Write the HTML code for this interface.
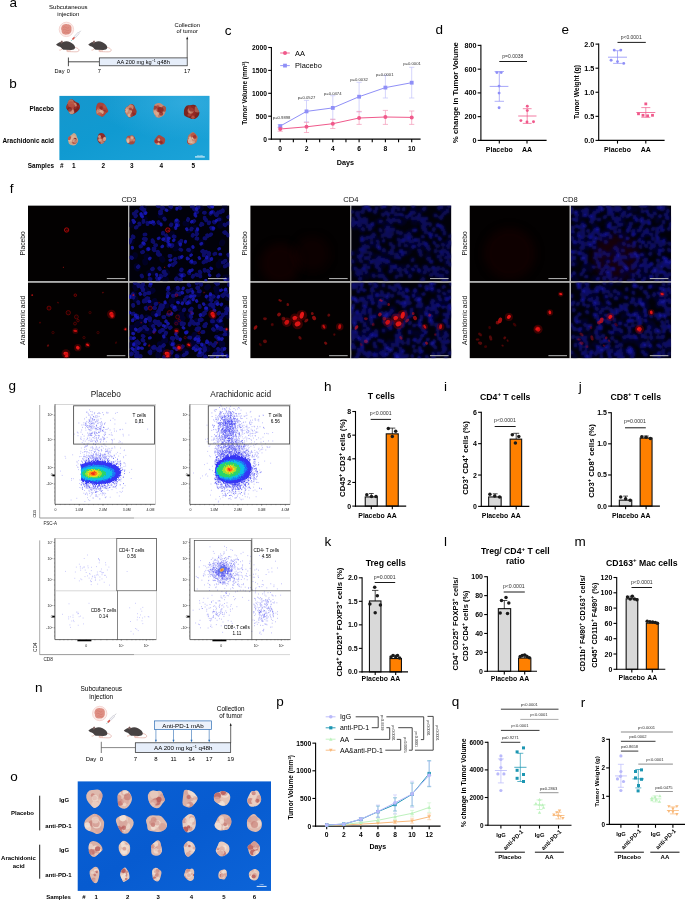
<!DOCTYPE html>
<html><head><meta charset="utf-8"><title>Figure</title>
<style>html,body{margin:0;padding:0;background:#fff;}svg{display:block;}text{font-family:"Liberation Sans",Arial,sans-serif;}</style>
</head><body>
<svg width="685" height="901" viewBox="0 0 685 901">
<rect width="685" height="901" fill="#fff"/>
<text x="9.56" y="6.80" font-size="13.5" text-anchor="start" fill="#000" >a</text>
<text x="68.30" y="8.80" font-size="6" text-anchor="middle" fill="#000" >Subcutaneous</text>
<text x="68.30" y="16.00" font-size="6" text-anchor="middle" fill="#000" >injection</text>
<circle cx="66.40" cy="29.40" r="7.20" fill="#fff8f6" stroke="#e9aaa4" stroke-width="0.45" />
<circle cx="66.40" cy="29.40" r="6.30" fill="none" stroke="#f3cfca" stroke-width="0.35" />
<path d="M61.5 27 C62 24.5 65 23.6 67.5 24.3 C70.5 24.2 72 26.5 71.5 29 C72 32 70 34.6 67 34.5 C64 35.4 61.2 33.3 61.6 30.6 C61 29.4 61 28 61.5 27 Z" fill="#de8f84"/>
<path d="M63 27.5 q1.5 -1.5 3 0 q1.5 1.5 3 0 M63 30 q1.5 -1.5 3 0 q1.5 1.5 3.5 0 M64 32.5 q1.5 -1.2 3 0 q1.2 1 2.4 0" fill="none" stroke="#d07468" stroke-width="0.5"/>
<line x1="71.00" y1="41.00" x2="72.50" y2="39.40" stroke="#3aa7a0" stroke-width="0.5" />
<line x1="72.40" y1="39.50" x2="74.60" y2="37.20" stroke="#d9574f" stroke-width="1.6" />
<line x1="74.60" y1="37.20" x2="78.80" y2="32.80" stroke="#c9c9d2" stroke-width="2.2" />
<line x1="74.80" y1="37.00" x2="78.60" y2="33.00" stroke="#f4f4f8" stroke-width="1.2" />
<line x1="78.80" y1="32.80" x2="80.70" y2="30.80" stroke="#c4c4cc" stroke-width="0.9" />
<g transform="translate(56.10 44.20)">
<path d="M18 3.2 C21.5 3.4 23.6 5.2 22.6 6.8 C21.6 8.2 17 7.4 11 7.4" fill="none" stroke="#dc9b90" stroke-width="0.6"/>
<path d="M6 5 L4.2 5.9 L3.2 5.9 M12 5.6 L10.4 6.6 L14.6 6.6" fill="none" stroke="#e3a79b" stroke-width="0.7"/>
<path d="M0 0.3 C1.2 -0.9 3 -2 4.6 -2.3 C5.6 -2.5 6.4 -2.3 7.2 -2.1 C8.6 -3 11.6 -3.2 14.2 -2 C17.2 -0.6 19.2 1.4 19 3.6 C18.7 5.3 17 5.7 15 5.7 L8.4 5.6 C6.8 5.4 6 4.6 5.4 3.7 C4.6 3.2 3.8 2.7 3.2 2.4 C2 2 0.8 1.4 0 0.3 Z" fill="#474242"/>
<ellipse cx="5.6" cy="-2.3" rx="0.9" ry="1.2" fill="#5a5252" stroke="#d59088" stroke-width="0.3" transform="rotate(20 5.6 -2.3)"/>
</g>
<g transform="translate(88.30 44.20)">
<path d="M18 3.2 C21.5 3.4 23.6 5.2 22.6 6.8 C21.6 8.2 17 7.4 11 7.4" fill="none" stroke="#dc9b90" stroke-width="0.6"/>
<path d="M6 5 L4.2 5.9 L3.2 5.9 M12 5.6 L10.4 6.6 L14.6 6.6" fill="none" stroke="#e3a79b" stroke-width="0.7"/>
<path d="M0 0.3 C1.2 -0.9 3 -2 4.6 -2.3 C5.6 -2.5 6.4 -2.3 7.2 -2.1 C8.6 -3 11.6 -3.2 14.2 -2 C17.2 -0.6 19.2 1.4 19 3.6 C18.7 5.3 17 5.7 15 5.7 L8.4 5.6 C6.8 5.4 6 4.6 5.4 3.7 C4.6 3.2 3.8 2.7 3.2 2.4 C2 2 0.8 1.4 0 0.3 Z" fill="#474242"/>
<ellipse cx="5.6" cy="-2.3" rx="0.9" ry="1.2" fill="#5a5252" stroke="#d59088" stroke-width="0.3" transform="rotate(20 5.6 -2.3)"/>
</g>
<line x1="68.40" y1="57.50" x2="68.40" y2="66.20" stroke="#000" stroke-width="0.7" />
<line x1="68.40" y1="61.80" x2="99.30" y2="61.80" stroke="#000" stroke-width="0.7" />
<rect x="99.30" y="57.90" width="87.90" height="7.90" fill="#e6eefa" stroke="#222" stroke-width="0.7" />
<text x="143.30" y="63.90" font-size="5.6" text-anchor="middle" fill="#000" >AA 200 mg kg<tspan dy="-2" font-size="3.6">−1</tspan><tspan dy="2"> q48h</tspan></text>
<line x1="187.20" y1="57.90" x2="187.20" y2="38.50" stroke="#000" stroke-width="0.6" />
<path d="M187.2 36.5 L186.2 39.3 L188.2 39.3 Z" fill="#111"/>
<text x="187.20" y="26.90" font-size="5.8" text-anchor="middle" fill="#000" >Collection</text>
<text x="187.20" y="33.40" font-size="5.8" text-anchor="middle" fill="#000" >of tumor</text>
<text x="59.50" y="73.20" font-size="5.6" text-anchor="middle" fill="#000" >Day</text>
<text x="68.40" y="73.20" font-size="5.6" text-anchor="middle" fill="#000" >0</text>
<text x="99.30" y="73.20" font-size="5.6" text-anchor="middle" fill="#000" >7</text>
<text x="187.20" y="73.20" font-size="5.6" text-anchor="middle" fill="#000" >17</text>
<text x="9.21" y="88.00" font-size="13.5" text-anchor="start" fill="#000" >b</text>
<defs><filter id="blt" x="-30%" y="-30%" width="160%" height="160%"><feGaussianBlur stdDeviation="0.6"/></filter></defs>
<defs><linearGradient id="bgb" x1="0" y1="0" x2="1" y2="1"><stop offset="0" stop-color="#1697cd"/><stop offset="0.45" stop-color="#109ad1"/><stop offset="1" stop-color="#1ca3d8"/></linearGradient></defs>
<rect x="59.40" y="95.90" width="150.00" height="64.20" fill="url(#bgb)" stroke="none" stroke-width="1" />
<defs><radialGradient id="bgb2" cx="0.85" cy="0.1" r="0.6"><stop offset="0" stop-color="#3db2e2" stop-opacity="0.7"/><stop offset="1" stop-color="#3db2e2" stop-opacity="0"/></radialGradient></defs>
<rect x="59.40" y="95.90" width="150.00" height="64.20" fill="url(#bgb2)" stroke="none" stroke-width="1" />
<clipPath id="t1"><path d="M79.1 109.4 Q77.3 111.5 76.0 112.6 Q74.7 113.7 72.5 114.2 Q70.2 114.6 69.4 113.0 Q68.6 111.3 67.1 109.4 Q65.6 107.5 66.5 105.9 Q67.4 104.4 67.8 102.5 Q68.1 100.6 70.0 99.6 Q71.9 98.6 74.0 100.5 Q76.2 102.4 77.5 102.7 Q78.8 103.1 79.8 105.2 Q80.8 107.3 79.1 109.4 Z"/></clipPath>
<path d="M79.1 109.4 Q77.3 111.5 76.0 112.6 Q74.7 113.7 72.5 114.2 Q70.2 114.6 69.4 113.0 Q68.6 111.3 67.1 109.4 Q65.6 107.5 66.5 105.9 Q67.4 104.4 67.8 102.5 Q68.1 100.6 70.0 99.6 Q71.9 98.6 74.0 100.5 Q76.2 102.4 77.5 102.7 Q78.8 103.1 79.8 105.2 Q80.8 107.3 79.1 109.4 Z" fill="#8e2b25"/>
<g clip-path="url(#t1)"><g filter="url(#blt)">
<circle cx="75.6" cy="105.8" r="3.5" fill="#a3302a" opacity="0.84"/>
<circle cx="67.4" cy="106.1" r="2.6" fill="#dcb298" opacity="0.69"/>
<circle cx="70.3" cy="102.4" r="3.4" fill="#c9866e" opacity="0.72"/>
<circle cx="77.8" cy="104.0" r="1.7" fill="#7c1c1a" opacity="0.95"/>
<circle cx="73.5" cy="105.9" r="3.3" fill="#c9866e" opacity="0.94"/>
<circle cx="66.4" cy="107.0" r="3.2" fill="#8f2622" opacity="0.82"/>
<circle cx="71.2" cy="111.1" r="3.2" fill="#dcb298" opacity="0.75"/>
<circle cx="72.1" cy="106.7" r="3.0" fill="#a3302a" opacity="0.71"/>
<circle cx="71.0" cy="104.3" r="3.1" fill="#b8503f" opacity="0.85"/>
<circle cx="76.7" cy="109.4" r="3.1" fill="#7c1c1a" opacity="0.76"/>
<circle cx="69.6" cy="109.4" r="2.4" fill="#7c1c1a" opacity="0.67"/>
</g></g>
<clipPath id="t2"><path d="M107.6 112.2 Q106.1 112.9 104.6 115.0 Q103.1 117.1 101.5 116.5 Q99.8 115.8 98.1 115.1 Q96.5 114.4 96.3 112.4 Q96.1 110.5 96.0 108.7 Q95.9 107.0 96.8 104.7 Q97.7 102.3 99.9 102.4 Q102.2 102.4 103.4 103.3 Q104.6 104.1 105.3 105.3 Q106.1 106.5 107.5 109.0 Q109.0 111.6 107.6 112.2 Z"/></clipPath>
<path d="M107.6 112.2 Q106.1 112.9 104.6 115.0 Q103.1 117.1 101.5 116.5 Q99.8 115.8 98.1 115.1 Q96.5 114.4 96.3 112.4 Q96.1 110.5 96.0 108.7 Q95.9 107.0 96.8 104.7 Q97.7 102.3 99.9 102.4 Q102.2 102.4 103.4 103.3 Q104.6 104.1 105.3 105.3 Q106.1 106.5 107.5 109.0 Q109.0 111.6 107.6 112.2 Z" fill="#a9423a"/>
<g clip-path="url(#t2)"><g filter="url(#blt)">
<circle cx="99.1" cy="110.2" r="2.0" fill="#dcb298" opacity="0.90"/>
<circle cx="102.5" cy="111.2" r="1.2" fill="#a3302a" opacity="0.68"/>
<circle cx="103.9" cy="112.5" r="2.6" fill="#8f2622" opacity="0.62"/>
<circle cx="105.4" cy="106.3" r="2.3" fill="#b8503f" opacity="0.91"/>
<circle cx="99.0" cy="112.8" r="3.2" fill="#c9866e" opacity="0.93"/>
<circle cx="104.1" cy="113.9" r="2.7" fill="#b8503f" opacity="0.81"/>
<circle cx="101.6" cy="112.1" r="2.2" fill="#dcb298" opacity="0.88"/>
<circle cx="98.4" cy="114.1" r="1.9" fill="#dcb298" opacity="0.84"/>
<circle cx="98.5" cy="108.3" r="1.6" fill="#b8503f" opacity="0.68"/>
<circle cx="101.1" cy="107.9" r="1.7" fill="#8f2622" opacity="0.91"/>
<circle cx="99.6" cy="115.2" r="2.9" fill="#b8503f" opacity="0.77"/>
</g></g>
<clipPath id="t3"><path d="M136.4 113.3 Q135.8 115.2 134.0 115.7 Q132.1 116.2 130.9 117.3 Q129.7 118.3 128.2 116.7 Q126.8 115.2 125.6 113.2 Q124.5 111.2 124.9 109.6 Q125.3 107.9 126.6 107.1 Q127.9 106.2 129.3 104.9 Q130.8 103.5 132.6 104.2 Q134.3 105.0 134.9 106.9 Q135.5 108.9 136.3 110.1 Q137.0 111.4 136.4 113.3 Z"/></clipPath>
<path d="M136.4 113.3 Q135.8 115.2 134.0 115.7 Q132.1 116.2 130.9 117.3 Q129.7 118.3 128.2 116.7 Q126.8 115.2 125.6 113.2 Q124.5 111.2 124.9 109.6 Q125.3 107.9 126.6 107.1 Q127.9 106.2 129.3 104.9 Q130.8 103.5 132.6 104.2 Q134.3 105.0 134.9 106.9 Q135.5 108.9 136.3 110.1 Q137.0 111.4 136.4 113.3 Z" fill="#9c3a30"/>
<g clip-path="url(#t3)"><g filter="url(#blt)">
<circle cx="130.9" cy="107.1" r="2.7" fill="#c9866e" opacity="0.88"/>
<circle cx="130.2" cy="114.9" r="2.5" fill="#dcb298" opacity="0.92"/>
<circle cx="127.0" cy="114.0" r="3.0" fill="#dcb298" opacity="0.60"/>
<circle cx="130.3" cy="111.4" r="1.6" fill="#dcb298" opacity="0.94"/>
<circle cx="127.1" cy="112.6" r="2.0" fill="#c9866e" opacity="0.88"/>
<circle cx="127.5" cy="109.4" r="2.3" fill="#dcb298" opacity="0.91"/>
<circle cx="128.5" cy="106.1" r="3.1" fill="#c9866e" opacity="0.82"/>
<circle cx="133.3" cy="115.4" r="2.9" fill="#8f2622" opacity="0.78"/>
<circle cx="130.3" cy="109.1" r="1.7" fill="#8f2622" opacity="0.60"/>
<circle cx="126.7" cy="111.5" r="1.3" fill="#dcb298" opacity="0.87"/>
<circle cx="129.5" cy="111.8" r="2.0" fill="#c9866e" opacity="0.72"/>
</g></g>
<clipPath id="t4"><path d="M165.2 112.6 Q164.6 114.4 163.5 115.6 Q162.4 116.8 159.5 117.4 Q156.6 118.0 155.5 116.2 Q154.4 114.4 153.7 113.0 Q153.0 111.5 153.3 110.0 Q153.7 108.5 154.0 106.2 Q154.3 103.9 157.2 103.2 Q160.1 102.5 161.8 103.9 Q163.4 105.4 164.9 106.2 Q166.4 106.9 166.1 108.9 Q165.8 110.9 165.2 112.6 Z"/></clipPath>
<path d="M165.2 112.6 Q164.6 114.4 163.5 115.6 Q162.4 116.8 159.5 117.4 Q156.6 118.0 155.5 116.2 Q154.4 114.4 153.7 113.0 Q153.0 111.5 153.3 110.0 Q153.7 108.5 154.0 106.2 Q154.3 103.9 157.2 103.2 Q160.1 102.5 161.8 103.9 Q163.4 105.4 164.9 106.2 Q166.4 106.9 166.1 108.9 Q165.8 110.9 165.2 112.6 Z" fill="#c88a73"/>
<g clip-path="url(#t4)"><g filter="url(#blt)">
<circle cx="158.9" cy="104.9" r="1.5" fill="#c9866e" opacity="0.79"/>
<circle cx="157.7" cy="107.1" r="1.9" fill="#a3302a" opacity="0.66"/>
<circle cx="164.9" cy="108.6" r="3.2" fill="#8f2622" opacity="0.55"/>
<circle cx="158.3" cy="115.3" r="3.2" fill="#c9866e" opacity="0.75"/>
<circle cx="155.7" cy="112.8" r="2.3" fill="#dcb298" opacity="0.64"/>
<circle cx="159.3" cy="115.9" r="1.4" fill="#7c1c1a" opacity="0.80"/>
<circle cx="158.8" cy="114.5" r="2.9" fill="#dcb298" opacity="0.61"/>
<circle cx="159.2" cy="109.7" r="2.7" fill="#a3302a" opacity="0.73"/>
<circle cx="161.1" cy="113.7" r="2.0" fill="#8f2622" opacity="0.77"/>
<circle cx="160.7" cy="109.8" r="2.9" fill="#7c1c1a" opacity="0.66"/>
<circle cx="154.5" cy="107.7" r="2.1" fill="#7c1c1a" opacity="0.62"/>
</g></g>
<clipPath id="t5"><path d="M199.0 115.0 Q198.0 117.3 195.7 118.4 Q193.4 119.5 191.6 118.9 Q189.8 118.4 186.8 117.1 Q183.8 115.8 183.9 113.9 Q183.9 111.9 184.0 110.4 Q184.1 109.0 185.2 107.2 Q186.3 105.4 188.1 105.3 Q190.0 105.3 192.8 104.8 Q195.7 104.3 196.7 106.8 Q197.7 109.2 198.9 111.0 Q200.0 112.7 199.0 115.0 Z"/></clipPath>
<path d="M199.0 115.0 Q198.0 117.3 195.7 118.4 Q193.4 119.5 191.6 118.9 Q189.8 118.4 186.8 117.1 Q183.8 115.8 183.9 113.9 Q183.9 111.9 184.0 110.4 Q184.1 109.0 185.2 107.2 Q186.3 105.4 188.1 105.3 Q190.0 105.3 192.8 104.8 Q195.7 104.3 196.7 106.8 Q197.7 109.2 198.9 111.0 Q200.0 112.7 199.0 115.0 Z" fill="#7a2420"/>
<g clip-path="url(#t5)"><g filter="url(#blt)">
<circle cx="191.5" cy="110.0" r="2.3" fill="#8f2622" opacity="0.60"/>
<circle cx="191.2" cy="111.5" r="3.4" fill="#a3302a" opacity="0.62"/>
<circle cx="192.6" cy="113.9" r="2.5" fill="#a3302a" opacity="0.82"/>
<circle cx="193.0" cy="117.2" r="1.7" fill="#b8503f" opacity="0.94"/>
<circle cx="190.6" cy="111.8" r="1.7" fill="#dcb298" opacity="0.61"/>
<circle cx="193.9" cy="112.6" r="2.6" fill="#8f2622" opacity="0.79"/>
<circle cx="190.7" cy="110.6" r="3.1" fill="#c9866e" opacity="0.74"/>
<circle cx="189.2" cy="114.9" r="1.7" fill="#b8503f" opacity="0.65"/>
<circle cx="197.5" cy="109.3" r="3.2" fill="#c9866e" opacity="0.56"/>
<circle cx="191.8" cy="108.5" r="3.1" fill="#8f2622" opacity="0.73"/>
<circle cx="189.6" cy="107.2" r="1.6" fill="#a3302a" opacity="0.65"/>
</g></g>
<clipPath id="t6"><path d="M77.8 142.1 Q76.9 143.9 75.9 144.8 Q74.8 145.6 73.5 145.6 Q72.2 145.6 70.4 144.8 Q68.6 144.0 68.5 142.5 Q68.4 141.1 68.0 139.3 Q67.5 137.5 69.2 136.4 Q70.9 135.3 72.4 133.9 Q73.8 132.4 75.1 133.4 Q76.3 134.3 76.6 135.7 Q76.9 137.1 77.8 138.7 Q78.6 140.3 77.8 142.1 Z"/></clipPath>
<path d="M77.8 142.1 Q76.9 143.9 75.9 144.8 Q74.8 145.6 73.5 145.6 Q72.2 145.6 70.4 144.8 Q68.6 144.0 68.5 142.5 Q68.4 141.1 68.0 139.3 Q67.5 137.5 69.2 136.4 Q70.9 135.3 72.4 133.9 Q73.8 132.4 75.1 133.4 Q76.3 134.3 76.6 135.7 Q76.9 137.1 77.8 138.7 Q78.6 140.3 77.8 142.1 Z" fill="#cba58a"/>
<g clip-path="url(#t6)"><g filter="url(#blt)">
<circle cx="72.6" cy="139.5" r="2.5" fill="#dcb298" opacity="0.79"/>
<circle cx="73.6" cy="137.2" r="1.9" fill="#dcb298" opacity="0.81"/>
<circle cx="69.7" cy="139.6" r="2.1" fill="#e2c2a8" opacity="0.71"/>
<circle cx="69.0" cy="138.0" r="2.2" fill="#a3302a" opacity="0.68"/>
<circle cx="73.5" cy="141.8" r="1.9" fill="#a3302a" opacity="0.59"/>
<circle cx="74.7" cy="141.0" r="2.6" fill="#a3302a" opacity="0.89"/>
<circle cx="74.8" cy="139.6" r="1.8" fill="#7c1c1a" opacity="0.94"/>
<circle cx="72.6" cy="140.1" r="2.3" fill="#dcb298" opacity="0.66"/>
<circle cx="75.1" cy="140.9" r="2.2" fill="#dcb298" opacity="0.60"/>
</g></g>
<clipPath id="t7"><path d="M105.6 140.4 Q104.6 141.6 104.1 142.4 Q103.6 143.1 102.2 143.7 Q100.8 144.3 99.5 143.2 Q98.2 142.0 97.7 140.7 Q97.1 139.4 97.4 138.2 Q97.7 137.0 98.1 135.4 Q98.6 133.9 99.9 133.3 Q101.2 132.8 102.5 133.2 Q103.9 133.6 104.7 134.9 Q105.6 136.3 106.0 137.8 Q106.5 139.3 105.6 140.4 Z"/></clipPath>
<path d="M105.6 140.4 Q104.6 141.6 104.1 142.4 Q103.6 143.1 102.2 143.7 Q100.8 144.3 99.5 143.2 Q98.2 142.0 97.7 140.7 Q97.1 139.4 97.4 138.2 Q97.7 137.0 98.1 135.4 Q98.6 133.9 99.9 133.3 Q101.2 132.8 102.5 133.2 Q103.9 133.6 104.7 134.9 Q105.6 136.3 106.0 137.8 Q106.5 139.3 105.6 140.4 Z" fill="#8f2a26"/>
<g clip-path="url(#t7)"><g filter="url(#blt)">
<circle cx="101.9" cy="138.4" r="2.0" fill="#7c1c1a" opacity="0.81"/>
<circle cx="102.5" cy="143.1" r="2.1" fill="#dcb298" opacity="0.60"/>
<circle cx="100.9" cy="139.1" r="2.0" fill="#b8503f" opacity="0.77"/>
<circle cx="105.3" cy="138.0" r="1.5" fill="#c9866e" opacity="0.58"/>
<circle cx="99.5" cy="136.5" r="1.5" fill="#e2c2a8" opacity="0.70"/>
<circle cx="104.9" cy="139.3" r="2.2" fill="#dcb298" opacity="0.82"/>
<circle cx="100.6" cy="140.4" r="1.8" fill="#dcb298" opacity="0.60"/>
<circle cx="102.0" cy="140.8" r="0.9" fill="#c9866e" opacity="0.88"/>
<circle cx="99.6" cy="139.8" r="1.8" fill="#dcb298" opacity="0.57"/>
</g></g>
<clipPath id="t8"><path d="M134.9 142.3 Q134.3 144.0 133.1 144.2 Q132.0 144.3 130.8 144.5 Q129.7 144.6 128.5 143.7 Q127.3 142.9 126.8 141.9 Q126.3 140.9 126.2 139.7 Q126.1 138.5 127.1 137.1 Q128.0 135.6 128.9 135.7 Q129.8 135.7 131.3 135.4 Q132.8 135.1 134.1 136.6 Q135.3 138.2 135.4 139.4 Q135.4 140.5 134.9 142.3 Z"/></clipPath>
<path d="M134.9 142.3 Q134.3 144.0 133.1 144.2 Q132.0 144.3 130.8 144.5 Q129.7 144.6 128.5 143.7 Q127.3 142.9 126.8 141.9 Q126.3 140.9 126.2 139.7 Q126.1 138.5 127.1 137.1 Q128.0 135.6 128.9 135.7 Q129.8 135.7 131.3 135.4 Q132.8 135.1 134.1 136.6 Q135.3 138.2 135.4 139.4 Q135.4 140.5 134.9 142.3 Z" fill="#a44a3f"/>
<g clip-path="url(#t8)"><g filter="url(#blt)">
<circle cx="131.9" cy="137.0" r="2.0" fill="#c9866e" opacity="0.65"/>
<circle cx="131.9" cy="138.1" r="1.8" fill="#dcb298" opacity="0.91"/>
<circle cx="128.4" cy="137.7" r="2.1" fill="#b8503f" opacity="0.87"/>
<circle cx="133.6" cy="139.9" r="1.5" fill="#c9866e" opacity="0.84"/>
<circle cx="128.7" cy="139.8" r="1.6" fill="#c9866e" opacity="0.65"/>
<circle cx="127.6" cy="141.0" r="2.2" fill="#dcb298" opacity="0.78"/>
<circle cx="127.8" cy="139.3" r="1.9" fill="#dcb298" opacity="0.60"/>
<circle cx="127.7" cy="141.5" r="1.4" fill="#e2c2a8" opacity="0.84"/>
<circle cx="130.8" cy="140.0" r="1.6" fill="#c9866e" opacity="0.83"/>
</g></g>
<clipPath id="t9"><path d="M164.8 142.2 Q164.3 144.1 162.8 144.3 Q161.3 144.4 159.5 144.8 Q157.8 145.2 156.7 144.6 Q155.5 144.0 154.6 142.6 Q153.8 141.2 154.4 140.0 Q155.1 138.8 156.1 137.4 Q157.2 136.0 158.2 135.3 Q159.1 134.6 160.6 135.6 Q162.2 136.6 163.5 137.3 Q164.8 138.0 165.1 139.2 Q165.4 140.3 164.8 142.2 Z"/></clipPath>
<path d="M164.8 142.2 Q164.3 144.1 162.8 144.3 Q161.3 144.4 159.5 144.8 Q157.8 145.2 156.7 144.6 Q155.5 144.0 154.6 142.6 Q153.8 141.2 154.4 140.0 Q155.1 138.8 156.1 137.4 Q157.2 136.0 158.2 135.3 Q159.1 134.6 160.6 135.6 Q162.2 136.6 163.5 137.3 Q164.8 138.0 165.1 139.2 Q165.4 140.3 164.8 142.2 Z" fill="#a8483e"/>
<g clip-path="url(#t9)"><g filter="url(#blt)">
<circle cx="161.4" cy="143.0" r="1.8" fill="#a3302a" opacity="0.56"/>
<circle cx="159.0" cy="144.1" r="1.6" fill="#dcb298" opacity="0.95"/>
<circle cx="156.5" cy="141.4" r="1.8" fill="#a3302a" opacity="0.80"/>
<circle cx="156.8" cy="143.2" r="1.7" fill="#e2c2a8" opacity="0.63"/>
<circle cx="158.1" cy="140.6" r="1.7" fill="#8f2622" opacity="0.59"/>
<circle cx="160.0" cy="139.5" r="1.1" fill="#8f2622" opacity="0.61"/>
<circle cx="156.5" cy="142.0" r="1.6" fill="#a3302a" opacity="0.94"/>
<circle cx="160.8" cy="142.2" r="1.7" fill="#8f2622" opacity="0.72"/>
<circle cx="158.9" cy="139.7" r="1.5" fill="#e2c2a8" opacity="0.73"/>
</g></g>
<clipPath id="t10"><path d="M196.7 141.4 Q196.3 142.7 194.9 143.3 Q193.5 144.0 191.9 144.7 Q190.4 145.3 188.7 144.4 Q187.0 143.5 187.2 141.8 Q187.3 140.2 187.6 138.2 Q187.9 136.1 188.7 135.1 Q189.5 134.2 191.3 132.8 Q193.1 131.3 194.4 132.7 Q195.6 134.1 196.9 135.4 Q198.1 136.6 197.6 138.3 Q197.2 140.1 196.7 141.4 Z"/></clipPath>
<path d="M196.7 141.4 Q196.3 142.7 194.9 143.3 Q193.5 144.0 191.9 144.7 Q190.4 145.3 188.7 144.4 Q187.0 143.5 187.2 141.8 Q187.3 140.2 187.6 138.2 Q187.9 136.1 188.7 135.1 Q189.5 134.2 191.3 132.8 Q193.1 131.3 194.4 132.7 Q195.6 134.1 196.9 135.4 Q198.1 136.6 197.6 138.3 Q197.2 140.1 196.7 141.4 Z" fill="#b9745f"/>
<g clip-path="url(#t10)"><g filter="url(#blt)">
<circle cx="192.9" cy="142.1" r="2.0" fill="#dcb298" opacity="0.73"/>
<circle cx="193.5" cy="135.7" r="2.7" fill="#b8503f" opacity="0.81"/>
<circle cx="188.8" cy="141.7" r="2.0" fill="#a3302a" opacity="0.93"/>
<circle cx="193.9" cy="139.0" r="2.2" fill="#c9866e" opacity="0.86"/>
<circle cx="192.8" cy="138.5" r="1.3" fill="#e2c2a8" opacity="0.89"/>
<circle cx="194.7" cy="136.9" r="1.9" fill="#a3302a" opacity="0.89"/>
<circle cx="190.1" cy="137.8" r="1.4" fill="#dcb298" opacity="0.93"/>
<circle cx="191.5" cy="140.4" r="1.4" fill="#8f2622" opacity="0.80"/>
<circle cx="190.3" cy="141.0" r="2.5" fill="#e2c2a8" opacity="0.85"/>
</g></g>
<line x1="195.00" y1="156.90" x2="204.80" y2="156.90" stroke="#d9eef8" stroke-width="1.2" />
<text x="200.00" y="155.60" font-size="1.8" text-anchor="middle" fill="#d9eef8" >10 mm</text>
<text x="54.00" y="110.60" font-size="6.4" text-anchor="end" fill="#000" font-weight="700" >Placebo</text>
<text x="54.00" y="143.00" font-size="6.4" text-anchor="end" fill="#000" font-weight="700" >Arachidonic acid</text>
<text x="54.00" y="168.20" font-size="6.4" text-anchor="end" fill="#000" font-weight="700" >Samples</text>
<text x="61.70" y="168.40" font-size="6.4" text-anchor="middle" fill="#000" font-weight="700" >#</text>
<text x="73.90" y="168.40" font-size="6.4" text-anchor="middle" fill="#000" font-weight="700" >1</text>
<text x="103.40" y="168.40" font-size="6.4" text-anchor="middle" fill="#000" font-weight="700" >2</text>
<text x="131.70" y="168.40" font-size="6.4" text-anchor="middle" fill="#000" font-weight="700" >3</text>
<text x="161.20" y="168.40" font-size="6.4" text-anchor="middle" fill="#000" font-weight="700" >4</text>
<text x="193.30" y="168.40" font-size="6.4" text-anchor="middle" fill="#000" font-weight="700" >5</text>
<text x="224.76" y="35.00" font-size="13.5" text-anchor="start" fill="#000" >c</text>
<line x1="271.40" y1="46.95" x2="271.40" y2="139.65" stroke="#000" stroke-width="1.1" />
<line x1="268.20" y1="139.10" x2="271.40" y2="139.10" stroke="#000" stroke-width="1.1" />
<text x="267.00" y="141.51" font-size="6.7" text-anchor="end" fill="#000" font-weight="700" >0</text>
<line x1="268.20" y1="116.20" x2="271.40" y2="116.20" stroke="#000" stroke-width="1.1" />
<text x="267.00" y="118.61" font-size="6.7" text-anchor="end" fill="#000" font-weight="700" >500</text>
<line x1="268.20" y1="93.30" x2="271.40" y2="93.30" stroke="#000" stroke-width="1.1" />
<text x="267.00" y="95.71" font-size="6.7" text-anchor="end" fill="#000" font-weight="700" >1000</text>
<line x1="268.20" y1="70.40" x2="271.40" y2="70.40" stroke="#000" stroke-width="1.1" />
<text x="267.00" y="72.81" font-size="6.7" text-anchor="end" fill="#000" font-weight="700" >1500</text>
<line x1="268.20" y1="47.50" x2="271.40" y2="47.50" stroke="#000" stroke-width="1.1" />
<text x="267.00" y="49.91" font-size="6.7" text-anchor="end" fill="#000" font-weight="700" >2000</text>
<line x1="270.85" y1="139.10" x2="420.60" y2="139.10" stroke="#000" stroke-width="1.1" />
<line x1="280.20" y1="139.10" x2="280.20" y2="142.30" stroke="#000" stroke-width="1.1" />
<text x="280.20" y="151.10" font-size="6.7" text-anchor="middle" fill="#000" font-weight="700" >0</text>
<line x1="293.35" y1="139.10" x2="293.35" y2="142.30" stroke="#000" stroke-width="1.1" />
<line x1="306.50" y1="139.10" x2="306.50" y2="142.30" stroke="#000" stroke-width="1.1" />
<text x="306.50" y="151.10" font-size="6.7" text-anchor="middle" fill="#000" font-weight="700" >2</text>
<line x1="319.65" y1="139.10" x2="319.65" y2="142.30" stroke="#000" stroke-width="1.1" />
<line x1="332.80" y1="139.10" x2="332.80" y2="142.30" stroke="#000" stroke-width="1.1" />
<text x="332.80" y="151.10" font-size="6.7" text-anchor="middle" fill="#000" font-weight="700" >4</text>
<line x1="345.95" y1="139.10" x2="345.95" y2="142.30" stroke="#000" stroke-width="1.1" />
<line x1="359.10" y1="139.10" x2="359.10" y2="142.30" stroke="#000" stroke-width="1.1" />
<text x="359.10" y="151.10" font-size="6.7" text-anchor="middle" fill="#000" font-weight="700" >6</text>
<line x1="372.25" y1="139.10" x2="372.25" y2="142.30" stroke="#000" stroke-width="1.1" />
<line x1="385.40" y1="139.10" x2="385.40" y2="142.30" stroke="#000" stroke-width="1.1" />
<text x="385.40" y="151.10" font-size="6.7" text-anchor="middle" fill="#000" font-weight="700" >8</text>
<line x1="398.55" y1="139.10" x2="398.55" y2="142.30" stroke="#000" stroke-width="1.1" />
<line x1="411.70" y1="139.10" x2="411.70" y2="142.30" stroke="#000" stroke-width="1.1" />
<text x="411.70" y="151.10" font-size="6.7" text-anchor="middle" fill="#000" font-weight="700" >10</text>
<text x="345.40" y="165.20" font-size="7.2" text-anchor="middle" fill="#000" font-weight="700" >Days</text>
<text x="247.30" y="93.00" font-size="6.4" text-anchor="middle" fill="#000" font-weight="700" transform="rotate(-90 247.30 93.00)" >Tumor Volume (mm<tspan dy="-2.4" font-size="4.2">3</tspan><tspan dy="2.4">)</tspan></text>
<line x1="280.20" y1="124.60" x2="280.20" y2="127.80" stroke="#c3c3fb" stroke-width="0.7" />
<line x1="277.60" y1="124.60" x2="282.80" y2="124.60" stroke="#c3c3fb" stroke-width="0.7" />
<line x1="277.60" y1="127.80" x2="282.80" y2="127.80" stroke="#c3c3fb" stroke-width="0.7" />
<line x1="306.50" y1="100.40" x2="306.50" y2="122.00" stroke="#c3c3fb" stroke-width="0.7" />
<line x1="303.90" y1="100.40" x2="309.10" y2="100.40" stroke="#c3c3fb" stroke-width="0.7" />
<line x1="303.90" y1="122.00" x2="309.10" y2="122.00" stroke="#c3c3fb" stroke-width="0.7" />
<line x1="332.80" y1="95.70" x2="332.80" y2="119.30" stroke="#c3c3fb" stroke-width="0.7" />
<line x1="330.20" y1="95.70" x2="335.40" y2="95.70" stroke="#c3c3fb" stroke-width="0.7" />
<line x1="330.20" y1="119.30" x2="335.40" y2="119.30" stroke="#c3c3fb" stroke-width="0.7" />
<line x1="359.10" y1="82.30" x2="359.10" y2="112.00" stroke="#c3c3fb" stroke-width="0.7" />
<line x1="356.50" y1="82.30" x2="361.70" y2="82.30" stroke="#c3c3fb" stroke-width="0.7" />
<line x1="356.50" y1="112.00" x2="361.70" y2="112.00" stroke="#c3c3fb" stroke-width="0.7" />
<line x1="385.40" y1="75.30" x2="385.40" y2="98.00" stroke="#c3c3fb" stroke-width="0.7" />
<line x1="382.80" y1="75.30" x2="388.00" y2="75.30" stroke="#c3c3fb" stroke-width="0.7" />
<line x1="382.80" y1="98.00" x2="388.00" y2="98.00" stroke="#c3c3fb" stroke-width="0.7" />
<line x1="411.70" y1="67.30" x2="411.70" y2="98.00" stroke="#c3c3fb" stroke-width="0.7" />
<line x1="409.10" y1="67.30" x2="414.30" y2="67.30" stroke="#c3c3fb" stroke-width="0.7" />
<line x1="409.10" y1="98.00" x2="414.30" y2="98.00" stroke="#c3c3fb" stroke-width="0.7" />
<line x1="280.20" y1="127.20" x2="280.20" y2="131.30" stroke="#f59ab8" stroke-width="0.7" />
<line x1="277.60" y1="127.20" x2="282.80" y2="127.20" stroke="#f59ab8" stroke-width="0.7" />
<line x1="277.60" y1="131.30" x2="282.80" y2="131.30" stroke="#f59ab8" stroke-width="0.7" />
<line x1="306.50" y1="122.30" x2="306.50" y2="132.50" stroke="#f59ab8" stroke-width="0.7" />
<line x1="303.90" y1="122.30" x2="309.10" y2="122.30" stroke="#f59ab8" stroke-width="0.7" />
<line x1="303.90" y1="132.50" x2="309.10" y2="132.50" stroke="#f59ab8" stroke-width="0.7" />
<line x1="332.80" y1="119.30" x2="332.80" y2="128.50" stroke="#f59ab8" stroke-width="0.7" />
<line x1="330.20" y1="119.30" x2="335.40" y2="119.30" stroke="#f59ab8" stroke-width="0.7" />
<line x1="330.20" y1="128.50" x2="335.40" y2="128.50" stroke="#f59ab8" stroke-width="0.7" />
<line x1="359.10" y1="111.40" x2="359.10" y2="124.40" stroke="#f59ab8" stroke-width="0.7" />
<line x1="356.50" y1="111.40" x2="361.70" y2="111.40" stroke="#f59ab8" stroke-width="0.7" />
<line x1="356.50" y1="124.40" x2="361.70" y2="124.40" stroke="#f59ab8" stroke-width="0.7" />
<line x1="385.40" y1="110.40" x2="385.40" y2="124.40" stroke="#f59ab8" stroke-width="0.7" />
<line x1="382.80" y1="110.40" x2="388.00" y2="110.40" stroke="#f59ab8" stroke-width="0.7" />
<line x1="382.80" y1="124.40" x2="388.00" y2="124.40" stroke="#f59ab8" stroke-width="0.7" />
<line x1="411.70" y1="111.00" x2="411.70" y2="124.40" stroke="#f59ab8" stroke-width="0.7" />
<line x1="409.10" y1="111.00" x2="414.30" y2="111.00" stroke="#f59ab8" stroke-width="0.7" />
<line x1="409.10" y1="124.40" x2="414.30" y2="124.40" stroke="#f59ab8" stroke-width="0.7" />
<polyline fill="none" stroke="#8f8ff7" stroke-width="1" points="280.2,126.1 306.5,111.4 332.8,107.9 359.1,96.7 385.4,87.6 411.7,82.7"/>
<polyline fill="none" stroke="#f0598b" stroke-width="1" points="280.2,129.0 306.5,126.8 332.8,123.7 359.1,118.0 385.4,117.0 411.7,117.4"/>
<rect x="278.30" y="124.20" width="3.80" height="3.80" fill="#8f8ff7" stroke="none" stroke-width="1" />
<rect x="304.60" y="109.50" width="3.80" height="3.80" fill="#8f8ff7" stroke="none" stroke-width="1" />
<rect x="330.90" y="106.00" width="3.80" height="3.80" fill="#8f8ff7" stroke="none" stroke-width="1" />
<rect x="357.20" y="94.80" width="3.80" height="3.80" fill="#8f8ff7" stroke="none" stroke-width="1" />
<rect x="383.50" y="85.70" width="3.80" height="3.80" fill="#8f8ff7" stroke="none" stroke-width="1" />
<rect x="409.80" y="80.80" width="3.80" height="3.80" fill="#8f8ff7" stroke="none" stroke-width="1" />
<circle cx="280.20" cy="129.00" r="2.00" fill="#f0598b" stroke="none" stroke-width="0" />
<circle cx="306.50" cy="126.80" r="2.00" fill="#f0598b" stroke="none" stroke-width="0" />
<circle cx="332.80" cy="123.70" r="2.00" fill="#f0598b" stroke="none" stroke-width="0" />
<circle cx="359.10" cy="118.00" r="2.00" fill="#f0598b" stroke="none" stroke-width="0" />
<circle cx="385.40" cy="117.00" r="2.00" fill="#f0598b" stroke="none" stroke-width="0" />
<circle cx="411.70" cy="117.40" r="2.00" fill="#f0598b" stroke="none" stroke-width="0" />
<text x="281.60" y="119.20" font-size="4.2" text-anchor="middle" fill="#333" >p=0.9898</text>
<text x="306.50" y="98.60" font-size="4.2" text-anchor="middle" fill="#333" >p=0.0527</text>
<text x="332.70" y="95.20" font-size="4.2" text-anchor="middle" fill="#333" >p=0.0474</text>
<text x="359.00" y="81.10" font-size="4.2" text-anchor="middle" fill="#333" >p=0.0032</text>
<text x="384.70" y="75.50" font-size="4.2" text-anchor="middle" fill="#333" >p=0.0001</text>
<text x="412.00" y="65.30" font-size="4.2" text-anchor="middle" fill="#333" >p=0.0001</text>
<line x1="280.20" y1="53.00" x2="289.80" y2="53.00" stroke="#f0598b" stroke-width="0.9" />
<circle cx="285.00" cy="53.00" r="2.00" fill="#f0598b" stroke="none" stroke-width="0" />
<text x="295.10" y="55.50" font-size="7.4" text-anchor="start" fill="#000" >AA</text>
<line x1="280.20" y1="65.60" x2="289.80" y2="65.60" stroke="#8f8ff7" stroke-width="0.9" />
<rect x="283.10" y="63.70" width="3.80" height="3.80" fill="#8f8ff7" stroke="none" stroke-width="1" />
<text x="295.10" y="68.10" font-size="7.4" text-anchor="start" fill="#000" >Placebo</text>
<text x="435.53" y="34.10" font-size="13.5" text-anchor="start" fill="#000" >d</text>
<line x1="480.90" y1="44.85" x2="480.90" y2="140.95" stroke="#000" stroke-width="1.1" />
<line x1="477.70" y1="140.40" x2="480.90" y2="140.40" stroke="#000" stroke-width="1.1" />
<text x="476.50" y="142.99" font-size="7.2" text-anchor="end" fill="#000" font-weight="700" >0</text>
<line x1="477.70" y1="116.65" x2="480.90" y2="116.65" stroke="#000" stroke-width="1.1" />
<text x="476.50" y="119.24" font-size="7.2" text-anchor="end" fill="#000" font-weight="700" >200</text>
<line x1="477.70" y1="92.90" x2="480.90" y2="92.90" stroke="#000" stroke-width="1.1" />
<text x="476.50" y="95.49" font-size="7.2" text-anchor="end" fill="#000" font-weight="700" >400</text>
<line x1="477.70" y1="69.15" x2="480.90" y2="69.15" stroke="#000" stroke-width="1.1" />
<text x="476.50" y="71.74" font-size="7.2" text-anchor="end" fill="#000" font-weight="700" >600</text>
<line x1="477.70" y1="45.40" x2="480.90" y2="45.40" stroke="#000" stroke-width="1.1" />
<text x="476.50" y="47.99" font-size="7.2" text-anchor="end" fill="#000" font-weight="700" >800</text>
<line x1="480.35" y1="140.40" x2="546.60" y2="140.40" stroke="#000" stroke-width="1.1" />
<line x1="499.30" y1="140.40" x2="499.30" y2="143.60" stroke="#000" stroke-width="1.1" />
<text x="499.30" y="151.80" font-size="7" text-anchor="middle" fill="#000" font-weight="700" >Placebo</text>
<line x1="527.00" y1="140.40" x2="527.00" y2="143.60" stroke="#000" stroke-width="1.1" />
<text x="527.00" y="151.80" font-size="7" text-anchor="middle" fill="#000" font-weight="700" >AA</text>
<text x="458.00" y="92.60" font-size="7.8" text-anchor="middle" fill="#000" font-weight="700" transform="rotate(-90 458.00 92.60)" >% change in Tumor Volume</text>
<text x="512.80" y="57.60" font-size="5" text-anchor="middle" fill="#333" >p=0.0038</text>
<line x1="499.30" y1="61.50" x2="527.00" y2="61.50" stroke="#000" stroke-width="0.9" />
<line x1="499.30" y1="71.50" x2="499.30" y2="101.30" stroke="#8f8ff7" stroke-width="0.7" />
<line x1="494.60" y1="71.50" x2="504.00" y2="71.50" stroke="#8f8ff7" stroke-width="0.7" />
<line x1="494.60" y1="101.30" x2="504.00" y2="101.30" stroke="#8f8ff7" stroke-width="0.7" />
<line x1="489.70" y1="86.40" x2="508.40" y2="86.40" stroke="#8f8ff7" stroke-width="0.8" />
<circle cx="496.90" cy="72.60" r="1.45" fill="#8f8ff7" stroke="none" stroke-width="0" />
<circle cx="501.20" cy="72.60" r="1.45" fill="#8f8ff7" stroke="none" stroke-width="0" />
<circle cx="499.10" cy="86.10" r="1.45" fill="#8f8ff7" stroke="none" stroke-width="0" />
<circle cx="499.10" cy="93.10" r="1.45" fill="#8f8ff7" stroke="none" stroke-width="0" />
<circle cx="499.10" cy="107.80" r="1.45" fill="#8f8ff7" stroke="none" stroke-width="0" />
<line x1="527.20" y1="108.70" x2="527.20" y2="123.40" stroke="#f0598b" stroke-width="0.7" />
<line x1="522.80" y1="108.70" x2="531.60" y2="108.70" stroke="#f0598b" stroke-width="0.7" />
<line x1="522.80" y1="123.40" x2="531.60" y2="123.40" stroke="#f0598b" stroke-width="0.7" />
<line x1="518.20" y1="116.00" x2="536.50" y2="116.00" stroke="#f0598b" stroke-width="0.8" />
<circle cx="527.30" cy="106.20" r="1.45" fill="#f0598b" stroke="none" stroke-width="0" />
<circle cx="527.30" cy="110.60" r="1.45" fill="#f0598b" stroke="none" stroke-width="0" />
<circle cx="520.90" cy="120.60" r="1.45" fill="#f0598b" stroke="none" stroke-width="0" />
<circle cx="527.00" cy="122.00" r="1.45" fill="#f0598b" stroke="none" stroke-width="0" />
<circle cx="533.50" cy="121.80" r="1.45" fill="#f0598b" stroke="none" stroke-width="0" />
<text x="561.56" y="34.30" font-size="13.5" text-anchor="start" fill="#000" >e</text>
<line x1="598.70" y1="43.55" x2="598.70" y2="140.95" stroke="#000" stroke-width="1.1" />
<line x1="595.50" y1="140.40" x2="598.70" y2="140.40" stroke="#000" stroke-width="1.1" />
<text x="594.30" y="142.99" font-size="7.2" text-anchor="end" fill="#000" font-weight="700" >0.0</text>
<line x1="595.50" y1="116.33" x2="598.70" y2="116.33" stroke="#000" stroke-width="1.1" />
<text x="594.30" y="118.92" font-size="7.2" text-anchor="end" fill="#000" font-weight="700" >0.5</text>
<line x1="595.50" y1="92.26" x2="598.70" y2="92.26" stroke="#000" stroke-width="1.1" />
<text x="594.30" y="94.85" font-size="7.2" text-anchor="end" fill="#000" font-weight="700" >1.0</text>
<line x1="595.50" y1="68.19" x2="598.70" y2="68.19" stroke="#000" stroke-width="1.1" />
<text x="594.30" y="70.78" font-size="7.2" text-anchor="end" fill="#000" font-weight="700" >1.5</text>
<line x1="595.50" y1="44.12" x2="598.70" y2="44.12" stroke="#000" stroke-width="1.1" />
<text x="594.30" y="46.71" font-size="7.2" text-anchor="end" fill="#000" font-weight="700" >2.0</text>
<line x1="598.15" y1="140.40" x2="664.60" y2="140.40" stroke="#000" stroke-width="1.1" />
<line x1="617.50" y1="140.40" x2="617.50" y2="143.60" stroke="#000" stroke-width="1.1" />
<text x="617.50" y="151.80" font-size="7" text-anchor="middle" fill="#000" font-weight="700" >Placebo</text>
<line x1="645.80" y1="140.40" x2="645.80" y2="143.60" stroke="#000" stroke-width="1.1" />
<text x="645.80" y="151.80" font-size="7" text-anchor="middle" fill="#000" font-weight="700" >AA</text>
<text x="579.30" y="92.10" font-size="6.6" text-anchor="middle" fill="#000" font-weight="700" transform="rotate(-90 579.30 92.10)" >Tumor Weight (g)</text>
<text x="631.20" y="38.70" font-size="5" text-anchor="middle" fill="#333" >p&lt;0.0001</text>
<line x1="617.50" y1="42.40" x2="645.80" y2="42.40" stroke="#000" stroke-width="0.9" />
<line x1="617.50" y1="50.70" x2="617.50" y2="63.40" stroke="#8f8ff7" stroke-width="0.7" />
<line x1="613.10" y1="50.70" x2="621.90" y2="50.70" stroke="#8f8ff7" stroke-width="0.7" />
<line x1="613.10" y1="63.40" x2="621.90" y2="63.40" stroke="#8f8ff7" stroke-width="0.7" />
<line x1="608.00" y1="57.20" x2="627.00" y2="57.20" stroke="#8f8ff7" stroke-width="0.8" />
<circle cx="614.20" cy="50.10" r="1.45" fill="#8f8ff7" stroke="none" stroke-width="0" />
<circle cx="620.80" cy="50.10" r="1.45" fill="#8f8ff7" stroke="none" stroke-width="0" />
<circle cx="611.10" cy="60.30" r="1.45" fill="#8f8ff7" stroke="none" stroke-width="0" />
<circle cx="617.50" cy="61.60" r="1.45" fill="#8f8ff7" stroke="none" stroke-width="0" />
<circle cx="623.70" cy="63.40" r="1.45" fill="#8f8ff7" stroke="none" stroke-width="0" />
<line x1="645.80" y1="107.60" x2="645.80" y2="117.30" stroke="#f0598b" stroke-width="0.7" />
<line x1="641.30" y1="107.60" x2="650.30" y2="107.60" stroke="#f0598b" stroke-width="0.7" />
<line x1="641.30" y1="117.30" x2="650.30" y2="117.30" stroke="#f0598b" stroke-width="0.7" />
<line x1="636.30" y1="112.50" x2="655.30" y2="112.50" stroke="#f0598b" stroke-width="0.8" />
<rect x="644.40" y="102.50" width="2.80" height="2.80" fill="#f0598b" stroke="none" stroke-width="1" />
<rect x="637.10" y="112.40" width="2.80" height="2.80" fill="#f0598b" stroke="none" stroke-width="1" />
<rect x="641.60" y="113.90" width="2.80" height="2.80" fill="#f0598b" stroke="none" stroke-width="1" />
<rect x="646.20" y="114.40" width="2.80" height="2.80" fill="#f0598b" stroke="none" stroke-width="1" />
<rect x="651.10" y="113.90" width="2.80" height="2.80" fill="#f0598b" stroke="none" stroke-width="1" />
<text x="9.77" y="193.00" font-size="13.5" text-anchor="start" fill="#000" >f</text>
<defs><filter id="bl" x="-5%" y="-5%" width="110%" height="110%"><feGaussianBlur stdDeviation="0.45"/></filter><filter id="blc" x="-5%" y="-5%" width="110%" height="110%"><feGaussianBlur stdDeviation="0.9"/></filter><filter id="blr" x="-5%" y="-5%" width="110%" height="110%"><feGaussianBlur stdDeviation="0.6"/></filter><filter id="bl2" x="-5%" y="-5%" width="110%" height="110%"><feGaussianBlur stdDeviation="0.7"/></filter><filter id="bl3" x="-20%" y="-20%" width="140%" height="140%"><feGaussianBlur stdDeviation="5"/></filter></defs>
<rect x="28.00" y="205.50" width="201.30" height="152.80" fill="#b8b8b8" stroke="none" stroke-width="1" />
<clipPath id="c1"><rect x="0" y="0" width="100.1" height="75.7"/></clipPath>
<g transform="translate(28.0 205.5)" clip-path="url(#c1)">
<rect x="0.00" y="0.00" width="100.10" height="75.70" fill="#030101" stroke="none" stroke-width="1" />
<g filter="url(#blr)">
<circle cx="38.6" cy="24.5" r="2.2" fill="#700" fill-opacity="0.32" stroke="#e01010" stroke-width="0.7" stroke-opacity="0.90"/>
<ellipse cx="35.4" cy="61.7" rx="0.49" ry="0.66" transform="rotate(78 35.4 61.7)" fill="#e61414" opacity="0.70"/>
<ellipse cx="39" cy="25" rx="0.77" ry="0.75" transform="rotate(51 39 25)" fill="#e61414" opacity="0.50"/>
</g>
<line x1="78.80" y1="73.10" x2="97.40" y2="73.10" stroke="#b8b8b8" stroke-width="1.0" />
</g>
<clipPath id="c2"><rect x="0" y="0" width="100.1" height="75.7"/></clipPath>
<g transform="translate(129.2 205.5)" clip-path="url(#c2)">
<rect x="0.00" y="0.00" width="100.10" height="75.70" fill="#01010a" stroke="none" stroke-width="1" />
<g filter="url(#blr)">
<path d="M95.7 71.8l1.4 0.5M8.5 63.2l-0.1 -1.5M67.0 23.3l-1.2 -0.9M60.7 44.0l0.8 1.3M43.1 29.8l-0.3 -1.5M99.6 71.9l-1.4 -0.4M44.5 20.3l1.5 0.3M2.7 35.2l-0.6 1.4M38.0 67.5l-1.5 -0.2M56.1 17.9l1.5 0.2M32.5 10.3l-1.5 -0.1M100.0 51.1l0.6 1.4M89.4 60.3l-0.2 -1.5M90.8 57.8l0.4 -1.5M35.4 74.3l1.5 -0.4M16.1 57.1l-0.3 -1.5M46.2 40.1l-1.5 0.1M92.6 37.9l0.7 -1.3M35.4 66.8l1.2 -0.9M46.1 43.0l1.3 -0.7M72.4 36.8l0.3 1.5M32.5 53.0l0.8 1.3M90.9 20.3l1.3 -0.8M31.0 72.5l-0.4 -1.4M50.5 39.2l-0.9 -1.2M58.9 23.6l0.4 1.4M51.2 70.7l-1.1 -1.0M7.5 62.1l-0.2 -1.5M90.9 14.5l-0.1 -1.5M5.9 49.4l-0.2 1.5M22.7 66.3l1.2 0.9M52.3 64.6l0.0 1.5M21.1 66.7l-1.3 0.7M71.8 2.4l-1.0 1.1M17.2 50.9l1.3 0.7M95.6 1.9l-0.2 -1.5M2.1 19.4l0.6 -1.4M15.7 13.9l-0.5 -1.4M38.6 3.3l1.5 -0.1M15.2 2.7l-0.8 1.2" stroke="#06063c" stroke-width="5.5" stroke-linecap="round" fill="none" opacity="0.5"/>
<path d="M61.6 56.2l0.8 0.7M33.8 2.3l-0.9 0.3M76.7 56.0l0.8 -0.6M75.6 65.3l-0.3 -1.0M47.3 17.1l-0.5 -0.8M31.7 7.7l-0.9 0.3M87.6 9.7l-0.9 -0.5M39.3 39.0l0.6 0.8M96.1 19.6l-0.8 -0.6M42.0 1.4l-0.9 -0.4M14.1 4.3l1.0 0.2M16.1 7.3l-0.7 -0.7M50.9 74.4l0.9 -0.4M99.6 17.6l-0.9 0.3M25.1 44.8l-0.7 -0.7M80.1 53.7l-0.0 1.0M42.3 39.8l1.0 0.0M3.6 30.9l0.8 0.6M72.4 18.2l0.8 0.6M18.2 17.5l0.2 1.0M52.1 35.2l-0.4 0.9M64.2 16.1l0.8 -0.6M96.4 55.2l-0.9 0.4M51.2 44.0l0.9 0.3M41.8 39.7l0.4 0.9M9.4 60.8l-0.7 0.7M52.0 69.8l-0.8 -0.6M29.0 74.5l-0.7 0.7M1.9 51.9l0.8 0.6M30.6 63.6l-0.5 -0.9M1.6 34.2l-0.8 0.5M48.6 15.8l-0.8 -0.5M7.4 21.5l-0.7 0.7M93.6 5.8l0.0 -1.0M19.3 43.3l-0.8 0.6M46.4 57.0l-0.8 0.6M12.2 9.2l0.9 0.5M85.1 48.5l1.0 -0.3M69.3 1.9l-0.5 -0.8M77.8 54.8l-1.0 0.0M35.8 34.6l0.3 -1.0M26.9 39.8l-1.0 0.1M95.6 60.9l0.9 -0.4M83.7 22.5l0.1 1.0M48.9 19.6l-0.9 0.4M68.0 69.5l-0.9 -0.5M81.9 7.3l-0.6 0.8M99.9 11.1l-0.9 0.5M6.7 6.5l0.8 -0.6M99.0 49.1l0.7 0.7M29.7 17.5l-0.5 -0.9M68.2 33.2l-1.0 -0.1M11.2 40.9l0.9 -0.3M75.7 7.3l-1.0 -0.1M71.6 19.5l0.8 -0.6M46.1 53.2l-0.8 0.6M99.6 59.3l-0.9 -0.4M14.5 33.4l1.0 0.2M59.6 66.8l0.4 0.9M51.1 36.5l-0.8 0.6M71.1 70.9l-0.3 -1.0M47.3 72.8l-0.5 0.9M74.6 49.8l0.1 -1.0M85.3 17.0l-0.7 -0.7M40.3 50.5l1.0 -0.1M63.5 0.9l-1.0 0.2M71.2 66.9l-0.6 -0.8M81.7 1.3l0.9 -0.4M73.0 45.9l0.8 -0.6M88.6 7.6l0.4 -0.9M76.8 15.1l-0.0 -1.0M58.7 14.5l0.3 -0.9M13.8 46.4l-0.9 0.4M25.4 42.9l-1.0 0.2M20.5 73.2l0.9 0.4M0.3 36.7l0.5 -0.9M65.9 57.1l-1.0 0.1M67.5 25.4l-0.1 1.0M50.3 2.1l0.9 0.5M75.5 13.1l-0.0 -1.0M78.5 30.6l-0.5 -0.9M78.8 65.4l0.7 0.7M16.3 28.9l-1.0 0.2M29.5 0.8l-0.9 -0.4M96.8 27.7l-1.0 -0.2M38.3 33.5l0.7 -0.7M30.9 49.1l-1.0 0.1M53.9 69.2l0.9 0.5M82.5 23.0l-0.6 -0.8M79.7 49.5l-0.8 0.6M84.2 7.0l-0.7 -0.7M39.2 40.2l0.6 -0.8M79.9 47.6l-0.4 0.9M23.3 34.6l0.1 1.0M27.8 72.5l0.8 0.6M81.9 28.7l-0.7 0.8M31.9 5.9l-1.0 0.3M16.7 33.5l-0.3 1.0M89.5 69.8l-0.9 0.4M64.0 70.4l-0.5 0.9M10.0 18.0l0.4 0.9M67.9 28.3l-0.6 0.8M79.6 17.7l0.4 -0.9M63.4 30.3l0.4 -0.9M34.3 66.5l0.9 -0.5M50.3 52.2l0.9 -0.3M74.3 56.9l0.7 -0.7M93.7 57.0l1.0 -0.1M29.2 47.1l-0.5 -0.9M36.8 29.9l0.5 0.9M95.9 26.8l-1.0 0.1M89.4 14.1l1.0 -0.2M12.7 2.1l-0.6 0.8M36.0 69.5l0.7 -0.7M76.2 33.0l-1.0 -0.3M23.7 63.1l-0.8 0.6M28.5 48.3l0.6 0.8M31.7 70.1l0.8 0.6M14.2 15.5l-0.0 1.0M42.1 18.9l-0.5 0.8M24.7 18.2l-0.8 -0.6M33.7 28.2l0.1 -1.0M6.2 10.9l0.6 -0.8M43.0 59.0l0.7 0.7M52.4 64.0l-0.5 0.9M76.9 46.2l-0.8 0.6M99.8 29.7l-1.0 0.2M62.0 24.0l0.5 -0.9M59.8 44.5l-1.0 -0.2M98.6 74.9l0.5 -0.8M45.5 31.2l-1.0 -0.2M4.6 8.2l1.0 -0.0M12.8 71.0l-0.4 -0.9M91.6 5.9l-0.3 0.9M79.9 0.7l0.8 0.6M35.1 13.1l0.6 0.8M67.0 7.0l1.0 -0.2M65.0 3.8l0.8 -0.6M24.2 36.4l-0.9 -0.4M13.9 38.0l0.9 0.4" stroke="#101090" stroke-width="3.9" stroke-linecap="round" fill="none" opacity="0.7"/>
<path d="M20.0 69.5l0.3 -0.7M52.3 51.6l0.6 -0.6M14.0 37.3l0.5 0.6M11.7 8.2l0.2 0.8M5.3 16.3l-0.6 0.6M62.3 65.0l0.7 -0.5M71.8 38.4l0.7 -0.4M16.3 8.0l0.3 -0.7M62.8 15.9l-0.6 0.6M29.8 32.6l-0.7 0.4M39.9 60.4l0.3 -0.7M56.3 35.8l-0.2 0.8M76.6 74.7l0.1 0.8M70.4 52.9l-0.4 -0.7M3.1 41.8l0.2 0.8M19.5 43.9l-0.5 -0.6M62.6 56.2l-0.2 -0.8M47.6 3.6l0.1 -0.8M82.4 63.2l-0.7 -0.5M3.8 14.8l0.6 0.5M63.6 41.2l0.3 0.7M95.7 74.0l0.6 -0.5M46.4 22.1l0.2 0.8M82.5 53.1l-0.1 0.8M90.3 43.1l-0.7 0.4M41.6 54.5l-0.8 0.2M66.0 9.2l-0.2 -0.8M27.3 68.9l0.2 0.8M33.4 40.7l-0.6 0.5M52.6 69.9l0.2 0.8M77.3 52.5l0.2 -0.8M44.8 34.4l-0.5 0.7M47.4 19.3l0.3 0.7M47.7 14.5l-0.8 0.2M57.4 23.4l0.4 0.7M60.6 65.1l0.1 0.8M61.6 49.9l0.6 -0.5M68.3 23.3l0.2 0.8M83.8 22.6l0.8 0.1M87.1 15.0l-0.3 0.7M31.9 19.4l-0.1 -0.8M34.3 33.4l-0.7 0.4M83.4 1.4l-0.7 -0.4M13.2 11.4l-0.6 -0.5M37.6 4.9l-0.7 -0.4M91.5 48.8l-0.8 0.0M80.2 69.3l0.5 0.7M30.0 73.0l0.7 -0.4M20.3 53.3l0.6 -0.6M59.2 53.2l-0.8 -0.1M23.5 16.1l0.7 0.3M66.6 10.5l-0.6 -0.6M39.2 33.0l0.8 -0.2M39.2 35.9l-0.6 0.5M21.5 17.0l-0.8 -0.2M81.8 6.9l0.8 -0.3M67.5 4.1l-0.2 -0.8M40.2 39.0l0.6 0.5M51.1 39.4l0.2 -0.8M58.1 53.4l-0.1 -0.8" stroke="#1a1ac8" stroke-width="3.1" stroke-linecap="round" fill="none" opacity="0.75"/>
</g>
<g filter="url(#blr)">
<circle cx="38.6" cy="24.5" r="2.2" fill="#700" fill-opacity="0.32" stroke="#e01010" stroke-width="0.7" stroke-opacity="0.90"/>
<ellipse cx="35.4" cy="61.7" rx="0.49" ry="0.66" transform="rotate(78 35.4 61.7)" fill="#e61414" opacity="0.70"/>
<ellipse cx="39" cy="25" rx="0.77" ry="0.75" transform="rotate(51 39 25)" fill="#e61414" opacity="0.50"/>
</g>
<line x1="78.80" y1="73.10" x2="97.40" y2="73.10" stroke="#b8b8b8" stroke-width="1.0" />
</g>
<clipPath id="c3"><rect x="0" y="0" width="100.1" height="75.7"/></clipPath>
<g transform="translate(28.0 282.6)" clip-path="url(#c3)">
<rect x="0.00" y="0.00" width="100.10" height="75.70" fill="#030101" stroke="none" stroke-width="1" />
<g filter="url(#blr)">
<circle cx="83.4" cy="31.5" r="4.37" fill="#a00808" opacity="0.35"/>
<ellipse cx="83.4" cy="31.5" rx="2.07" ry="2.30" transform="rotate(158 83.4 31.5)" fill="#e61414" opacity="1.00"/>
<circle cx="84.3" cy="33.5" r="2.85" fill="#a00808" opacity="0.35"/>
<ellipse cx="84.3" cy="33.5" rx="1.31" ry="1.54" transform="rotate(41 84.3 33.5)" fill="#e61414" opacity="1.00"/>
<circle cx="37.9" cy="71.1" r="4.37" fill="#a00808" opacity="0.35"/>
<ellipse cx="37.9" cy="71.1" rx="2.54" ry="1.87" transform="rotate(10 37.9 71.1)" fill="#e61414" opacity="1.00"/>
<circle cx="38.5" cy="73.5" r="2.85" fill="#a00808" opacity="0.35"/>
<ellipse cx="38.5" cy="73.5" rx="1.13" ry="1.80" transform="rotate(77 38.5 73.5)" fill="#e61414" opacity="1.00"/>
<circle cx="49.8" cy="65.1" r="3.61" fill="#a00808" opacity="0.35"/>
<ellipse cx="49.8" cy="65.1" rx="1.71" ry="1.90" transform="rotate(121 49.8 65.1)" fill="#e61414" opacity="1.00"/>
<circle cx="59.6" cy="62.3" r="2.66" fill="#a00808" opacity="0.35"/>
<ellipse cx="59.6" cy="62.3" rx="1.03" ry="1.71" transform="rotate(122 59.6 62.3)" fill="#e61414" opacity="1.00"/>
<circle cx="47.3" cy="48.3" r="2.85" fill="#a00808" opacity="0.35"/>
<ellipse cx="47.3" cy="48.3" rx="1.05" ry="1.92" transform="rotate(98 47.3 48.3)" fill="#e61414" opacity="0.80"/>
<circle cx="21" cy="25.5" r="2" fill="#700" fill-opacity="0.21" stroke="#e01010" stroke-width="0.7" stroke-opacity="0.60"/>
<circle cx="40.3" cy="30.1" r="2.2" fill="#700" fill-opacity="0.17" stroke="#e01010" stroke-width="0.7" stroke-opacity="0.50"/>
<circle cx="48.4" cy="34.3" r="2" fill="#700" fill-opacity="0.16" stroke="#e01010" stroke-width="0.7" stroke-opacity="0.45"/>
<ellipse cx="4.2" cy="12.6" rx="0.99" ry="0.91" transform="rotate(174 4.2 12.6)" fill="#e61414" opacity="0.70"/>
<circle cx="47.3" cy="12.6" r="1.3" fill="#700" fill-opacity="0.21" stroke="#e01010" stroke-width="0.7" stroke-opacity="0.60"/>
<circle cx="97.4" cy="46.6" r="1.90" fill="#a00808" opacity="0.35"/>
<ellipse cx="97.4" cy="46.6" rx="0.89" ry="1.02" transform="rotate(51 97.4 46.6)" fill="#e61414" opacity="0.90"/>
<circle cx="47" cy="41" r="1.5" fill="#700" fill-opacity="0.14" stroke="#e01010" stroke-width="0.7" stroke-opacity="0.40"/>
<circle cx="50" cy="38" r="1.3" fill="#700" fill-opacity="0.14" stroke="#e01010" stroke-width="0.7" stroke-opacity="0.40"/>
<ellipse cx="20" cy="63" rx="1.29" ry="1.01" transform="rotate(127 20 63)" fill="#e61414" opacity="0.40"/>
<circle cx="62" cy="30" r="1.2" fill="#700" fill-opacity="0.10" stroke="#e01010" stroke-width="0.7" stroke-opacity="0.30"/>
<ellipse cx="30" cy="20" rx="1.14" ry="0.79" transform="rotate(27 30 20)" fill="#e61414" opacity="0.30"/>
<circle cx="70" cy="50" r="1.2" fill="#700" fill-opacity="0.10" stroke="#e01010" stroke-width="0.7" stroke-opacity="0.30"/>
<ellipse cx="12" cy="40" rx="0.89" ry="1.01" transform="rotate(101 12 40)" fill="#e61414" opacity="0.30"/>
<ellipse cx="75" cy="10" rx="1.16" ry="0.78" transform="rotate(173 75 10)" fill="#e61414" opacity="0.30"/>
<ellipse cx="88" cy="60" rx="0.75" ry="1.20" transform="rotate(24 88 60)" fill="#e61414" opacity="0.30"/>
<circle cx="25" cy="50" r="1.2" fill="#700" fill-opacity="0.10" stroke="#e01010" stroke-width="0.7" stroke-opacity="0.30"/>
<circle cx="56" cy="55" r="1.2" fill="#700" fill-opacity="0.12" stroke="#e01010" stroke-width="0.7" stroke-opacity="0.35"/>
</g>
<line x1="78.80" y1="73.10" x2="97.40" y2="73.10" stroke="#b8b8b8" stroke-width="1.0" />
</g>
<clipPath id="c4"><rect x="0" y="0" width="100.1" height="75.7"/></clipPath>
<g transform="translate(129.2 282.6)" clip-path="url(#c4)">
<rect x="0.00" y="0.00" width="100.10" height="75.70" fill="#01010a" stroke="none" stroke-width="1" />
<g filter="url(#blr)">
<path d="M23.6 7.8l-1.2 0.9M15.5 5.0l-1.2 0.9M91.9 60.6l0.1 -1.5M22.2 40.6l-0.2 1.5M17.3 8.0l0.3 1.5M92.8 62.7l0.5 -1.4M80.1 14.6l-0.5 1.4M62.8 55.4l0.9 -1.2M88.1 6.6l-1.2 -0.9M67.2 38.3l0.7 1.3M47.4 6.8l1.4 -0.6M86.6 41.5l-0.5 1.4M91.0 43.3l1.1 -1.0M84.9 38.5l-1.3 0.8M60.0 32.6l0.8 1.3M30.5 61.5l1.4 0.4M4.6 47.4l-0.3 1.5M53.5 35.7l-0.8 1.3M99.8 14.8l-1.3 0.8M20.3 47.9l-0.2 1.5M35.6 56.5l-0.6 1.4M55.9 68.5l1.2 0.9M6.2 17.3l0.1 -1.5M61.6 18.0l-0.7 1.3M17.8 34.7l1.4 0.4M69.8 67.8l1.4 -0.4M73.6 72.7l1.5 0.2M28.9 73.1l0.2 -1.5M41.1 71.4l-1.1 -1.0M81.9 22.2l0.5 1.4M44.5 10.3l-1.1 1.0M96.3 25.1l1.5 0.1M4.5 12.8l0.3 -1.5M36.3 22.0l1.2 0.9M98.3 32.1l0.4 1.4M5.9 4.2l0.7 1.3M67.8 11.3l1.5 0.4M49.1 18.9l1.5 -0.0M12.2 40.1l0.2 -1.5M41.0 74.8l-1.5 0.2M24.2 31.1l1.5 0.3M42.2 18.8l1.1 -1.0M83.2 37.7l1.5 0.3M25.5 18.3l0.4 1.4M23.2 65.8l0.9 1.2M5.1 70.3l-1.4 -0.6M99.2 30.5l1.2 -0.9M65.5 59.9l-0.1 -1.5M49.5 7.0l0.4 1.5M87.5 68.1l1.3 -0.7M33.7 49.7l0.5 -1.4M64.3 61.7l-1.5 -0.3M65.5 51.9l-0.2 1.5M92.4 72.4l1.3 0.7M97.2 72.8l-0.7 -1.3M4.5 68.1l1.0 1.1M97.0 50.5l1.4 0.6M16.7 48.1l-1.4 -0.6M74.7 70.2l0.3 1.5M0.3 69.8l1.5 0.1M87.7 8.8l0.5 -1.4M78.4 66.5l-1.4 -0.5M88.0 15.3l-0.7 -1.3M33.1 67.5l0.2 -1.5M47.2 39.8l1.5 0.2M3.4 45.0l-1.5 0.1M86.6 46.0l1.0 1.1M36.3 58.1l-1.5 -0.2M1.1 63.4l0.7 -1.3M8.5 41.1l-1.1 1.0M78.8 23.6l0.2 1.5M48.7 73.1l1.2 0.8M11.5 47.0l1.1 -1.0M51.3 32.9l0.9 -1.2M77.7 5.1l1.1 -1.0M19.6 22.9l0.8 -1.3M42.3 60.4l0.7 1.3M87.5 13.3l0.9 1.2M49.5 25.6l-1.4 -0.4M90.5 53.8l1.5 0.1" stroke="#08084a" stroke-width="5.5" stroke-linecap="round" fill="none" opacity="0.55"/>
<path d="M31.2 41.3l-1.0 0.1M71.6 36.7l0.9 0.5M24.6 64.2l-0.6 0.8M76.7 74.6l-0.7 -0.7M67.7 46.1l-0.4 0.9M91.4 35.4l0.8 -0.5M30.6 65.7l0.2 -1.0M61.4 33.5l0.6 0.8M77.2 27.4l-0.5 -0.9M13.3 6.2l0.6 0.8M81.0 13.4l0.8 -0.6M37.2 43.6l-0.6 0.8M62.1 7.1l-0.8 0.6M93.7 13.6l-0.6 -0.8M32.7 22.8l1.0 0.1M2.0 71.9l0.5 -0.9M80.2 61.1l1.0 -0.3M15.9 44.2l-1.0 0.0M57.4 71.0l0.1 -1.0M96.9 8.8l-0.6 -0.8M67.6 56.4l-0.7 -0.7M83.2 22.9l0.9 -0.4M40.7 45.3l0.8 -0.6M70.4 23.4l0.1 1.0M32.7 47.4l1.0 -0.0M90.0 30.3l-0.8 0.6M81.8 21.5l-0.8 0.5M1.3 13.9l-1.0 -0.2M69.4 46.5l-0.7 0.8M95.2 47.2l0.6 0.8M6.8 73.7l1.0 -0.1M92.1 45.7l-0.4 0.9M9.1 19.5l0.2 1.0M92.9 67.6l0.2 -1.0M14.9 18.0l-0.3 1.0M94.9 12.4l0.2 -1.0M68.1 41.4l1.0 -0.3M26.3 39.7l0.5 0.8M9.7 2.4l-0.4 0.9M12.2 4.6l1.0 -0.0M28.9 67.4l-0.3 -1.0M73.2 49.6l1.0 -0.3M87.9 54.5l-0.9 -0.4M69.4 54.8l-0.9 -0.3M50.3 11.7l0.6 -0.8M48.5 5.1l0.5 0.9M87.6 19.4l-0.8 0.6M68.3 65.2l-0.5 0.9M38.7 32.0l1.0 0.2M87.8 1.4l1.0 -0.3M15.3 11.9l0.6 -0.8M82.4 17.6l-0.9 -0.3M47.7 54.4l0.4 0.9M82.6 75.4l-0.3 -1.0M92.2 70.9l-0.7 0.7M84.8 63.1l-0.9 -0.5M10.7 46.9l0.8 -0.5M30.5 49.0l0.8 -0.6M60.1 2.8l-0.7 -0.7M25.6 64.9l-0.5 -0.8M30.8 67.8l-0.7 -0.7M33.9 63.1l0.8 -0.6M89.4 66.9l-0.5 -0.8M69.9 45.8l-1.0 -0.2M98.8 26.7l0.9 0.5M71.4 37.7l-1.0 -0.3M59.8 18.9l0.3 1.0M7.1 59.2l0.8 -0.5M69.7 8.8l1.0 -0.1M82.8 38.6l1.0 0.0M84.5 47.2l-0.7 -0.7M1.8 55.5l1.0 0.2M47.9 11.0l-0.6 0.8M89.1 56.7l0.4 -0.9M29.8 29.4l-0.8 -0.6M3.4 31.2l1.0 -0.2M75.5 65.3l-0.3 1.0M69.1 59.7l-0.3 -1.0M43.8 13.2l1.0 0.1M88.8 70.5l-0.2 1.0M75.7 30.8l-0.7 -0.7M84.3 24.3l-0.7 -0.7M25.6 38.7l1.0 0.2M26.4 21.7l0.9 -0.5M13.3 57.4l0.9 0.5M98.7 12.6l0.8 0.5M21.2 70.6l-0.5 -0.9M89.1 37.8l0.8 0.7M34.1 34.5l1.0 -0.1M16.7 18.5l0.6 -0.8M11.4 73.5l-0.3 1.0M56.8 50.0l0.8 -0.6M7.6 64.1l0.4 0.9M71.9 2.1l0.1 -1.0M18.1 15.6l1.0 0.2M32.5 24.8l1.0 -0.1M60.7 27.6l1.0 -0.1M17.2 16.3l1.0 -0.3M95.2 51.8l1.0 -0.1M5.8 68.4l-0.3 -1.0M66.9 63.8l0.8 0.6M20.0 10.4l-1.0 0.1M54.7 40.9l-0.6 0.8M74.4 63.5l0.1 -1.0M3.8 11.6l0.2 1.0M23.9 43.4l0.3 0.9M62.5 26.0l-0.7 0.8M70.9 71.5l0.4 0.9M34.9 74.3l0.2 1.0M2.7 14.5l0.5 -0.9M73.2 71.0l-1.0 0.0M4.1 23.2l-0.2 -1.0M39.3 10.6l-0.7 0.7M46.4 26.9l-0.9 0.3M13.6 2.3l0.2 -1.0M73.3 31.7l0.8 0.7M29.6 42.3l0.8 -0.6M48.2 73.7l-1.0 -0.2M18.1 46.6l-0.8 -0.6M60.0 54.9l1.0 0.1M43.7 60.6l0.6 0.8M4.3 13.9l-0.2 1.0M43.6 23.8l-0.7 -0.7M17.0 26.2l-0.5 -0.9M54.5 72.6l0.9 -0.4M25.8 25.4l-1.0 -0.2M54.5 27.7l0.6 -0.8M19.7 35.7l0.7 0.7M88.4 45.1l1.0 -0.1M14.3 53.8l-0.8 -0.6M5.1 62.1l0.7 -0.7M8.1 71.3l0.2 -1.0M60.5 41.2l-0.1 1.0M5.7 36.0l0.7 -0.7M20.9 35.8l-0.2 1.0M69.2 72.6l0.8 -0.6M28.8 31.6l1.0 0.0M53.0 64.6l0.6 -0.8M7.2 32.8l0.9 0.5M42.5 69.1l-0.2 1.0M84.7 72.3l0.4 -0.9M20.2 69.5l0.9 -0.5M100.0 0.8l1.0 0.0M29.2 39.2l-0.9 0.5M9.3 48.5l-0.5 -0.9M63.1 38.7l-1.0 -0.3M69.0 4.9l-0.9 0.4M13.6 7.9l0.1 -1.0M32.5 25.7l-0.2 1.0M58.8 8.9l-0.6 -0.8M7.0 72.3l0.6 0.8M76.8 41.3l-0.9 0.5M30.5 27.2l0.1 -1.0M52.5 40.6l0.0 1.0M62.5 12.9l-1.0 0.1M65.2 41.2l-0.9 -0.5M57.1 14.7l1.0 -0.3M68.5 54.9l1.0 -0.3M45.2 25.2l-0.3 0.9M31.7 22.7l-0.4 0.9M20.9 36.6l-0.3 1.0M36.9 50.2l-0.4 0.9M86.4 60.4l-0.5 0.9M83.5 13.4l0.8 0.6M99.6 2.5l1.0 0.0M86.8 0.2l-0.6 -0.8M55.6 16.9l0.0 1.0M96.8 29.8l0.1 1.0M44.2 55.4l-0.3 1.0M8.9 59.9l0.8 0.6M5.5 0.4l1.0 -0.0M43.5 55.8l-0.9 -0.4M97.6 26.0l-0.6 0.8M68.3 0.0l-0.7 0.8M76.0 43.4l-1.0 0.1M93.8 32.8l-0.1 -1.0M39.3 6.5l-0.8 0.7M21.1 2.1l-0.2 1.0M12.6 34.6l-0.1 -1.0M75.9 66.9l-0.4 0.9" stroke="#121296" stroke-width="3.9" stroke-linecap="round" fill="none" opacity="0.7"/>
<path d="M67.0 67.3l-0.6 0.5M91.5 7.8l0.7 -0.4M88.2 74.2l0.4 -0.7M71.2 32.9l-0.2 -0.8M87.9 43.6l-0.6 -0.6M92.5 21.5l-0.4 0.7M3.6 66.5l-0.6 -0.6M67.3 18.0l0.3 0.7M47.9 66.4l-0.5 0.6M42.2 31.6l0.4 -0.7M12.4 65.5l0.8 0.1M70.0 57.8l-0.8 0.2M74.3 21.2l0.5 0.6M36.0 20.1l-0.2 -0.8M56.5 50.0l0.8 -0.1M77.4 59.9l0.8 -0.2M93.0 56.1l-0.5 0.7M50.9 57.2l0.2 -0.8M90.1 56.2l-0.4 -0.7M25.5 47.1l0.3 0.7M64.8 13.3l0.8 0.1M95.6 65.8l-0.3 0.8M4.5 62.0l0.1 -0.8M15.5 61.9l0.4 -0.7M57.5 20.7l0.8 0.3M6.3 33.4l-0.1 -0.8M63.9 17.0l0.2 -0.8M6.3 46.5l0.4 0.7M0.5 14.7l0.2 -0.8M22.0 1.1l-0.8 0.1M34.9 43.4l-0.7 -0.4M70.9 69.3l-0.4 0.7M63.6 9.0l-0.0 0.8M9.6 65.3l-0.4 0.7M71.1 66.4l-0.6 0.5M20.7 18.8l-0.8 0.1M38.8 5.3l0.5 -0.6M64.0 66.0l0.4 -0.7M72.6 62.4l-0.2 -0.8M42.8 62.0l0.7 -0.4M10.8 10.9l0.4 0.7M45.6 65.4l-0.8 -0.1M85.6 27.7l-0.7 -0.3M24.7 48.5l-0.1 0.8M0.7 30.1l-0.7 -0.3M88.2 21.7l0.7 -0.4M81.2 11.9l0.1 -0.8M93.6 72.8l-0.3 -0.7M39.1 41.2l-0.5 -0.6M61.4 14.3l0.6 -0.5M54.1 5.4l-0.3 0.8M8.1 34.9l0.7 0.4M53.0 21.1l0.4 -0.7M77.0 14.2l0.3 -0.7M58.3 20.4l0.7 -0.4M0.6 30.2l-0.7 -0.5M16.3 37.2l0.6 -0.5M34.4 53.6l0.3 0.7M97.6 73.0l0.4 0.7M76.5 25.3l0.8 0.2M21.1 55.2l-0.8 0.2M53.0 9.7l0.4 0.7M36.6 38.9l0.3 -0.7M45.0 24.8l0.7 -0.4M69.1 57.2l0.3 -0.8M48.5 19.7l0.6 0.5M65.8 56.7l0.7 -0.5M92.0 38.1l-0.8 0.1M96.6 6.5l-0.6 0.6M54.6 45.5l-0.6 -0.5M15.9 38.5l0.4 0.7M38.4 13.6l-0.3 0.7M62.8 30.2l0.4 0.7M46.9 50.7l-0.3 0.8M27.2 33.0l-0.3 -0.8M3.6 50.9l0.8 0.3M89.1 14.5l0.4 -0.7M3.4 37.3l-0.0 0.8M77.7 58.4l0.6 0.6M5.2 55.3l-0.7 0.4" stroke="#1c1ccc" stroke-width="3.1" stroke-linecap="round" fill="none" opacity="0.75"/>
</g>
<g filter="url(#blr)">
<circle cx="83.4" cy="31.5" r="4.37" fill="#a00808" opacity="0.35"/>
<ellipse cx="83.4" cy="31.5" rx="2.07" ry="2.30" transform="rotate(158 83.4 31.5)" fill="#e61414" opacity="1.00"/>
<circle cx="84.3" cy="33.5" r="2.85" fill="#a00808" opacity="0.35"/>
<ellipse cx="84.3" cy="33.5" rx="1.31" ry="1.54" transform="rotate(41 84.3 33.5)" fill="#e61414" opacity="1.00"/>
<circle cx="37.9" cy="71.1" r="4.37" fill="#a00808" opacity="0.35"/>
<ellipse cx="37.9" cy="71.1" rx="2.54" ry="1.87" transform="rotate(10 37.9 71.1)" fill="#e61414" opacity="1.00"/>
<circle cx="38.5" cy="73.5" r="2.85" fill="#a00808" opacity="0.35"/>
<ellipse cx="38.5" cy="73.5" rx="1.13" ry="1.80" transform="rotate(77 38.5 73.5)" fill="#e61414" opacity="1.00"/>
<circle cx="49.8" cy="65.1" r="3.61" fill="#a00808" opacity="0.35"/>
<ellipse cx="49.8" cy="65.1" rx="1.71" ry="1.90" transform="rotate(121 49.8 65.1)" fill="#e61414" opacity="1.00"/>
<circle cx="59.6" cy="62.3" r="2.66" fill="#a00808" opacity="0.35"/>
<ellipse cx="59.6" cy="62.3" rx="1.03" ry="1.71" transform="rotate(122 59.6 62.3)" fill="#e61414" opacity="1.00"/>
<circle cx="47.3" cy="48.3" r="2.85" fill="#a00808" opacity="0.35"/>
<ellipse cx="47.3" cy="48.3" rx="1.05" ry="1.92" transform="rotate(98 47.3 48.3)" fill="#e61414" opacity="0.80"/>
<circle cx="21" cy="25.5" r="2" fill="#700" fill-opacity="0.21" stroke="#e01010" stroke-width="0.7" stroke-opacity="0.60"/>
<circle cx="40.3" cy="30.1" r="2.2" fill="#700" fill-opacity="0.17" stroke="#e01010" stroke-width="0.7" stroke-opacity="0.50"/>
<circle cx="48.4" cy="34.3" r="2" fill="#700" fill-opacity="0.16" stroke="#e01010" stroke-width="0.7" stroke-opacity="0.45"/>
<ellipse cx="4.2" cy="12.6" rx="0.99" ry="0.91" transform="rotate(174 4.2 12.6)" fill="#e61414" opacity="0.70"/>
<circle cx="47.3" cy="12.6" r="1.3" fill="#700" fill-opacity="0.21" stroke="#e01010" stroke-width="0.7" stroke-opacity="0.60"/>
<circle cx="97.4" cy="46.6" r="1.90" fill="#a00808" opacity="0.35"/>
<ellipse cx="97.4" cy="46.6" rx="0.89" ry="1.02" transform="rotate(51 97.4 46.6)" fill="#e61414" opacity="0.90"/>
<circle cx="47" cy="41" r="1.5" fill="#700" fill-opacity="0.14" stroke="#e01010" stroke-width="0.7" stroke-opacity="0.40"/>
<circle cx="50" cy="38" r="1.3" fill="#700" fill-opacity="0.14" stroke="#e01010" stroke-width="0.7" stroke-opacity="0.40"/>
<ellipse cx="20" cy="63" rx="1.29" ry="1.01" transform="rotate(127 20 63)" fill="#e61414" opacity="0.40"/>
<circle cx="62" cy="30" r="1.2" fill="#700" fill-opacity="0.10" stroke="#e01010" stroke-width="0.7" stroke-opacity="0.30"/>
<ellipse cx="30" cy="20" rx="1.14" ry="0.79" transform="rotate(27 30 20)" fill="#e61414" opacity="0.30"/>
<circle cx="70" cy="50" r="1.2" fill="#700" fill-opacity="0.10" stroke="#e01010" stroke-width="0.7" stroke-opacity="0.30"/>
<ellipse cx="12" cy="40" rx="0.89" ry="1.01" transform="rotate(101 12 40)" fill="#e61414" opacity="0.30"/>
<ellipse cx="75" cy="10" rx="1.16" ry="0.78" transform="rotate(173 75 10)" fill="#e61414" opacity="0.30"/>
<ellipse cx="88" cy="60" rx="0.75" ry="1.20" transform="rotate(24 88 60)" fill="#e61414" opacity="0.30"/>
<circle cx="25" cy="50" r="1.2" fill="#700" fill-opacity="0.10" stroke="#e01010" stroke-width="0.7" stroke-opacity="0.30"/>
<circle cx="56" cy="55" r="1.2" fill="#700" fill-opacity="0.12" stroke="#e01010" stroke-width="0.7" stroke-opacity="0.35"/>
</g>
<line x1="78.80" y1="73.10" x2="97.40" y2="73.10" stroke="#b8b8b8" stroke-width="1.0" />
</g>
<text x="129.00" y="201.60" font-size="7.6" text-anchor="middle" fill="#111" >CD3</text>
<text x="25.20" y="243.30" font-size="6.7" text-anchor="middle" fill="#111" transform="rotate(-90 25.20 243.30)" >Placebo</text>
<text x="25.20" y="320.40" font-size="6.7" text-anchor="middle" fill="#111" transform="rotate(-90 25.20 320.40)" >Arachidonic acid</text>
<rect x="250.30" y="205.50" width="201.00" height="152.80" fill="#b8b8b8" stroke="none" stroke-width="1" />
<clipPath id="c5"><rect x="0" y="0" width="100.1" height="75.7"/></clipPath>
<g transform="translate(250.3 205.5)" clip-path="url(#c5)">
<rect x="0.00" y="0.00" width="100.10" height="75.70" fill="#030101" stroke="none" stroke-width="1" />
<circle cx="30" cy="58" r="20" fill="#2a0000" opacity="0.35" filter="url(#bl3)"/>
<circle cx="62" cy="48" r="18" fill="#200000" opacity="0.3" filter="url(#bl3)"/>
<line x1="78.80" y1="73.10" x2="97.40" y2="73.10" stroke="#b8b8b8" stroke-width="1.0" />
</g>
<clipPath id="c6"><rect x="0" y="0" width="100.1" height="75.7"/></clipPath>
<g transform="translate(351.2 205.5)" clip-path="url(#c6)">
<rect x="0.00" y="0.00" width="100.10" height="75.70" fill="#01010a" stroke="none" stroke-width="1" />
<g filter="url(#blc)">
<path d="M47.5 49.8l-0.8 -1.3M14.3 0.8l-1.1 1.1M27.4 61.3l-0.6 -1.4M60.2 42.3l-0.8 -1.3M14.5 33.3l0.8 1.3M90.7 4.5l0.6 -1.4M7.5 52.0l-0.8 1.3M40.5 63.8l1.5 0.2M6.1 69.3l-1.5 -0.1M9.1 74.7l1.4 -0.5M11.3 32.0l1.0 1.1M31.3 47.0l0.8 1.3M69.8 3.9l0.7 1.3M81.7 30.3l-1.3 0.7M59.7 36.1l-1.1 1.0M3.1 55.0l1.5 -0.3M97.7 50.2l-0.9 1.2M36.3 52.2l-0.7 -1.3M11.4 17.8l-1.0 1.1M51.2 61.3l-1.5 0.0M2.8 62.3l-1.4 0.6M52.0 16.8l-1.3 0.7M38.9 58.4l1.2 0.9M55.1 13.5l-0.5 -1.4M3.7 20.9l-0.8 1.2M63.8 3.9l-1.5 0.4M20.9 21.3l-1.5 0.2M96.0 36.4l1.4 -0.4M16.8 70.0l-1.0 1.1M18.9 56.7l1.3 -0.8M0.7 20.3l0.2 -1.5M34.2 18.3l1.5 0.1M4.0 46.9l1.5 -0.2M99.9 38.1l1.5 0.2M32.3 59.6l0.7 -1.3M64.0 17.4l-1.5 -0.3M47.8 47.5l-0.1 1.5M94.8 67.7l0.8 1.3M29.2 66.1l-0.3 1.5M94.5 39.0l-0.5 -1.4M70.5 16.2l-0.3 1.5M25.5 51.7l-0.5 -1.4M13.2 67.1l-1.3 0.7M24.1 33.0l1.5 -0.2M56.0 47.3l1.3 -0.7M96.3 57.6l-1.3 0.7M58.9 68.2l0.4 -1.5M58.1 26.3l-1.0 1.1M73.7 42.6l1.5 0.2M71.1 68.4l0.4 -1.4M89.8 68.9l-1.5 -0.3M79.0 28.7l1.2 0.9M35.4 23.6l1.4 -0.6M69.0 41.0l-1.1 -1.0M12.5 40.4l-0.5 -1.4M39.5 18.6l-1.2 0.8M32.4 51.9l0.9 1.2M9.1 23.7l-0.5 -1.4M76.0 49.9l1.4 -0.6M36.6 2.3l-1.5 0.1M44.4 13.6l-0.7 -1.3M34.2 18.0l-0.7 1.3M94.5 0.6l-1.0 1.2M28.0 15.2l-1.4 0.6M22.1 69.6l-1.5 -0.0M69.9 12.3l-1.5 0.3M60.7 63.8l0.0 1.5M46.0 64.7l0.7 -1.3M22.8 40.7l0.1 -1.5M39.6 51.0l-0.8 -1.3" stroke="#050534" stroke-width="5.5" stroke-linecap="round" fill="none" opacity="0.5"/>
<path d="M97.3 41.9l-0.4 -0.9M35.1 55.4l-0.4 0.9M50.0 27.3l-0.4 0.9M13.6 17.1l-1.0 -0.3M25.2 3.5l0.3 -0.9M28.6 70.9l-0.8 -0.6M38.9 66.1l0.8 -0.6M32.1 9.5l-0.6 -0.8M84.4 46.1l0.2 -1.0M41.3 46.8l-0.1 1.0M40.7 28.7l-0.7 0.7M40.0 61.1l0.5 0.9M20.5 19.3l1.0 -0.2M52.3 4.0l0.5 -0.9M87.4 62.2l-0.6 0.8M73.5 23.1l0.7 0.8M86.6 63.1l0.2 1.0M88.1 1.9l-0.4 0.9M1.3 12.9l0.5 0.9M71.7 22.5l0.4 0.9M18.4 23.6l0.6 -0.8M60.7 7.7l-0.4 -0.9M53.7 33.9l-1.0 -0.2M65.2 60.6l-1.0 -0.0M63.6 35.4l-0.7 -0.7M38.9 31.4l-1.0 -0.1M71.6 21.1l0.9 -0.5M49.2 64.8l-0.4 -0.9M95.7 51.7l-0.9 0.4M40.6 46.0l0.0 -1.0M84.0 9.8l0.9 0.4M10.8 6.4l0.9 0.3M0.8 18.9l0.8 0.7M68.6 46.6l1.0 -0.2M96.1 56.5l0.9 -0.3M2.8 17.3l0.9 -0.5M47.6 15.6l0.0 -1.0M42.4 41.1l-0.4 0.9M24.2 6.6l-0.8 -0.6M95.4 74.7l0.1 -1.0M93.4 27.4l-0.3 1.0M92.4 45.4l-0.5 -0.9M1.3 17.3l-1.0 0.1M73.2 62.5l0.0 -1.0M34.0 28.9l0.6 -0.8M99.1 36.7l0.3 0.9M62.5 40.6l-0.6 0.8M23.1 29.2l-0.8 -0.6M12.7 40.9l1.0 -0.3M74.6 19.1l-0.9 0.5M10.2 55.8l-0.7 -0.7M17.3 41.5l-0.8 -0.6M57.8 28.6l-0.4 0.9M35.5 75.5l-0.5 0.9M50.3 34.8l0.5 0.9M40.0 15.5l-0.4 0.9M36.8 26.5l0.9 -0.4M29.7 25.2l-0.6 -0.8M39.8 39.0l-0.6 -0.8M7.4 50.8l0.8 0.6M25.0 61.3l1.0 -0.1M67.4 13.0l-0.9 0.4M28.3 63.7l0.1 1.0M19.6 48.3l-0.7 -0.8M59.0 36.2l1.0 -0.3M45.9 70.9l-0.8 0.6M46.6 27.2l-0.2 -1.0M75.2 18.1l-1.0 -0.2M72.7 38.0l-0.5 -0.9M61.7 54.1l-0.6 0.8M30.7 1.9l0.8 -0.6M79.1 29.5l1.0 -0.2M90.3 11.5l0.5 -0.9M42.1 23.8l-0.1 1.0M41.4 3.9l1.0 0.3M11.7 23.3l0.5 0.8M12.2 63.0l-0.7 0.7M49.1 45.5l0.9 -0.4M14.6 17.3l0.6 -0.8M91.1 70.5l-1.0 -0.2M36.7 14.3l0.8 -0.5M76.6 41.8l0.3 -1.0M26.1 40.4l0.8 -0.6M10.9 46.7l0.4 0.9M83.9 63.5l-0.6 -0.8M43.6 1.6l-1.0 0.0M36.0 30.3l0.9 0.5M92.1 39.5l-0.9 -0.4M84.3 67.9l-1.0 -0.3M54.5 64.1l-0.7 0.7M90.1 1.8l0.3 -1.0M52.8 47.1l1.0 -0.1M22.0 30.8l0.3 -1.0M74.7 39.7l0.2 -1.0M67.8 65.8l-0.6 -0.8M36.4 21.7l0.9 0.5M12.3 3.2l1.0 -0.2M14.1 45.6l0.7 0.7M96.7 40.3l0.4 0.9M82.7 65.1l1.0 -0.1M22.4 30.5l-0.5 -0.8M28.3 43.1l-0.3 -1.0M75.2 62.4l0.0 -1.0M28.6 57.2l-0.9 0.4M17.0 1.6l-0.7 -0.7M35.8 7.1l-1.0 0.1M41.5 24.6l-0.9 -0.4M53.9 40.1l1.0 -0.1M90.6 22.6l0.7 -0.7M31.5 70.9l0.9 0.4M31.8 70.5l-0.5 -0.8M70.7 15.5l0.7 0.7M96.1 5.0l0.5 0.9M43.1 62.0l-0.4 -0.9M99.9 59.0l-0.9 0.4M91.2 24.0l0.9 0.3M96.0 66.7l-0.5 -0.8M48.0 15.4l0.2 1.0M6.8 7.1l-1.0 0.1M89.7 70.6l-1.0 -0.1M67.4 35.4l0.2 -1.0M70.7 74.6l0.6 -0.8M67.9 44.7l0.5 0.9M47.2 33.9l0.6 0.8M20.2 31.1l0.4 0.9M62.5 24.8l1.0 -0.1M68.5 39.1l-0.9 0.4M39.2 15.2l1.0 -0.2M91.5 49.2l-0.6 -0.8M14.4 41.0l0.5 0.9M32.5 44.4l0.5 0.9M23.3 55.3l-1.0 0.1M89.1 12.1l0.8 0.5M93.9 46.1l-0.3 -0.9M55.7 11.3l1.0 -0.1M49.6 68.8l0.6 0.8M27.6 41.6l0.0 1.0M86.1 19.7l0.9 0.5M16.3 20.6l0.9 -0.3M87.9 50.7l-0.9 0.4M4.1 62.9l0.7 0.7M20.0 32.9l0.6 -0.8M18.3 4.7l0.8 -0.6M0.8 55.6l0.6 0.8M29.9 15.7l-0.9 0.4M92.2 63.6l-1.0 -0.2M8.8 13.3l-0.3 1.0M79.5 69.3l1.0 0.2M33.5 72.7l0.6 0.8M8.0 20.1l0.8 -0.6M26.3 54.6l0.7 0.7M65.9 12.8l-0.8 -0.6M74.3 66.5l-0.9 0.4M98.6 30.8l0.9 -0.3M91.5 75.6l0.8 0.6M27.4 52.7l0.8 -0.7M25.7 58.2l-1.0 0.1M0.4 6.4l1.0 0.0M22.9 70.6l-0.4 -0.9M86.4 69.4l-0.8 0.6M69.7 49.5l-0.4 -0.9M9.3 67.3l0.6 0.8M44.6 52.1l-0.0 -1.0M82.7 23.6l-0.3 1.0M72.8 3.6l0.7 -0.7M31.6 29.7l-0.4 0.9M71.4 13.2l0.7 0.8M6.6 9.9l-0.7 -0.7M99.0 0.4l-1.0 0.2M35.6 23.5l-0.6 0.8M10.8 32.1l-0.1 1.0M6.0 10.2l0.9 -0.4M71.9 74.4l0.4 -0.9M73.9 17.2l0.8 0.6M98.5 51.8l-0.2 -1.0M14.4 59.9l-1.0 -0.2M8.8 15.9l1.0 -0.2M62.3 6.9l0.9 0.5M75.1 26.7l-1.0 0.1M13.7 13.5l-1.0 0.0M42.8 14.1l0.6 0.8M44.5 8.6l0.9 0.4M47.4 3.9l-0.1 -1.0M76.9 53.4l1.0 -0.3M16.6 31.9l-0.9 0.5M7.2 65.1l1.0 0.3M98.4 51.2l1.0 -0.1M6.0 67.6l1.0 -0.2M77.9 43.9l-0.6 -0.8M48.2 64.6l-0.9 -0.5M54.8 30.7l-0.7 -0.7M58.7 71.2l0.1 -1.0M33.0 54.5l0.1 1.0M48.2 39.8l-0.1 -1.0M7.3 11.1l0.4 0.9M62.0 12.9l-0.9 -0.4M88.3 32.4l0.2 1.0M59.8 31.1l-0.9 0.4M17.8 51.7l-0.6 0.8M98.6 37.6l-0.4 -0.9M92.5 74.5l1.0 0.1M92.9 7.8l0.9 -0.3M79.0 19.4l-0.2 -1.0M56.4 34.2l-0.7 -0.7M45.7 49.8l-0.3 -0.9M0.6 48.4l-0.3 -1.0M86.7 40.6l-1.0 -0.3M14.5 14.8l0.8 -0.6M6.2 68.2l0.7 0.7M38.4 47.1l1.0 0.2" stroke="#0e0e7c" stroke-width="3.9" stroke-linecap="round" fill="none" opacity="0.7"/>
<path d="M44.7 60.4l-0.6 0.5M17.6 4.5l0.8 -0.3M10.5 50.7l-0.5 -0.6M28.0 42.2l-0.3 -0.7M20.8 18.5l0.7 -0.4M20.8 37.0l-0.8 0.2M77.9 64.9l0.1 -0.8M62.7 40.9l0.7 0.4M57.5 32.8l0.0 -0.8M37.6 9.2l-0.6 0.5M83.2 37.6l-0.4 -0.7M5.7 16.8l-0.1 0.8M48.5 9.0l0.8 -0.3M33.2 0.1l0.1 0.8M50.2 46.6l0.3 -0.7M8.7 73.5l0.5 -0.6M51.5 49.0l-0.3 0.7M14.9 0.8l0.8 -0.2M89.1 33.8l-0.6 -0.5M47.7 52.1l0.6 0.5M75.5 13.3l-0.7 -0.4M62.3 64.2l-0.6 -0.5M17.8 61.7l-0.6 0.6M56.4 60.6l0.8 -0.1M10.4 34.4l-0.3 0.7M84.8 30.1l0.7 -0.4M79.4 31.7l0.1 -0.8M68.0 8.9l-0.2 0.8M13.6 63.0l-0.6 0.5M30.1 54.3l0.8 -0.1M14.1 52.3l0.1 0.8M79.2 56.5l0.1 -0.8M58.4 9.3l0.5 -0.6M11.1 43.9l0.8 -0.2M26.9 36.4l-0.4 -0.7M64.7 24.5l-0.7 0.4M89.7 54.2l0.4 0.7M68.0 64.5l-0.6 -0.5M89.5 20.1l-0.2 0.8M86.7 19.4l0.6 0.6M14.8 66.8l0.4 -0.7M19.8 56.2l0.3 0.8M62.2 0.8l-0.7 -0.4M75.1 38.2l-0.6 -0.6M11.8 34.7l0.2 -0.8M37.4 56.3l-0.7 -0.5M80.9 55.9l-0.3 0.8M82.0 61.8l-0.7 0.4M71.9 31.4l-0.7 -0.4M32.5 35.0l-0.3 0.7M89.5 46.4l-0.6 -0.5M52.3 35.1l0.4 0.7M64.7 33.8l-0.4 0.7M51.3 9.9l-0.5 -0.6M78.4 27.7l0.4 0.7M96.9 46.9l-0.3 0.7M9.0 43.4l0.2 0.8M89.9 54.2l-0.1 0.8M40.8 6.6l0.1 0.8M55.9 66.8l-0.7 0.4" stroke="#1515a0" stroke-width="3.0" stroke-linecap="round" fill="none" opacity="0.7"/>
</g>
<line x1="78.80" y1="73.10" x2="97.40" y2="73.10" stroke="#b8b8b8" stroke-width="1.0" />
</g>
<clipPath id="c7"><rect x="0" y="0" width="100.1" height="75.7"/></clipPath>
<g transform="translate(250.3 282.6)" clip-path="url(#c7)">
<rect x="0.00" y="0.00" width="100.10" height="75.70" fill="#030101" stroke="none" stroke-width="1" />
<g filter="url(#blr)">
<circle cx="51.5" cy="32.6" r="5.32" fill="#a00808" opacity="0.35"/>
<ellipse cx="51.5" cy="32.6" rx="2.03" ry="3.48" transform="rotate(15 51.5 32.6)" fill="#e61414" opacity="1.00"/>
<circle cx="44.5" cy="35.4" r="4.56" fill="#a00808" opacity="0.35"/>
<ellipse cx="44.5" cy="35.4" rx="2.34" ry="2.21" transform="rotate(163 44.5 35.4)" fill="#e61414" opacity="0.95"/>
<circle cx="47.3" cy="41.3" r="5.32" fill="#a00808" opacity="0.35"/>
<ellipse cx="47.3" cy="41.3" rx="2.96" ry="2.39" transform="rotate(154 47.3 41.3)" fill="#e61414" opacity="0.95"/>
<circle cx="36.5" cy="39.6" r="4.75" fill="#a00808" opacity="0.35"/>
<ellipse cx="36.5" cy="39.6" rx="2.69" ry="2.09" transform="rotate(133 36.5 39.6)" fill="#e61414" opacity="0.85"/>
<ellipse cx="28.7" cy="31.9" rx="1.80" ry="2.00" transform="rotate(44 28.7 31.9)" fill="#e61414" opacity="0.55"/>
<ellipse cx="63.8" cy="35.4" rx="2.28" ry="1.91" transform="rotate(56 63.8 35.4)" fill="#e61414" opacity="0.60"/>
<ellipse cx="62" cy="31" rx="1.42" ry="1.43" transform="rotate(115 62 31)" fill="#e61414" opacity="0.50"/>
<circle cx="73.6" cy="44.1" r="3.04" fill="#a00808" opacity="0.35"/>
<ellipse cx="73.6" cy="44.1" rx="1.12" ry="2.05" transform="rotate(150 73.6 44.1)" fill="#e61414" opacity="0.80"/>
<circle cx="89.4" cy="44.1" r="3.80" fill="#a00808" opacity="0.35"/>
<ellipse cx="89.4" cy="44.1" rx="2.39" ry="1.50" transform="rotate(101 89.4 44.1)" fill="#e61414" opacity="0.80"/>
<ellipse cx="5.3" cy="44.8" rx="1.46" ry="2.47" transform="rotate(35 5.3 44.8)" fill="#e61414" opacity="0.60"/>
<ellipse cx="14.7" cy="36.1" rx="1.94" ry="1.50" transform="rotate(5 14.7 36.1)" fill="#e61414" opacity="0.40"/>
<ellipse cx="14.7" cy="58.8" rx="1.80" ry="2.00" transform="rotate(85 14.7 58.8)" fill="#e61414" opacity="0.40"/>
<ellipse cx="49.7" cy="55.3" rx="2.12" ry="1.37" transform="rotate(53 49.7 55.3)" fill="#e61414" opacity="0.40"/>
<ellipse cx="75.4" cy="60.6" rx="1.74" ry="1.32" transform="rotate(39 75.4 60.6)" fill="#e61414" opacity="0.50"/>
<ellipse cx="29.8" cy="17.8" rx="1.06" ry="1.90" transform="rotate(112 29.8 17.8)" fill="#e61414" opacity="0.50"/>
<ellipse cx="37.5" cy="22" rx="1.34" ry="1.51" transform="rotate(3 37.5 22)" fill="#e61414" opacity="0.45"/>
<ellipse cx="78.5" cy="32.6" rx="1.57" ry="1.46" transform="rotate(129 78.5 32.6)" fill="#e61414" opacity="0.40"/>
<ellipse cx="33" cy="36" rx="1.81" ry="1.98" transform="rotate(80 33 36)" fill="#e61414" opacity="0.40"/>
<ellipse cx="56" cy="38" rx="2.35" ry="1.53" transform="rotate(141 56 38)" fill="#e61414" opacity="0.50"/>
<ellipse cx="22" cy="42" rx="1.54" ry="1.50" transform="rotate(75 22 42)" fill="#e61414" opacity="0.30"/>
<ellipse cx="84" cy="52" rx="1.21" ry="1.26" transform="rotate(38 84 52)" fill="#e61414" opacity="0.30"/>
<ellipse cx="10" cy="62" rx="1.74" ry="1.16" transform="rotate(50 10 62)" fill="#e61414" opacity="0.25"/>
</g>
<line x1="78.80" y1="73.10" x2="97.40" y2="73.10" stroke="#b8b8b8" stroke-width="1.0" />
</g>
<clipPath id="c8"><rect x="0" y="0" width="100.1" height="75.7"/></clipPath>
<g transform="translate(351.2 282.6)" clip-path="url(#c8)">
<rect x="0.00" y="0.00" width="100.10" height="75.70" fill="#01010a" stroke="none" stroke-width="1" />
<g filter="url(#blc)">
<path d="M10.7 53.2l-0.9 -1.2M94.1 20.5l-0.1 1.5M73.5 49.8l-0.5 1.4M68.5 30.0l0.3 -1.5M11.9 16.9l1.2 -0.9M35.8 19.7l0.5 -1.4M63.2 11.3l-1.4 -0.5M66.5 12.5l-0.9 -1.2M12.3 25.5l1.3 0.7M20.5 74.0l-1.2 0.9M99.1 33.2l-1.2 -0.9M87.3 52.0l1.1 1.0M59.0 48.0l0.6 1.4M9.5 66.2l-1.5 -0.1M19.4 34.3l0.3 1.5M79.9 37.9l1.2 0.9M81.9 6.8l-0.3 1.5M2.8 56.0l1.1 1.0M52.6 7.0l-1.5 0.2M68.6 40.5l-1.4 0.4M48.5 33.1l-1.2 -0.8M9.5 35.9l0.1 1.5M86.6 71.1l1.4 0.6M14.3 53.3l-1.4 -0.6M1.9 53.4l1.4 -0.5M42.4 26.3l-1.4 -0.6M94.0 19.9l-0.5 1.4M18.9 47.6l-1.5 0.3M25.6 29.4l1.5 0.3M31.3 74.4l-1.3 -0.8M28.3 70.9l-0.9 1.2M25.2 2.7l0.9 1.2M19.9 17.4l1.0 -1.1M26.5 18.8l-1.2 -0.9M91.8 22.1l0.1 -1.5M36.9 42.5l-1.2 -0.8M94.3 57.3l-1.5 -0.1M84.2 27.7l-1.1 1.0M96.1 41.3l0.2 -1.5M31.5 69.3l-1.1 -1.0M24.8 70.7l-1.5 0.3M34.0 19.9l1.2 0.9M20.1 52.4l1.0 1.2M25.9 33.9l-1.4 -0.4M38.1 59.4l-0.1 1.5M36.9 32.2l1.0 1.1M22.3 11.1l-0.2 -1.5M14.7 50.6l0.3 1.5M64.8 49.7l-0.9 1.2M93.4 49.7l-1.4 -0.5M4.6 30.8l-0.1 1.5M47.0 70.7l1.0 -1.1M6.2 51.5l1.4 -0.6M54.3 7.3l1.0 -1.1M42.7 74.2l1.1 -1.1M83.0 70.5l1.4 0.6M79.5 23.1l1.0 1.1M38.0 44.6l1.5 0.0M45.0 59.4l-1.5 0.0M52.9 22.4l1.5 -0.3M24.8 51.6l-0.9 -1.2M0.1 75.4l0.1 1.5M99.0 70.3l1.2 -0.9M85.6 30.1l-1.4 0.5M34.6 70.9l1.5 0.3M13.7 72.4l0.5 -1.4M70.7 73.3l-1.5 -0.2M83.6 33.5l1.2 -0.9M7.0 33.2l-1.3 -0.7M79.5 32.0l-0.6 -1.4M96.9 31.7l0.5 1.4M3.0 65.2l-1.5 0.2M38.8 39.3l1.1 1.0M22.2 17.8l-0.0 1.5M86.0 18.7l1.3 0.8M86.8 42.3l1.5 0.3M67.6 51.9l-0.9 -1.2M77.5 32.1l0.2 1.5M74.5 47.3l-0.4 -1.4M18.4 28.2l-0.5 -1.4M38.5 45.6l-1.5 0.3M75.5 26.4l-1.5 0.0M82.9 23.5l0.7 1.3M63.7 10.1l0.9 -1.2M27.5 68.4l-1.5 -0.3M15.4 39.4l-0.6 -1.4M48.7 48.1l-1.0 1.1M96.0 13.2l0.4 -1.4M2.4 38.4l1.4 0.6M13.2 44.5l1.2 -0.9" stroke="#06063c" stroke-width="5.5" stroke-linecap="round" fill="none" opacity="0.5"/>
<path d="M31.0 30.5l-1.0 0.2M60.6 26.5l-0.6 0.8M85.4 42.1l-0.6 0.8M81.9 75.6l-0.9 0.4M1.5 23.1l0.8 -0.6M17.2 15.0l0.3 -1.0M11.4 64.3l0.1 1.0M38.8 45.0l0.8 0.6M77.6 33.2l0.1 -1.0M76.5 5.8l0.4 -0.9M82.2 18.3l-0.8 -0.5M20.6 40.8l0.0 -1.0M37.7 40.3l0.7 0.7M86.4 47.4l0.5 -0.9M8.1 56.4l0.8 0.5M55.7 17.5l0.8 -0.6M10.6 35.8l-1.0 0.2M38.6 4.9l-0.5 -0.9M97.3 27.3l0.8 -0.6M33.9 20.7l-1.0 0.3M97.4 59.0l-0.7 -0.7M4.0 34.2l1.0 0.1M6.2 28.5l0.0 1.0M10.4 38.7l0.2 -1.0M92.7 69.3l-0.9 0.4M17.9 72.9l-0.9 0.5M34.3 62.4l-0.9 -0.4M95.3 53.1l0.9 -0.3M15.3 71.4l-1.0 -0.3M69.7 22.8l0.0 1.0M29.7 12.9l1.0 -0.2M11.9 18.4l-0.7 -0.7M20.5 16.2l-0.0 1.0M23.4 0.8l-0.1 -1.0M66.0 23.5l0.8 -0.6M56.0 16.7l1.0 -0.2M23.0 61.3l0.4 -0.9M0.3 64.1l-0.9 0.5M50.3 71.6l-1.0 0.3M24.2 3.7l0.8 -0.7M45.5 53.8l-0.6 -0.8M98.1 70.9l0.9 -0.4M50.5 68.9l-0.3 0.9M12.4 48.4l1.0 0.2M97.3 24.6l-0.9 0.5M29.1 24.4l-1.0 -0.2M80.2 1.1l-0.6 0.8M24.7 72.6l-0.9 0.4M44.5 71.0l-0.8 0.7M38.5 30.2l0.1 1.0M70.5 21.7l-1.0 -0.1M57.2 58.0l-0.1 -1.0M48.2 71.9l0.9 -0.3M93.9 54.1l-1.0 0.3M36.0 65.1l-1.0 0.2M74.9 29.3l-0.7 0.7M1.8 55.3l-0.2 1.0M49.5 54.9l0.5 -0.9M94.6 50.2l0.1 1.0M93.0 4.1l-0.9 0.5M92.6 64.0l-0.8 -0.6M86.9 13.4l1.0 0.2M29.7 70.4l1.0 0.2M32.6 38.5l0.3 1.0M87.2 8.1l0.9 0.5M99.8 0.9l0.2 1.0M40.9 66.6l-0.5 0.9M57.1 60.9l-0.7 -0.7M83.2 1.2l-1.0 -0.3M2.1 64.5l1.0 0.2M9.5 32.5l-0.7 -0.7M1.4 48.4l0.8 0.6M32.4 3.2l-0.1 -1.0M83.2 58.3l-0.4 0.9M25.0 72.9l0.4 -0.9M97.0 31.4l0.7 -0.7M67.8 59.5l-1.0 -0.1M78.5 37.7l-0.1 1.0M47.8 3.1l-0.5 -0.9M33.5 13.7l0.3 -1.0M52.6 23.9l0.9 -0.5M93.9 32.2l-1.0 -0.3M0.0 27.0l1.0 -0.1M51.1 75.2l1.0 0.2M1.7 4.7l0.9 0.5M75.6 74.8l0.1 -1.0M60.6 28.9l-0.7 0.7M13.1 30.1l0.7 0.7M81.1 40.8l-0.7 0.7M85.3 22.7l0.7 -0.7M71.8 47.5l-0.8 -0.6M63.3 68.3l1.0 -0.0M55.9 72.7l0.0 1.0M92.7 66.9l-0.7 -0.8M11.0 67.2l-0.7 0.7M33.3 72.0l0.9 0.5M64.6 17.1l0.7 -0.7M21.6 8.0l-1.0 0.1M45.8 56.9l-0.2 1.0M29.2 22.2l-1.0 -0.3M13.2 42.5l0.4 -0.9M68.8 19.4l-1.0 0.1M9.4 35.7l0.1 -1.0M0.1 49.0l0.9 -0.5M28.0 24.1l-0.4 -0.9M15.6 20.4l-0.7 -0.7M51.9 12.7l0.3 0.9M49.2 65.7l0.3 1.0M68.5 40.2l-0.2 1.0M41.4 62.2l0.8 0.6M54.7 36.2l0.8 0.6M41.5 12.9l-0.8 0.6M3.0 42.9l0.3 -0.9M87.5 70.6l-0.0 1.0M80.1 27.1l-0.2 -1.0M47.2 56.3l-0.8 0.6M96.0 35.3l0.3 -1.0M18.0 55.1l0.2 1.0M40.9 28.7l-0.5 -0.9M57.8 20.8l0.9 -0.4M4.0 36.1l0.7 0.7M10.9 16.6l0.9 -0.3M2.2 54.5l-0.9 -0.5M83.7 64.4l0.7 0.7M92.5 10.7l0.7 0.7M23.8 52.9l-0.9 -0.5M69.0 16.3l-1.0 0.2M32.6 72.8l-0.9 -0.4M70.0 33.9l0.7 0.7M9.7 17.1l-0.1 -1.0M20.3 36.4l-0.5 0.8M13.2 28.0l-1.0 0.1M91.8 59.0l-0.9 0.4M29.3 18.1l-0.6 0.8M53.2 73.5l0.9 0.5M19.1 30.0l-0.9 -0.4M6.7 1.6l-0.9 -0.3M1.7 62.3l-0.5 -0.9M46.8 75.5l-1.0 0.1M94.6 16.6l0.9 0.5M41.8 40.2l-0.5 -0.9M12.6 53.7l-0.3 1.0M94.6 60.3l0.1 -1.0M4.5 4.5l1.0 0.2M44.3 2.6l0.6 0.8M5.8 75.2l-1.0 0.2M26.1 11.4l-0.2 1.0M10.7 60.3l0.9 -0.5M81.6 5.7l-0.8 -0.6M85.5 29.9l0.2 -1.0M1.3 39.3l-0.0 -1.0M43.0 7.6l1.0 -0.2M81.2 21.5l-0.1 -1.0M16.8 46.6l-0.2 -1.0M60.0 33.2l0.5 -0.9M41.2 5.4l0.6 0.8M15.0 59.0l0.9 0.4M96.6 43.7l0.9 0.4M94.6 74.9l0.1 1.0M56.3 17.6l0.7 0.8M7.6 67.0l0.2 1.0M20.4 13.3l-0.2 1.0M94.7 15.9l0.4 0.9M5.7 53.5l0.8 0.6M82.0 71.2l-0.2 1.0M46.8 60.8l-1.0 0.1M31.7 69.3l1.0 -0.0M23.8 63.9l1.0 0.2M82.6 26.1l1.0 -0.1M2.6 15.8l-0.8 0.6M50.5 58.6l0.7 0.7M5.8 18.3l0.8 0.6M94.8 39.0l0.3 1.0M32.3 20.0l-1.0 0.3M32.2 47.4l0.2 1.0M68.7 69.2l0.0 -1.0M8.2 36.4l0.4 -0.9M7.0 71.1l0.8 0.6M10.7 0.6l0.6 -0.8M2.7 35.6l-0.8 -0.5M48.4 75.3l-0.8 -0.6M0.4 30.0l0.5 0.8M89.3 17.3l-0.5 -0.9M44.3 33.1l-1.0 -0.2M25.5 48.9l-0.8 -0.6M81.2 61.8l0.8 0.6M82.1 24.3l1.0 -0.2M57.3 14.9l-1.0 -0.1M54.5 38.6l-0.8 0.7M58.6 40.9l0.3 -1.0M34.3 34.5l1.0 0.1M74.7 4.4l0.7 -0.7M51.8 43.2l-0.8 0.6M55.3 7.5l0.6 0.8M53.5 22.7l-1.0 -0.0M49.5 74.1l-0.6 -0.8M1.9 50.2l-0.4 0.9M18.3 27.6l0.8 -0.6M79.3 34.7l0.6 -0.8M51.7 11.3l-0.3 -1.0M86.4 51.5l-0.3 1.0M47.7 9.9l0.0 1.0M6.6 73.1l-0.2 -1.0M48.5 51.8l-0.3 -0.9M47.1 19.1l-1.0 0.0M54.1 28.8l0.2 1.0M58.4 49.2l0.1 1.0M12.8 57.2l1.0 -0.1M73.1 62.2l-0.2 -1.0M38.9 44.0l-1.0 0.2M97.8 8.4l1.0 -0.0M13.0 23.1l-0.9 -0.4M94.3 66.6l0.1 -1.0M64.3 57.0l-0.3 0.9M4.5 44.6l0.2 1.0M45.6 58.1l1.0 -0.1M12.9 69.8l0.1 1.0M51.8 60.6l-0.4 -0.9M38.1 67.6l0.5 0.9M82.5 74.7l0.5 -0.8M11.5 29.4l0.8 0.6M34.6 30.2l0.5 0.8M46.2 63.1l-0.5 -0.9M30.1 9.1l0.8 0.7M81.5 19.6l-0.9 -0.3M19.3 52.9l0.9 0.5M47.3 33.2l-1.0 -0.1M21.0 51.7l1.0 -0.3M21.0 5.5l-0.2 1.0M34.0 65.4l1.0 0.2" stroke="#101088" stroke-width="3.7" stroke-linecap="round" fill="none" opacity="0.72"/>
<path d="M4.3 40.4l-0.8 0.2M21.3 51.9l-0.6 0.5M96.9 16.5l-0.8 -0.1M12.7 7.8l0.8 -0.2M88.7 56.4l-0.8 -0.0M67.2 17.1l0.3 0.7M21.8 20.3l-0.6 0.5M50.3 20.4l-0.5 0.6M80.0 60.5l-0.0 0.8M56.4 8.1l-0.6 -0.6M62.1 13.6l0.4 -0.7M61.2 73.2l-0.1 0.8M15.3 58.9l-0.0 -0.8M23.1 33.5l0.4 0.7M46.4 74.2l-0.1 0.8M35.9 65.6l0.8 -0.1M51.5 41.8l-0.8 -0.0M70.4 68.9l0.7 -0.4M56.6 34.9l0.5 -0.6M67.6 75.0l0.6 0.5M73.7 60.6l-0.5 0.6M0.9 25.5l0.8 -0.1M76.0 25.6l0.5 -0.6M8.6 55.9l-0.8 -0.3M98.7 22.3l-0.5 0.7M35.3 33.2l-0.8 0.2M19.3 33.8l0.8 0.3M62.6 63.3l-0.4 0.7M45.0 73.3l0.4 -0.7M68.9 43.7l0.8 -0.2M47.5 46.9l0.6 -0.5M35.9 32.4l-0.4 -0.7M71.5 53.0l-0.7 0.4M28.0 58.2l-0.1 -0.8M52.1 19.4l0.7 0.3M51.8 68.8l0.5 -0.6M74.6 32.0l0.5 -0.6M88.1 23.2l-0.8 -0.2M36.5 14.6l-0.8 0.1M22.4 71.7l0.8 -0.1M25.8 12.6l0.3 0.8M91.9 24.9l0.4 -0.7M99.7 26.1l0.4 -0.7M10.5 3.3l-0.4 -0.7M31.0 17.5l-0.8 -0.0M79.4 33.5l-0.8 -0.3M75.9 7.0l-0.8 -0.0M3.8 15.4l0.6 0.6M18.0 69.7l0.8 0.1M48.5 5.7l0.8 0.1M92.7 38.1l0.5 -0.6M63.0 43.5l0.1 -0.8M0.5 15.8l-0.3 -0.7M99.4 14.6l-0.6 0.5M68.1 43.3l-0.1 -0.8M4.7 18.4l-0.4 -0.7M74.3 50.2l0.3 -0.8M80.3 0.1l-0.3 0.8M7.2 9.3l-0.1 -0.8M38.7 66.7l0.8 0.1M45.5 73.9l-0.5 0.6M68.4 65.8l0.3 -0.8M32.4 33.8l0.1 -0.8M53.1 32.2l0.8 -0.3M25.6 52.7l-0.5 0.6M62.7 57.2l0.6 -0.5M80.5 38.0l-0.7 -0.4M68.8 57.0l0.7 -0.4M1.6 1.7l0.8 -0.2M64.1 7.2l-0.3 0.8M14.1 23.7l0.5 0.6M72.7 11.4l-0.8 0.2M5.7 29.9l-0.0 0.8M54.0 20.0l0.2 0.8M35.2 71.5l0.8 -0.0M15.9 56.0l0.8 0.3M31.3 59.1l-0.1 -0.8M69.6 37.3l-0.8 0.3M5.1 49.9l-0.5 -0.6M37.3 11.1l-0.0 0.8M80.6 6.8l-0.7 -0.5M76.9 56.7l-0.6 0.6M68.7 16.0l-0.1 0.8M64.0 8.4l-0.8 -0.1M68.6 3.0l0.8 0.2M81.3 60.2l0.8 -0.2M11.1 63.7l-0.7 -0.3M55.4 13.6l-0.5 0.6M19.0 1.5l-0.2 -0.8M9.8 6.6l0.2 -0.8" stroke="#1818b4" stroke-width="2.9" stroke-linecap="round" fill="none" opacity="0.75"/>
</g>
<g filter="url(#blr)">
<circle cx="51.5" cy="32.6" r="5.32" fill="#a00808" opacity="0.35"/>
<ellipse cx="51.5" cy="32.6" rx="2.03" ry="3.48" transform="rotate(15 51.5 32.6)" fill="#e61414" opacity="1.00"/>
<circle cx="44.5" cy="35.4" r="4.56" fill="#a00808" opacity="0.35"/>
<ellipse cx="44.5" cy="35.4" rx="2.34" ry="2.21" transform="rotate(163 44.5 35.4)" fill="#e61414" opacity="0.95"/>
<circle cx="47.3" cy="41.3" r="5.32" fill="#a00808" opacity="0.35"/>
<ellipse cx="47.3" cy="41.3" rx="2.96" ry="2.39" transform="rotate(154 47.3 41.3)" fill="#e61414" opacity="0.95"/>
<circle cx="36.5" cy="39.6" r="4.75" fill="#a00808" opacity="0.35"/>
<ellipse cx="36.5" cy="39.6" rx="2.69" ry="2.09" transform="rotate(133 36.5 39.6)" fill="#e61414" opacity="0.85"/>
<ellipse cx="28.7" cy="31.9" rx="1.80" ry="2.00" transform="rotate(44 28.7 31.9)" fill="#e61414" opacity="0.55"/>
<ellipse cx="63.8" cy="35.4" rx="2.28" ry="1.91" transform="rotate(56 63.8 35.4)" fill="#e61414" opacity="0.60"/>
<ellipse cx="62" cy="31" rx="1.42" ry="1.43" transform="rotate(115 62 31)" fill="#e61414" opacity="0.50"/>
<circle cx="73.6" cy="44.1" r="3.04" fill="#a00808" opacity="0.35"/>
<ellipse cx="73.6" cy="44.1" rx="1.12" ry="2.05" transform="rotate(150 73.6 44.1)" fill="#e61414" opacity="0.80"/>
<circle cx="89.4" cy="44.1" r="3.80" fill="#a00808" opacity="0.35"/>
<ellipse cx="89.4" cy="44.1" rx="2.39" ry="1.50" transform="rotate(101 89.4 44.1)" fill="#e61414" opacity="0.80"/>
<ellipse cx="5.3" cy="44.8" rx="1.46" ry="2.47" transform="rotate(35 5.3 44.8)" fill="#e61414" opacity="0.60"/>
<ellipse cx="14.7" cy="36.1" rx="1.94" ry="1.50" transform="rotate(5 14.7 36.1)" fill="#e61414" opacity="0.40"/>
<ellipse cx="14.7" cy="58.8" rx="1.80" ry="2.00" transform="rotate(85 14.7 58.8)" fill="#e61414" opacity="0.40"/>
<ellipse cx="49.7" cy="55.3" rx="2.12" ry="1.37" transform="rotate(53 49.7 55.3)" fill="#e61414" opacity="0.40"/>
<ellipse cx="75.4" cy="60.6" rx="1.74" ry="1.32" transform="rotate(39 75.4 60.6)" fill="#e61414" opacity="0.50"/>
<ellipse cx="29.8" cy="17.8" rx="1.06" ry="1.90" transform="rotate(112 29.8 17.8)" fill="#e61414" opacity="0.50"/>
<ellipse cx="37.5" cy="22" rx="1.34" ry="1.51" transform="rotate(3 37.5 22)" fill="#e61414" opacity="0.45"/>
<ellipse cx="78.5" cy="32.6" rx="1.57" ry="1.46" transform="rotate(129 78.5 32.6)" fill="#e61414" opacity="0.40"/>
<ellipse cx="33" cy="36" rx="1.81" ry="1.98" transform="rotate(80 33 36)" fill="#e61414" opacity="0.40"/>
<ellipse cx="56" cy="38" rx="2.35" ry="1.53" transform="rotate(141 56 38)" fill="#e61414" opacity="0.50"/>
<ellipse cx="22" cy="42" rx="1.54" ry="1.50" transform="rotate(75 22 42)" fill="#e61414" opacity="0.30"/>
<ellipse cx="84" cy="52" rx="1.21" ry="1.26" transform="rotate(38 84 52)" fill="#e61414" opacity="0.30"/>
<ellipse cx="10" cy="62" rx="1.74" ry="1.16" transform="rotate(50 10 62)" fill="#e61414" opacity="0.25"/>
</g>
<line x1="78.80" y1="73.10" x2="97.40" y2="73.10" stroke="#b8b8b8" stroke-width="1.0" />
</g>
<text x="350.90" y="201.60" font-size="7.6" text-anchor="middle" fill="#111" >CD4</text>
<text x="247.50" y="243.30" font-size="6.7" text-anchor="middle" fill="#111" transform="rotate(-90 247.50 243.30)" >Placebo</text>
<text x="247.50" y="320.40" font-size="6.7" text-anchor="middle" fill="#111" transform="rotate(-90 247.50 320.40)" >Arachidonic acid</text>
<rect x="469.60" y="205.50" width="201.50" height="152.80" fill="#b8b8b8" stroke="none" stroke-width="1" />
<clipPath id="c9"><rect x="0" y="0" width="100.1" height="75.7"/></clipPath>
<g transform="translate(469.6 205.5)" clip-path="url(#c9)">
<rect x="0.00" y="0.00" width="100.10" height="75.70" fill="#030101" stroke="none" stroke-width="1" />
<circle cx="40" cy="48" r="26" fill="#280000" opacity="0.35" filter="url(#bl3)"/>
<line x1="78.80" y1="73.10" x2="97.40" y2="73.10" stroke="#b8b8b8" stroke-width="1.0" />
</g>
<clipPath id="c10"><rect x="0" y="0" width="100.1" height="75.7"/></clipPath>
<g transform="translate(571.0 205.5)" clip-path="url(#c10)">
<rect x="0.00" y="0.00" width="100.10" height="75.70" fill="#01010a" stroke="none" stroke-width="1" />
<circle cx="45" cy="52" r="24" fill="#2a0010" opacity="0.5" filter="url(#bl3)"/>
<g filter="url(#blc)">
<path d="M95.9 10.6l1.5 0.2M100.0 13.9l1.1 1.0M65.2 26.2l1.2 -1.0M23.2 72.6l-0.6 1.4M60.2 70.6l-0.6 -1.4M92.5 53.6l1.4 0.4M88.2 44.6l-0.6 1.4M19.0 64.3l-1.3 -0.7M93.9 58.6l1.5 -0.4M56.7 52.9l-1.1 -1.0M25.9 72.4l-0.6 1.4M78.2 72.3l-0.9 -1.2M14.2 62.5l-0.7 -1.3M18.5 3.7l-1.5 -0.3M3.2 70.0l-1.5 -0.1M51.8 31.0l-0.8 -1.3M91.7 23.3l-1.1 1.1M58.3 22.5l-1.2 -0.8M54.4 32.8l-0.7 -1.3M52.9 6.7l1.5 -0.0M35.6 32.7l-1.2 0.9M93.0 72.1l-1.5 -0.1M40.1 7.3l1.2 -0.9M17.2 41.4l-0.9 1.2M32.9 27.0l0.5 1.4M3.7 40.5l0.4 -1.4M64.8 15.3l-0.5 -1.4M5.2 31.1l0.7 -1.3M92.2 34.9l0.9 -1.2M49.9 39.7l-1.3 -0.8M99.2 56.3l-1.5 0.3M72.8 48.7l-0.9 1.2M78.5 62.1l-1.2 -0.9M94.4 1.4l-1.5 0.0M63.5 25.8l0.7 1.3M69.3 32.9l-0.2 1.5M4.2 73.2l-0.9 1.2M11.8 16.4l-0.0 1.5M86.7 13.7l-0.2 1.5M9.7 35.6l0.4 1.4M34.4 55.6l1.3 -0.7M83.5 2.9l-1.1 1.0M85.0 2.5l0.4 1.4M49.0 29.0l-0.0 -1.5M71.9 35.2l0.0 1.5M23.1 20.2l1.4 0.6M66.6 11.9l1.1 -1.0M64.7 4.3l-1.5 0.0M60.4 3.2l-1.5 0.1M3.0 58.0l1.5 0.0M63.3 74.6l0.9 -1.2M23.4 40.5l1.0 1.2M34.3 65.4l0.6 -1.4M0.9 28.8l-1.0 -1.2M17.6 60.8l1.2 -0.9M55.2 27.4l0.9 -1.2M51.3 14.3l-0.3 1.5M15.9 63.5l-1.5 -0.1M69.7 61.9l1.5 -0.3M19.1 30.7l1.1 -1.1M76.2 29.3l-0.8 -1.2M19.5 12.2l1.4 0.5M38.0 17.9l-1.5 -0.2M97.0 11.6l-1.4 -0.5M86.6 45.3l-1.5 -0.3M76.9 1.7l1.4 -0.5M68.7 61.1l0.7 -1.3M9.9 5.0l0.7 1.4M50.5 71.0l1.3 -0.8M41.2 47.1l-0.1 -1.5M33.3 73.5l1.4 -0.5M72.8 68.2l0.5 -1.4M65.3 24.3l-0.3 1.5M23.9 4.3l1.3 -0.7M29.9 1.8l-0.6 1.4M10.3 33.7l-0.7 1.3M17.6 36.1l-1.3 0.8M35.4 61.6l-0.5 1.4M54.2 66.5l1.4 -0.4M37.5 3.1l1.4 -0.5M51.5 16.5l1.0 1.1M23.9 23.5l1.0 1.1M4.9 75.3l0.6 -1.4M11.3 36.4l0.5 -1.4M50.5 5.2l-0.8 1.3M38.1 69.2l-1.3 -0.7M45.9 47.7l1.4 0.5M68.7 61.2l-0.7 -1.3M36.1 21.6l1.5 0.1M8.2 11.7l-1.4 0.4" stroke="#06063c" stroke-width="5.5" stroke-linecap="round" fill="none" opacity="0.5"/>
<path d="M77.9 16.4l-1.0 0.2M63.7 47.7l1.0 0.1M92.1 44.3l-0.3 0.9M24.0 52.2l0.9 -0.4M33.8 30.1l-0.9 -0.3M17.5 30.7l0.9 -0.5M55.7 62.3l-0.1 1.0M87.0 59.2l0.2 1.0M53.1 51.6l-0.9 -0.4M60.3 18.2l-0.9 -0.3M35.5 60.4l-0.7 0.7M98.0 43.9l0.1 1.0M41.6 9.7l-0.1 -1.0M4.6 45.8l-0.4 0.9M77.8 9.6l-0.4 -0.9M71.5 17.6l0.7 0.7M37.3 49.1l-0.1 1.0M0.9 33.4l0.4 -0.9M15.8 71.2l-1.0 -0.1M16.1 7.6l-0.7 0.7M47.7 13.3l0.9 0.5M50.2 19.2l-0.9 0.3M45.1 52.8l-0.9 -0.5M22.9 13.6l0.6 -0.8M5.1 9.3l0.9 0.4M82.7 41.0l0.9 -0.5M62.7 25.4l-0.9 0.4M73.3 17.5l0.3 -0.9M40.8 3.2l-0.6 0.8M56.1 11.1l0.8 -0.6M92.7 38.7l0.8 -0.6M69.1 40.7l0.5 0.8M95.4 69.6l-1.0 0.3M38.5 5.6l-0.7 -0.7M85.6 29.4l-0.2 1.0M61.4 60.1l0.5 0.9M28.3 48.6l1.0 0.3M81.8 23.9l0.5 -0.9M45.5 12.5l1.0 0.1M11.3 19.7l0.0 -1.0M79.5 47.8l-0.4 0.9M66.5 55.5l-0.7 0.7M8.2 35.5l0.2 1.0M18.9 29.6l0.9 0.5M89.9 21.3l0.8 -0.6M73.8 0.8l0.8 -0.6M81.0 39.8l0.7 -0.7M47.9 1.9l0.6 0.8M31.1 65.0l0.5 -0.9M11.8 26.5l0.8 0.6M22.9 26.7l-0.9 0.5M15.0 49.8l0.1 1.0M89.1 36.4l-0.9 0.4M76.7 26.1l-0.0 1.0M12.3 22.3l0.1 1.0M73.6 26.9l-0.3 -1.0M27.6 5.3l-0.3 0.9M39.3 68.9l0.3 0.9M21.2 11.8l-0.0 1.0M96.1 70.5l0.1 1.0M5.0 36.8l-0.9 -0.5M11.2 31.7l0.1 -1.0M0.1 54.4l-0.4 -0.9M78.7 36.9l-1.0 0.2M51.9 10.3l-1.0 -0.1M24.0 24.3l1.0 0.3M15.9 4.2l-1.0 -0.3M23.7 42.1l-1.0 -0.0M23.3 9.6l-0.8 -0.6M67.7 52.3l-1.0 -0.0M58.1 1.9l-0.3 0.9M80.1 28.6l0.8 0.6M42.1 63.1l0.8 0.6M11.2 37.7l0.7 -0.7M39.1 18.8l0.1 -1.0M9.4 22.4l-0.8 -0.6M85.0 65.2l-0.5 0.9M26.7 27.5l0.7 0.7M27.3 58.0l1.0 -0.1M27.0 5.5l-0.1 -1.0M96.7 60.1l-0.9 0.5M74.5 57.6l-0.0 -1.0M49.3 75.6l0.2 -1.0M23.5 32.6l0.8 0.5M37.5 61.9l-1.0 0.1M52.5 59.0l0.9 0.5M35.4 36.6l-1.0 0.0M68.5 70.9l0.3 -0.9M54.6 51.8l-1.0 -0.2M98.7 45.2l-0.8 -0.6M39.6 31.7l0.1 -1.0M37.3 68.4l-0.1 -1.0M95.6 53.5l-0.9 -0.4M36.7 1.4l-0.5 -0.8M75.2 54.7l0.1 -1.0M3.6 51.8l-0.2 1.0M38.9 65.7l-0.8 0.6M46.7 3.8l0.4 0.9M21.0 16.3l-1.0 -0.1M4.8 6.7l0.9 0.5M73.4 73.5l-0.0 -1.0M51.5 9.9l0.2 -1.0M13.0 5.8l-1.0 -0.1M86.3 23.5l0.7 -0.8M33.2 73.2l-0.1 -1.0M86.6 74.5l0.4 -0.9M19.6 39.1l-1.0 -0.3M72.3 17.4l-0.9 -0.5M28.4 13.9l-0.9 0.3M80.4 41.9l-0.6 0.8M22.6 27.2l-0.8 0.6M27.2 23.5l0.1 1.0M29.4 51.0l-0.7 -0.7M62.7 69.9l-0.5 -0.9M13.0 30.6l-1.0 -0.1M74.7 40.1l0.8 0.6M47.6 49.6l0.2 -1.0M44.6 16.2l1.0 0.2M50.4 56.8l0.8 0.6M52.3 45.2l-0.9 -0.4M23.2 7.0l1.0 0.1M30.6 67.9l-0.9 0.5M98.8 62.4l-0.9 -0.5M44.0 42.6l0.5 -0.8M33.5 11.8l0.8 -0.6M63.2 28.6l-0.8 0.6M10.1 42.9l0.2 -1.0M49.9 52.8l-0.1 -1.0M33.1 48.3l1.0 -0.2M71.6 13.9l-0.5 -0.9M64.5 58.7l-0.3 -1.0M91.3 73.9l0.3 1.0M48.0 3.4l1.0 -0.1M10.7 32.3l-0.7 -0.7M43.0 13.0l-1.0 -0.0M22.4 37.1l-0.2 -1.0M29.9 33.8l-0.7 -0.7M53.2 60.6l0.8 -0.6M96.8 12.5l-1.0 0.1M11.8 52.9l-0.8 0.6M85.0 36.6l0.3 -1.0M3.1 46.4l-0.9 0.5M83.4 7.8l0.8 0.5M68.8 24.7l-0.9 0.4M40.5 74.6l-0.7 -0.7M83.3 63.5l0.6 -0.8M44.8 22.0l-1.0 -0.1M89.5 66.9l-1.0 0.1M90.8 57.7l1.0 0.3M63.4 60.1l1.0 0.3M37.8 48.9l-1.0 -0.0M53.1 6.8l-0.1 1.0M87.0 26.4l-1.0 0.1M59.1 21.4l-0.9 0.5M50.6 65.8l0.5 -0.8M17.7 38.1l0.0 -1.0M89.7 40.2l-0.7 -0.7M64.6 50.5l0.8 -0.6M98.6 75.0l0.7 0.7M71.7 29.4l-0.2 1.0M10.0 68.9l0.8 -0.6M52.9 37.7l0.3 1.0M92.8 57.3l0.5 0.9M57.5 75.4l-0.1 1.0M37.4 27.5l-0.7 0.7M11.8 47.6l0.0 1.0M68.1 35.4l0.5 -0.8M74.7 65.0l0.6 0.8M79.5 58.6l-0.3 1.0M0.1 7.5l0.1 -1.0M96.9 5.1l0.0 1.0M40.3 5.2l-0.6 -0.8M85.9 63.7l0.4 0.9M91.1 59.5l0.6 0.8M85.4 70.4l0.7 -0.7M75.2 61.8l-1.0 -0.2M0.9 51.4l-1.0 0.0M14.8 10.1l0.7 -0.7M90.5 3.9l1.0 0.1M69.8 22.1l0.7 -0.7M46.3 53.9l1.0 0.3M77.7 15.1l-0.9 0.4M48.6 24.6l0.0 1.0M44.8 3.9l0.5 0.8M13.0 64.6l-0.4 0.9M98.5 68.2l0.5 0.9M85.7 74.7l-0.9 0.4M48.4 51.0l-1.0 0.1M26.3 55.5l0.2 1.0M38.5 1.7l-0.4 0.9M80.7 10.4l0.4 0.9M39.6 22.5l1.0 0.0M5.4 15.2l0.3 -1.0M77.7 61.0l-0.3 -0.9M99.9 19.5l-0.3 -1.0M45.0 72.7l-0.9 0.4M72.5 58.7l1.0 -0.2M76.6 24.8l-0.6 -0.8M79.7 71.1l0.0 1.0M73.1 54.6l0.5 0.8M11.9 42.6l-0.8 -0.6M32.9 46.8l0.6 0.8M57.3 40.5l0.5 -0.9M72.1 6.0l-0.9 -0.3M12.7 39.8l-0.4 -0.9M70.5 0.7l-1.0 -0.2M17.5 38.4l-1.0 0.0M48.9 57.8l-0.3 1.0M47.7 18.6l0.3 0.9M63.3 12.0l0.3 -1.0M37.5 8.6l0.2 -1.0M2.1 22.4l-0.6 -0.8M1.6 53.1l-0.9 -0.4M97.7 23.7l0.5 -0.9M98.1 37.8l0.9 0.5M34.2 61.6l1.0 0.0M63.4 39.4l-0.1 -1.0M37.1 70.8l0.8 0.7M41.7 23.2l-0.9 -0.4M21.8 29.3l-0.9 0.3M92.4 2.1l-0.2 1.0M14.8 54.1l0.1 -1.0M1.6 59.3l0.7 -0.7M46.3 45.1l0.3 -1.0M92.8 17.1l-0.3 -1.0M7.9 27.6l0.8 -0.5M62.9 40.4l-0.9 0.3M45.7 2.3l-0.9 -0.4M94.2 9.0l1.0 0.2M62.5 62.3l-0.9 0.4" stroke="#101088" stroke-width="3.7" stroke-linecap="round" fill="none" opacity="0.72"/>
<path d="M8.4 48.8l-0.4 -0.7M23.3 61.6l-0.8 -0.2M78.7 17.8l-0.5 0.6M66.3 50.6l0.5 -0.7M94.4 54.5l0.8 0.0M46.6 50.4l0.1 -0.8M31.5 4.6l-0.7 -0.4M19.3 39.1l0.1 0.8M88.0 2.3l-0.7 -0.3M88.0 48.6l0.5 0.6M54.8 62.5l-0.5 -0.6M90.7 61.7l-0.6 0.5M12.4 52.3l-0.8 0.1M81.9 33.7l-0.2 -0.8M14.4 57.2l0.5 -0.6M81.1 58.7l-0.4 -0.7M17.1 24.9l-0.2 0.8M29.2 44.3l-0.5 0.6M65.9 67.5l0.8 -0.0M0.4 46.2l-0.7 -0.4M43.3 55.6l0.6 -0.5M24.5 48.1l0.4 0.7M44.1 26.8l0.3 -0.7M91.1 65.9l-0.8 -0.1M71.1 49.3l-0.8 -0.2M13.6 20.4l0.8 -0.2M59.6 8.7l-0.5 0.6M13.4 9.5l-0.6 0.5M29.2 1.4l-0.8 0.0M93.0 35.0l-0.6 0.5M38.2 20.2l-0.4 0.7M19.5 32.5l0.7 -0.4M36.6 66.6l-0.8 0.0M63.7 36.5l-0.6 0.5M88.6 44.7l0.3 0.7M30.7 29.8l-0.7 -0.3M37.8 20.1l-0.3 0.8M99.5 56.0l0.5 -0.6M89.6 10.7l-0.8 -0.2M72.5 36.9l-0.8 -0.1M63.3 47.9l0.4 0.7M5.4 20.6l0.8 0.2M31.0 2.9l0.6 0.5M65.7 14.8l-0.2 -0.8M42.0 63.3l-0.7 -0.3M87.2 32.2l-0.7 0.4M93.0 51.9l-0.7 0.3M87.2 55.2l-0.5 -0.6M2.8 67.3l0.6 0.5M1.7 25.7l0.3 0.8M24.1 36.7l-0.8 -0.0M68.1 65.5l-0.3 -0.8M86.7 32.6l0.5 0.6M71.1 75.3l0.4 0.7M61.4 29.3l0.8 -0.1M3.3 36.2l-0.5 0.6M37.0 56.3l0.8 0.0M27.6 73.2l-0.8 0.2M1.4 46.8l-0.4 -0.7M92.9 67.0l0.8 -0.3M26.5 24.1l-0.3 -0.8M34.6 28.4l0.8 0.2M19.9 10.1l-0.6 0.6M70.1 14.7l-0.2 0.8M8.3 30.8l-0.7 -0.4M60.1 48.9l-0.8 -0.2M69.7 60.6l0.4 -0.7M0.1 70.4l-0.8 0.1M99.4 57.7l-0.8 0.2M4.5 7.3l0.1 -0.8M0.7 3.8l-0.3 -0.8M60.8 51.2l0.7 0.3M95.9 56.7l0.8 0.1M57.0 24.7l0.1 0.8M61.5 74.4l0.8 0.2M80.6 70.6l0.7 0.4M89.8 1.1l-0.3 0.7M2.3 13.4l0.4 0.7M56.2 33.0l0.8 -0.2M75.6 5.7l0.7 0.3M27.9 61.7l0.3 -0.8M83.9 65.6l-0.1 -0.8M56.0 63.7l0.4 -0.7M81.8 66.6l-0.8 -0.2M8.7 47.3l-0.2 -0.8M95.0 56.5l0.6 -0.5M91.4 24.8l0.7 -0.4M57.0 32.8l-0.8 0.3M49.7 31.4l-0.1 -0.8M25.7 33.0l-0.5 -0.6" stroke="#1818b4" stroke-width="2.9" stroke-linecap="round" fill="none" opacity="0.75"/>
</g>
<line x1="78.80" y1="73.10" x2="97.40" y2="73.10" stroke="#b8b8b8" stroke-width="1.0" />
</g>
<clipPath id="c11"><rect x="0" y="0" width="100.1" height="75.7"/></clipPath>
<g transform="translate(469.6 282.6)" clip-path="url(#c11)">
<rect x="0.00" y="0.00" width="100.10" height="75.70" fill="#030101" stroke="none" stroke-width="1" />
<g filter="url(#blr)">
<circle cx="91.1" cy="11.5" r="2.66" fill="#a00808" opacity="0.35"/>
<ellipse cx="91.1" cy="11.5" rx="1.07" ry="1.65" transform="rotate(100 91.1 11.5)" fill="#e61414" opacity="1.00"/>
<circle cx="80.3" cy="29.8" r="3.23" fill="#a00808" opacity="0.35"/>
<ellipse cx="80.3" cy="29.8" rx="1.86" ry="1.40" transform="rotate(77 80.3 29.8)" fill="#e61414" opacity="0.95"/>
<circle cx="39.3" cy="34.3" r="3.99" fill="#a00808" opacity="0.35"/>
<ellipse cx="39.3" cy="34.3" rx="2.26" ry="1.76" transform="rotate(133 39.3 34.3)" fill="#e61414" opacity="1.00"/>
<ellipse cx="30.5" cy="37.8" rx="2.91" ry="1.93" transform="rotate(106 30.5 37.8)" fill="#e61414" opacity="0.70"/>
<ellipse cx="28" cy="40" rx="1.89" ry="1.91" transform="rotate(110 28 40)" fill="#e61414" opacity="0.50"/>
<circle cx="68.4" cy="46.6" r="4.56" fill="#a00808" opacity="0.35"/>
<ellipse cx="68.4" cy="46.6" rx="2.21" ry="2.35" transform="rotate(132 68.4 46.6)" fill="#e61414" opacity="1.00"/>
<circle cx="67.5" cy="46.2" r="2.85" fill="#a00808" opacity="0.35"/>
<ellipse cx="67.5" cy="46.2" rx="1.77" ry="1.15" transform="rotate(158 67.5 46.2)" fill="#e61414" opacity="1.00"/>
<ellipse cx="10.5" cy="51.8" rx="1.51" ry="2.38" transform="rotate(127 10.5 51.8)" fill="#e61414" opacity="0.30"/>
<ellipse cx="21" cy="55.3" rx="1.56" ry="2.80" transform="rotate(164 21 55.3)" fill="#e61414" opacity="0.35"/>
<ellipse cx="10.5" cy="60.6" rx="2.16" ry="1.67" transform="rotate(11 10.5 60.6)" fill="#e61414" opacity="0.35"/>
<ellipse cx="35.1" cy="55.3" rx="1.65" ry="1.39" transform="rotate(133 35.1 55.3)" fill="#e61414" opacity="0.35"/>
<ellipse cx="45" cy="42" rx="1.33" ry="2.19" transform="rotate(137 45 42)" fill="#e61414" opacity="0.25"/>
<ellipse cx="20" cy="45" rx="1.28" ry="1.58" transform="rotate(171 20 45)" fill="#e61414" opacity="0.25"/>
<ellipse cx="33" cy="63" rx="0.99" ry="1.31" transform="rotate(113 33 63)" fill="#e61414" opacity="0.30"/>
<ellipse cx="16" cy="64" rx="1.55" ry="1.31" transform="rotate(175 16 64)" fill="#e61414" opacity="0.25"/>
<ellipse cx="38" cy="58" rx="1.40" ry="0.92" transform="rotate(58 38 58)" fill="#e61414" opacity="0.30"/>
<ellipse cx="8" cy="57" rx="1.26" ry="1.83" transform="rotate(90 8 57)" fill="#e61414" opacity="0.30"/>
</g>
<line x1="78.80" y1="73.10" x2="97.40" y2="73.10" stroke="#b8b8b8" stroke-width="1.0" />
</g>
<clipPath id="c12"><rect x="0" y="0" width="100.1" height="75.7"/></clipPath>
<g transform="translate(571.0 282.6)" clip-path="url(#c12)">
<rect x="0.00" y="0.00" width="100.10" height="75.70" fill="#01010a" stroke="none" stroke-width="1" />
<g filter="url(#blc)">
<path d="M71.3 63.6l0.6 1.4M99.9 14.7l-0.7 -1.3M9.2 57.4l0.9 1.2M70.7 54.8l0.1 -1.5M44.2 65.5l1.5 -0.1M11.6 39.1l1.4 -0.4M74.0 33.6l-0.5 1.4M95.4 6.4l0.1 -1.5M84.4 11.9l-0.7 1.3M30.6 41.0l-1.0 1.1M89.5 70.0l-0.6 1.4M89.6 5.3l1.2 0.9M66.6 60.5l0.6 -1.4M99.3 65.1l-0.2 1.5M74.4 70.0l1.2 0.8M49.5 11.7l0.9 1.2M48.0 50.7l1.5 -0.3M13.1 38.3l1.5 -0.0M76.6 40.3l0.1 1.5M63.2 19.8l-0.9 -1.2M64.9 29.6l0.4 -1.4M40.4 35.5l0.7 -1.3M25.1 14.0l-1.3 -0.7M43.5 66.2l0.0 1.5M37.2 4.4l-1.4 0.5M31.3 34.0l0.1 -1.5M3.8 74.9l-0.4 -1.5M81.2 40.8l-1.3 -0.7M41.0 30.0l0.3 1.5M30.3 22.2l-0.8 1.3M90.8 60.4l-1.0 -1.2M1.7 19.9l-1.4 -0.4M69.3 31.7l-1.0 -1.1M90.6 20.3l-1.1 1.0M76.1 24.1l-0.3 -1.5M39.8 1.5l-1.5 0.4M6.8 59.4l0.8 -1.2M53.0 68.1l0.3 1.5M44.6 13.3l1.4 0.5M82.5 4.0l1.4 -0.6M55.7 53.0l1.4 0.5M90.8 60.1l1.2 0.9M18.3 10.7l-1.5 -0.0M7.9 60.4l-1.5 0.0M70.5 19.3l-0.9 -1.2M45.4 49.1l-1.3 0.8M99.1 64.1l0.7 -1.3M34.2 14.5l0.9 1.2M13.2 73.2l-0.3 1.5M87.1 17.6l-1.1 -1.0M24.9 23.3l-0.0 -1.5M60.9 71.6l0.1 1.5M27.1 4.8l0.3 1.5M98.2 42.7l-1.5 0.2M34.1 57.5l-0.6 -1.4M15.6 3.5l0.7 1.3M81.8 55.5l0.2 1.5M23.4 23.3l-0.6 -1.4M74.9 18.0l-0.7 1.3M23.7 71.6l-1.4 -0.5M94.1 18.3l-1.0 -1.1M56.9 70.6l-1.0 1.1M22.9 61.9l1.4 -0.4M50.9 25.2l1.3 0.8M44.5 70.0l-0.9 1.2M44.9 42.7l0.1 1.5M10.9 39.3l1.5 -0.3M87.3 22.9l0.3 -1.5M83.3 44.2l-1.0 1.2M19.6 53.3l-0.6 -1.4M21.4 10.7l1.1 1.0M82.9 67.0l-1.5 -0.2M61.2 53.5l0.8 1.3M52.0 33.9l1.0 -1.1M16.4 64.1l0.9 1.2M61.1 67.5l1.3 0.7M48.4 0.3l-1.5 -0.1M48.6 72.7l-1.5 0.1M91.0 55.2l0.8 -1.3M35.1 7.2l-1.0 -1.1M11.2 47.4l0.6 1.4M60.5 58.0l1.5 -0.4M20.1 13.2l-1.3 0.7M97.5 19.3l-1.5 0.2M38.2 4.7l-1.5 -0.4M30.7 35.6l-0.1 -1.5M66.8 18.5l-0.9 -1.2M53.7 57.9l1.5 0.0M28.1 50.9l-1.4 -0.5M50.5 40.1l-1.1 -1.0" stroke="#06063c" stroke-width="5.5" stroke-linecap="round" fill="none" opacity="0.5"/>
<path d="M73.7 63.2l0.2 -1.0M90.8 43.6l0.5 0.9M37.0 65.2l0.1 -1.0M62.0 9.7l0.5 0.8M65.7 32.0l0.4 0.9M97.1 17.5l0.9 -0.4M62.2 72.3l0.2 -1.0M20.1 17.2l0.6 -0.8M43.5 38.1l-0.0 -1.0M60.3 54.5l-1.0 -0.1M27.6 54.6l0.7 0.7M72.5 60.3l0.6 0.8M0.2 69.2l0.4 0.9M53.4 22.0l0.7 0.8M25.8 5.6l0.6 -0.8M77.0 59.3l0.6 0.8M32.4 7.4l0.6 -0.8M97.6 71.8l0.6 -0.8M61.4 37.7l0.8 0.7M3.3 46.9l1.0 -0.2M98.2 31.6l-1.0 -0.1M88.2 21.4l-0.1 -1.0M60.1 32.8l-0.8 0.6M15.9 11.1l-0.3 1.0M98.9 62.0l1.0 0.1M75.7 10.7l-0.9 -0.5M92.1 68.5l0.8 -0.7M99.4 47.8l1.0 0.2M25.4 50.7l-0.8 -0.6M91.3 12.9l0.8 -0.7M57.8 44.9l0.7 0.7M35.6 38.9l0.0 -1.0M68.1 48.5l-0.2 -1.0M35.3 25.4l1.0 -0.1M67.1 42.4l1.0 -0.2M86.6 54.6l1.0 -0.1M38.4 70.1l-0.9 -0.5M42.6 30.4l1.0 0.3M88.8 73.7l-0.7 0.7M94.8 9.9l-1.0 0.2M99.4 47.9l0.6 0.8M63.5 2.0l-0.2 -1.0M58.8 48.8l-0.5 -0.9M9.7 66.8l0.1 -1.0M89.4 17.5l0.1 1.0M72.3 69.8l-0.9 -0.4M24.3 33.4l0.1 1.0M48.4 72.6l-0.4 -0.9M20.3 69.3l0.7 -0.7M40.4 0.1l-0.5 -0.9M32.5 9.7l0.8 -0.5M40.1 12.4l-0.2 1.0M99.6 26.6l-1.0 0.2M25.2 6.2l0.7 0.7M5.9 34.5l-0.9 0.4M70.4 63.1l0.7 -0.7M14.0 42.2l0.6 0.8M29.7 29.3l-0.8 0.6M84.4 32.2l0.5 0.8M60.1 19.7l0.8 -0.6M10.8 11.8l0.9 0.4M29.7 59.2l0.9 0.5M60.9 67.9l0.1 1.0M74.5 54.8l1.0 -0.2M85.3 47.6l-0.9 0.5M36.8 9.2l0.9 0.3M64.5 21.5l0.6 0.8M47.9 11.0l-0.7 -0.8M95.3 28.2l1.0 0.2M16.7 23.7l0.8 -0.6M94.6 45.9l-0.8 0.6M9.6 63.5l1.0 0.2M26.1 55.5l-0.4 -0.9M18.6 74.9l-0.6 -0.8M68.9 17.7l0.3 -1.0M2.6 45.6l1.0 0.1M78.8 44.7l-0.9 -0.4M37.2 59.2l1.0 0.2M15.3 0.9l-0.7 -0.7M6.5 0.5l0.6 -0.8M31.5 27.5l0.5 -0.9M37.0 63.7l1.0 -0.1M10.7 17.9l1.0 0.1M26.4 44.9l1.0 -0.1M79.6 54.5l0.6 0.8M92.8 32.8l0.2 -1.0M19.5 73.8l-0.8 0.7M29.3 65.3l-0.5 -0.9M40.1 34.1l-0.1 -1.0M38.1 40.0l-1.0 0.0M39.9 26.5l-0.0 1.0M79.4 49.8l0.5 0.9M16.6 29.7l-0.8 -0.6M50.6 49.0l-0.3 -1.0M29.5 5.1l-0.5 -0.8M54.0 25.4l0.8 -0.7M14.5 8.8l-0.7 -0.7M38.5 49.4l0.8 0.5M48.5 46.5l-0.9 0.4M14.5 6.0l-0.4 0.9M29.2 66.8l0.9 0.4M74.9 72.2l-1.0 -0.1M16.7 46.4l0.9 -0.4M41.1 55.1l0.3 1.0M26.0 26.7l-0.8 -0.6M94.1 12.2l1.0 0.3M25.5 48.9l-0.4 -0.9M53.8 54.6l-1.0 0.1M15.7 72.5l-0.5 0.9M0.7 12.9l-0.1 1.0M71.8 22.7l0.5 0.9M68.8 49.8l-0.6 -0.8M26.8 68.6l-0.6 -0.8M47.0 69.3l0.1 1.0M29.9 43.8l-0.9 -0.5M55.7 7.2l0.0 -1.0M97.8 27.3l0.5 -0.9M12.6 8.3l-0.8 -0.5M93.5 42.8l0.1 1.0M14.9 69.3l-0.3 -1.0M99.2 20.0l0.1 -1.0M17.0 9.5l-0.8 0.6M34.9 57.8l-0.9 0.4M32.0 67.0l0.7 -0.8M44.9 58.7l0.9 0.5M31.1 66.4l-1.0 0.0M11.2 16.6l0.8 -0.6M38.7 75.2l1.0 -0.1M58.4 64.9l-0.6 0.8M79.2 4.3l-1.0 0.1M1.7 20.3l0.9 -0.4M62.9 3.5l0.5 -0.9M87.6 72.2l-0.9 0.4M14.4 58.4l-0.9 -0.5M4.8 37.4l-0.7 -0.7M77.4 47.1l-0.4 0.9M8.7 3.7l0.7 0.7M40.9 29.4l0.9 -0.5M50.3 62.6l-0.4 -0.9M70.3 63.8l0.6 -0.8M69.4 37.4l0.6 -0.8M25.1 19.6l0.7 0.7M19.1 8.7l0.4 0.9M31.7 53.3l1.0 -0.1M64.2 53.7l-1.0 -0.2M14.8 55.0l-0.9 -0.5M45.8 63.8l0.9 -0.3M16.8 1.4l-0.7 0.7M57.6 37.9l-0.3 1.0M25.7 33.6l0.8 0.5M49.1 67.8l0.7 -0.7M77.8 13.8l-0.8 0.6M11.9 15.0l1.0 0.2M6.4 54.7l-0.1 1.0M67.4 37.2l-0.0 1.0M66.2 37.1l0.4 0.9M27.2 37.9l0.1 1.0M48.4 27.8l0.9 -0.4M15.3 59.7l0.5 0.9M4.3 63.2l0.1 -1.0M40.2 68.0l-0.3 1.0M37.7 64.5l0.3 -0.9M95.0 25.6l-0.1 -1.0M92.0 53.8l-0.5 0.8M93.1 61.2l1.0 0.3M48.5 73.4l0.3 -0.9M69.9 5.6l0.6 -0.8M26.4 16.4l-0.1 -1.0M47.7 75.5l0.5 -0.9M8.4 3.3l0.4 0.9M7.2 20.9l-0.7 0.7M1.8 54.8l0.4 -0.9M37.9 37.5l-0.9 -0.5M98.9 57.6l0.3 0.9M55.5 23.0l0.8 -0.6M87.2 35.1l0.9 -0.3M78.6 62.3l-0.6 0.8M82.8 12.3l0.5 -0.9M38.1 69.0l-1.0 0.2M27.6 20.2l-0.6 0.8M87.8 35.4l-0.5 0.9M96.8 59.6l0.9 0.3M50.5 71.2l-0.8 0.6M0.4 43.0l-0.1 -1.0M75.7 49.1l-0.9 0.5M43.3 8.6l0.9 -0.4M99.1 9.0l0.7 0.8M2.8 27.8l0.0 -1.0M37.1 19.5l-1.0 0.3M62.4 43.1l-1.0 -0.0M41.5 33.8l-0.6 -0.8M30.8 74.6l-0.5 -0.8M84.4 49.2l1.0 -0.0M1.2 22.1l-0.9 -0.3M93.5 33.4l0.3 1.0M60.5 74.9l1.0 0.1M7.9 47.1l0.5 0.9M92.8 2.1l-0.2 -1.0M30.3 45.2l-0.5 -0.9M50.1 26.5l1.0 -0.3M44.5 15.8l1.0 0.0M62.5 16.5l-1.0 -0.2M24.5 8.4l-1.0 0.1M64.6 31.1l1.0 -0.2M88.3 49.8l-0.3 -0.9M88.8 32.6l0.9 -0.4M24.7 71.3l0.7 -0.7M10.2 0.4l-0.8 -0.6M38.3 33.6l0.9 0.3M43.8 46.5l0.1 -1.0M58.1 53.1l-0.9 0.4M94.3 17.6l-1.0 0.0M36.2 64.9l-0.7 0.7M11.6 55.3l-0.5 -0.9M29.2 70.0l1.0 0.0M26.5 66.9l0.6 -0.8M54.5 22.5l0.9 0.3M73.5 9.1l1.0 -0.2M17.9 17.2l1.0 0.3M38.1 35.3l0.2 -1.0M17.0 6.6l-0.4 0.9M93.1 22.1l-0.7 0.7M95.7 63.2l-0.9 0.4M74.5 29.7l-0.8 -0.6M71.3 20.9l0.9 0.3M71.4 53.5l0.7 -0.7M8.2 38.9l-1.0 -0.1M23.9 32.5l-0.8 -0.6M92.2 8.1l0.5 0.9M96.7 38.5l-0.9 0.4" stroke="#101088" stroke-width="3.7" stroke-linecap="round" fill="none" opacity="0.72"/>
<path d="M83.6 72.7l-0.5 0.6M98.2 43.3l-0.7 0.3M69.9 40.6l-0.3 -0.7M9.1 60.9l0.1 0.8M29.5 46.4l-0.6 -0.5M55.8 14.7l-0.2 0.8M63.2 32.6l0.7 0.4M28.3 38.1l-0.7 -0.4M98.1 44.6l0.6 -0.5M87.6 10.3l0.8 0.2M88.6 31.9l-0.5 -0.6M98.9 1.0l-0.8 0.3M74.0 27.8l-0.2 -0.8M26.9 64.6l-0.5 -0.6M9.5 45.9l-0.3 0.7M19.5 70.3l0.5 0.6M56.1 27.9l-0.7 -0.3M46.1 30.4l-0.3 -0.7M18.4 43.5l-0.7 -0.4M31.2 6.4l-0.0 -0.8M59.6 69.0l0.5 -0.6M16.1 73.8l-0.5 0.7M50.0 23.5l-0.7 -0.4M70.4 21.3l-0.0 0.8M60.6 38.3l-0.7 -0.4M11.4 70.8l0.6 -0.5M12.6 21.9l0.8 0.2M7.0 1.6l0.3 0.7M59.4 70.8l-0.8 -0.1M14.6 63.9l0.5 0.6M62.9 31.9l-0.8 0.2M12.8 8.9l-0.5 -0.7M67.7 34.3l-0.4 0.7M74.7 33.2l0.5 -0.6M63.2 3.6l0.5 0.6M33.3 0.8l-0.4 -0.7M87.5 62.9l-0.8 -0.2M57.6 68.5l-0.5 0.7M92.8 6.8l0.8 0.2M73.7 61.9l0.4 0.7M35.0 64.0l0.7 -0.3M91.6 39.7l-0.6 -0.5M92.8 71.9l0.3 0.7M88.2 70.5l-0.7 -0.4M24.7 32.5l-0.0 -0.8M79.7 33.6l0.7 0.3M12.5 17.1l-0.3 0.7M35.6 32.5l-0.7 0.4M31.5 37.0l0.8 0.1M33.3 58.3l0.4 -0.7M5.8 39.7l-0.5 -0.7M8.9 31.7l-0.7 -0.4M23.1 18.9l0.8 0.1M49.0 40.6l0.1 0.8M57.1 31.4l0.7 0.4M60.4 66.5l-0.5 -0.7M92.5 48.8l0.5 0.6M92.8 18.9l0.1 0.8M20.0 42.9l-0.7 0.4M26.3 8.4l0.5 0.6M35.1 13.8l0.8 0.2M42.6 43.1l-0.7 -0.4M89.9 13.2l-0.3 -0.7M45.0 26.5l0.6 0.5M7.3 4.6l0.2 0.8M86.8 47.5l0.5 0.6M65.3 55.3l-0.7 -0.3M31.3 67.5l-0.7 -0.3M38.0 72.5l0.2 -0.8M74.2 38.2l0.8 -0.1M38.2 21.0l0.7 0.3M79.8 63.0l-0.6 0.5M93.5 33.0l0.8 0.1M89.3 6.0l0.8 -0.2M55.2 42.4l-0.8 0.1M51.8 75.5l-0.0 -0.8M68.7 19.7l-0.1 0.8M89.3 33.4l0.7 0.4M44.3 71.7l0.8 0.1M91.3 19.6l-0.8 0.2M57.9 38.5l-0.8 -0.1M54.8 14.8l0.5 0.6M97.5 6.7l0.6 -0.6M23.6 21.9l-0.3 -0.8M57.0 67.1l-0.4 0.7M66.0 3.6l-0.8 0.0M41.2 50.2l0.4 -0.7M79.5 3.5l-0.3 0.7M71.7 21.4l0.0 0.8M89.8 64.5l-0.8 -0.2" stroke="#1818b4" stroke-width="2.9" stroke-linecap="round" fill="none" opacity="0.75"/>
</g>
<g filter="url(#blr)">
<circle cx="91.1" cy="11.5" r="2.66" fill="#a00808" opacity="0.35"/>
<ellipse cx="91.1" cy="11.5" rx="1.07" ry="1.65" transform="rotate(100 91.1 11.5)" fill="#e61414" opacity="1.00"/>
<circle cx="80.3" cy="29.8" r="3.23" fill="#a00808" opacity="0.35"/>
<ellipse cx="80.3" cy="29.8" rx="1.86" ry="1.40" transform="rotate(77 80.3 29.8)" fill="#e61414" opacity="0.95"/>
<circle cx="39.3" cy="34.3" r="3.99" fill="#a00808" opacity="0.35"/>
<ellipse cx="39.3" cy="34.3" rx="2.26" ry="1.76" transform="rotate(133 39.3 34.3)" fill="#e61414" opacity="1.00"/>
<ellipse cx="30.5" cy="37.8" rx="2.91" ry="1.93" transform="rotate(106 30.5 37.8)" fill="#e61414" opacity="0.70"/>
<ellipse cx="28" cy="40" rx="1.89" ry="1.91" transform="rotate(110 28 40)" fill="#e61414" opacity="0.50"/>
<circle cx="68.4" cy="46.6" r="4.56" fill="#a00808" opacity="0.35"/>
<ellipse cx="68.4" cy="46.6" rx="2.21" ry="2.35" transform="rotate(132 68.4 46.6)" fill="#e61414" opacity="1.00"/>
<circle cx="67.5" cy="46.2" r="2.85" fill="#a00808" opacity="0.35"/>
<ellipse cx="67.5" cy="46.2" rx="1.77" ry="1.15" transform="rotate(158 67.5 46.2)" fill="#e61414" opacity="1.00"/>
<ellipse cx="10.5" cy="51.8" rx="1.51" ry="2.38" transform="rotate(127 10.5 51.8)" fill="#e61414" opacity="0.30"/>
<ellipse cx="21" cy="55.3" rx="1.56" ry="2.80" transform="rotate(164 21 55.3)" fill="#e61414" opacity="0.35"/>
<ellipse cx="10.5" cy="60.6" rx="2.16" ry="1.67" transform="rotate(11 10.5 60.6)" fill="#e61414" opacity="0.35"/>
<ellipse cx="35.1" cy="55.3" rx="1.65" ry="1.39" transform="rotate(133 35.1 55.3)" fill="#e61414" opacity="0.35"/>
<ellipse cx="45" cy="42" rx="1.33" ry="2.19" transform="rotate(137 45 42)" fill="#e61414" opacity="0.25"/>
<ellipse cx="20" cy="45" rx="1.28" ry="1.58" transform="rotate(171 20 45)" fill="#e61414" opacity="0.25"/>
<ellipse cx="33" cy="63" rx="0.99" ry="1.31" transform="rotate(113 33 63)" fill="#e61414" opacity="0.30"/>
<ellipse cx="16" cy="64" rx="1.55" ry="1.31" transform="rotate(175 16 64)" fill="#e61414" opacity="0.25"/>
<ellipse cx="38" cy="58" rx="1.40" ry="0.92" transform="rotate(58 38 58)" fill="#e61414" opacity="0.30"/>
<ellipse cx="8" cy="57" rx="1.26" ry="1.83" transform="rotate(90 8 57)" fill="#e61414" opacity="0.30"/>
</g>
<line x1="78.80" y1="73.10" x2="97.40" y2="73.10" stroke="#b8b8b8" stroke-width="1.0" />
</g>
<text x="570.20" y="201.60" font-size="7.6" text-anchor="middle" fill="#111" >CD8</text>
<text x="466.80" y="243.30" font-size="6.7" text-anchor="middle" fill="#111" transform="rotate(-90 466.80 243.30)" >Placebo</text>
<text x="466.80" y="320.40" font-size="6.7" text-anchor="middle" fill="#111" transform="rotate(-90 466.80 320.40)" >Arachidonic acid</text>
<text x="8.60" y="390.10" font-size="13.5" text-anchor="start" fill="#000" >g</text>
<text x="105.80" y="397.20" font-size="8.3" text-anchor="middle" fill="#111" >Placebo</text>
<text x="240.80" y="397.20" font-size="8.3" text-anchor="middle" fill="#111" >Arachidonic acid</text>
<defs><filter id="rough" x="-15%" y="-15%" width="130%" height="130%"><feGaussianBlur stdDeviation="0.5" result="b"/><feTurbulence type="fractalNoise" baseFrequency="0.75" numOctaves="2" seed="4" result="n"/><feDisplacementMap in="b" in2="n" scale="3.2" xChannelSelector="R" yChannelSelector="G"/></filter></defs>
<line x1="39.70" y1="405.00" x2="39.70" y2="518.00" stroke="#555" stroke-width="0.5" />
<line x1="39.70" y1="518.00" x2="134.00" y2="518.00" stroke="#555" stroke-width="0.6" />
<line x1="134.00" y1="518.00" x2="290.00" y2="518.00" stroke="#bbb" stroke-width="0.6" />
<line x1="39.70" y1="540.40" x2="39.70" y2="654.60" stroke="#555" stroke-width="0.5" />
<line x1="39.70" y1="654.60" x2="134.00" y2="654.60" stroke="#555" stroke-width="0.6" />
<line x1="134.00" y1="654.60" x2="290.00" y2="654.60" stroke="#bbb" stroke-width="0.6" />
<rect x="55.00" y="404.30" width="100.30" height="100.00" fill="#fff" stroke="#9a9a9a" stroke-width="0.4" />
<line x1="55.00" y1="404.30" x2="55.00" y2="504.30" stroke="#222" stroke-width="0.6" />
<line x1="55.00" y1="504.30" x2="155.30" y2="504.30" stroke="#222" stroke-width="0.6" />
<line x1="53.70" y1="415.20" x2="55.00" y2="415.20" stroke="#222" stroke-width="0.4" />
<text x="52.80" y="416.20" font-size="3.5" text-anchor="end" fill="#222" >10<tspan dy="-1.1" font-size="2.4">5</tspan></text>
<line x1="53.70" y1="439.70" x2="55.00" y2="439.70" stroke="#222" stroke-width="0.4" />
<text x="52.80" y="440.70" font-size="3.5" text-anchor="end" fill="#222" >10<tspan dy="-1.1" font-size="2.4">4</tspan></text>
<line x1="53.70" y1="467.80" x2="55.00" y2="467.80" stroke="#222" stroke-width="0.4" />
<text x="52.80" y="468.80" font-size="3.5" text-anchor="end" fill="#222" >10<tspan dy="-1.1" font-size="2.4">3</tspan></text>
<line x1="53.70" y1="475.40" x2="55.00" y2="475.40" stroke="#222" stroke-width="0.4" />
<text x="52.80" y="476.40" font-size="3.5" text-anchor="end" fill="#222" >0<tspan dy="-1.1" font-size="2.4"></tspan></text>
<line x1="53.70" y1="484.00" x2="55.00" y2="484.00" stroke="#222" stroke-width="0.4" />
<text x="52.80" y="485.00" font-size="3.5" text-anchor="end" fill="#222" >-10<tspan dy="-1.1" font-size="2.4">3</tspan></text>
<line x1="54.20" y1="407.00" x2="55.00" y2="407.00" stroke="#222" stroke-width="0.3" />
<line x1="54.20" y1="409.00" x2="55.00" y2="409.00" stroke="#222" stroke-width="0.3" />
<line x1="54.20" y1="411.00" x2="55.00" y2="411.00" stroke="#222" stroke-width="0.3" />
<line x1="54.20" y1="420.00" x2="55.00" y2="420.00" stroke="#222" stroke-width="0.3" />
<line x1="54.20" y1="424.00" x2="55.00" y2="424.00" stroke="#222" stroke-width="0.3" />
<line x1="54.20" y1="428.00" x2="55.00" y2="428.00" stroke="#222" stroke-width="0.3" />
<line x1="54.20" y1="432.00" x2="55.00" y2="432.00" stroke="#222" stroke-width="0.3" />
<line x1="54.20" y1="436.00" x2="55.00" y2="436.00" stroke="#222" stroke-width="0.3" />
<line x1="54.20" y1="445.00" x2="55.00" y2="445.00" stroke="#222" stroke-width="0.3" />
<line x1="54.20" y1="450.00" x2="55.00" y2="450.00" stroke="#222" stroke-width="0.3" />
<line x1="54.20" y1="455.00" x2="55.00" y2="455.00" stroke="#222" stroke-width="0.3" />
<line x1="54.20" y1="460.00" x2="55.00" y2="460.00" stroke="#222" stroke-width="0.3" />
<line x1="54.20" y1="464.00" x2="55.00" y2="464.00" stroke="#222" stroke-width="0.3" />
<line x1="54.20" y1="488.00" x2="55.00" y2="488.00" stroke="#222" stroke-width="0.3" />
<line x1="54.20" y1="492.00" x2="55.00" y2="492.00" stroke="#222" stroke-width="0.3" />
<line x1="54.20" y1="496.00" x2="55.00" y2="496.00" stroke="#222" stroke-width="0.3" />
<line x1="54.20" y1="500.00" x2="55.00" y2="500.00" stroke="#222" stroke-width="0.3" />
<rect x="52.40" y="474.50" width="2.40" height="1.80" fill="#000" stroke="none" stroke-width="1" />
<line x1="55.50" y1="504.30" x2="55.50" y2="505.60" stroke="#222" stroke-width="0.4" />
<text x="55.50" y="510.50" font-size="3.5" text-anchor="middle" fill="#222" >0</text>
<line x1="79.25" y1="504.30" x2="79.25" y2="505.60" stroke="#222" stroke-width="0.4" />
<text x="79.25" y="510.50" font-size="3.5" text-anchor="middle" fill="#222" >1.0M</text>
<line x1="103.00" y1="504.30" x2="103.00" y2="505.60" stroke="#222" stroke-width="0.4" />
<text x="103.00" y="510.50" font-size="3.5" text-anchor="middle" fill="#222" >2.0M</text>
<line x1="126.75" y1="504.30" x2="126.75" y2="505.60" stroke="#222" stroke-width="0.4" />
<text x="126.75" y="510.50" font-size="3.5" text-anchor="middle" fill="#222" >3.0M</text>
<line x1="150.50" y1="504.30" x2="150.50" y2="505.60" stroke="#222" stroke-width="0.4" />
<text x="150.50" y="510.50" font-size="3.5" text-anchor="middle" fill="#222" >4.0M</text>
<line x1="60.25" y1="504.30" x2="60.25" y2="505.10" stroke="#222" stroke-width="0.3" />
<line x1="65.00" y1="504.30" x2="65.00" y2="505.10" stroke="#222" stroke-width="0.3" />
<line x1="69.75" y1="504.30" x2="69.75" y2="505.10" stroke="#222" stroke-width="0.3" />
<line x1="74.50" y1="504.30" x2="74.50" y2="505.10" stroke="#222" stroke-width="0.3" />
<line x1="79.25" y1="504.30" x2="79.25" y2="505.10" stroke="#222" stroke-width="0.3" />
<line x1="84.00" y1="504.30" x2="84.00" y2="505.10" stroke="#222" stroke-width="0.3" />
<line x1="88.75" y1="504.30" x2="88.75" y2="505.10" stroke="#222" stroke-width="0.3" />
<line x1="93.50" y1="504.30" x2="93.50" y2="505.10" stroke="#222" stroke-width="0.3" />
<line x1="98.25" y1="504.30" x2="98.25" y2="505.10" stroke="#222" stroke-width="0.3" />
<line x1="103.00" y1="504.30" x2="103.00" y2="505.10" stroke="#222" stroke-width="0.3" />
<line x1="107.75" y1="504.30" x2="107.75" y2="505.10" stroke="#222" stroke-width="0.3" />
<line x1="112.50" y1="504.30" x2="112.50" y2="505.10" stroke="#222" stroke-width="0.3" />
<line x1="117.25" y1="504.30" x2="117.25" y2="505.10" stroke="#222" stroke-width="0.3" />
<line x1="122.00" y1="504.30" x2="122.00" y2="505.10" stroke="#222" stroke-width="0.3" />
<line x1="126.75" y1="504.30" x2="126.75" y2="505.10" stroke="#222" stroke-width="0.3" />
<line x1="131.50" y1="504.30" x2="131.50" y2="505.10" stroke="#222" stroke-width="0.3" />
<line x1="136.25" y1="504.30" x2="136.25" y2="505.10" stroke="#222" stroke-width="0.3" />
<line x1="141.00" y1="504.30" x2="141.00" y2="505.10" stroke="#222" stroke-width="0.3" />
<line x1="145.75" y1="504.30" x2="145.75" y2="505.10" stroke="#222" stroke-width="0.3" />
<path d="M84.1 474.5h0M107.4 463.8h0M83.0 469.2h0M102.0 483.2h0M84.2 454.5h0M104.4 475.7h0M113.1 481.8h0M95.9 466.7h0M124.0 466.5h0M88.8 456.3h0M98.0 471.7h0M93.4 469.3h0M99.9 478.3h0M108.5 472.5h0M82.1 467.9h0M81.5 470.0h0M88.8 472.6h0M131.7 469.4h0M105.8 454.1h0M94.0 477.9h0M96.0 474.4h0M98.1 457.9h0M102.9 460.3h0M116.7 463.9h0M104.2 470.0h0M107.0 462.8h0M107.5 468.5h0M110.3 477.5h0M98.5 460.6h0M105.1 475.6h0M114.2 465.5h0M102.8 476.1h0M100.0 472.5h0M98.9 462.8h0M86.3 465.2h0M103.2 488.1h0M107.3 482.6h0M105.2 478.4h0M98.9 479.3h0M115.6 466.1h0M89.7 493.5h0M99.6 481.7h0M106.2 456.4h0M122.6 491.3h0M98.9 479.0h0M98.3 459.4h0M95.8 474.5h0M108.7 478.5h0M97.6 486.3h0M89.0 479.5h0M108.7 466.5h0M99.5 476.3h0M113.3 457.9h0M97.0 477.8h0M95.3 441.6h0M105.5 497.7h0M107.5 459.0h0M92.7 472.7h0M123.1 477.4h0M98.2 488.7h0M96.1 492.3h0M89.8 464.3h0M104.6 487.1h0M103.9 473.6h0M90.6 463.6h0M103.2 466.0h0M105.3 471.0h0M93.5 471.4h0M101.5 480.3h0M92.0 467.2h0M82.7 489.2h0M112.2 467.9h0M92.0 455.2h0M98.8 472.5h0M119.9 473.0h0M88.8 440.7h0M111.8 472.3h0M108.7 476.9h0M95.2 444.3h0M95.7 451.3h0M103.3 444.3h0M87.5 484.6h0M114.3 455.8h0M80.9 480.6h0M106.0 458.2h0M89.7 461.7h0M84.5 461.8h0M110.1 478.3h0M118.6 469.0h0M95.6 458.2h0M95.7 454.2h0M112.1 480.0h0M111.0 473.0h0M89.5 471.0h0M93.1 456.7h0M96.9 471.8h0M92.0 487.1h0M98.9 477.0h0M109.8 460.2h0M89.8 485.7h0M100.5 482.1h0M105.0 445.0h0M104.6 461.9h0M89.1 464.8h0M105.1 480.6h0M107.6 450.1h0M90.8 441.5h0M95.9 477.2h0M89.0 472.9h0M99.4 482.1h0M88.4 460.1h0M89.0 491.0h0M108.5 468.5h0M99.4 471.4h0M99.1 467.5h0M93.5 454.9h0M90.3 489.8h0M102.6 470.8h0M94.7 470.8h0M100.7 462.2h0M99.1 472.9h0M89.1 460.5h0M86.5 457.2h0M106.3 441.7h0M94.2 462.7h0M90.5 471.2h0M108.8 470.9h0M95.5 462.7h0M95.6 480.9h0M92.9 456.2h0M83.7 456.7h0M82.4 483.2h0M100.7 467.2h0M112.3 462.1h0M104.9 479.6h0M80.8 451.3h0M87.3 480.9h0M110.6 455.3h0M108.0 465.4h0M92.9 463.4h0M93.6 448.2h0M86.5 455.2h0M102.2 495.1h0M125.7 466.0h0M87.1 493.8h0M103.0 461.3h0M106.8 476.4h0M94.5 470.2h0M98.4 465.9h0M99.0 463.0h0M87.6 488.2h0M100.8 475.3h0M105.6 454.5h0M108.5 465.3h0M101.2 468.4h0M99.3 484.4h0M92.8 488.8h0M88.8 458.8h0M104.5 457.2h0M93.1 480.9h0M109.7 448.7h0M102.3 492.6h0M109.5 467.1h0M90.7 466.4h0M84.9 466.8h0M95.0 468.3h0M109.4 467.2h0M81.7 482.6h0M85.7 464.6h0M95.6 465.9h0M86.5 467.0h0M119.9 462.7h0M95.6 483.5h0M104.8 479.2h0M106.1 446.4h0M87.9 471.5h0M102.2 485.5h0M101.9 467.1h0M97.4 467.5h0M99.6 478.1h0M93.4 460.2h0M88.0 483.2h0M110.5 481.9h0M106.0 480.0h0M97.0 478.0h0M86.0 467.6h0M89.3 478.7h0M90.9 468.7h0M101.2 486.3h0M88.7 458.7h0M105.6 456.7h0M101.8 463.2h0M95.9 448.1h0M104.5 464.0h0M87.6 494.9h0M101.3 465.8h0M98.1 489.3h0M96.7 475.4h0M102.4 459.1h0M98.4 464.0h0M83.9 480.5h0M104.0 470.9h0M87.5 445.9h0M102.1 468.8h0M81.0 469.7h0M98.5 474.3h0M99.3 472.1h0M85.0 465.4h0M91.6 467.2h0M99.8 477.4h0M114.2 439.2h0M101.2 467.6h0M120.9 481.2h0M91.5 481.9h0M85.9 468.8h0M95.6 468.8h0M90.9 447.9h0M101.8 482.0h0M96.3 457.8h0M99.1 476.8h0M95.2 469.8h0M111.8 456.6h0M91.1 447.1h0M89.7 461.1h0M86.9 461.7h0M115.9 467.6h0M95.8 496.4h0M96.4 449.2h0M101.2 458.8h0M114.2 455.0h0M90.9 450.7h0M98.0 457.8h0M96.3 465.5h0M90.6 481.3h0M106.8 470.7h0M87.5 457.2h0M99.8 498.7h0M92.2 460.6h0M89.7 456.9h0M86.8 467.5h0M112.1 470.0h0M91.6 450.6h0M99.2 469.7h0M84.1 457.0h0M96.6 482.1h0M103.6 472.5h0M93.6 473.8h0M96.9 496.1h0M85.1 465.6h0M110.3 466.8h0M112.0 469.5h0M98.5 465.6h0M82.5 458.4h0M120.3 477.7h0M103.4 481.4h0M103.0 482.3h0M94.2 467.3h0M107.3 465.8h0M83.0 467.3h0M91.3 477.4h0M89.4 457.3h0M93.5 488.6h0M96.5 471.9h0M97.1 473.5h0M106.7 486.7h0M97.0 466.2h0M122.2 468.0h0M117.4 481.6h0M86.2 475.9h0M104.7 468.5h0M95.0 456.7h0M116.2 467.1h0M92.9 466.4h0M88.8 460.7h0M98.0 473.8h0M91.7 468.9h0M82.4 476.3h0M89.1 472.6h0M87.5 463.8h0M99.3 455.5h0M122.9 469.6h0M96.2 461.2h0M113.7 486.6h0M100.1 453.6h0M91.7 477.4h0M91.6 455.8h0M84.5 460.7h0M97.1 462.2h0M115.6 457.5h0M100.6 471.0h0M95.6 482.5h0M93.5 466.1h0M93.1 468.8h0M110.5 479.3h0M82.9 464.7h0M88.6 479.8h0M99.4 480.7h0M96.3 447.1h0M101.7 472.7h0M102.3 454.4h0M97.9 461.7h0M89.8 474.2h0M100.7 459.3h0M91.0 483.5h0M96.4 443.0h0M87.9 475.1h0M114.6 484.0h0M100.9 472.4h0M85.9 464.6h0M93.5 460.7h0M97.7 465.3h0M100.5 487.2h0M104.8 475.0h0M94.5 451.8h0M95.8 476.5h0M86.4 485.0h0M93.5 474.5h0M93.6 454.9h0M118.7 456.1h0M106.6 463.3h0M99.9 460.3h0M92.6 481.0h0M117.4 459.8h0M97.1 481.4h0M90.4 478.5h0M88.8 477.2h0M101.6 484.5h0M100.8 455.7h0M104.0 456.8h0M104.9 488.1h0M103.3 463.4h0M109.5 472.0h0M83.9 465.7h0M111.9 466.4h0M98.3 465.9h0M100.7 472.5h0M95.2 444.4h0M109.8 478.6h0M107.7 485.6h0M92.3 462.7h0M100.3 490.1h0M89.5 476.7h0M112.4 466.4h0M84.0 470.6h0M94.0 451.5h0M106.3 463.7h0M104.2 454.2h0M108.5 452.7h0M108.1 448.3h0M111.5 465.5h0M80.7 467.2h0M100.5 458.1h0M91.8 473.2h0M95.2 433.2h0M92.5 475.1h0M100.1 482.1h0M89.8 500.6h0M105.4 473.7h0M108.4 481.5h0M98.1 462.6h0M107.8 475.1h0M101.9 471.3h0M99.9 477.7h0M98.5 489.0h0M90.8 465.2h0M100.4 478.9h0M105.3 487.9h0M92.0 484.0h0M101.9 457.5h0M95.6 495.0h0M105.2 464.4h0M89.6 470.9h0M121.3 479.0h0M100.3 458.8h0M84.5 467.5h0M92.8 462.6h0M108.9 470.9h0M84.0 485.5h0M93.7 454.1h0M100.4 475.9h0M93.5 478.4h0M105.6 459.4h0M95.7 484.8h0M107.5 486.7h0M116.5 470.2h0M108.1 451.7h0M104.2 474.7h0M96.0 464.7h0M85.3 471.7h0M110.4 465.6h0M102.6 462.0h0M99.7 457.9h0M101.0 467.4h0M100.3 462.7h0M84.6 466.1h0M107.9 488.9h0M93.6 479.6h0M105.0 474.7h0M80.7 473.9h0M86.8 484.1h0M105.3 477.4h0M104.3 454.7h0M107.2 470.9h0M95.1 461.4h0M86.3 464.8h0M129.4 472.4h0M99.2 462.2h0M90.5 463.4h0M87.7 480.5h0M94.2 480.4h0M84.9 481.1h0M96.7 478.0h0M95.9 459.3h0M109.7 464.8h0M95.5 459.4h0M99.1 465.3h0M100.0 474.1h0M89.8 453.1h0M101.5 481.0h0M104.3 456.3h0M103.4 474.6h0M100.0 475.2h0M93.6 472.6h0M106.7 463.9h0M81.9 468.7h0M99.1 447.9h0M89.9 477.1h0M95.4 471.1h0M83.8 480.9h0M115.4 467.6h0M89.3 456.1h0M106.4 471.3h0M88.7 484.6h0M105.0 477.2h0M103.6 455.3h0M106.8 487.2h0M107.9 461.3h0M89.6 481.3h0M107.4 484.8h0M109.6 468.8h0M92.7 447.7h0M105.2 497.3h0M92.1 464.3h0M103.8 474.5h0M82.6 461.4h0M85.5 494.3h0M89.5 480.2h0M117.1 492.7h0M112.0 489.6h0M84.0 465.9h0M89.4 466.5h0M124.5 449.9h0M102.9 455.2h0M111.1 485.6h0M91.6 494.8h0M97.8 485.6h0M100.3 463.3h0M93.0 468.6h0M103.5 471.5h0M121.8 467.7h0M92.1 461.4h0M88.8 452.7h0M86.7 480.9h0M97.6 467.9h0M100.7 482.8h0M103.5 479.3h0M91.1 466.9h0M88.8 468.8h0M88.4 465.5h0M95.2 467.4h0M94.2 464.1h0M110.8 465.9h0M86.4 472.3h0M85.6 457.1h0M97.9 450.0h0M107.9 449.9h0M87.6 476.9h0M84.4 467.6h0M95.5 473.6h0M93.6 444.5h0M95.4 453.9h0M97.1 459.8h0M93.7 467.5h0M105.1 479.2h0M86.4 469.8h0M112.3 475.9h0M89.3 468.5h0M93.4 481.3h0M97.4 474.5h0M120.2 453.5h0M86.4 449.2h0M100.1 489.6h0M112.2 482.4h0M106.3 480.5h0M97.3 469.9h0M97.3 480.1h0M95.3 473.8h0M112.3 456.5h0M89.1 476.8h0M94.2 468.1h0M119.0 475.0h0M92.6 483.2h0M123.4 456.7h0M90.0 471.4h0M90.3 496.1h0M102.5 465.2h0M102.2 460.4h0M90.6 471.3h0M122.1 443.0h0M101.4 486.2h0M104.8 493.1h0M101.7 471.8h0M95.6 459.7h0M114.2 455.8h0M95.7 463.7h0M88.8 443.3h0M93.0 471.6h0M98.5 480.1h0M95.3 462.3h0M100.2 478.0h0M87.5 451.8h0M86.2 482.7h0M107.5 459.4h0M98.2 480.1h0M111.0 462.1h0M94.5 486.9h0M122.3 488.4h0M85.0 475.4h0M93.9 469.3h0M90.0 464.2h0M96.9 491.6h0M104.3 475.1h0M97.3 461.0h0M94.6 484.9h0M105.7 493.6h0M99.7 469.8h0M90.4 470.0h0M82.8 464.0h0M87.2 483.6h0M99.6 455.8h0M91.9 456.7h0M103.2 467.8h0M98.2 462.9h0M91.0 464.5h0M101.2 449.3h0M98.1 483.9h0M99.5 485.6h0M94.2 470.0h0M83.4 459.1h0M99.6 476.2h0M109.2 471.6h0M86.6 475.2h0M95.5 491.4h0M117.6 481.5h0M85.1 463.7h0M99.0 461.5h0M102.5 478.2h0M105.8 472.7h0M87.7 459.9h0M95.7 485.9h0M113.5 481.7h0M100.8 478.1h0M105.6 485.5h0M106.0 451.6h0M107.0 474.6h0M92.2 476.3h0M100.0 469.4h0M102.8 469.4h0M104.6 472.2h0M101.5 465.8h0M90.1 476.3h0M93.3 472.2h0M131.2 478.5h0M98.4 450.5h0M98.0 479.1h0M89.6 467.1h0M90.7 478.2h0M111.3 468.1h0M107.3 473.0h0M94.9 466.6h0M88.1 485.4h0M106.2 457.9h0M105.8 461.2h0M81.2 484.4h0M83.6 484.2h0M99.1 480.8h0M102.4 483.9h0M100.7 476.9h0M99.6 483.1h0M92.9 482.2h0M112.8 469.2h0M101.6 463.8h0M94.0 473.1h0M93.4 459.4h0M96.7 472.3h0M100.4 478.5h0M95.2 460.7h0M93.1 475.3h0M106.1 465.6h0M98.7 450.9h0M98.8 468.7h0M92.5 480.6h0M115.8 482.4h0M88.8 488.3h0M93.5 469.5h0M90.9 475.5h0M102.8 471.7h0M94.8 468.3h0M92.8 481.7h0M91.5 468.2h0M94.8 461.0h0M94.6 452.4h0M101.3 476.5h0M93.9 488.6h0M88.4 476.6h0M102.0 463.6h0M94.5 480.7h0M97.6 473.4h0M111.6 472.6h0M105.7 468.5h0M85.7 446.4h0M100.4 487.9h0M83.9 444.1h0M102.2 463.5h0M93.9 466.1h0M87.6 475.3h0M106.6 474.4h0M91.2 482.4h0M95.9 476.9h0M87.2 477.8h0M104.8 485.4h0M97.3 475.3h0M91.0 480.5h0M105.1 482.9h0M93.0 455.5h0M96.3 467.5h0M89.2 477.2h0M106.9 474.7h0M108.6 474.7h0M86.9 463.1h0M93.3 478.2h0M106.6 471.6h0M107.5 460.3h0M95.8 487.8h0M101.6 482.4h0M88.1 481.9h0M113.9 462.7h0M86.8 458.0h0M87.8 476.6h0M93.8 492.3h0M104.5 461.9h0M99.5 468.2h0M105.2 480.8h0M93.4 480.6h0M102.9 469.0h0M99.7 478.1h0M93.7 462.1h0M110.2 470.1h0M90.9 475.5h0M81.8 470.7h0M83.0 465.0h0M106.3 467.9h0M84.5 490.5h0M90.5 487.5h0M91.6 452.8h0M116.1 465.0h0M104.9 484.1h0M83.5 470.9h0M91.1 477.2h0M96.9 455.2h0M97.6 479.1h0M94.0 476.7h0M91.6 469.5h0M100.7 471.8h0M110.1 481.2h0M105.7 478.6h0M98.7 456.4h0M108.0 490.5h0M99.4 467.1h0M96.7 484.3h0M100.0 458.5h0M95.3 461.1h0M95.0 459.6h0M88.1 487.5h0M107.8 451.2h0M87.0 464.8h0M93.1 453.8h0M106.2 451.2h0M104.2 478.3h0M93.3 462.4h0M97.7 471.8h0M102.5 468.8h0M92.8 458.4h0M89.8 461.1h0M125.8 455.4h0M112.8 475.7h0M99.3 472.4h0M93.2 489.0h0M102.3 469.8h0M95.8 472.4h0M85.4 466.4h0M90.7 477.4h0M103.3 448.2h0M94.8 481.7h0M83.8 456.2h0M107.4 468.6h0M92.5 455.8h0M98.8 463.6h0M99.3 475.1h0M104.3 466.3h0M91.7 470.4h0M96.1 472.1h0M91.6 467.3h0M91.1 463.2h0M98.7 483.6h0M91.6 476.9h0M100.6 471.4h0M104.1 463.6h0M102.9 473.6h0M103.2 493.0h0M86.2 471.2h0M100.7 458.7h0M109.4 475.4h0M88.9 456.0h0M92.8 498.0h0M119.3 441.0h0M96.0 462.6h0M103.3 471.2h0M100.0 473.2h0M85.9 485.6h0M92.4 483.4h0M104.2 470.5h0M98.5 469.5h0M101.5 451.1h0M81.7 482.8h0M105.4 451.9h0M101.8 469.5h0M107.1 466.3h0M94.8 461.2h0M98.9 468.6h0M90.3 466.0h0M89.3 477.4h0M86.4 451.7h0M87.1 482.9h0M91.8 477.7h0M104.7 464.1h0M104.9 476.0h0M96.6 461.7h0M96.4 454.9h0M94.2 463.2h0M101.6 474.1h0M90.4 480.3h0M109.4 470.8h0M89.4 476.0h0M103.1 493.7h0M89.4 488.1h0M121.2 492.4h0M99.0 482.1h0M95.2 462.8h0M94.7 487.9h0M105.8 466.6h0M101.0 480.3h0M102.9 469.6h0M90.2 461.2h0M92.5 463.5h0M80.6 453.3h0M106.2 456.7h0M83.4 469.5h0M112.1 485.0h0M92.7 457.7h0M91.5 459.2h0M91.3 475.8h0M86.0 460.7h0M94.3 469.7h0M89.0 460.6h0M85.2 461.1h0M102.5 467.1h0M96.3 459.6h0M94.4 433.9h0M119.3 496.0h0M89.3 470.5h0M105.2 455.3h0M115.2 461.4h0M100.7 456.3h0M100.8 469.8h0M108.3 456.2h0M96.9 491.8h0M84.5 474.2h0M101.6 464.1h0M94.2 486.9h0M109.0 476.8h0M99.8 456.4h0M98.0 491.5h0M108.1 453.7h0M98.7 463.4h0M93.8 474.1h0M106.4 472.5h0M110.1 452.9h0M101.9 475.1h0M81.4 485.0h0M125.1 485.6h0M101.0 486.3h0M109.1 456.4h0M102.1 486.9h0M95.3 470.9h0M92.1 478.8h0M91.2 462.9h0M84.1 458.8h0M99.3 475.7h0M92.9 457.4h0M100.6 474.3h0M110.4 464.0h0M92.7 476.2h0M113.1 469.4h0M96.1 458.7h0M93.0 481.4h0M106.0 483.5h0M87.2 477.2h0M87.7 485.4h0M98.3 485.7h0M92.4 493.8h0M92.3 492.9h0M91.9 458.2h0M106.5 465.2h0M96.4 453.7h0M93.4 471.4h0M89.5 474.7h0M92.7 487.8h0M93.3 462.1h0M92.3 473.4h0M103.3 464.4h0M88.6 475.2h0M105.8 448.9h0M85.9 461.9h0M115.1 484.9h0M105.5 476.0h0M85.1 483.6h0M92.3 460.4h0M117.6 452.4h0M111.7 472.5h0M87.2 472.2h0M88.1 472.3h0M90.2 455.6h0M125.3 463.9h0M107.5 469.4h0M104.2 454.7h0M85.9 430.2h0M107.7 475.4h0M84.5 480.2h0M99.5 481.2h0M103.6 479.4h0M96.8 465.0h0M104.6 485.0h0M84.6 456.2h0M96.6 491.9h0M94.8 449.4h0M105.6 479.2h0M117.7 472.4h0M118.0 461.3h0M106.7 471.7h0M84.4 466.7h0M111.2 483.6h0M93.0 483.5h0M106.6 481.0h0M100.1 473.8h0M88.3 469.2h0M98.4 461.1h0M94.0 472.1h0M99.3 482.9h0M86.1 465.2h0M99.9 465.5h0M100.6 464.4h0M109.6 467.3h0M85.0 479.2h0M114.7 446.7h0M95.7 470.9h0M108.0 488.2h0M95.4 451.1h0M104.2 482.3h0M102.0 471.0h0M88.4 499.7h0M84.3 451.8h0M107.4 473.6h0M104.2 474.4h0M115.0 487.4h0M91.2 482.2h0M84.6 449.4h0M109.8 464.9h0M90.0 476.2h0M96.5 460.7h0M89.5 479.4h0M87.2 471.6h0M86.6 475.6h0M116.0 477.0h0M108.9 475.6h0M86.9 466.4h0M97.8 475.4h0M90.7 477.5h0M89.4 470.9h0M97.0 456.1h0M107.7 470.7h0M98.2 469.7h0M87.6 482.1h0M91.0 477.5h0M86.2 459.9h0M92.1 482.9h0M101.4 471.7h0M96.9 479.5h0M100.1 457.9h0M103.8 460.6h0M93.5 487.7h0M123.0 487.7h0M101.6 460.7h0M89.0 490.2h0M100.6 453.3h0M113.7 477.1h0M111.0 475.0h0M95.6 468.0h0M113.1 462.0h0M96.0 469.4h0M96.1 457.5h0M84.1 438.9h0M100.6 467.6h0M99.2 457.3h0M97.1 458.3h0M86.3 474.2h0M103.8 477.1h0M96.6 465.4h0M111.9 485.1h0M90.4 456.9h0M101.0 473.9h0M87.4 497.7h0M99.6 482.1h0M112.3 487.1h0M94.4 470.5h0M87.7 474.8h0M86.0 445.5h0M81.0 470.7h0M83.1 483.5h0M110.6 482.1h0M104.0 483.8h0M99.9 480.6h0M102.0 479.5h0M86.3 462.1h0M86.5 480.1h0M102.4 460.5h0M86.6 463.1h0M106.3 468.7h0M94.5 461.7h0M95.8 489.4h0M89.8 465.8h0M115.0 478.8h0M85.0 483.3h0M83.7 476.8h0M106.8 462.9h0M89.4 470.7h0M97.1 464.4h0M89.9 491.8h0M112.9 474.1h0M84.9 463.7h0M94.0 476.0h0M114.0 463.8h0M98.6 464.9h0M98.6 461.8h0M101.1 484.1h0M92.9 466.1h0M98.3 454.2h0M116.2 453.9h0M93.3 459.4h0M112.9 464.2h0M91.7 492.9h0M95.8 460.7h0M97.0 472.4h0M89.2 467.9h0M94.9 478.8h0M105.2 480.2h0M95.8 479.7h0M94.8 484.1h0M101.4 465.0h0M110.1 451.8h0M86.8 460.5h0M95.7 455.2h0M84.4 447.3h0M98.3 460.8h0M120.2 479.4h0M85.0 486.0h0M98.2 483.1h0M85.3 484.1h0M108.7 465.1h0M88.1 465.5h0M99.9 499.2h0M116.2 488.2h0M94.8 466.1h0M101.0 466.8h0M92.1 467.6h0M106.0 469.3h0M99.6 466.9h0M95.0 466.1h0M110.4 472.9h0M112.9 468.0h0M108.3 453.4h0M92.8 469.4h0M90.4 468.7h0M87.3 468.1h0M90.0 470.1h0M94.0 458.0h0M92.8 470.4h0M83.6 471.3h0M110.3 467.4h0M102.9 477.6h0M88.6 486.0h0M123.6 457.7h0M119.7 461.5h0M112.5 448.2h0M109.1 471.8h0M83.5 460.2h0M86.0 459.2h0M101.1 467.9h0M102.0 471.2h0M114.9 447.9h0M99.6 470.5h0M104.7 453.9h0M83.3 468.0h0M97.9 448.2h0M100.9 470.0h0M104.8 438.6h0M102.4 459.4h0M92.0 479.5h0M114.9 471.9h0M95.9 485.9h0M87.6 468.2h0M91.7 458.2h0M99.1 494.7h0M99.7 476.1h0M96.7 483.7h0M99.0 459.4h0M98.1 487.4h0M96.2 484.6h0M96.3 494.6h0M100.1 478.0h0M94.0 480.2h0M94.7 452.2h0M100.3 455.5h0M112.7 479.7h0M97.3 478.4h0M90.2 478.2h0M124.1 450.6h0M92.7 474.2h0M101.5 449.7h0M87.2 488.0h0M90.7 476.8h0M82.6 459.1h0M109.3 471.2h0M94.2 473.0h0M102.0 466.6h0M102.9 493.7h0M120.6 463.2h0M83.8 493.2h0M107.5 484.8h0M103.5 467.4h0M107.4 483.6h0M109.5 457.0h0M108.0 465.9h0M93.3 474.4h0M93.4 498.1h0M103.0 473.3h0M95.1 473.1h0M94.7 477.1h0M106.2 480.2h0M83.8 466.1h0M98.0 455.4h0M101.1 468.4h0M97.7 474.7h0M90.5 488.9h0M108.0 463.5h0M102.0 479.1h0M89.0 465.8h0M104.5 439.0h0M83.2 474.1h0M103.7 458.9h0M106.2 496.8h0M99.3 469.6h0M97.8 457.9h0M102.9 472.3h0M105.0 487.3h0M97.5 472.3h0M100.6 491.1h0M81.7 470.1h0M90.5 471.7h0M105.9 471.0h0M104.9 472.4h0M89.6 462.2h0M82.5 472.8h0M93.0 480.3h0M107.3 459.5h0M85.7 477.5h0M87.9 472.7h0M103.6 465.5h0M115.9 460.8h0M101.6 465.2h0M95.5 477.1h0M95.7 461.3h0M91.7 466.5h0M105.1 466.8h0M110.1 480.5h0M89.3 482.6h0M86.8 469.0h0M109.3 470.1h0M95.4 485.6h0M89.1 460.1h0M107.4 477.5h0M82.1 472.0h0M105.4 468.2h0M92.9 471.8h0M99.4 461.7h0M105.9 451.1h0M96.3 495.9h0M85.9 469.7h0M85.0 470.9h0M91.9 492.3h0M87.4 469.8h0M99.4 477.9h0M106.6 451.3h0M120.2 466.4h0M89.6 450.3h0M92.4 448.8h0M99.1 462.9h0M100.5 460.6h0M97.9 496.9h0M109.4 472.1h0M86.7 487.7h0M110.8 462.9h0M111.3 477.0h0M120.0 491.6h0M103.3 462.5h0M103.3 487.0h0M98.6 435.3h0M93.1 465.7h0M96.5 465.9h0M109.1 454.8h0M101.7 446.2h0M89.2 459.3h0M89.7 477.4h0M103.2 471.0h0M99.1 461.7h0M86.7 453.0h0M92.7 456.4h0M93.6 478.8h0M102.8 486.0h0M87.2 443.6h0M85.3 494.0h0M104.4 464.8h0M110.9 465.0h0M114.6 465.2h0M92.8 478.4h0M85.0 468.0h0M117.4 475.3h0M85.4 467.0h0M96.7 460.9h0M101.3 485.0h0M97.5 480.7h0M100.1 471.7h0M89.1 481.6h0M111.2 464.6h0M87.8 476.3h0M98.1 483.5h0M102.2 468.4h0M82.4 477.5h0M98.0 454.8h0M81.3 448.0h0M103.5 464.8h0M90.3 468.7h0M97.4 465.9h0M104.8 482.3h0M94.6 488.9h0M95.7 459.6h0M98.6 452.8h0M93.8 457.2h0M92.5 472.3h0M99.7 467.4h0M104.5 474.1h0M93.1 457.9h0M104.7 479.1h0M81.5 461.2h0M84.5 479.9h0M90.9 454.9h0M112.8 475.4h0M99.4 472.9h0M95.1 470.4h0M106.4 475.3h0M92.1 471.1h0M116.7 463.3h0M83.1 471.3h0M84.9 501.5h0M103.5 477.0h0M100.8 493.6h0M86.2 469.3h0M96.1 491.2h0M94.0 457.4h0M89.5 479.6h0M88.3 473.0h0M89.3 461.3h0M91.0 489.5h0M85.6 473.8h0M105.4 460.9h0M81.0 488.0h0M115.2 466.9h0M84.2 480.4h0M96.5 460.0h0M92.8 441.0h0M88.3 455.2h0M83.0 476.9h0M99.7 490.4h0M88.0 485.9h0M107.8 471.3h0M97.8 460.7h0M91.4 464.5h0M104.6 495.0h0M109.9 475.8h0M105.7 449.4h0M86.1 480.1h0M92.8 450.2h0M96.7 454.2h0" stroke="#3434f2" stroke-width="0.85" stroke-linecap="round" fill="none" opacity="0.4"/>
<path d="M91.8 490.3h0M78.1 463.9h0M98.5 469.4h0M94.0 458.7h0M87.7 438.5h0M89.6 486.6h0M78.2 467.3h0M100.4 485.8h0M105.9 458.1h0M86.7 492.8h0M86.1 473.5h0M81.5 461.1h0M65.1 456.4h0M79.8 487.5h0M101.0 475.0h0M85.4 451.4h0M97.6 458.8h0M90.3 482.1h0M89.4 469.3h0M79.6 483.5h0M98.2 479.0h0M111.5 448.3h0M92.0 478.1h0M95.8 473.7h0M97.4 449.5h0M90.7 485.0h0M91.0 467.1h0M102.0 446.6h0M96.5 489.7h0M88.6 458.8h0M98.1 463.7h0M81.7 471.8h0M71.5 478.5h0M77.1 462.4h0M100.5 469.2h0M94.8 487.8h0M110.2 497.2h0M85.0 481.8h0M71.6 480.2h0M107.5 460.1h0M97.3 480.7h0M89.7 461.3h0M110.0 452.3h0M93.7 482.2h0M94.5 490.5h0M109.7 475.8h0M113.3 479.6h0M76.7 465.4h0M95.0 472.2h0M71.1 500.0h0M72.7 454.8h0M97.1 472.3h0M110.4 472.6h0M96.3 479.3h0M82.8 452.6h0M86.1 483.1h0M88.3 486.2h0M85.0 479.7h0M92.1 480.8h0M91.9 472.3h0M86.0 486.2h0M91.3 476.3h0M99.7 458.0h0M81.7 469.2h0M107.2 455.8h0M79.4 456.7h0M87.0 455.7h0M81.8 476.7h0M78.5 469.6h0M77.4 467.1h0M98.1 443.3h0M92.4 472.7h0M91.0 473.1h0M96.8 452.7h0M90.3 478.3h0M107.5 451.8h0M84.5 451.8h0M91.5 455.7h0M79.8 479.9h0M119.0 442.6h0M111.8 457.7h0M100.1 474.4h0M106.8 467.0h0M81.7 469.0h0M101.4 458.0h0M96.7 469.7h0M94.0 469.9h0M99.1 480.4h0M88.3 465.2h0M65.7 458.2h0M73.3 478.7h0M78.7 460.6h0M98.2 482.9h0M106.6 458.6h0M94.7 483.8h0M81.5 466.8h0M77.0 461.4h0M100.4 471.0h0M87.4 462.5h0M110.2 479.7h0M76.8 498.3h0M86.8 467.8h0M85.9 462.3h0M99.6 450.8h0M92.2 465.5h0M113.0 475.0h0M97.1 476.7h0M99.0 471.5h0M62.2 475.4h0M88.0 479.1h0M95.6 462.7h0M81.0 456.5h0M95.3 468.5h0M81.1 465.1h0M96.1 461.1h0M90.3 461.9h0M60.5 471.1h0M92.6 480.5h0M107.6 460.4h0" stroke="#3434f2" stroke-width="0.85" stroke-linecap="round" fill="none" opacity="0.4"/>
<path d="M105.6 475.1h0M100.6 478.6h0M108.3 465.5h0M114.0 472.3h0M93.5 469.1h0M97.7 466.4h0M110.3 476.1h0M91.3 478.6h0M102.2 473.9h0M109.1 472.9h0M97.4 476.6h0M82.4 465.9h0M104.7 480.1h0M83.8 473.5h0M93.6 471.7h0M105.6 482.8h0M116.8 479.3h0M106.0 474.3h0M82.1 475.9h0M88.5 466.5h0M101.1 463.6h0M116.8 477.2h0M103.4 476.5h0M102.2 473.8h0M106.7 469.3h0M102.5 474.5h0M107.3 466.6h0M102.3 472.6h0M105.9 476.8h0M101.7 476.3h0M104.2 481.9h0M102.8 476.8h0M91.0 472.2h0M107.3 480.0h0M90.6 473.2h0M97.3 473.8h0M95.3 470.8h0M99.3 474.2h0M109.6 468.1h0M90.8 478.4h0M104.7 472.3h0M88.9 480.0h0M89.7 480.5h0M102.3 472.5h0M98.3 478.5h0M100.0 462.6h0M93.3 460.1h0M103.7 479.2h0M109.7 465.1h0M120.2 484.8h0M98.9 461.1h0M91.6 479.9h0M119.6 470.1h0M82.3 467.4h0M118.2 473.4h0M86.5 460.4h0M106.0 478.5h0M95.4 472.2h0M100.7 471.3h0M94.7 469.9h0M94.3 481.1h0M103.7 479.8h0M117.4 459.2h0M99.3 479.4h0M97.9 469.7h0M103.7 470.1h0M91.9 471.5h0M100.4 473.5h0M108.5 473.6h0M95.4 492.4h0M97.7 471.8h0M98.5 469.1h0M84.9 474.6h0M113.8 462.1h0M92.7 476.1h0M93.4 476.7h0M99.4 466.6h0M97.8 470.2h0M105.1 457.7h0M103.8 481.7h0M101.3 474.9h0M94.8 475.5h0M98.5 465.5h0M88.6 459.0h0M104.0 474.5h0M110.3 475.0h0M106.5 465.1h0M82.1 469.9h0M96.8 475.7h0M98.6 472.4h0M100.3 475.0h0M101.8 475.4h0M95.1 472.9h0M85.9 466.5h0M97.3 476.1h0M92.7 464.7h0M109.0 468.3h0M83.5 467.4h0M88.6 458.4h0M96.2 483.9h0M92.8 468.3h0M110.8 474.0h0M98.9 481.9h0M88.7 473.1h0M104.7 474.7h0M88.7 467.7h0M116.8 472.8h0M97.4 480.1h0M82.9 473.1h0M83.1 482.1h0M90.5 474.1h0M91.1 474.2h0M102.9 473.5h0M96.9 475.0h0M97.6 470.3h0M105.9 478.7h0M87.1 467.2h0M92.5 475.3h0M86.6 483.1h0M100.3 474.4h0M108.2 468.8h0M103.5 476.0h0M112.2 466.9h0M113.1 477.2h0M102.3 480.1h0M97.6 472.3h0M107.9 471.3h0M110.2 482.0h0M102.0 474.6h0M93.8 467.8h0M113.6 467.1h0M100.8 475.3h0M91.5 469.3h0M93.3 486.6h0M103.5 482.1h0M119.3 479.8h0M112.5 470.8h0M93.5 482.5h0M113.9 467.2h0M110.9 475.4h0M107.6 479.5h0M118.1 469.7h0M100.1 481.4h0M97.6 476.9h0M99.4 463.0h0M94.9 479.0h0M94.9 464.1h0M95.4 474.2h0M104.8 475.6h0M105.1 467.1h0M94.4 468.8h0M96.0 476.3h0M112.8 472.2h0M110.2 480.5h0M89.3 468.6h0M101.6 465.1h0M117.9 462.0h0M88.6 478.5h0M93.1 478.0h0M90.9 480.2h0M94.7 478.1h0M109.7 464.4h0M91.8 462.8h0M89.7 479.3h0M99.9 478.9h0M113.7 480.1h0M107.1 471.0h0M96.6 475.6h0M108.5 480.4h0M103.1 471.9h0M99.5 484.0h0M102.9 486.1h0M93.5 479.1h0M102.4 478.4h0M93.2 475.8h0M99.7 472.0h0M89.0 464.9h0M97.1 477.1h0M102.8 475.2h0M103.4 465.4h0M110.4 474.1h0M93.2 470.3h0M109.7 474.9h0M84.6 486.7h0M86.3 484.3h0M108.4 467.5h0M112.1 481.5h0M110.2 477.7h0M103.4 475.1h0M95.3 475.4h0M112.5 473.1h0M119.0 464.2h0M100.7 464.6h0M83.8 475.3h0M97.3 470.3h0M90.4 472.3h0M85.1 472.5h0M95.4 466.0h0M104.3 462.3h0M104.4 475.4h0M105.4 474.6h0M107.9 472.1h0M90.1 476.1h0M92.9 471.5h0M101.5 468.0h0M109.7 464.3h0M112.0 473.6h0M116.4 480.6h0M106.8 475.6h0M101.5 465.3h0M95.1 468.0h0M93.6 473.0h0M92.9 474.6h0M98.0 470.9h0M104.1 476.6h0M87.7 471.8h0M104.7 468.3h0M109.6 483.2h0M105.9 472.9h0M100.7 462.1h0M106.0 471.9h0M104.1 476.1h0M102.4 486.7h0M109.1 469.7h0M106.2 477.7h0M100.8 482.5h0M96.9 463.0h0M90.3 476.1h0M91.1 474.7h0M86.1 476.1h0M98.0 468.2h0M95.1 472.1h0M109.0 475.2h0M98.5 474.7h0M108.8 476.6h0M116.9 469.3h0M108.1 474.5h0M94.4 477.4h0M108.3 479.8h0M104.9 468.3h0M102.0 476.1h0M116.1 474.5h0M101.8 483.4h0M101.0 471.0h0M103.1 478.5h0M101.8 463.4h0M96.6 479.9h0M93.4 479.0h0M102.0 468.9h0M107.9 460.6h0M80.7 464.2h0M105.4 472.1h0M106.3 473.3h0M101.6 470.5h0M96.7 479.8h0M107.6 465.6h0M105.8 486.2h0M107.5 468.0h0M107.4 475.1h0M97.4 479.7h0M112.0 470.6h0M101.5 471.3h0M100.4 483.5h0M96.3 477.3h0M102.8 474.3h0M89.8 477.6h0M90.1 478.2h0M99.6 474.6h0M96.1 468.5h0M90.8 473.8h0M99.6 475.5h0M97.7 478.5h0M101.7 474.5h0M98.1 473.6h0M106.5 469.5h0M89.1 476.1h0M104.3 473.9h0M102.7 465.8h0M91.3 473.7h0M100.1 466.2h0M104.7 462.1h0M112.0 467.3h0M95.1 467.4h0M87.8 471.8h0M82.7 471.7h0M102.0 471.9h0M100.2 464.9h0M83.1 465.6h0M110.3 475.7h0M83.6 484.1h0M106.2 480.4h0M109.8 481.7h0M84.5 474.2h0M93.1 485.5h0M106.8 473.7h0M98.0 460.8h0M101.3 468.6h0M113.0 478.2h0M99.6 471.3h0M110.7 470.5h0M110.6 475.0h0M97.7 476.0h0M116.7 463.9h0M107.3 478.2h0M97.9 482.7h0M106.6 477.1h0M90.9 477.2h0M88.3 476.8h0M120.5 468.2h0M114.9 467.1h0M101.0 478.1h0M86.8 475.7h0M93.1 469.9h0M108.2 473.2h0M104.1 473.8h0M103.9 483.2h0M101.5 472.0h0M100.6 478.1h0M104.6 460.6h0M99.6 476.4h0M124.8 470.1h0M97.8 466.6h0M99.7 462.9h0M92.5 473.2h0M86.2 472.1h0M93.9 481.4h0M115.3 486.6h0M101.6 477.8h0M122.5 469.8h0M116.3 468.1h0M110.2 464.1h0M96.6 472.5h0M97.9 461.8h0M101.5 471.9h0M114.3 477.3h0M110.3 473.1h0M93.7 465.3h0M96.8 467.9h0M97.7 471.7h0M112.3 467.7h0M103.4 467.0h0M102.9 480.0h0M94.9 466.4h0M100.6 473.8h0M94.3 476.3h0M101.0 477.8h0M87.4 478.3h0M112.2 468.7h0M118.9 475.1h0M88.1 467.1h0M93.3 469.7h0M98.1 475.5h0M98.4 471.7h0M91.2 461.1h0M93.6 466.1h0M108.6 458.8h0M111.1 456.1h0M98.4 473.8h0M89.8 467.7h0M108.5 467.0h0M99.4 474.0h0M106.5 465.9h0M112.7 472.7h0M109.8 465.0h0M110.6 473.1h0M107.6 469.7h0M108.4 473.9h0M82.4 489.1h0M94.0 476.5h0M98.4 470.9h0M96.7 479.3h0M109.1 479.4h0M84.9 478.7h0M86.1 487.9h0M103.9 480.7h0M100.2 474.5h0M93.6 486.0h0M97.2 480.4h0M92.6 472.8h0M96.6 473.0h0M95.5 477.6h0M106.5 463.8h0M96.1 465.6h0M110.4 465.9h0M104.7 474.6h0M99.8 461.6h0M116.4 472.8h0M106.7 480.2h0M90.8 467.6h0M116.6 485.7h0M92.5 473.2h0M109.3 472.8h0M112.8 477.4h0M99.6 477.8h0M95.8 481.5h0M94.0 481.8h0M124.1 462.9h0M116.4 464.5h0M99.6 485.1h0M110.6 477.9h0M103.9 474.8h0M104.7 472.5h0M97.6 466.1h0M116.9 473.6h0M118.4 478.3h0M104.6 466.9h0M97.9 474.0h0M99.2 471.8h0M97.9 470.7h0M97.3 464.0h0M92.2 482.9h0M91.4 470.5h0M92.5 472.7h0M95.4 486.1h0M90.4 482.1h0M95.9 476.5h0M124.4 473.6h0M100.3 455.9h0M97.1 472.3h0M101.6 475.2h0M89.9 467.9h0M107.7 472.1h0M100.7 477.9h0M101.4 474.7h0M90.1 473.8h0M84.2 484.7h0M93.1 484.2h0M95.7 472.9h0M112.8 475.1h0M102.1 472.1h0M97.9 469.2h0M93.1 462.7h0M99.0 468.9h0M113.8 487.0h0M118.6 466.4h0M97.0 473.0h0M85.8 483.5h0M107.3 475.6h0M118.9 476.9h0M97.6 475.5h0M96.0 476.8h0M88.0 477.0h0M97.7 471.2h0M96.8 473.0h0M83.9 477.5h0M98.6 485.0h0M100.4 479.7h0M100.2 473.0h0M88.9 470.9h0M94.9 458.8h0M97.7 469.4h0M103.4 480.2h0M97.6 481.2h0M112.4 478.6h0M97.4 474.5h0M116.1 483.5h0M111.4 463.1h0M107.4 482.2h0M106.1 472.0h0M104.9 473.6h0M114.8 479.1h0M91.5 469.1h0M110.2 479.4h0M103.3 476.0h0M88.7 468.5h0M105.6 462.5h0M105.3 477.5h0M106.8 479.2h0M118.8 475.7h0M92.8 463.3h0M109.1 463.5h0M102.3 469.4h0M98.2 475.2h0M101.0 466.5h0M107.8 473.1h0M82.7 478.7h0M115.7 471.5h0M115.9 464.0h0M98.2 482.0h0M113.2 477.1h0M110.8 471.3h0M107.5 479.9h0M109.7 476.3h0M108.7 476.6h0M106.4 464.2h0M106.4 468.0h0M97.0 474.3h0M103.0 465.7h0M95.5 475.4h0M96.7 474.1h0M102.8 475.2h0M95.4 475.0h0M106.1 466.0h0M108.1 467.7h0M104.1 477.7h0M106.7 466.5h0M91.8 466.5h0M106.1 474.7h0M83.4 478.5h0M111.9 470.6h0M99.8 475.4h0M90.9 471.2h0M105.9 471.7h0M100.5 474.6h0M117.0 475.5h0M103.8 470.9h0M112.4 474.3h0M100.3 482.1h0M113.4 468.1h0M97.6 481.8h0M96.1 483.6h0M99.0 486.0h0M91.3 461.7h0M86.7 486.2h0M93.6 471.1h0M95.1 469.2h0M102.0 474.7h0M94.6 470.5h0M113.3 479.8h0M110.0 481.6h0M98.7 479.3h0M116.3 468.7h0M113.5 458.5h0M82.3 464.7h0M91.0 467.8h0M95.8 478.9h0M93.5 471.5h0M88.1 463.9h0M98.7 469.1h0M108.9 474.5h0M83.2 478.3h0M89.0 471.3h0M90.5 468.6h0M94.7 466.4h0M93.4 472.0h0M107.3 478.2h0M117.4 463.7h0M96.7 481.3h0M89.6 472.7h0M107.3 483.3h0M105.9 475.8h0M98.9 477.6h0M101.3 475.9h0M94.2 472.9h0M92.0 466.9h0M92.3 468.5h0M94.0 470.1h0M85.9 475.6h0M103.3 483.3h0M91.1 468.3h0M100.9 468.4h0M93.0 478.2h0M98.5 463.7h0M109.3 487.6h0M111.0 472.7h0M113.2 473.3h0M97.0 475.3h0M112.6 474.4h0M97.4 465.1h0M102.1 467.0h0M99.4 465.1h0M92.0 467.7h0M93.9 466.6h0M112.0 478.5h0M97.1 467.2h0M110.7 472.2h0M105.7 479.9h0M96.4 476.4h0M104.5 471.0h0M98.6 469.8h0M116.0 480.0h0M108.7 469.8h0M93.2 468.3h0M104.6 478.5h0M82.1 478.0h0M108.9 478.6h0M88.1 474.9h0M103.4 465.4h0M89.5 487.3h0M93.9 470.6h0M81.7 469.8h0M113.1 476.1h0M92.2 473.9h0M103.7 477.3h0M90.8 476.0h0M93.9 470.6h0M92.2 468.7h0M104.9 462.8h0M102.1 490.5h0M91.8 471.9h0M99.6 483.3h0M86.7 477.1h0M99.3 485.8h0M98.3 486.0h0M91.1 475.9h0M89.8 470.0h0M88.4 471.1h0M114.9 470.3h0M123.6 483.6h0M103.1 473.7h0M103.2 469.0h0M105.8 474.2h0M81.7 473.9h0M105.7 474.0h0M103.1 473.7h0M95.6 480.1h0M113.5 471.7h0M107.8 466.9h0M112.0 468.5h0M100.6 479.5h0M95.5 473.9h0M109.7 470.2h0M103.4 480.4h0M102.6 468.8h0M96.5 472.1h0M100.3 477.5h0M85.5 473.2h0M102.1 482.9h0M86.4 468.2h0M108.6 473.3h0M110.5 473.3h0M94.1 473.3h0M111.8 478.0h0M102.0 474.5h0M110.3 477.4h0M102.5 478.1h0M101.1 466.8h0M108.6 481.0h0M113.2 473.2h0M88.9 476.1h0M94.7 462.2h0M101.6 468.9h0M100.8 470.7h0M107.8 478.8h0M104.9 480.8h0M95.2 488.0h0M84.0 478.1h0M109.8 471.2h0M101.3 466.3h0M96.1 475.4h0M88.3 461.8h0M96.8 468.5h0M91.2 472.6h0M87.3 480.2h0M110.9 473.8h0M94.7 473.2h0M99.2 468.8h0M94.1 476.2h0M91.7 469.7h0M96.0 467.5h0M102.5 465.8h0M108.7 477.9h0M99.9 478.7h0M110.3 471.2h0M99.6 469.9h0M96.7 471.2h0M100.9 476.7h0M120.5 475.6h0M108.9 472.2h0M115.4 474.3h0M98.5 471.9h0M100.4 471.2h0M101.8 484.2h0M100.7 469.0h0M83.0 472.9h0M90.8 468.9h0M101.4 475.6h0M104.4 480.5h0M91.3 469.6h0M92.0 467.5h0M94.0 468.4h0M106.4 467.1h0M120.3 461.1h0M107.7 464.1h0M95.6 466.2h0M100.1 476.4h0M96.2 469.5h0M90.9 468.4h0M92.1 469.4h0M100.5 478.8h0M93.5 461.3h0M96.5 478.4h0M90.5 475.6h0M89.3 465.8h0M101.9 462.3h0M96.1 457.1h0M90.2 475.6h0M95.2 469.1h0M104.7 467.8h0M89.2 470.9h0M99.1 474.2h0M98.1 480.4h0M104.9 472.5h0M120.9 464.0h0M102.0 468.6h0M119.4 475.0h0M107.3 475.7h0M113.2 470.0h0M108.0 463.0h0M104.9 480.1h0M107.7 476.9h0M82.5 473.8h0M96.6 482.4h0M104.6 477.2h0M111.7 476.4h0M87.1 468.4h0M97.9 465.6h0M104.2 470.7h0M96.8 481.1h0M80.8 464.5h0M98.7 471.8h0M110.0 471.1h0M104.4 483.6h0M87.1 464.7h0M93.1 472.0h0M89.5 474.8h0M92.5 480.1h0M104.3 477.3h0M101.6 474.5h0M84.7 471.9h0M83.2 481.2h0M89.2 467.8h0M95.4 486.4h0M89.4 483.3h0M100.9 488.8h0M97.6 470.0h0M99.4 469.9h0M93.0 477.5h0M95.4 478.6h0M105.1 478.8h0M114.1 479.6h0M90.9 481.3h0M110.8 466.8h0M111.4 462.0h0M108.9 470.8h0M97.0 472.2h0M94.4 477.7h0M99.2 473.0h0M100.1 471.1h0M90.3 476.8h0M107.3 466.2h0M108.4 480.9h0M101.2 482.1h0M92.8 475.1h0M91.2 488.0h0M95.9 477.3h0M86.2 471.5h0M103.6 472.6h0M92.7 482.2h0M85.4 473.8h0M98.1 471.1h0M105.6 474.7h0M98.0 477.2h0M98.9 476.5h0M111.4 474.7h0M100.3 469.8h0M112.7 479.1h0M104.6 475.1h0M92.0 473.8h0M102.5 466.3h0M90.9 472.6h0M117.4 475.5h0M86.3 480.9h0M107.9 477.6h0M94.7 472.6h0M119.9 480.0h0M85.2 470.7h0M91.3 469.3h0M106.4 481.3h0M86.6 476.8h0M107.7 474.8h0M112.2 480.3h0M92.3 474.2h0M102.3 466.1h0M97.6 479.5h0M103.4 473.5h0M123.6 477.1h0M108.6 468.1h0M111.0 470.7h0M98.1 470.8h0M88.0 476.8h0M88.4 478.4h0M92.3 481.0h0M102.9 480.4h0M89.6 476.8h0M106.7 475.1h0M98.8 469.9h0M88.1 467.1h0M103.3 457.3h0M92.7 477.5h0M100.1 472.1h0M92.6 474.5h0M85.5 470.0h0M107.3 467.9h0M98.6 471.1h0M88.2 461.5h0M91.7 468.7h0M90.2 473.1h0M102.7 477.2h0M103.2 466.3h0M112.7 475.6h0M106.7 465.6h0M109.9 487.3h0M104.7 480.2h0M94.5 474.4h0M99.4 477.5h0M101.4 475.1h0M91.4 466.2h0M99.8 488.8h0M90.7 476.7h0M112.3 469.5h0M84.6 475.7h0M99.5 468.2h0M114.0 477.8h0M99.8 465.1h0M111.6 480.4h0M107.7 483.4h0M90.3 467.4h0M108.1 476.2h0M99.5 470.5h0M109.5 475.0h0M108.1 466.5h0M100.5 476.0h0M109.5 463.3h0M98.0 469.5h0M100.0 472.6h0M103.9 478.3h0M102.5 473.1h0M108.2 482.0h0M100.6 468.6h0M116.5 479.1h0M120.4 471.0h0M96.3 472.4h0M99.1 464.5h0M107.9 464.4h0M90.0 475.1h0M89.1 465.2h0M80.7 465.8h0M97.3 486.6h0M106.3 469.5h0M112.7 475.0h0M82.4 462.8h0M85.8 469.9h0M100.3 469.7h0M94.9 467.7h0M101.6 478.4h0M89.9 481.2h0M92.1 471.7h0M115.7 477.2h0M100.4 461.7h0M100.8 471.3h0M97.9 480.3h0M94.8 484.6h0M100.5 474.5h0M97.1 474.1h0M112.8 475.0h0M90.6 468.8h0M111.0 476.9h0M92.0 472.7h0M100.9 477.1h0M91.0 474.1h0M87.8 468.8h0M97.9 481.9h0M99.2 483.7h0M103.6 481.5h0M98.5 462.4h0M116.8 472.5h0M95.3 477.3h0M96.5 471.2h0M101.9 476.0h0M94.5 468.5h0M115.2 468.2h0M91.5 472.4h0M98.7 475.3h0M114.8 481.6h0M99.6 474.3h0M109.2 472.7h0M101.6 466.8h0M103.8 473.0h0M86.5 475.0h0M121.0 475.6h0M92.5 481.4h0M103.4 474.7h0M114.3 479.2h0M119.8 468.6h0M95.9 473.0h0M101.9 466.2h0M102.7 464.9h0M94.7 472.0h0M102.4 475.5h0M92.9 475.6h0M102.9 472.9h0M100.3 470.4h0M117.1 482.0h0M102.4 481.7h0M91.7 470.3h0M96.9 476.3h0M96.9 467.9h0M85.9 466.7h0M108.9 476.5h0M86.7 485.0h0M95.4 470.7h0M98.4 473.8h0M96.4 473.3h0M107.3 479.1h0M93.6 472.5h0M92.9 470.8h0M99.1 471.6h0M105.6 467.8h0M103.7 478.0h0M97.1 471.5h0M105.7 471.2h0M96.9 474.8h0M102.3 477.1h0M87.0 470.9h0M104.2 476.9h0M94.4 470.7h0M114.4 475.2h0M111.7 465.2h0M104.0 470.1h0M95.3 481.3h0M90.1 467.7h0M93.4 472.0h0M100.3 476.1h0M111.7 476.4h0M116.6 480.0h0M105.2 472.6h0M113.0 471.7h0M109.3 473.7h0M94.8 477.6h0M106.5 475.4h0M110.3 474.2h0M93.1 474.0h0M117.6 467.6h0M82.9 473.5h0M90.4 481.8h0M101.5 467.8h0M99.5 467.7h0M104.6 479.2h0M111.4 480.0h0M99.9 480.8h0M104.6 465.7h0M112.8 468.1h0M94.5 464.0h0M92.2 460.6h0M88.4 468.4h0M88.8 471.1h0M107.5 471.6h0M104.1 480.3h0M94.3 482.6h0M99.6 473.2h0M103.4 481.8h0M88.6 479.2h0M95.5 474.1h0M90.5 458.0h0M111.0 478.2h0M90.1 467.9h0M88.7 473.2h0M119.2 472.7h0M84.0 478.0h0M91.5 463.8h0M103.7 473.5h0M101.6 477.9h0M109.0 460.7h0M101.6 480.6h0M111.7 467.2h0M82.8 466.7h0M103.7 472.3h0M107.7 472.4h0M88.0 466.7h0M97.8 478.6h0M113.9 467.4h0M104.2 473.1h0M89.1 466.2h0M114.7 470.8h0M99.2 476.3h0M103.4 477.8h0M92.4 471.2h0M102.4 475.6h0M93.1 463.0h0M108.1 478.7h0M108.9 472.8h0M83.1 471.1h0M119.1 475.4h0M102.4 463.5h0M93.9 479.5h0M103.1 472.7h0M111.8 477.9h0M105.2 472.5h0M104.0 479.9h0M103.0 465.8h0M98.3 471.8h0M103.9 481.3h0M99.3 470.8h0M107.0 476.4h0M92.6 476.4h0M101.8 475.6h0M85.6 461.3h0M85.8 463.1h0M109.2 479.6h0M87.8 482.5h0M89.3 468.5h0M120.4 465.6h0M106.6 478.6h0M110.5 477.6h0M102.4 483.0h0M99.3 474.1h0M103.8 471.4h0M98.7 481.0h0M115.3 477.2h0M99.0 470.5h0M96.4 471.3h0M95.9 473.0h0M97.9 480.1h0M86.7 471.0h0M107.7 471.0h0M96.2 476.9h0M99.3 467.6h0M101.5 477.4h0M84.1 479.1h0M83.9 477.8h0M87.7 475.0h0M99.7 479.9h0M99.4 470.9h0M93.0 474.8h0M97.8 478.9h0M104.0 481.2h0M106.8 474.7h0M99.5 477.4h0M107.3 465.4h0M103.9 471.4h0M103.1 478.5h0M82.0 472.9h0M109.5 462.9h0M102.2 473.7h0M94.8 479.1h0M108.8 473.7h0M113.4 482.6h0M102.1 478.8h0M108.4 484.2h0M107.8 477.8h0M101.3 478.1h0M115.0 473.2h0M99.2 467.7h0M124.4 471.2h0M95.5 470.2h0M111.4 475.8h0M81.1 474.6h0M117.5 473.4h0M101.4 491.4h0M98.0 472.4h0M106.3 488.6h0M104.4 463.7h0M98.9 472.4h0M107.4 471.5h0M101.6 465.9h0M88.4 474.1h0M115.7 467.7h0M85.4 481.0h0M104.0 478.6h0M98.7 475.2h0M99.5 473.7h0M117.2 471.3h0M96.6 473.8h0M98.7 484.1h0M98.9 476.2h0M88.8 477.1h0M106.5 477.8h0M85.3 469.9h0M99.4 483.8h0M118.5 480.1h0M94.4 472.4h0M107.8 461.7h0M113.5 482.8h0M108.6 472.0h0M103.8 463.9h0M91.4 471.0h0M93.3 484.0h0M104.7 458.9h0M111.2 476.8h0M98.2 469.3h0M119.9 475.2h0M102.9 463.9h0M94.9 479.3h0M101.6 471.0h0M97.5 463.9h0M86.6 464.0h0M103.3 479.5h0M97.1 480.5h0M100.8 454.4h0M115.7 467.0h0M115.3 472.0h0M99.7 470.8h0M90.8 477.4h0M116.1 481.7h0M95.1 476.8h0M110.3 477.3h0M88.0 486.4h0M93.3 468.6h0M101.7 475.1h0M95.0 465.6h0M88.7 473.7h0M82.5 480.7h0M106.5 475.0h0M102.3 468.3h0M95.0 479.2h0M95.4 483.5h0M110.0 478.0h0M98.1 468.0h0M98.9 467.7h0M96.8 471.5h0M95.0 480.7h0M91.9 469.0h0M111.5 475.3h0M105.0 469.8h0M103.4 481.8h0M100.5 476.4h0M111.9 477.4h0M112.0 466.3h0M83.6 466.7h0M104.4 469.5h0M81.2 484.9h0M112.7 470.4h0M94.0 469.4h0M107.1 476.5h0M101.6 482.2h0M92.5 466.3h0M100.3 473.4h0M101.2 476.2h0M85.6 483.5h0M83.3 475.7h0M103.6 478.8h0M102.4 468.6h0M98.4 465.2h0M98.7 472.3h0M82.5 487.3h0M94.6 477.0h0M112.7 473.5h0M96.4 466.8h0M93.3 469.2h0M98.8 478.6h0M102.1 482.9h0M104.0 475.1h0M102.8 464.5h0M99.7 469.3h0M98.2 473.4h0M97.6 473.3h0M103.6 475.6h0M93.9 479.3h0M100.8 475.9h0M116.8 484.0h0M120.9 472.2h0M104.2 476.6h0M101.2 472.7h0M108.2 480.7h0M121.1 470.4h0M104.6 469.0h0M97.7 459.0h0M120.4 463.8h0M101.3 462.6h0M97.0 467.3h0M98.1 472.9h0M81.8 477.6h0M97.2 466.6h0M114.6 469.3h0M102.4 483.0h0M100.8 473.0h0M109.3 471.0h0M100.9 472.7h0M96.6 478.3h0M102.8 482.4h0M103.9 464.9h0M103.9 471.9h0M97.8 479.6h0M104.1 463.7h0M119.3 472.8h0M84.7 471.6h0M104.8 466.7h0M92.0 462.5h0M102.7 470.3h0M114.6 475.3h0M102.5 469.8h0M109.5 465.1h0M102.8 476.6h0M92.7 466.3h0M111.1 484.9h0M103.9 485.0h0M104.5 472.4h0M96.4 466.0h0M108.9 470.1h0M94.1 475.9h0M104.8 469.0h0M102.1 472.6h0M101.4 472.7h0M96.1 458.5h0M94.5 481.0h0M97.0 474.7h0M105.9 467.4h0M100.8 471.9h0M103.6 477.3h0M100.8 472.3h0M109.2 474.3h0M86.1 481.3h0M104.4 469.9h0M99.6 467.7h0M101.4 464.4h0M109.7 476.5h0M90.7 476.7h0M86.3 470.3h0M90.6 477.8h0M106.7 465.2h0M101.8 476.7h0M96.8 488.6h0M85.2 481.8h0M114.4 471.4h0M89.3 481.0h0M86.5 473.4h0M94.7 465.5h0M105.4 480.7h0M87.1 477.6h0M101.0 469.3h0M95.0 477.0h0M110.7 471.8h0M103.8 461.5h0M95.1 473.4h0M97.2 475.4h0M91.6 477.5h0M94.4 472.7h0M106.2 481.9h0M90.3 472.9h0M90.3 473.8h0M94.4 466.0h0M110.6 475.7h0M100.0 481.7h0M84.4 475.9h0M115.3 471.2h0M91.7 468.5h0M111.7 480.1h0M103.0 479.2h0M93.6 471.1h0M107.8 467.6h0M102.0 473.3h0M91.8 474.7h0M87.8 469.4h0M81.1 465.6h0M91.5 475.7h0M100.0 465.6h0M97.5 487.4h0M100.6 475.9h0M110.7 464.5h0M91.3 468.7h0M98.6 477.1h0M83.2 477.6h0M103.7 466.1h0M91.7 470.0h0M115.0 467.0h0M108.9 485.5h0M96.0 468.2h0M99.7 467.0h0M96.1 466.6h0M85.4 463.3h0M108.4 469.0h0M88.6 479.9h0M97.9 471.1h0M92.3 473.2h0M96.6 470.5h0M97.9 478.0h0M97.7 481.4h0M108.9 466.8h0M90.3 465.1h0M92.2 477.6h0M96.2 470.1h0M100.4 459.5h0M102.6 472.0h0M105.8 471.3h0M109.0 479.8h0M96.6 476.7h0M90.8 468.7h0M88.9 471.8h0M87.8 466.3h0M97.3 464.0h0M105.0 467.3h0M97.0 471.2h0M109.1 476.8h0M97.1 469.4h0M107.6 472.2h0M89.3 473.9h0M105.4 472.8h0M99.9 482.3h0M94.4 477.8h0M114.3 483.7h0M88.3 476.4h0M100.7 488.0h0M111.6 479.4h0M110.7 476.6h0M89.4 487.1h0M83.2 477.9h0M106.9 474.3h0M109.1 473.0h0M107.2 474.6h0M92.4 479.3h0M94.0 477.1h0M89.4 474.6h0M104.7 480.3h0M89.0 469.7h0M99.3 466.7h0M105.2 487.9h0M106.0 477.1h0M91.5 476.7h0M104.6 485.4h0M96.1 480.9h0M96.1 471.4h0M95.4 474.9h0M85.2 470.9h0M113.7 461.9h0M108.0 478.0h0M95.4 468.3h0M110.4 471.0h0M102.4 471.8h0M88.8 479.7h0M105.8 467.3h0M110.1 465.4h0M87.2 478.5h0M95.4 473.2h0M114.8 466.4h0M105.4 470.7h0M100.4 471.8h0M91.9 473.5h0M90.7 473.3h0M90.4 471.5h0M100.8 464.4h0M98.9 477.6h0M100.7 479.0h0M90.0 476.8h0M102.5 456.0h0M99.4 478.7h0M98.9 473.4h0M98.3 472.2h0M89.5 468.9h0M99.3 474.6h0M105.5 476.4h0M98.8 463.4h0M88.1 483.7h0M103.6 477.3h0M89.4 470.2h0M102.1 468.3h0M110.9 468.4h0M95.4 466.0h0M102.9 481.3h0M101.5 473.1h0M96.1 478.2h0M99.5 484.1h0M97.0 470.8h0M94.5 461.3h0M101.7 474.0h0M84.3 465.9h0M89.3 471.2h0M89.8 477.9h0M110.9 469.1h0M99.7 466.6h0M112.1 466.4h0M92.0 473.2h0M91.8 489.9h0M97.7 471.7h0M90.1 472.7h0M93.7 470.6h0M109.0 469.5h0M103.5 469.3h0M109.1 468.4h0M90.3 471.6h0M111.4 470.7h0M91.2 472.2h0M92.7 474.8h0M93.0 475.1h0" stroke="#3434f2" stroke-width="0.85" stroke-linecap="round" fill="none" opacity="0.9"/>
<path d="M98.5 432.0h0M102.5 430.3h0M104.7 439.0h0M90.9 434.5h0M87.9 425.7h0M92.1 420.4h0M94.7 426.8h0M105.6 434.5h0M91.1 421.5h0M89.2 421.3h0M87.8 427.6h0M83.9 424.8h0M95.8 422.3h0M85.4 423.0h0M98.2 420.7h0M102.7 412.6h0M87.4 433.0h0M101.4 425.7h0M81.9 425.0h0M86.8 421.4h0M90.2 422.1h0M92.4 428.8h0M90.8 411.5h0M93.1 423.7h0M86.6 446.3h0M103.4 439.5h0M94.1 423.1h0M95.7 442.1h0M92.1 426.2h0M88.9 426.9h0M98.1 419.3h0M99.5 428.8h0M107.1 429.3h0M100.9 418.7h0M108.3 428.3h0M92.2 441.0h0M93.7 416.5h0M96.6 432.5h0M92.6 423.4h0M82.2 442.6h0M89.9 430.8h0M89.5 421.2h0M94.5 419.7h0M98.8 413.2h0M96.6 438.2h0M89.9 429.5h0M98.1 423.7h0M91.2 426.0h0M110.4 420.3h0M91.6 423.6h0M89.2 419.4h0M88.5 429.1h0M100.3 442.2h0M84.5 418.9h0M92.5 418.9h0M87.7 425.6h0M89.1 420.1h0M94.1 420.7h0M91.0 430.5h0M97.4 429.5h0M99.8 429.0h0M83.2 440.8h0M111.2 434.9h0M103.1 437.5h0M89.9 433.3h0M88.3 422.6h0M96.4 428.5h0M88.5 415.0h0M98.0 427.7h0M93.7 419.8h0M87.8 427.3h0M80.8 438.5h0M92.9 437.5h0M99.0 422.6h0M96.1 417.7h0M86.9 439.6h0M89.4 420.8h0M95.9 427.9h0M99.1 416.4h0M91.2 418.1h0M93.0 425.3h0M86.7 412.2h0M84.1 436.1h0M90.4 418.0h0M93.9 417.7h0M98.8 435.5h0M93.1 422.6h0M81.0 432.1h0M105.9 429.5h0M89.3 434.9h0M90.3 416.9h0M92.1 433.1h0M81.0 437.0h0M103.3 427.5h0M89.7 415.1h0M96.3 425.3h0M100.7 441.7h0M100.8 429.4h0M81.1 439.5h0M89.7 423.5h0M99.8 432.0h0M86.1 424.8h0M91.0 426.4h0M85.2 441.1h0M92.0 433.6h0M99.7 447.2h0M97.5 421.3h0M90.0 435.6h0M103.5 414.7h0M105.2 422.8h0M91.6 423.9h0M96.7 426.1h0M92.6 419.6h0M102.3 431.0h0M92.6 446.8h0M97.1 440.1h0M91.1 429.1h0M91.9 435.6h0M94.7 412.7h0M96.6 425.9h0M94.5 436.4h0M91.1 433.5h0M93.0 427.1h0M89.6 426.9h0M90.9 434.9h0M78.1 433.0h0M92.4 418.5h0M98.0 427.6h0M96.5 439.8h0M94.3 413.7h0M82.6 427.4h0M85.1 447.0h0M92.3 411.9h0M78.9 423.0h0M77.3 432.2h0M78.0 435.7h0M89.8 437.9h0M85.4 423.8h0M100.0 413.5h0M97.2 440.8h0M86.5 426.5h0M103.6 441.1h0M103.4 427.0h0M90.6 426.4h0M90.5 435.3h0M98.4 432.5h0M88.5 434.9h0M96.1 430.0h0M100.9 424.6h0M93.8 437.8h0M88.1 435.9h0M97.7 441.3h0M101.3 422.8h0M104.6 423.8h0M85.3 425.5h0M90.7 420.0h0M99.3 432.6h0M97.0 415.7h0M104.8 432.2h0M100.5 431.2h0M95.4 434.8h0M94.1 440.3h0M89.7 409.9h0M90.7 427.9h0M95.7 428.9h0M95.8 432.0h0M91.9 432.9h0M96.6 421.1h0M81.7 430.0h0M96.2 437.6h0M100.2 430.7h0M100.6 422.9h0M90.0 440.1h0M85.4 427.9h0M86.3 417.3h0M106.8 412.3h0M104.5 424.1h0M88.2 413.3h0M94.5 433.6h0M96.8 420.0h0M103.7 429.9h0M96.4 433.4h0M96.7 425.2h0M95.4 421.7h0M94.7 419.5h0M83.9 422.8h0M92.1 422.0h0M91.1 423.2h0M93.4 443.6h0M96.9 435.6h0M99.5 435.8h0M95.8 435.6h0M100.0 426.7h0M91.3 428.0h0M92.8 432.2h0M90.3 424.4h0M94.6 432.5h0M92.4 414.9h0M91.5 435.6h0M91.7 439.2h0M89.9 426.0h0M98.2 438.4h0M91.2 441.1h0M94.3 431.7h0M104.6 435.5h0M91.7 427.6h0M87.3 438.0h0M95.4 444.7h0M100.9 428.3h0M89.3 425.4h0M101.1 427.1h0M100.4 439.1h0M102.7 430.4h0M97.7 416.9h0M95.3 428.5h0M99.1 412.7h0M94.2 424.1h0M93.8 427.0h0M91.0 433.5h0M94.9 438.3h0M109.2 434.6h0M95.4 441.2h0M84.3 444.1h0M85.9 424.1h0M93.5 416.5h0M89.2 429.7h0M95.8 415.9h0M74.1 434.1h0" stroke="#3434f2" stroke-width="0.85" stroke-linecap="round" fill="none" opacity="0.5"/>
<path d="M82.5 434.4h0M111.8 439.7h0M97.6 423.2h0M147.7 429.1h0M91.3 414.9h0M101.8 450.5h0M114.9 419.8h0M86.3 423.0h0M105.0 433.7h0M112.1 443.3h0M87.0 412.1h0M104.1 437.2h0M97.7 433.5h0M104.1 443.9h0M102.4 424.8h0M112.3 442.0h0M96.4 429.0h0M95.3 416.9h0M138.8 423.1h0M100.8 426.3h0M94.0 428.7h0M104.0 434.7h0M97.6 413.6h0M103.4 438.6h0M122.7 429.3h0M101.6 421.5h0M125.8 423.2h0M98.2 429.7h0M102.1 431.0h0M111.1 450.3h0M112.3 435.2h0M85.1 456.4h0M112.4 440.7h0M100.8 429.3h0M100.1 428.2h0M99.8 439.6h0M120.0 429.8h0M101.2 440.2h0M102.4 436.8h0M96.3 446.8h0M98.9 436.9h0M128.9 435.0h0M101.7 439.1h0M100.0 428.6h0M117.2 412.5h0M116.5 431.1h0M113.1 418.3h0M107.1 437.4h0M104.3 427.7h0M114.6 431.1h0M120.6 441.8h0M103.4 427.4h0M114.9 424.0h0M87.5 445.1h0M86.1 425.5h0M123.3 435.9h0M120.4 448.0h0M108.1 412.8h0M115.6 413.3h0M103.6 431.5h0M110.1 430.0h0M123.1 434.3h0M120.2 429.4h0M105.7 432.3h0M112.0 439.7h0M98.5 437.7h0M114.2 428.9h0M102.3 423.2h0M89.0 433.3h0M95.2 449.3h0M109.8 451.2h0M107.0 413.2h0M111.3 432.8h0" stroke="#3434f2" stroke-width="0.85" stroke-linecap="round" fill="none" opacity="0.45"/>
<clipPath id="dc1"><rect x="81" y="400" width="120" height="110"/></clipPath>
<g clip-path="url(#dc1)"><g filter="url(#rough)"><g transform="rotate(0 93.4 473.6)">
<ellipse cx="98.0" cy="472.5" rx="23" ry="11.5" fill="#3434f4"/>
<ellipse cx="96.5" cy="473.3" rx="19" ry="8.5" fill="#1a7cf6"/>
<ellipse cx="95.5" cy="473.5" rx="17" ry="7" fill="#10c0e6"/>
<ellipse cx="94.0" cy="473.6" rx="11.7" ry="5" fill="#2cd46a"/>
<ellipse cx="93.6" cy="473.6" rx="8.5" ry="4" fill="#9ce032"/>
<ellipse cx="93.5" cy="473.6" rx="6" ry="3.3" fill="#ece222"/>
<ellipse cx="93.4" cy="473.6" rx="4.3" ry="2.3" fill="#ff8a14"/>
<ellipse cx="93.4" cy="473.6" rx="2.2" ry="1.3" fill="#f22a14"/>
</g></g></g>
<rect x="73.60" y="405.80" width="80.90" height="38.30" fill="none" stroke="#505050" stroke-width="0.9" />
<text x="139.30" y="416.90" font-size="4.7" text-anchor="middle" fill="#000" >T cells</text>
<text x="139.30" y="422.80" font-size="4.7" text-anchor="middle" fill="#000" >0.81</text>
<text x="36.20" y="513.80" font-size="3.8" text-anchor="middle" fill="#000" transform="rotate(-90 36.20 513.80)" >CD3</text>
<text x="43.60" y="525.20" font-size="4.5" text-anchor="start" fill="#222" >FSC-A</text>
<rect x="189.90" y="404.30" width="100.20" height="100.10" fill="#fff" stroke="#9a9a9a" stroke-width="0.4" />
<line x1="189.90" y1="404.30" x2="189.90" y2="504.40" stroke="#222" stroke-width="0.6" />
<line x1="189.90" y1="504.40" x2="290.10" y2="504.40" stroke="#222" stroke-width="0.6" />
<line x1="188.60" y1="415.20" x2="189.90" y2="415.20" stroke="#222" stroke-width="0.4" />
<text x="187.70" y="416.20" font-size="3.5" text-anchor="end" fill="#222" >10<tspan dy="-1.1" font-size="2.4">5</tspan></text>
<line x1="188.60" y1="439.70" x2="189.90" y2="439.70" stroke="#222" stroke-width="0.4" />
<text x="187.70" y="440.70" font-size="3.5" text-anchor="end" fill="#222" >10<tspan dy="-1.1" font-size="2.4">4</tspan></text>
<line x1="188.60" y1="467.80" x2="189.90" y2="467.80" stroke="#222" stroke-width="0.4" />
<text x="187.70" y="468.80" font-size="3.5" text-anchor="end" fill="#222" >10<tspan dy="-1.1" font-size="2.4">3</tspan></text>
<line x1="188.60" y1="475.40" x2="189.90" y2="475.40" stroke="#222" stroke-width="0.4" />
<text x="187.70" y="476.40" font-size="3.5" text-anchor="end" fill="#222" >0<tspan dy="-1.1" font-size="2.4"></tspan></text>
<line x1="188.60" y1="484.00" x2="189.90" y2="484.00" stroke="#222" stroke-width="0.4" />
<text x="187.70" y="485.00" font-size="3.5" text-anchor="end" fill="#222" >-10<tspan dy="-1.1" font-size="2.4">3</tspan></text>
<line x1="189.10" y1="407.00" x2="189.90" y2="407.00" stroke="#222" stroke-width="0.3" />
<line x1="189.10" y1="409.00" x2="189.90" y2="409.00" stroke="#222" stroke-width="0.3" />
<line x1="189.10" y1="411.00" x2="189.90" y2="411.00" stroke="#222" stroke-width="0.3" />
<line x1="189.10" y1="420.00" x2="189.90" y2="420.00" stroke="#222" stroke-width="0.3" />
<line x1="189.10" y1="424.00" x2="189.90" y2="424.00" stroke="#222" stroke-width="0.3" />
<line x1="189.10" y1="428.00" x2="189.90" y2="428.00" stroke="#222" stroke-width="0.3" />
<line x1="189.10" y1="432.00" x2="189.90" y2="432.00" stroke="#222" stroke-width="0.3" />
<line x1="189.10" y1="436.00" x2="189.90" y2="436.00" stroke="#222" stroke-width="0.3" />
<line x1="189.10" y1="445.00" x2="189.90" y2="445.00" stroke="#222" stroke-width="0.3" />
<line x1="189.10" y1="450.00" x2="189.90" y2="450.00" stroke="#222" stroke-width="0.3" />
<line x1="189.10" y1="455.00" x2="189.90" y2="455.00" stroke="#222" stroke-width="0.3" />
<line x1="189.10" y1="460.00" x2="189.90" y2="460.00" stroke="#222" stroke-width="0.3" />
<line x1="189.10" y1="464.00" x2="189.90" y2="464.00" stroke="#222" stroke-width="0.3" />
<line x1="189.10" y1="488.00" x2="189.90" y2="488.00" stroke="#222" stroke-width="0.3" />
<line x1="189.10" y1="492.00" x2="189.90" y2="492.00" stroke="#222" stroke-width="0.3" />
<line x1="189.10" y1="496.00" x2="189.90" y2="496.00" stroke="#222" stroke-width="0.3" />
<line x1="189.10" y1="500.00" x2="189.90" y2="500.00" stroke="#222" stroke-width="0.3" />
<rect x="187.30" y="474.50" width="2.40" height="1.80" fill="#000" stroke="none" stroke-width="1" />
<line x1="190.40" y1="504.40" x2="190.40" y2="505.70" stroke="#222" stroke-width="0.4" />
<text x="190.40" y="510.60" font-size="3.5" text-anchor="middle" fill="#222" >0</text>
<line x1="214.15" y1="504.40" x2="214.15" y2="505.70" stroke="#222" stroke-width="0.4" />
<text x="214.15" y="510.60" font-size="3.5" text-anchor="middle" fill="#222" >1.0M</text>
<line x1="237.90" y1="504.40" x2="237.90" y2="505.70" stroke="#222" stroke-width="0.4" />
<text x="237.90" y="510.60" font-size="3.5" text-anchor="middle" fill="#222" >2.0M</text>
<line x1="261.65" y1="504.40" x2="261.65" y2="505.70" stroke="#222" stroke-width="0.4" />
<text x="261.65" y="510.60" font-size="3.5" text-anchor="middle" fill="#222" >3.0M</text>
<line x1="285.40" y1="504.40" x2="285.40" y2="505.70" stroke="#222" stroke-width="0.4" />
<text x="285.40" y="510.60" font-size="3.5" text-anchor="middle" fill="#222" >4.0M</text>
<line x1="195.15" y1="504.40" x2="195.15" y2="505.20" stroke="#222" stroke-width="0.3" />
<line x1="199.90" y1="504.40" x2="199.90" y2="505.20" stroke="#222" stroke-width="0.3" />
<line x1="204.65" y1="504.40" x2="204.65" y2="505.20" stroke="#222" stroke-width="0.3" />
<line x1="209.40" y1="504.40" x2="209.40" y2="505.20" stroke="#222" stroke-width="0.3" />
<line x1="214.15" y1="504.40" x2="214.15" y2="505.20" stroke="#222" stroke-width="0.3" />
<line x1="218.90" y1="504.40" x2="218.90" y2="505.20" stroke="#222" stroke-width="0.3" />
<line x1="223.65" y1="504.40" x2="223.65" y2="505.20" stroke="#222" stroke-width="0.3" />
<line x1="228.40" y1="504.40" x2="228.40" y2="505.20" stroke="#222" stroke-width="0.3" />
<line x1="233.15" y1="504.40" x2="233.15" y2="505.20" stroke="#222" stroke-width="0.3" />
<line x1="237.90" y1="504.40" x2="237.90" y2="505.20" stroke="#222" stroke-width="0.3" />
<line x1="242.65" y1="504.40" x2="242.65" y2="505.20" stroke="#222" stroke-width="0.3" />
<line x1="247.40" y1="504.40" x2="247.40" y2="505.20" stroke="#222" stroke-width="0.3" />
<line x1="252.15" y1="504.40" x2="252.15" y2="505.20" stroke="#222" stroke-width="0.3" />
<line x1="256.90" y1="504.40" x2="256.90" y2="505.20" stroke="#222" stroke-width="0.3" />
<line x1="261.65" y1="504.40" x2="261.65" y2="505.20" stroke="#222" stroke-width="0.3" />
<line x1="266.40" y1="504.40" x2="266.40" y2="505.20" stroke="#222" stroke-width="0.3" />
<line x1="271.15" y1="504.40" x2="271.15" y2="505.20" stroke="#222" stroke-width="0.3" />
<line x1="275.90" y1="504.40" x2="275.90" y2="505.20" stroke="#222" stroke-width="0.3" />
<line x1="280.65" y1="504.40" x2="280.65" y2="505.20" stroke="#222" stroke-width="0.3" />
<path d="M217.8 471.0h0M230.1 461.8h0M243.2 468.9h0M230.1 491.4h0M227.8 451.6h0M218.6 461.2h0M239.9 479.1h0M245.0 492.1h0M251.1 476.7h0M247.3 477.0h0M227.4 479.3h0M234.1 465.9h0M254.6 478.8h0M228.4 467.7h0M258.3 465.5h0M241.4 476.9h0M239.0 476.4h0M228.5 462.6h0M231.9 464.0h0M242.2 489.0h0M224.1 475.9h0M223.2 459.6h0M231.0 470.1h0M228.9 434.4h0M248.3 465.2h0M226.8 477.7h0M227.2 449.9h0M238.8 474.2h0M224.8 479.8h0M237.6 453.8h0M252.2 472.3h0M221.5 474.7h0M234.9 481.5h0M219.2 482.4h0M243.6 477.9h0M240.1 486.0h0M241.2 470.4h0M224.7 483.4h0M244.0 472.6h0M235.2 478.2h0M244.8 493.7h0M228.5 474.3h0M232.8 439.3h0M241.3 468.4h0M234.2 456.2h0M233.1 469.7h0M247.1 472.5h0M270.7 463.2h0M230.7 467.9h0M224.9 488.5h0M240.4 451.8h0M234.6 483.8h0M218.4 470.6h0M231.0 499.4h0M237.9 463.2h0M227.5 493.5h0M228.5 498.7h0M216.9 466.1h0M231.0 459.3h0M231.2 477.7h0M226.4 449.7h0M247.8 488.0h0M226.2 472.6h0M219.3 461.3h0M256.5 452.0h0M233.7 454.5h0M236.4 451.4h0M227.2 478.2h0M231.8 451.3h0M249.4 470.2h0M248.4 454.8h0M251.4 450.8h0M214.9 463.0h0M229.5 472.1h0M227.5 477.0h0M247.7 460.0h0M218.8 463.3h0M242.2 479.3h0M229.8 455.6h0M233.3 481.3h0M225.9 485.7h0M235.9 472.4h0M226.8 486.5h0M233.9 449.0h0M242.2 463.1h0M244.9 470.8h0M226.8 470.8h0M228.2 457.7h0M233.7 479.5h0M234.2 467.4h0M227.6 476.1h0M236.4 481.2h0M237.4 496.6h0M216.7 467.9h0M239.1 480.4h0M217.2 452.5h0M233.0 482.4h0M245.1 448.6h0M234.8 484.0h0M233.7 455.0h0M225.8 451.0h0M246.1 465.2h0M228.9 457.1h0M232.0 456.6h0M223.1 468.0h0M231.0 474.6h0M235.0 484.1h0M233.0 472.0h0M235.8 457.9h0M246.1 461.1h0M216.6 485.0h0M240.4 461.1h0M243.6 481.2h0M240.9 453.1h0M235.3 454.9h0M226.9 461.1h0M224.4 475.0h0M225.1 476.7h0M235.3 460.6h0M235.2 477.6h0M245.6 465.1h0M251.9 476.1h0M246.6 450.8h0M222.2 484.4h0M231.1 474.6h0M246.2 449.6h0M238.2 494.0h0M241.9 469.7h0M239.4 468.6h0M241.6 485.6h0M231.0 476.1h0M236.7 478.3h0M242.3 454.5h0M245.8 479.8h0M221.8 464.8h0M218.0 464.7h0M236.9 453.4h0M225.2 457.0h0M226.1 458.4h0M222.1 476.0h0M231.1 457.7h0M243.9 461.1h0M242.9 452.3h0M248.3 462.7h0M223.4 473.9h0M219.3 454.4h0M235.9 462.2h0M237.6 470.4h0M236.1 470.2h0M240.9 468.5h0M245.1 480.9h0M249.9 462.7h0M235.4 467.0h0M236.3 497.4h0M225.9 469.4h0M233.5 454.4h0M224.2 465.0h0M233.2 473.5h0M250.8 466.2h0M242.1 463.0h0M225.9 496.1h0M220.4 456.6h0M240.5 468.7h0M216.1 470.3h0M241.1 448.6h0M227.5 478.8h0M253.6 438.1h0M226.1 468.8h0M223.8 456.6h0M228.1 475.2h0M222.1 479.8h0M242.2 479.6h0M249.6 461.7h0M232.9 481.5h0M246.7 480.7h0M228.6 462.1h0M219.5 462.8h0M223.9 462.1h0M229.4 479.3h0M242.4 467.8h0M221.3 467.8h0M237.9 479.6h0M235.6 479.0h0M226.5 476.9h0M241.2 463.9h0M225.4 484.5h0M222.9 477.4h0M230.5 463.9h0M230.7 462.7h0M233.0 491.7h0M248.7 466.7h0M238.3 480.3h0M228.9 492.4h0M233.7 476.5h0M223.3 453.9h0M222.9 460.1h0M244.2 464.3h0M242.7 463.0h0M223.3 470.6h0M229.2 446.8h0M233.9 483.8h0M231.2 452.8h0M225.4 452.7h0M230.8 456.1h0M232.2 470.7h0M247.3 453.4h0M237.9 463.7h0M238.7 456.4h0M229.8 477.3h0M230.1 470.2h0M238.0 470.0h0M230.8 475.1h0M247.3 485.0h0M224.1 478.4h0M237.6 475.4h0M247.7 446.1h0M244.7 461.4h0M228.4 474.2h0M248.1 456.2h0M215.4 460.7h0M232.1 484.0h0M237.2 464.5h0M228.0 462.4h0M243.5 446.8h0M226.1 457.1h0M245.1 470.0h0M226.3 478.2h0M253.9 481.7h0M219.6 465.7h0M245.3 444.8h0M220.5 463.0h0M238.8 457.7h0M234.9 466.3h0M236.7 452.7h0M235.0 481.1h0M238.3 447.5h0M215.0 464.6h0M223.7 444.5h0M227.1 458.0h0M232.0 473.2h0M235.2 470.7h0M238.7 466.9h0M228.5 463.8h0M245.7 464.6h0M241.7 489.8h0M251.5 440.4h0M234.8 481.0h0M228.5 459.0h0M218.2 459.5h0M233.2 443.8h0M233.0 457.3h0M233.4 454.1h0M234.0 470.3h0M225.9 459.5h0M243.1 476.4h0M225.0 473.9h0M221.1 461.5h0M240.3 461.8h0M239.3 459.9h0M236.3 466.3h0M222.9 495.4h0M224.3 450.7h0M234.5 474.4h0M236.8 466.8h0M238.0 480.3h0M239.7 450.2h0M251.3 467.8h0M231.6 471.9h0M254.0 461.2h0M226.6 455.4h0M235.1 476.8h0M237.3 470.4h0M244.5 461.5h0M227.5 455.1h0M235.7 447.9h0M253.2 465.6h0M226.9 452.4h0M238.8 480.8h0M227.2 470.4h0M236.2 480.8h0M239.6 484.2h0M218.3 502.1h0M227.9 453.6h0M223.4 473.2h0M241.3 499.8h0M246.0 458.3h0M229.6 462.1h0M226.9 466.0h0M226.7 483.4h0M236.7 476.3h0M231.5 453.1h0M237.8 463.1h0M254.1 484.2h0M220.5 455.4h0M227.4 465.4h0M245.2 465.9h0M238.0 464.1h0M230.9 484.2h0M233.3 493.8h0M232.7 473.3h0M237.3 476.8h0M253.4 459.4h0M227.6 456.0h0M252.1 474.3h0M237.9 474.2h0M234.5 472.3h0M234.1 467.1h0M232.4 460.9h0M230.8 476.5h0M240.0 454.4h0M238.6 472.2h0M227.8 490.2h0M235.1 466.5h0M219.5 496.5h0M235.5 472.3h0M230.8 495.1h0M231.6 488.7h0M244.3 480.9h0M239.9 483.3h0M232.0 441.3h0M265.6 443.7h0M239.6 474.4h0M225.7 442.5h0M232.2 490.2h0M232.1 468.2h0M234.1 468.8h0M236.3 497.9h0M224.0 444.6h0M242.1 461.5h0M227.9 450.1h0M231.3 462.6h0M237.7 463.1h0M217.9 474.7h0M232.3 443.7h0M229.6 478.1h0M232.5 464.0h0M239.4 459.9h0M225.9 475.0h0M231.5 460.2h0M235.6 471.6h0M243.0 481.3h0M234.1 467.9h0M223.4 470.9h0M229.5 479.1h0M241.6 476.6h0M232.6 472.5h0M248.9 490.4h0M227.1 431.6h0M239.7 448.4h0M233.7 474.2h0M248.9 466.0h0M232.0 460.9h0M236.4 452.5h0M239.1 472.7h0M247.4 464.3h0M236.6 470.9h0M233.0 455.9h0M227.4 469.0h0M238.4 481.7h0M227.0 471.7h0M239.7 479.4h0M235.8 471.0h0M229.6 468.7h0M231.2 445.9h0M225.9 437.3h0M238.6 479.7h0M229.5 470.6h0M234.9 465.1h0M248.7 465.9h0M236.7 467.6h0M254.2 447.2h0M235.4 451.1h0M225.8 456.0h0M241.3 454.4h0M222.8 464.1h0M223.3 455.5h0M249.8 459.8h0M224.9 486.2h0M234.2 482.8h0M216.3 464.6h0M238.3 471.2h0M239.0 484.5h0M239.4 482.6h0M241.2 458.7h0M235.3 485.3h0M223.4 475.4h0M239.9 485.7h0M215.9 499.2h0M217.1 468.4h0M259.8 450.9h0M256.9 472.0h0M253.4 487.2h0M235.0 458.3h0M230.1 451.7h0M218.9 473.4h0M218.2 473.1h0M232.6 466.7h0M222.5 452.4h0M241.7 456.0h0M227.3 466.1h0M240.5 494.0h0M253.9 478.6h0M240.4 477.0h0M231.1 465.8h0M215.2 475.6h0M228.1 473.4h0M256.8 479.6h0M245.4 479.8h0M227.5 460.0h0M218.1 461.0h0M235.1 477.4h0M239.4 463.9h0M221.5 469.0h0M236.6 442.7h0M234.3 449.8h0M228.5 466.6h0M223.0 461.8h0M233.4 455.4h0M240.4 476.9h0M239.0 454.7h0M231.2 464.1h0M234.5 478.1h0M227.7 468.6h0M241.9 464.1h0M240.8 468.1h0M218.5 467.8h0M234.8 462.9h0M253.3 463.3h0M217.9 466.3h0M230.9 474.9h0M259.7 470.1h0M241.8 459.0h0M223.4 459.2h0M231.2 462.5h0M233.2 459.9h0M220.7 458.2h0M241.4 453.3h0M241.4 489.5h0M223.5 479.9h0M242.0 434.0h0M242.2 476.7h0M225.0 491.2h0M236.0 455.0h0M234.3 448.5h0M239.5 475.3h0M246.1 486.5h0M226.0 474.7h0M226.7 430.7h0M243.2 483.5h0M235.5 490.8h0M232.6 445.8h0M228.3 464.7h0M236.0 463.0h0M231.6 482.8h0M226.2 451.3h0M228.1 480.1h0M246.2 455.5h0M240.3 485.4h0M241.5 453.9h0M239.5 461.7h0M227.8 493.3h0M232.8 474.8h0M246.0 489.6h0M236.1 460.3h0M232.6 459.4h0M231.9 466.7h0M217.5 457.9h0M218.2 467.4h0M241.6 477.7h0M235.1 455.7h0M232.4 450.4h0M239.1 448.1h0M226.4 490.6h0M237.5 455.5h0M230.9 454.8h0M224.7 462.7h0M224.2 470.7h0M244.4 457.0h0M223.4 457.6h0M226.7 469.8h0M226.1 456.7h0M226.0 481.0h0M243.3 481.8h0M235.1 455.8h0M247.6 497.0h0M226.3 460.2h0M244.6 477.1h0M237.3 495.3h0M231.2 457.8h0M229.3 471.1h0M235.1 484.4h0M241.2 458.8h0M240.9 465.7h0M249.0 483.0h0M226.9 475.3h0M219.4 474.1h0M233.9 474.1h0M220.4 457.1h0M227.2 465.2h0M240.1 457.4h0M241.2 479.3h0M219.7 476.5h0M234.2 477.5h0M234.9 484.4h0M225.5 496.3h0M244.7 452.8h0M216.7 481.4h0M216.6 457.8h0M238.1 466.1h0M234.6 439.9h0M225.1 474.7h0M254.9 473.4h0M233.4 469.6h0M243.7 476.3h0M223.6 442.2h0M230.5 462.8h0M252.2 456.8h0M240.9 441.9h0M241.2 451.1h0M233.2 465.2h0M234.0 467.9h0M220.8 475.6h0M223.5 467.2h0M223.9 467.4h0M231.6 465.3h0M224.5 483.6h0M231.0 468.7h0M216.2 465.1h0M219.5 451.0h0M255.4 465.9h0M241.4 461.2h0M221.3 491.3h0M239.4 452.5h0M231.5 467.3h0M229.6 466.4h0M225.6 466.5h0M228.2 463.2h0M224.6 487.7h0M228.1 464.7h0M235.2 467.7h0M218.8 478.7h0M219.7 458.8h0M236.9 464.7h0M225.0 467.5h0M223.5 459.5h0M220.0 451.1h0M222.0 467.8h0M227.0 465.3h0M241.9 461.3h0M251.1 429.2h0M229.7 452.5h0M216.5 477.6h0M231.9 466.7h0M218.6 460.5h0M220.5 487.0h0M231.8 441.0h0M229.0 486.5h0M224.1 463.6h0M231.7 473.3h0M237.3 459.0h0M228.4 476.2h0M221.5 462.7h0M235.9 464.1h0M222.0 488.6h0M234.0 463.5h0M242.1 466.5h0M232.7 456.4h0M253.6 478.9h0M256.1 496.7h0M232.9 460.0h0M239.3 469.2h0M229.0 464.1h0M242.2 473.7h0M241.5 471.7h0M227.9 461.2h0M235.1 458.2h0M225.9 477.9h0M234.9 464.7h0M234.8 462.6h0M246.1 465.0h0M233.0 452.4h0M225.3 450.6h0M237.2 474.8h0M239.2 463.1h0M233.2 472.2h0M228.8 445.7h0M253.3 474.0h0M242.2 478.0h0M225.0 467.1h0M227.5 481.5h0M234.7 458.3h0M232.5 474.0h0M254.8 455.6h0M235.9 483.6h0M239.5 459.8h0M232.5 469.0h0M242.9 480.9h0M225.1 471.5h0M228.5 472.4h0M217.0 470.5h0M238.6 483.8h0M249.2 467.7h0M226.8 485.0h0M236.9 472.0h0M238.9 449.0h0M223.4 456.2h0M221.2 488.0h0M232.1 456.3h0M236.9 456.9h0M217.9 451.3h0M247.0 462.7h0M234.9 475.3h0M237.4 458.2h0M241.4 481.6h0M218.0 478.6h0M238.4 482.1h0M239.2 465.8h0M225.0 476.4h0M237.0 473.3h0M227.8 483.1h0M242.7 482.0h0M226.8 475.8h0M243.2 450.7h0M225.3 471.4h0M217.8 466.9h0M234.0 448.9h0M239.2 468.1h0M246.2 467.6h0M227.8 467.5h0M237.5 444.3h0M229.9 477.6h0M241.0 472.9h0M221.6 466.9h0M237.8 468.3h0M234.8 492.4h0M253.4 462.3h0M223.0 468.5h0M247.0 454.7h0M223.1 451.9h0M244.9 461.9h0M232.4 489.1h0M239.8 464.1h0M219.7 482.6h0M234.1 464.0h0M235.7 458.9h0M235.3 470.9h0M221.8 471.4h0M239.5 486.9h0M242.5 495.5h0M242.4 467.9h0M237.0 468.7h0M223.4 465.4h0M234.9 454.9h0M232.7 475.7h0M250.8 466.9h0M229.9 459.7h0M216.5 475.6h0M227.9 459.6h0M221.7 487.2h0M247.3 474.3h0M229.6 452.9h0M225.1 487.4h0M230.1 447.0h0M247.7 476.2h0M229.1 472.8h0M239.9 462.4h0M224.2 470.4h0M239.6 475.0h0M221.6 455.9h0M232.9 460.5h0M230.0 492.2h0M216.0 464.7h0M222.4 471.2h0M252.7 473.1h0M246.8 456.4h0M236.1 485.9h0M229.4 458.4h0M217.3 487.1h0M231.8 485.8h0M235.2 468.8h0M241.6 471.0h0M245.5 460.7h0M227.1 468.7h0M227.8 465.6h0M241.6 472.8h0M232.1 490.7h0M219.2 460.7h0M231.1 480.8h0M239.5 475.0h0M248.6 467.1h0M225.3 483.7h0M249.3 455.4h0M227.0 466.8h0M236.8 469.6h0M240.8 447.5h0M227.8 448.2h0M241.8 481.2h0M235.7 468.2h0M232.1 466.9h0M224.6 474.3h0M239.7 459.2h0M237.4 486.9h0M249.6 497.9h0M261.6 449.2h0M228.1 462.4h0M238.0 487.6h0M217.8 475.6h0M236.5 484.3h0M238.3 459.5h0M235.9 461.7h0M231.4 464.7h0M233.2 473.0h0M237.2 483.1h0M240.3 446.0h0M239.8 462.9h0M243.2 462.8h0M224.6 450.0h0M231.8 478.5h0M224.2 472.6h0M230.2 442.2h0M231.2 464.5h0M238.3 446.8h0M239.7 467.1h0M242.6 462.7h0M226.4 465.0h0M232.9 481.6h0M225.6 464.1h0M222.5 463.5h0M235.9 486.4h0M231.8 471.2h0M233.6 481.6h0M230.1 464.7h0M236.3 464.6h0M235.4 467.0h0M229.6 479.0h0M230.9 463.0h0M238.2 491.4h0M236.1 465.8h0M240.8 474.9h0M222.8 483.0h0M246.9 461.4h0M229.3 476.0h0M236.6 469.9h0M246.7 448.2h0M227.9 474.7h0M237.9 460.9h0M214.8 483.3h0M242.7 469.9h0M236.6 481.4h0M257.3 455.0h0M233.4 442.8h0M220.7 482.9h0M230.2 440.1h0M219.5 487.0h0M238.1 484.0h0M249.4 461.1h0M233.3 459.8h0M223.6 480.0h0M235.6 459.0h0M216.2 462.7h0M230.0 458.7h0M241.1 475.2h0M237.7 483.6h0M229.8 467.3h0M254.5 456.8h0M235.9 477.7h0M235.6 467.1h0M238.4 478.5h0M235.0 464.3h0M215.6 464.1h0M225.1 458.0h0M223.3 451.4h0M224.7 469.0h0M220.2 450.7h0M245.3 478.7h0M227.6 471.8h0M231.1 472.3h0M239.0 453.1h0M238.0 456.5h0M246.7 471.6h0M234.5 485.6h0M248.3 481.6h0M237.0 461.4h0M235.0 462.8h0M241.4 481.1h0M233.7 481.0h0M220.9 484.0h0M236.5 441.3h0M233.6 478.1h0M238.2 456.5h0M242.3 478.2h0M234.1 486.4h0M227.9 472.4h0M233.2 440.6h0M237.2 475.4h0M226.7 468.0h0M243.9 464.7h0M239.3 471.9h0M234.6 477.7h0M216.2 451.2h0M222.5 478.0h0M244.8 464.0h0M217.5 486.1h0M228.2 455.9h0M236.1 459.0h0M239.2 473.6h0M222.8 490.2h0M232.9 473.1h0M247.6 482.7h0M230.1 474.2h0M240.3 487.8h0M244.5 463.2h0M250.2 481.7h0M243.1 456.6h0M215.0 463.5h0M231.7 470.1h0M244.4 464.1h0M221.5 490.8h0M242.4 460.2h0M231.0 417.9h0M220.6 466.3h0M238.2 465.4h0M230.9 459.6h0M224.8 488.3h0M253.7 481.4h0M228.2 438.9h0M241.0 453.6h0M229.1 471.4h0M248.5 456.2h0M229.3 477.7h0M242.2 465.5h0M236.6 476.3h0M228.0 445.1h0M231.2 487.5h0M220.3 456.8h0M242.5 487.3h0M237.0 471.7h0M214.8 451.2h0M225.4 444.3h0M242.6 452.8h0M257.8 452.1h0M236.1 461.7h0M230.3 481.8h0M221.7 463.8h0M244.6 456.2h0M260.9 449.7h0M241.3 470.9h0M237.9 467.4h0M228.3 473.5h0M227.1 455.6h0M251.4 443.0h0M239.8 460.5h0M223.1 474.5h0M246.6 467.0h0M246.4 469.2h0M235.0 470.6h0M245.7 452.9h0M233.6 472.1h0M244.4 473.3h0M232.3 487.2h0M244.7 465.2h0M235.6 462.4h0M231.8 459.2h0M241.2 455.2h0M226.3 478.0h0M235.1 488.7h0M227.2 468.6h0M231.2 480.5h0M231.9 475.6h0M217.2 461.6h0M249.0 468.5h0M236.9 482.5h0M236.2 457.9h0M235.4 463.3h0M232.8 468.7h0M242.0 484.6h0M249.1 457.9h0M235.8 485.4h0M227.4 460.3h0M252.2 478.2h0M241.7 463.0h0M247.8 482.2h0M234.2 471.9h0M240.0 467.5h0M234.1 487.0h0M230.2 449.6h0M244.2 492.1h0M228.2 474.5h0M234.8 458.9h0M225.7 472.7h0M215.5 471.5h0M223.3 471.7h0M229.3 466.0h0M234.7 474.3h0M236.6 477.2h0M244.2 493.7h0M240.7 470.9h0M245.8 475.0h0M243.0 457.1h0M219.0 482.6h0M219.4 456.1h0M231.7 458.0h0M241.0 472.7h0M237.4 488.7h0M235.1 464.1h0M221.5 460.4h0M225.7 471.2h0M251.8 467.2h0M235.4 443.9h0M252.6 455.6h0M236.1 449.1h0M242.1 470.1h0M223.9 487.5h0M249.6 472.1h0M228.7 470.9h0M227.0 475.3h0M229.1 459.2h0M233.7 491.7h0M218.6 481.4h0M239.7 477.5h0M236.6 476.7h0M231.0 472.0h0M237.5 458.8h0M228.7 486.9h0M246.0 467.7h0M225.4 467.2h0M242.0 472.9h0M236.1 483.8h0M238.5 475.3h0M232.6 470.9h0M235.9 456.3h0M228.5 447.7h0M230.6 452.5h0M237.7 484.8h0M228.7 476.7h0M243.8 444.6h0M246.4 445.2h0M217.5 452.4h0M217.3 448.2h0M235.2 475.8h0M241.8 475.2h0M246.5 466.3h0M229.8 486.1h0M226.9 484.0h0M230.9 447.6h0M223.8 461.1h0M235.0 473.0h0M241.0 475.2h0M244.9 446.5h0M238.7 487.8h0M226.1 477.2h0M244.3 457.9h0M230.9 478.6h0M239.6 475.0h0M232.1 463.4h0M226.9 467.9h0M229.6 467.8h0M226.5 455.7h0M238.1 460.8h0M241.3 481.7h0M222.9 497.2h0M220.4 447.6h0M220.1 455.8h0M232.9 483.7h0M236.7 486.7h0M219.1 456.0h0M256.9 491.3h0M234.1 458.2h0M226.5 449.7h0M228.3 477.0h0M237.8 471.4h0M228.3 476.6h0M239.3 493.5h0M236.0 480.4h0M241.3 476.6h0M239.3 471.4h0M241.8 454.5h0M224.0 456.6h0M228.0 463.5h0M246.0 472.3h0M233.3 470.3h0M241.9 453.9h0M233.4 457.2h0M239.4 488.8h0M236.4 477.9h0M247.7 461.9h0M237.3 444.4h0M237.0 472.0h0M232.6 496.6h0M237.0 464.2h0M229.5 467.2h0M225.3 471.3h0M239.9 488.9h0M230.5 467.7h0M234.1 473.4h0M227.4 470.1h0M228.2 472.2h0M250.2 467.8h0M249.0 473.3h0M247.4 482.2h0M217.0 458.7h0M216.8 474.7h0M222.0 481.4h0M232.3 475.1h0M223.6 439.8h0M227.3 461.9h0M234.8 476.7h0M223.2 472.1h0M227.7 484.3h0M226.3 470.9h0M245.7 477.4h0M241.8 482.7h0M241.0 476.4h0M224.5 491.3h0M245.4 490.3h0M229.9 476.1h0M227.1 464.4h0M239.4 464.7h0M238.9 447.6h0M257.8 457.8h0M223.4 452.6h0M242.5 443.5h0M224.6 489.5h0M219.8 460.3h0M223.2 480.9h0M226.0 471.8h0M227.1 461.8h0M231.8 462.5h0M237.4 466.5h0M233.4 471.3h0M238.6 459.4h0M241.4 473.5h0M227.1 459.3h0M242.8 469.7h0M221.3 451.0h0M255.0 454.5h0M225.3 465.8h0M221.8 491.4h0M223.8 455.7h0M235.7 455.6h0M221.9 478.1h0M243.4 487.6h0M233.7 457.2h0M228.3 457.4h0M234.2 470.5h0M228.8 478.7h0M239.6 453.1h0M248.6 459.4h0M230.8 481.5h0M238.4 461.1h0M236.4 475.5h0M223.7 434.6h0M248.1 449.8h0M230.3 498.0h0M227.5 477.5h0M222.3 493.5h0M224.1 488.8h0M233.6 489.5h0M243.7 461.6h0M225.5 445.5h0M234.5 486.3h0M231.7 472.7h0M244.6 475.8h0M241.5 476.8h0M226.7 458.0h0M233.5 459.2h0M234.9 448.2h0M236.1 481.7h0M248.2 468.9h0M240.9 499.2h0M246.8 473.4h0M223.9 475.2h0M237.5 455.4h0M225.9 443.9h0M244.2 451.4h0M256.3 464.7h0M227.7 470.1h0M237.3 473.1h0M226.5 454.2h0M226.8 468.5h0M226.2 474.1h0M244.3 473.4h0M235.7 479.2h0M223.2 473.3h0M236.8 489.1h0M246.8 463.0h0M252.7 455.2h0M249.4 471.6h0M241.3 467.1h0M231.3 451.3h0M245.4 465.6h0M241.3 457.9h0M245.0 473.4h0M230.1 471.1h0M230.7 475.9h0M251.1 452.1h0M220.6 479.1h0M221.4 436.3h0M230.3 458.0h0M234.7 458.4h0M245.3 463.0h0M243.2 438.8h0M236.1 461.2h0M228.3 469.9h0M234.0 474.0h0M233.1 473.9h0M228.3 435.3h0M229.1 443.1h0M224.8 456.8h0M230.5 469.1h0M233.1 461.0h0M239.3 461.5h0M218.6 471.6h0M222.3 472.4h0M252.1 467.6h0M241.2 484.2h0M232.4 457.2h0M243.0 478.5h0M224.6 477.1h0M230.5 463.3h0M215.5 455.4h0M238.0 448.4h0M237.2 478.0h0M218.7 501.1h0M241.1 454.7h0M235.1 488.0h0M257.4 453.0h0M239.6 462.5h0M249.3 465.7h0M234.8 461.0h0M253.6 456.7h0M226.2 450.2h0M224.2 463.2h0M239.4 448.7h0M228.8 451.5h0M237.4 455.0h0M235.2 447.8h0M242.4 461.2h0M240.0 465.3h0M220.6 466.3h0M247.7 461.9h0M230.2 475.1h0M222.8 469.0h0M227.8 479.0h0M221.5 454.4h0M237.0 471.8h0M232.1 453.7h0M235.6 460.7h0M244.4 452.6h0M215.7 446.7h0M239.9 483.0h0M238.8 467.5h0M233.0 489.3h0M232.5 489.4h0M238.1 468.1h0M226.4 460.7h0M232.9 448.8h0M230.1 466.6h0M228.8 471.3h0M224.7 472.4h0M235.2 478.1h0M240.5 464.7h0M235.4 462.6h0M226.3 457.4h0M227.8 472.5h0M229.8 458.0h0M225.3 474.7h0M225.8 467.1h0M241.5 489.1h0M220.4 451.6h0M231.9 457.3h0M245.7 462.9h0M247.5 468.2h0M233.2 464.1h0M228.8 456.4h0M238.1 481.8h0M231.3 444.1h0M243.5 462.0h0M245.2 481.9h0M221.1 478.7h0M221.9 462.5h0M221.7 453.1h0M245.7 462.1h0M223.0 480.3h0M242.5 466.5h0M237.0 468.4h0M244.8 438.0h0M227.6 469.9h0M231.3 482.9h0M233.4 450.2h0M249.0 435.4h0M228.8 479.1h0M258.7 482.6h0M242.3 462.3h0M250.4 459.6h0M234.8 446.7h0M228.3 452.6h0M232.6 481.5h0M226.2 484.1h0M233.2 493.7h0M229.5 472.5h0M226.7 459.1h0M236.3 469.9h0M249.1 484.9h0M221.0 457.9h0M243.7 470.1h0M232.7 490.8h0M226.8 473.8h0M235.9 467.7h0M246.1 479.0h0M240.3 460.8h0M230.7 475.5h0M218.3 472.7h0M231.7 468.7h0M227.4 485.2h0M228.2 487.0h0M243.9 464.7h0M235.3 467.7h0M232.5 472.9h0M236.4 456.4h0M231.2 476.7h0M232.9 466.3h0M231.7 462.8h0M246.2 460.4h0M230.0 468.6h0M243.8 469.1h0M231.1 448.7h0M225.2 465.1h0M234.1 449.9h0M237.4 442.5h0M238.5 463.1h0M226.2 446.4h0M225.5 456.5h0M228.9 466.7h0M225.5 446.5h0M239.6 459.1h0M241.9 460.0h0M241.6 446.6h0M219.4 476.5h0M238.8 468.6h0M253.2 467.7h0M248.4 467.8h0M250.4 467.2h0M240.5 486.4h0M255.7 454.0h0M216.2 448.3h0M234.5 465.3h0M239.7 497.8h0M242.5 466.4h0M250.1 475.6h0M235.7 462.6h0M220.9 464.4h0M256.1 469.7h0M223.6 474.2h0M219.0 481.8h0M239.8 465.7h0M240.5 454.0h0M230.0 467.3h0M234.5 494.7h0M239.3 454.6h0M231.7 458.9h0M238.3 446.7h0M243.4 460.1h0M242.1 485.4h0M243.5 451.5h0M228.1 445.6h0M229.2 463.5h0M244.3 468.8h0M237.5 458.5h0M223.4 464.7h0M224.8 461.0h0M228.5 483.1h0M229.6 498.6h0M242.4 463.3h0M236.4 489.5h0M216.1 479.3h0M251.0 471.6h0M217.9 449.7h0M237.6 469.7h0M244.1 449.3h0M234.2 485.8h0M238.9 455.7h0M230.9 463.2h0M255.0 490.0h0M229.7 466.4h0M234.6 473.1h0M231.6 462.8h0M225.9 477.1h0M241.8 466.2h0M231.9 483.1h0M236.0 432.4h0M229.6 465.7h0M235.2 463.4h0M224.4 472.6h0M237.8 456.2h0M232.2 468.3h0M236.5 469.0h0M223.7 455.9h0M234.7 475.2h0M227.5 462.6h0M229.3 475.5h0M243.7 448.9h0M239.6 456.7h0M223.4 477.4h0M243.0 499.2h0M235.6 491.4h0M230.3 461.6h0M243.1 453.8h0M234.7 477.9h0M216.1 471.7h0M241.2 441.4h0M224.2 474.2h0M226.5 455.9h0M236.3 464.0h0M232.4 471.2h0M232.1 472.0h0M242.6 460.6h0M236.9 478.6h0M227.3 460.4h0M238.5 471.0h0M224.8 467.1h0M225.6 478.4h0M237.5 460.6h0M236.6 482.1h0M227.7 449.8h0M231.8 492.1h0M248.8 468.1h0M235.2 476.3h0M253.2 490.7h0M241.5 462.4h0M234.6 460.1h0M230.2 446.6h0M233.1 465.0h0M235.5 462.9h0M217.7 475.3h0M225.4 450.2h0M242.1 465.9h0M249.6 475.4h0M225.1 465.3h0M230.3 456.9h0M239.8 461.9h0M226.2 465.1h0M238.6 459.6h0M234.7 471.8h0M254.2 459.3h0M229.0 471.7h0M235.7 484.1h0M238.9 470.9h0M246.3 473.0h0M238.3 476.3h0M244.0 458.6h0M234.0 489.4h0M240.0 446.9h0M241.1 464.1h0M224.6 459.7h0M235.1 461.4h0M255.1 462.3h0M231.4 483.1h0M221.3 462.1h0M228.1 470.5h0M246.3 459.8h0M249.2 457.4h0M234.3 477.0h0M237.2 477.4h0M234.0 484.9h0M238.0 481.1h0M228.0 445.2h0M222.5 486.3h0M239.5 440.0h0M235.7 458.0h0M232.1 446.2h0M224.9 477.3h0M221.1 471.2h0M232.1 444.8h0M233.4 476.3h0M245.7 453.2h0M250.1 474.3h0M229.1 454.1h0M229.1 477.3h0M235.3 467.4h0M233.8 465.6h0M231.8 470.0h0M226.3 449.0h0M218.6 470.9h0M254.0 471.3h0M238.6 482.9h0M220.4 477.6h0M244.7 462.0h0M236.0 477.0h0M231.3 481.8h0M259.0 448.3h0M224.7 447.0h0M239.9 467.4h0M244.8 494.6h0M242.8 443.3h0M227.1 477.1h0M238.2 466.7h0M225.1 461.7h0M253.4 472.9h0M220.1 457.4h0M229.3 464.1h0M230.1 472.3h0M233.9 486.6h0M231.9 460.5h0M231.5 466.2h0M227.9 446.9h0M223.7 491.1h0M227.9 483.8h0M236.9 485.8h0M229.1 459.5h0M227.8 459.4h0M227.8 489.7h0M258.5 462.5h0M235.6 467.7h0M236.6 473.3h0M238.7 484.9h0M240.8 456.2h0M239.9 455.9h0M245.1 471.3h0M241.5 462.8h0M215.0 460.8h0M236.1 454.6h0M234.6 484.0h0M226.2 476.2h0M234.4 462.2h0M232.4 473.1h0M226.9 464.3h0M222.7 443.6h0M248.7 455.8h0M242.4 466.6h0M243.3 466.6h0M248.3 494.0h0M233.0 473.4h0M231.1 467.2h0M237.6 477.3h0M245.5 476.3h0M238.4 450.3h0M231.6 455.2h0M226.4 469.6h0M233.4 460.7h0M236.9 452.4h0" stroke="#3434f2" stroke-width="0.85" stroke-linecap="round" fill="none" opacity="0.4"/>
<path d="M215.9 448.2h0M227.5 455.5h0M231.9 451.0h0M229.2 458.7h0M220.5 454.4h0M228.6 453.1h0M236.5 462.5h0M238.6 452.4h0M226.5 448.2h0M243.0 453.2h0M224.0 440.3h0M225.9 457.3h0M224.7 443.5h0M215.5 454.9h0M231.5 443.8h0M235.9 454.1h0M238.5 454.7h0M232.2 457.5h0M229.6 438.3h0M225.7 453.8h0M244.2 444.4h0M238.8 433.6h0M232.5 463.4h0M230.8 452.0h0M235.5 459.9h0M236.5 449.2h0M234.0 465.3h0M231.2 449.2h0M228.3 460.8h0M237.4 445.7h0M222.7 452.7h0M233.6 437.0h0M227.9 468.3h0M228.3 455.2h0M232.7 450.7h0M222.4 442.8h0M235.1 452.5h0M227.4 454.8h0M224.4 437.3h0M220.0 452.9h0M234.5 454.1h0M231.3 454.4h0M227.6 451.9h0M243.8 447.6h0M229.3 466.1h0M224.7 454.7h0M241.5 446.2h0M253.6 445.3h0M241.1 460.3h0M232.6 462.7h0M234.8 456.1h0M226.8 452.2h0M231.7 440.6h0M233.7 448.1h0M231.0 455.0h0M235.6 456.1h0M248.1 454.0h0M230.1 456.8h0M236.0 448.8h0M221.1 457.7h0M223.3 448.2h0M231.1 443.2h0M229.2 453.2h0M236.0 449.0h0M221.7 444.1h0M234.8 441.6h0M228.6 447.4h0M214.9 452.9h0M223.1 461.8h0M221.4 447.8h0M223.4 443.3h0M230.0 452.0h0M238.9 455.3h0M243.2 457.8h0M221.0 458.9h0M219.8 445.4h0M219.6 446.0h0M225.6 446.2h0M230.0 442.9h0M222.8 450.6h0M239.5 450.4h0M236.5 452.0h0M238.8 452.9h0M230.4 462.9h0M229.2 445.8h0M227.6 454.3h0M218.6 448.7h0M214.8 461.8h0M243.2 452.9h0M246.8 441.0h0M224.7 450.7h0M223.8 451.0h0M237.6 453.4h0M236.0 449.9h0M229.6 447.0h0M218.6 447.9h0M240.4 450.2h0M229.7 450.7h0M225.4 457.8h0M232.9 438.8h0M224.6 444.8h0M241.3 446.4h0M218.0 450.8h0M243.5 457.1h0M224.8 440.9h0M234.0 448.0h0M237.7 457.8h0M232.6 458.7h0M228.3 448.6h0M239.3 458.9h0M231.1 460.2h0M231.9 448.9h0M229.7 447.3h0M236.3 443.9h0M221.6 448.6h0M237.8 443.3h0M230.7 463.6h0M234.9 443.2h0M231.2 446.8h0M239.7 452.4h0M219.1 460.2h0M234.2 439.1h0M249.9 452.2h0M225.3 451.5h0M229.0 452.1h0M239.6 441.0h0M240.9 455.1h0M219.1 450.5h0M217.5 464.3h0M233.7 448.6h0M223.0 447.7h0M222.8 464.3h0M222.2 451.6h0M225.3 457.1h0M233.7 458.9h0M242.0 449.3h0M239.6 453.6h0M232.5 449.1h0M232.1 448.9h0M228.8 449.7h0M236.8 446.2h0M239.0 446.6h0M255.1 444.7h0M246.7 439.2h0M215.6 443.4h0M232.8 444.8h0M228.2 451.4h0M222.3 450.4h0M220.8 459.3h0M216.9 456.9h0M234.9 447.1h0M230.7 435.5h0M230.1 445.9h0M221.0 452.7h0M241.1 453.4h0M230.5 459.9h0M241.7 453.3h0M251.4 451.3h0M235.4 467.0h0M239.6 453.0h0M233.6 448.0h0M243.1 446.1h0M226.3 456.1h0M246.8 455.2h0M226.3 456.1h0M232.8 455.6h0M221.3 446.9h0M222.7 452.8h0M230.3 453.5h0M223.7 451.7h0M223.5 453.6h0M238.1 453.8h0M226.0 446.2h0M242.1 451.6h0M223.8 460.1h0M237.1 441.4h0M241.0 454.6h0M247.0 450.1h0M227.0 459.5h0M216.9 449.5h0M228.1 442.9h0M245.4 451.4h0M232.8 451.7h0M230.7 452.4h0M239.5 447.8h0M239.5 452.6h0M234.2 457.3h0M241.5 463.0h0M231.3 452.0h0M234.4 457.3h0M221.9 441.6h0M221.1 457.6h0M223.1 447.1h0M216.3 438.4h0M237.7 453.7h0M243.3 456.2h0M229.8 446.3h0M234.3 464.3h0M218.1 455.1h0M247.1 466.2h0M233.4 445.5h0M233.5 449.6h0M239.7 459.8h0M234.5 446.6h0M235.7 454.4h0M245.9 453.5h0M227.8 448.4h0M229.4 438.5h0M223.2 455.9h0M249.8 455.9h0M242.5 456.0h0M235.5 450.8h0M237.1 449.5h0M242.0 444.0h0M231.5 439.4h0M242.9 449.7h0M222.6 450.7h0M223.0 442.9h0M235.8 454.3h0M215.8 459.6h0M223.6 451.6h0M229.5 453.7h0M216.1 452.5h0M248.0 450.3h0M232.5 449.5h0M226.7 456.8h0M226.1 436.2h0M218.8 453.4h0M237.9 445.8h0M221.0 449.7h0M239.0 455.2h0M233.3 453.2h0M226.0 442.1h0M241.4 447.2h0M226.7 452.3h0M216.9 442.1h0M217.8 446.1h0M231.1 442.9h0M225.0 452.5h0M221.6 455.3h0M235.0 449.7h0M249.1 447.4h0M232.9 454.2h0M247.8 453.1h0M226.9 464.7h0M223.2 446.2h0M227.4 444.1h0M237.1 454.6h0M223.5 454.1h0M222.4 454.3h0M243.5 455.1h0M237.7 457.4h0M248.3 445.5h0M241.8 472.7h0M225.6 451.6h0M228.3 448.5h0M232.7 463.1h0M241.4 448.2h0M235.5 458.0h0M221.9 449.8h0M245.8 450.5h0M218.1 459.3h0M223.6 462.8h0M237.3 456.6h0M245.8 451.4h0M229.8 446.3h0M231.7 467.3h0M217.2 461.0h0M224.8 452.6h0M230.6 453.9h0M238.6 452.7h0M231.7 446.0h0M222.1 453.9h0M237.6 455.4h0M236.4 440.5h0M227.7 451.5h0M223.3 456.5h0M230.9 452.1h0M218.7 445.3h0M229.1 447.3h0M226.6 450.6h0M244.7 442.2h0M236.9 444.8h0M228.5 456.3h0M229.7 447.6h0M218.1 439.7h0M235.9 445.8h0M219.7 455.1h0M231.1 454.2h0M221.7 438.7h0M236.0 461.2h0M228.5 457.0h0M222.5 451.3h0M226.7 452.6h0M241.7 454.4h0M235.1 448.2h0M227.7 452.3h0M226.2 460.2h0M221.0 454.8h0M231.7 439.3h0M237.3 466.7h0M244.1 446.2h0M231.4 449.5h0M235.2 449.7h0M226.2 451.2h0M241.1 445.1h0M229.8 451.9h0M235.4 451.3h0M233.3 454.2h0M244.4 445.1h0M233.9 462.0h0M251.9 456.9h0M231.8 437.9h0M231.0 454.0h0M221.9 441.2h0M234.6 451.3h0M229.6 459.7h0M224.0 445.7h0M239.3 451.5h0M235.6 441.6h0M244.0 447.4h0M221.2 452.1h0M228.8 439.4h0M227.3 455.7h0M227.2 455.3h0M217.7 451.8h0M230.8 442.4h0M234.3 459.8h0M231.7 445.2h0M232.6 455.1h0M218.3 463.3h0M235.7 453.2h0M233.3 442.8h0M238.8 455.7h0M218.8 447.1h0M244.8 445.9h0M237.7 454.7h0M248.1 444.4h0M230.9 447.9h0M230.3 451.8h0M227.7 454.6h0M232.9 452.6h0M227.2 456.2h0M239.4 467.9h0M232.1 460.1h0M233.5 447.7h0M225.5 456.0h0M237.6 452.9h0M227.4 461.0h0M247.7 459.7h0M221.0 447.6h0M221.1 456.5h0M226.3 453.6h0M227.9 456.2h0M220.0 448.7h0M242.4 464.8h0M217.4 445.8h0M228.7 458.7h0M221.4 453.0h0M228.5 438.7h0M214.8 448.8h0M230.0 451.4h0M235.3 463.2h0M244.3 448.3h0M235.6 441.8h0M218.4 451.1h0M226.6 452.6h0M236.4 451.7h0M243.2 456.9h0M243.8 452.5h0M233.7 456.6h0M241.1 441.9h0M228.9 449.3h0M236.8 452.5h0M240.3 451.2h0M228.3 463.9h0M225.6 446.7h0M239.5 453.8h0M228.0 454.7h0M224.2 464.7h0M226.0 442.1h0M239.0 435.3h0M224.0 446.9h0M230.2 458.7h0M236.6 460.6h0M224.5 445.4h0M221.5 444.1h0M222.6 454.4h0M216.0 464.4h0M234.7 443.7h0M238.1 452.1h0M238.3 450.6h0M225.6 453.9h0M225.6 436.3h0M230.3 453.3h0M224.5 453.5h0M236.8 449.2h0M223.8 440.2h0M237.3 444.9h0M252.8 456.9h0M228.0 457.8h0M232.2 446.9h0M237.1 443.9h0M235.8 450.0h0M240.8 461.2h0M235.4 441.7h0M222.0 456.3h0M234.7 449.9h0M245.1 452.3h0M239.3 446.6h0M236.4 436.3h0M239.0 448.5h0M229.4 452.9h0M218.0 446.6h0M230.8 456.2h0M234.3 453.0h0M227.6 450.2h0M236.7 452.1h0M250.7 455.2h0M221.0 454.6h0M227.6 460.4h0M233.6 458.4h0M229.8 444.4h0M224.6 450.3h0M239.0 446.1h0M234.2 456.8h0M220.2 456.3h0M239.9 460.1h0M231.5 458.1h0M223.8 454.0h0M230.3 429.6h0M219.9 451.3h0M238.8 443.2h0M229.4 450.1h0M228.7 452.6h0M231.3 448.5h0M236.6 452.2h0M222.3 453.7h0M229.9 451.5h0M224.4 454.8h0M227.2 448.4h0M222.2 450.3h0M232.4 458.6h0M229.3 449.9h0M232.3 447.1h0M229.2 463.3h0M234.0 453.4h0M234.4 451.0h0M227.6 457.8h0M243.2 460.0h0M229.2 447.2h0M245.1 458.6h0M252.6 455.1h0M229.5 445.5h0M234.8 440.2h0M229.9 439.2h0M247.6 462.4h0M226.1 457.2h0M241.3 446.0h0M223.6 446.3h0M232.9 456.3h0M225.7 451.6h0M221.3 443.3h0M214.9 452.8h0M224.3 447.5h0M235.4 455.0h0M229.9 458.0h0M231.5 451.5h0M246.8 452.7h0M228.9 460.3h0M233.9 460.5h0M231.2 453.6h0M238.6 445.1h0M230.4 459.1h0M228.1 466.4h0M235.8 446.0h0M223.7 454.2h0M231.2 448.6h0M235.5 454.8h0M231.9 442.3h0M223.1 455.1h0M232.4 451.9h0M234.0 444.7h0M233.9 466.7h0M225.5 452.3h0M227.6 445.6h0M244.5 463.4h0M228.9 448.2h0M217.0 448.9h0M230.5 455.6h0M232.4 442.9h0M232.1 452.8h0M238.2 451.8h0M255.1 452.6h0M235.8 450.5h0M229.8 450.2h0M232.4 447.4h0M239.1 457.7h0M232.7 466.9h0M227.8 456.4h0M228.7 455.4h0M238.8 452.9h0M220.8 439.3h0M247.2 449.7h0M230.5 447.3h0M220.8 462.1h0M225.0 455.8h0M231.5 446.8h0M227.5 455.8h0M223.5 453.4h0M236.6 446.8h0M239.4 448.7h0M227.5 460.7h0M244.2 459.2h0M238.4 451.9h0M229.3 452.4h0M237.1 451.6h0M231.0 451.4h0M231.3 441.7h0M234.3 457.8h0M227.0 436.4h0M228.4 449.0h0M228.3 458.9h0M223.8 458.7h0M234.5 463.1h0M233.8 462.6h0M234.3 451.9h0M227.7 457.1h0M245.3 445.4h0M221.8 456.0h0M225.3 447.8h0M239.8 459.2h0M225.6 445.0h0M224.1 454.5h0M226.5 457.2h0M221.3 444.5h0M249.1 453.6h0M232.0 453.7h0M224.1 448.0h0M228.0 446.4h0M220.2 455.1h0M245.9 468.0h0M230.9 468.6h0M224.0 445.2h0M242.5 459.9h0M242.2 442.2h0M230.3 439.3h0M234.9 455.7h0M232.6 450.4h0M216.5 445.5h0M245.5 453.4h0M228.0 463.4h0M216.9 449.8h0M230.6 448.6h0M215.3 448.3h0M242.8 447.6h0M237.9 460.0h0M241.7 455.8h0M216.6 456.9h0M230.1 428.7h0M233.5 465.6h0M223.0 451.4h0M228.0 451.3h0M231.8 456.1h0M231.8 464.7h0M239.5 445.4h0M232.8 465.3h0M226.8 446.6h0M231.2 442.7h0M217.6 462.5h0M226.8 450.9h0M234.1 449.2h0M236.6 451.2h0M240.2 452.6h0M233.3 445.6h0M221.5 443.8h0" stroke="#3434f2" stroke-width="0.85" stroke-linecap="round" fill="none" opacity="0.4"/>
<path d="M217.1 454.5h0M227.8 466.6h0M248.1 452.2h0M235.6 467.3h0M230.8 459.0h0M232.1 464.8h0M223.7 464.2h0M243.7 471.7h0M242.7 481.8h0M205.6 439.3h0M250.3 460.8h0M231.5 452.0h0M223.6 444.1h0M232.4 472.1h0M231.8 469.7h0M224.4 478.9h0M223.7 474.4h0M222.7 479.5h0M209.5 455.8h0M231.1 454.2h0M221.8 469.4h0M234.3 476.3h0M239.8 491.8h0M220.9 467.9h0M219.2 468.4h0M227.8 463.8h0M236.8 468.3h0M233.2 473.4h0M220.3 498.9h0M217.1 456.7h0M246.4 466.6h0M246.4 477.7h0M193.5 473.0h0M210.6 495.1h0M212.5 470.7h0M228.8 461.8h0M221.3 466.6h0M222.5 462.3h0M206.3 473.9h0M207.2 463.3h0M217.0 486.8h0M215.2 450.8h0M236.4 459.0h0M229.9 453.2h0M231.7 492.9h0M227.6 448.7h0M205.4 474.9h0M221.4 477.1h0M243.6 471.8h0M261.9 445.8h0M220.9 468.3h0M233.0 466.4h0M244.5 488.0h0M237.1 461.2h0M240.2 465.3h0M218.5 487.2h0M236.0 482.5h0M243.3 483.6h0M235.5 462.1h0M237.3 459.8h0M240.5 464.8h0M221.9 478.4h0M217.3 466.7h0M228.3 477.7h0M245.2 496.7h0M228.1 485.5h0M224.9 457.4h0M246.1 461.2h0M240.6 493.7h0M217.4 450.8h0M233.0 480.0h0M213.9 474.5h0M249.1 477.5h0M240.3 485.9h0M210.7 456.7h0M207.7 451.4h0M264.7 461.1h0M223.1 465.9h0M200.6 478.2h0M231.8 460.5h0M209.3 469.3h0M226.4 459.2h0M244.2 457.0h0M236.7 455.4h0M233.0 458.5h0M232.5 444.4h0M235.8 487.6h0M207.7 476.1h0M244.5 464.0h0M219.4 467.4h0M223.8 459.2h0M235.5 488.3h0M215.5 468.7h0M202.6 475.9h0M241.0 464.8h0M204.4 464.6h0M238.4 456.5h0M211.0 484.0h0M219.2 449.8h0M217.8 467.4h0M224.5 473.0h0M210.0 469.7h0M221.3 464.9h0M231.8 464.7h0M225.8 483.4h0M212.5 466.2h0M241.0 478.6h0M242.3 467.2h0M251.0 439.4h0M227.2 456.1h0M211.3 490.3h0M217.9 462.5h0M222.6 453.6h0M223.7 460.5h0M232.5 471.1h0M226.9 473.2h0M219.7 475.9h0M218.2 469.9h0M223.4 468.3h0" stroke="#3434f2" stroke-width="0.85" stroke-linecap="round" fill="none" opacity="0.4"/>
<path d="M226.7 477.2h0M220.0 479.3h0M224.7 470.2h0M241.7 470.9h0M220.8 464.3h0M225.1 466.4h0M231.0 472.7h0M233.7 478.4h0M234.2 452.0h0M241.0 470.9h0M239.9 478.2h0M219.3 475.1h0M240.4 459.2h0M219.9 472.9h0M241.5 492.5h0M236.8 467.1h0M254.2 477.6h0M230.5 469.2h0M241.2 466.3h0M224.2 470.5h0M235.6 489.3h0M224.9 458.2h0M229.0 462.0h0M221.0 473.5h0M227.1 467.0h0M234.1 470.5h0M238.2 480.9h0M243.4 473.0h0M233.5 472.6h0M253.3 465.9h0M233.2 463.0h0M217.7 465.5h0M246.4 482.6h0M232.1 475.4h0M232.3 456.1h0M231.2 465.1h0M244.2 465.4h0M223.0 466.8h0M233.7 473.7h0M240.4 467.8h0M231.7 466.5h0M237.0 466.8h0M229.5 466.3h0M241.2 457.3h0M248.7 455.0h0M229.4 487.0h0M230.3 469.8h0M227.6 476.1h0M248.7 471.1h0M224.2 470.3h0M230.6 480.3h0M225.3 478.8h0M228.4 455.0h0M236.0 464.5h0M235.5 479.2h0M228.5 469.4h0M236.0 473.3h0M221.3 475.3h0M226.8 481.7h0M222.2 449.2h0M219.0 468.5h0M245.3 475.1h0M236.2 463.7h0M243.3 468.7h0M230.5 483.1h0M216.7 470.5h0M230.5 472.8h0M222.3 471.4h0M246.8 471.5h0M239.2 484.8h0M225.3 467.7h0M230.5 469.9h0M228.6 469.4h0M237.8 474.9h0M249.4 473.7h0M219.7 480.9h0M248.5 472.9h0M235.7 462.9h0M232.0 447.8h0M224.2 477.8h0M232.2 463.6h0M247.4 466.2h0M221.1 476.6h0M226.9 470.7h0M218.8 477.8h0M235.4 457.5h0M216.3 469.3h0M241.7 473.3h0M243.1 469.3h0M244.1 470.8h0M218.4 461.0h0M234.2 464.6h0M232.9 457.5h0M241.6 467.5h0M235.1 464.1h0M241.1 472.9h0M231.4 473.3h0M225.4 460.4h0M240.1 469.3h0M242.4 480.2h0M221.3 470.9h0M216.5 483.9h0M227.2 474.5h0M225.8 474.2h0M232.9 479.2h0M244.8 463.3h0M237.7 473.3h0M218.7 477.5h0M248.8 480.4h0M230.5 465.5h0M230.9 474.5h0M225.9 474.0h0M229.6 459.4h0M247.9 463.1h0M234.9 462.8h0M224.9 475.0h0M222.2 469.1h0M234.0 486.1h0M223.4 482.4h0M235.5 472.8h0M229.7 469.1h0M233.1 469.0h0M225.4 469.0h0M226.8 476.6h0M247.9 480.0h0M220.7 479.8h0M221.2 454.1h0M217.6 472.1h0M236.3 462.6h0M242.6 477.7h0M229.0 472.2h0M224.0 466.8h0M235.7 468.9h0M221.5 480.2h0M247.9 476.6h0M239.1 457.2h0M238.3 460.4h0M239.7 477.0h0M235.5 459.0h0M235.3 478.3h0M233.7 468.6h0M244.7 463.4h0M225.9 481.0h0M239.1 489.6h0M220.1 473.3h0M222.5 477.5h0M216.3 483.6h0M215.2 461.2h0M223.7 475.6h0M241.6 470.8h0M249.1 468.1h0M226.2 471.7h0M226.4 477.9h0M228.3 480.9h0M224.3 458.8h0M225.5 471.3h0M234.7 468.4h0M233.1 466.8h0M222.0 467.5h0M231.5 470.3h0M239.9 468.6h0M230.1 470.1h0M220.5 470.7h0M229.6 452.7h0M236.1 486.2h0M244.7 473.2h0M219.3 474.2h0M240.4 466.9h0M230.4 461.7h0M244.3 451.9h0M226.8 476.5h0M238.9 452.4h0M229.6 481.2h0M224.2 478.1h0M235.8 485.0h0M219.5 473.9h0M221.8 480.0h0M241.5 472.1h0M239.1 462.9h0M248.5 465.2h0M222.2 479.1h0M237.1 450.4h0M240.1 476.3h0M234.5 465.0h0M218.6 455.1h0M229.9 464.6h0M233.7 461.9h0M229.2 465.0h0M228.9 460.4h0M222.8 465.1h0M222.5 477.2h0M215.9 477.1h0M216.9 462.7h0M230.2 459.4h0M226.9 468.7h0M260.2 472.6h0M219.8 465.4h0M230.1 462.0h0M239.8 474.0h0M228.7 485.5h0M232.5 471.3h0M229.7 471.1h0M233.7 480.8h0M237.7 473.9h0M244.5 466.1h0M223.9 469.3h0M226.1 481.0h0M238.4 489.5h0M229.4 478.7h0M236.2 476.0h0M233.1 462.0h0M241.8 473.3h0M233.9 485.2h0M245.5 470.7h0M243.3 478.4h0M236.7 475.2h0M218.6 466.4h0M248.0 471.8h0M216.6 477.9h0M225.0 474.7h0M261.1 471.9h0M235.4 462.5h0M246.0 455.1h0M227.2 484.2h0M227.3 464.2h0M252.1 473.2h0M222.2 488.2h0M220.0 479.8h0M243.9 463.5h0M234.7 476.2h0M233.9 471.0h0M218.8 481.5h0M226.4 469.2h0M237.0 482.6h0M245.0 467.7h0M240.9 480.0h0M225.6 462.5h0M231.0 457.3h0M231.0 457.7h0M240.3 474.5h0M234.7 484.4h0M225.4 469.7h0M227.6 475.7h0M231.1 482.5h0M225.7 478.9h0M237.6 487.5h0M234.0 460.1h0M238.9 474.0h0M223.1 467.0h0M243.0 474.9h0M243.2 482.8h0M247.3 465.6h0M239.6 470.1h0M235.8 493.4h0M230.6 458.9h0M229.7 468.8h0M231.1 482.1h0M227.6 466.7h0M223.5 479.4h0M220.0 467.2h0M227.5 468.8h0M242.6 476.5h0M223.8 482.9h0M233.8 465.6h0M217.8 465.1h0M239.2 485.9h0M238.7 461.3h0M242.3 470.6h0M218.1 467.0h0M233.7 474.4h0M236.8 467.2h0M223.5 460.8h0M234.8 470.1h0M242.0 473.1h0M227.2 466.5h0M235.6 453.7h0M250.3 479.0h0M229.6 480.3h0M228.7 460.7h0M235.7 472.9h0M232.8 475.0h0M229.0 462.2h0M247.1 464.8h0M217.5 479.5h0M232.0 477.4h0M218.6 471.1h0M223.9 487.3h0M225.7 469.9h0M228.9 481.3h0M237.2 458.7h0M218.8 471.2h0M224.0 462.6h0M222.3 471.5h0M239.7 460.2h0M217.7 468.7h0M257.9 473.8h0M218.0 470.1h0M237.1 472.3h0M216.0 478.1h0M236.1 461.8h0M228.9 468.4h0M246.3 473.1h0M245.2 490.1h0M229.8 468.9h0M235.5 484.5h0M227.4 470.6h0M227.1 482.5h0M222.0 476.2h0M230.3 469.0h0M218.9 477.3h0M248.8 478.5h0M245.5 456.1h0M236.6 473.4h0M228.0 472.8h0M221.5 473.3h0M231.0 463.9h0M221.7 477.2h0M219.6 465.1h0M238.8 475.3h0M230.4 479.5h0M236.5 477.4h0M221.9 471.8h0M230.4 471.4h0M232.6 460.3h0M239.6 461.6h0M216.0 481.9h0M224.8 474.3h0M236.6 461.2h0M254.2 474.4h0M245.9 486.7h0M226.4 467.4h0M236.2 479.1h0M227.2 473.1h0M242.3 455.9h0M222.7 480.5h0M234.0 480.7h0M230.2 477.5h0M217.2 463.1h0M240.7 465.7h0M230.2 467.9h0M233.0 471.6h0M231.8 456.6h0M230.4 463.2h0M222.3 467.9h0M239.2 475.5h0M234.9 469.3h0M219.0 477.9h0M244.5 481.5h0M246.8 482.4h0M233.0 464.2h0M247.9 470.3h0M229.1 459.5h0M226.2 463.9h0M226.0 480.8h0M224.8 455.2h0M230.6 460.0h0M232.6 463.4h0M245.6 473.1h0M239.2 470.8h0M237.0 476.4h0M231.5 481.1h0M244.6 466.4h0M250.5 470.5h0M228.6 470.9h0M252.0 467.5h0M225.0 471.7h0M235.2 467.2h0M237.6 463.7h0M235.7 479.3h0M223.0 470.4h0M234.3 459.9h0M245.1 463.4h0M245.9 463.5h0M230.9 481.9h0M233.9 477.1h0M240.6 463.9h0M229.5 483.8h0M231.2 472.4h0M225.8 486.2h0M256.9 482.4h0M230.0 475.6h0M235.0 483.5h0M219.8 479.7h0M237.5 466.3h0M229.0 483.3h0M245.3 471.1h0M232.0 478.5h0M255.6 470.9h0M237.0 481.8h0M234.1 469.3h0M234.3 469.3h0M250.4 469.2h0M215.4 482.5h0M238.9 478.6h0M244.2 484.3h0M238.4 479.9h0M229.4 495.5h0M234.6 468.7h0M220.1 476.8h0M250.7 478.3h0M247.3 461.0h0M245.3 475.0h0M237.6 457.1h0M227.6 469.5h0M240.5 470.6h0M247.1 462.9h0M231.6 461.7h0M240.3 466.8h0M225.8 468.5h0M242.8 475.6h0M229.0 465.6h0M243.7 481.8h0M225.3 470.6h0M237.1 475.1h0M229.6 470.0h0M218.1 470.0h0M231.3 475.0h0M236.0 481.9h0M239.4 470.7h0M236.8 474.8h0M235.7 481.0h0M239.4 468.0h0M223.0 467.7h0M226.0 461.6h0M228.1 469.3h0M243.3 468.8h0M225.3 471.8h0M227.0 468.4h0M225.5 476.5h0M249.1 467.8h0M240.6 472.0h0M230.3 454.7h0M238.4 474.0h0M237.6 479.2h0M233.1 455.8h0M247.4 472.4h0M224.9 452.5h0M218.3 465.8h0M224.4 472.2h0M247.2 465.2h0M244.5 470.5h0M238.3 483.1h0M230.2 478.5h0M221.5 466.1h0M245.4 474.1h0M230.9 476.5h0M233.6 481.9h0M230.7 465.7h0M240.8 478.8h0M219.0 467.0h0M240.8 477.5h0M226.1 477.5h0M228.7 469.8h0M239.9 470.5h0M225.8 463.6h0M238.1 472.0h0M237.6 464.7h0M235.5 473.2h0M247.7 460.7h0M237.7 471.8h0M236.5 457.5h0M237.7 467.5h0M218.3 488.6h0M216.8 475.1h0M231.7 468.9h0M240.5 460.8h0M237.9 478.9h0M219.3 468.6h0M245.1 477.2h0M234.5 477.3h0M223.3 478.9h0M226.4 464.6h0M214.8 472.4h0M238.7 488.5h0M230.7 475.1h0M237.0 473.6h0M221.6 468.7h0M232.6 485.1h0M228.4 459.6h0M232.2 482.2h0M224.4 474.0h0M222.7 473.1h0M241.2 467.1h0M226.2 456.8h0M221.0 461.5h0M247.1 472.1h0M243.7 477.7h0M235.5 483.1h0M224.7 468.3h0M221.0 466.4h0M224.4 477.0h0M231.0 475.6h0M239.1 476.6h0M233.3 477.5h0M224.5 460.4h0M232.1 490.0h0M234.2 468.0h0M242.4 448.9h0M229.3 476.4h0M255.1 465.0h0M234.9 450.7h0M237.3 465.4h0M233.8 454.9h0M243.0 455.9h0M228.2 475.4h0M233.9 473.8h0M223.4 467.6h0M224.0 495.3h0M245.4 466.3h0M228.2 468.0h0M254.7 473.5h0M246.5 460.5h0M217.8 453.8h0M237.6 481.8h0M231.2 481.7h0M226.6 472.4h0M239.1 468.8h0M239.6 466.0h0M223.4 465.2h0M250.0 464.6h0M240.3 464.0h0M241.7 464.9h0M238.3 477.0h0M239.2 476.3h0M217.1 456.7h0M234.3 465.5h0M217.2 470.6h0M234.0 466.0h0M228.0 484.6h0M232.6 470.9h0M224.2 470.9h0M238.7 462.4h0M241.0 462.8h0M245.6 467.2h0M238.4 479.9h0M221.3 453.9h0M237.8 475.2h0M233.3 464.6h0M227.4 462.0h0M232.8 470.5h0M220.2 471.4h0M218.2 480.4h0M232.9 473.3h0M239.1 463.1h0M221.8 461.0h0M251.8 469.0h0M225.8 478.2h0M240.5 488.5h0M244.4 473.5h0M244.6 479.1h0M239.6 472.4h0M224.9 472.6h0M242.6 464.1h0M232.0 472.9h0M229.5 468.2h0M233.4 467.1h0M215.5 472.3h0M229.5 479.4h0M234.7 465.3h0M250.9 465.1h0M229.1 469.8h0M239.2 483.4h0M237.4 463.7h0M238.0 477.8h0M235.6 474.6h0M232.9 456.7h0M231.5 473.0h0M239.0 480.7h0M225.2 458.7h0M230.3 465.5h0M234.8 477.5h0M229.8 469.3h0M231.1 470.5h0M228.3 468.6h0M227.1 469.8h0M220.9 458.1h0M244.0 455.2h0M232.8 481.0h0M222.2 460.4h0M229.4 474.5h0M234.1 476.1h0M219.2 471.7h0M237.3 467.6h0M217.2 460.2h0M225.0 469.4h0M224.0 481.9h0M236.2 458.6h0M222.7 456.4h0M240.7 476.8h0M238.0 460.7h0M254.0 479.9h0M224.4 471.5h0M220.2 470.5h0M219.1 460.0h0M248.1 477.1h0M236.6 477.4h0M231.3 474.0h0M228.1 476.4h0M236.8 471.8h0M244.8 476.9h0M231.8 478.8h0M224.2 460.5h0M233.0 462.0h0M233.6 480.3h0M242.0 465.3h0M240.8 474.4h0M239.8 474.9h0M246.9 450.6h0M236.1 455.8h0M231.0 495.5h0M225.7 485.6h0M248.0 479.7h0M230.2 487.0h0M249.8 459.5h0M226.0 455.6h0M226.8 472.0h0M235.7 471.5h0M216.3 479.7h0M229.8 470.1h0M227.4 468.9h0M220.2 466.9h0M235.9 484.0h0M239.1 470.9h0M241.4 470.7h0M242.3 480.2h0M228.7 472.2h0M223.3 457.3h0M233.1 470.1h0M245.2 467.6h0M223.4 476.7h0M237.7 463.7h0M234.5 470.0h0M250.2 488.3h0M226.5 469.0h0M235.8 474.6h0M241.5 462.0h0M232.6 471.9h0M223.6 482.8h0M220.9 484.5h0M223.4 475.7h0M236.7 473.0h0M235.1 498.0h0M236.3 469.3h0M228.3 482.6h0M240.0 467.5h0M251.6 471.5h0M237.6 458.6h0M239.4 474.9h0M242.7 468.2h0M240.6 466.6h0M232.9 470.0h0M229.8 460.8h0M222.7 473.5h0M230.7 470.3h0M236.9 474.5h0M240.6 461.6h0M241.6 472.7h0M225.6 476.3h0M238.4 478.4h0M232.9 485.0h0M229.9 479.2h0M232.3 468.4h0M241.5 478.5h0M216.5 460.5h0M243.1 464.6h0M250.2 463.4h0M227.9 472.2h0M241.3 460.8h0M223.2 469.7h0M256.8 456.1h0M237.8 462.1h0M228.3 475.4h0M237.7 485.5h0M235.9 484.6h0M244.4 466.4h0M217.9 469.9h0M234.0 478.4h0M229.7 478.2h0M235.3 464.1h0M228.3 465.5h0M236.6 455.0h0M245.4 485.5h0M221.6 472.8h0M250.4 475.0h0M230.9 473.1h0M239.5 479.5h0M234.9 464.7h0M231.2 463.2h0M219.6 468.3h0M229.6 471.2h0M226.8 475.9h0M231.4 468.9h0M233.6 472.2h0M236.4 478.5h0M223.7 463.1h0M228.5 469.7h0M247.0 468.3h0M226.1 466.6h0M231.6 481.6h0M240.0 465.5h0M235.6 469.0h0M249.3 469.0h0M237.7 464.7h0M220.2 460.3h0M228.5 468.8h0M246.6 474.9h0M237.1 476.4h0M233.1 488.0h0M237.2 477.2h0M251.9 482.1h0M228.5 467.9h0M230.3 470.7h0M233.6 472.4h0M218.4 482.3h0M221.1 477.8h0M217.0 463.2h0M238.6 469.6h0M242.9 464.1h0M230.6 476.9h0M227.5 469.8h0M236.4 461.8h0M232.4 481.6h0M230.6 470.0h0M243.5 478.3h0M227.2 478.4h0M230.2 473.2h0M216.4 457.4h0M239.0 470.0h0M236.8 466.2h0M223.4 466.2h0M227.4 475.7h0M227.5 454.5h0M226.1 467.1h0M226.2 462.4h0M222.1 464.3h0M233.0 464.0h0M234.4 465.7h0M248.0 473.6h0M257.6 472.1h0M219.6 453.4h0M229.6 468.4h0M235.6 474.2h0M241.1 467.8h0M233.1 483.5h0M235.3 468.6h0M227.8 455.3h0M232.7 462.9h0M249.0 477.6h0M241.8 470.5h0M238.6 468.3h0M233.9 472.3h0M223.9 478.6h0M233.3 458.4h0M227.0 475.2h0M224.3 465.7h0M225.6 461.8h0M235.9 479.3h0M242.3 459.4h0M223.8 471.7h0M217.8 474.5h0M236.9 470.4h0M235.0 475.2h0M233.8 469.5h0M220.4 472.3h0M254.8 463.3h0M216.1 469.3h0M234.0 478.2h0M231.0 459.9h0M230.8 465.3h0M233.7 482.4h0M233.7 471.7h0M243.3 474.9h0M240.3 466.4h0M245.8 471.4h0M241.4 472.0h0M217.4 470.0h0M238.7 479.4h0M223.9 472.9h0M220.3 471.7h0M238.3 470.8h0M242.4 482.2h0M238.5 469.5h0M226.3 486.8h0M261.3 488.9h0M229.9 473.0h0M215.8 475.5h0M222.7 479.2h0M240.2 474.1h0M237.4 477.5h0M231.6 467.1h0M240.4 481.8h0M233.2 484.7h0M227.8 483.8h0M245.0 485.1h0M220.7 476.2h0M228.3 470.0h0M226.2 477.9h0M225.1 478.9h0M240.5 468.2h0M240.6 460.3h0M242.6 478.2h0M236.0 471.5h0M230.2 469.9h0M249.7 459.3h0M241.3 476.7h0M229.5 481.8h0M237.1 468.3h0M228.9 463.6h0M234.1 477.0h0M223.2 486.7h0M235.5 449.2h0M218.8 471.1h0M228.6 470.9h0M231.5 474.7h0M247.7 464.3h0M225.9 457.6h0M236.8 468.4h0M226.8 480.3h0M235.8 474.2h0M229.7 469.5h0M248.8 480.4h0M231.4 476.8h0M227.7 465.9h0M233.6 464.9h0M230.8 470.3h0M226.5 482.5h0M228.7 468.0h0M250.6 477.5h0M245.1 484.3h0M227.3 477.9h0M232.8 473.4h0M235.1 480.6h0M230.2 471.3h0M233.8 474.5h0M238.4 467.0h0M242.2 475.3h0M239.0 486.1h0M243.6 473.2h0M240.8 463.0h0M233.7 458.8h0M231.2 469.9h0M226.5 478.3h0M243.4 474.1h0M223.6 478.3h0M238.1 464.6h0M248.9 475.6h0M215.1 479.7h0M240.2 466.1h0M217.8 469.6h0M236.2 475.9h0M245.8 479.8h0M236.0 464.5h0M228.4 474.2h0M241.1 473.7h0M241.2 480.6h0M256.2 468.2h0M225.9 483.3h0M223.6 480.9h0M234.0 468.1h0M240.5 461.7h0M237.4 464.7h0M231.3 478.6h0M223.5 468.3h0M222.5 472.5h0M232.3 472.1h0M246.6 476.9h0M234.6 471.0h0M239.1 477.4h0M215.7 474.7h0M249.2 470.6h0M224.8 465.1h0M238.7 477.3h0M217.3 484.1h0M219.8 461.1h0M230.8 475.1h0M223.3 458.3h0M222.0 472.0h0M223.3 467.2h0M251.4 480.7h0M232.2 461.2h0M233.6 460.8h0M228.0 468.8h0M232.3 469.5h0M234.8 453.0h0M254.1 469.3h0M227.9 469.1h0M228.9 477.5h0M259.5 488.2h0M229.8 461.3h0M232.6 466.0h0M228.4 474.4h0M238.9 459.3h0M228.0 462.1h0M242.6 476.3h0M214.7 478.3h0M229.8 477.9h0M232.0 469.8h0M231.5 474.9h0M246.7 470.3h0M223.7 465.0h0M240.4 487.2h0M236.3 475.0h0M246.8 463.0h0M230.8 476.6h0M228.7 459.7h0M221.0 478.8h0M234.6 469.9h0M242.5 471.9h0M246.9 454.5h0M226.7 466.1h0M243.4 459.6h0M230.6 474.5h0M238.8 471.5h0M227.9 467.1h0M240.9 458.3h0M231.6 477.4h0M230.0 465.9h0M237.7 459.0h0M240.5 470.1h0M215.7 471.9h0M225.2 472.8h0M245.1 475.9h0M244.5 481.5h0M237.7 485.2h0M234.3 459.4h0M235.9 466.6h0M238.1 467.2h0M238.0 462.3h0M240.2 474.9h0M236.6 476.0h0M248.6 473.1h0M227.9 474.9h0M222.3 453.8h0M240.5 468.6h0M256.5 476.9h0M235.6 474.7h0M236.5 470.5h0M249.8 473.7h0M244.0 476.8h0M241.0 473.8h0M243.3 470.9h0M243.9 479.0h0M238.1 473.4h0M244.7 480.9h0M241.1 474.2h0M238.9 477.6h0M235.6 468.8h0M236.7 464.4h0M236.9 467.2h0M240.4 470.5h0M216.9 467.0h0M224.1 483.6h0M231.8 475.7h0M234.6 460.5h0M231.5 475.4h0M233.5 476.3h0M220.7 468.3h0M249.6 460.7h0M235.9 467.5h0M237.1 455.1h0M226.2 473.6h0M237.8 469.8h0M220.8 452.0h0M239.2 468.3h0M234.1 476.4h0M232.4 481.2h0M222.8 473.5h0M235.0 468.8h0M225.8 474.9h0M225.9 464.9h0M248.7 466.0h0M225.1 473.9h0M238.9 462.7h0M231.6 477.2h0M225.5 468.8h0M231.1 458.6h0M249.1 487.0h0M239.4 478.9h0M232.5 459.3h0M242.2 469.9h0M226.4 482.1h0M239.5 480.0h0M228.0 477.0h0M244.1 478.5h0M239.4 479.8h0M242.8 475.3h0M225.6 484.3h0M219.8 470.3h0M254.2 466.5h0M230.4 483.7h0M221.3 463.1h0M221.2 465.0h0M240.1 477.9h0M230.6 475.7h0M237.6 473.8h0M231.4 463.7h0M218.7 484.3h0M229.9 458.8h0M247.1 478.3h0M218.4 458.6h0M234.3 462.6h0M218.8 464.6h0M242.9 479.6h0M216.4 476.3h0M234.5 475.2h0M220.2 463.0h0M243.6 486.8h0M229.9 473.5h0M235.0 455.2h0M223.3 472.3h0M223.9 462.4h0M236.8 473.6h0M248.6 468.9h0M235.5 460.5h0M241.2 480.7h0M239.7 465.5h0M222.7 466.8h0M225.5 466.3h0M248.6 468.1h0M233.4 464.2h0M234.2 471.8h0M235.3 459.6h0M233.8 471.2h0M238.6 468.4h0M243.0 479.1h0M218.2 479.6h0M232.3 469.5h0M230.5 464.5h0M227.4 479.6h0M233.7 482.0h0M250.3 471.9h0M228.0 473.5h0M233.5 462.6h0M235.0 453.5h0M220.8 471.9h0M226.4 468.4h0M239.3 466.0h0M229.9 458.8h0M242.1 458.2h0M219.1 465.7h0M236.8 469.4h0M238.3 471.8h0M234.1 481.4h0M229.2 463.0h0M239.5 483.2h0M237.0 478.6h0M225.5 469.8h0M220.1 469.1h0M245.5 484.9h0M220.8 471.9h0M247.0 469.5h0M231.9 476.2h0M254.1 475.0h0M231.4 476.8h0M256.3 471.8h0M233.1 479.9h0M245.6 468.2h0M247.8 472.7h0M229.2 451.6h0M236.6 463.9h0M229.1 477.2h0M237.9 474.5h0M219.0 475.2h0M228.9 465.3h0M228.0 459.8h0M236.1 481.1h0M234.7 468.1h0M250.5 475.8h0M238.5 484.9h0M229.1 478.8h0M229.2 458.1h0M229.8 465.2h0M239.3 476.7h0M217.3 480.8h0M234.6 466.0h0M220.6 481.1h0M226.8 487.7h0M232.9 472.3h0M221.3 454.2h0M228.2 477.8h0M258.7 464.4h0M229.1 470.1h0M235.3 457.5h0M231.6 466.8h0M222.3 479.3h0M225.2 466.4h0M237.3 467.9h0M220.4 469.0h0M232.0 467.0h0M231.5 466.0h0M222.8 470.3h0M225.3 477.3h0M236.2 475.0h0M239.3 474.7h0M236.8 476.1h0M226.1 465.9h0M238.5 469.7h0M242.3 473.9h0M239.9 474.6h0M236.9 484.7h0M242.5 470.5h0M238.5 474.7h0M239.0 464.6h0M235.5 466.5h0M223.8 468.0h0M228.5 469.3h0M238.1 462.0h0M234.0 461.2h0M235.4 462.2h0M224.9 475.0h0M220.5 466.8h0M215.6 479.6h0M242.8 472.6h0M223.0 468.0h0M245.7 462.5h0M247.9 467.8h0M227.6 464.0h0M226.5 477.8h0M230.4 472.6h0M221.6 460.3h0M221.7 467.1h0M228.0 470.9h0M246.6 464.9h0M218.7 452.5h0M230.8 460.4h0M243.2 465.4h0M224.8 468.1h0M243.1 480.7h0M244.1 467.1h0M230.5 465.2h0M215.5 470.4h0M222.1 472.8h0M221.7 469.4h0M235.4 454.8h0M224.0 462.1h0M232.3 472.4h0M229.7 469.6h0M239.7 472.5h0M240.7 471.2h0M227.5 482.0h0M232.5 475.1h0M240.3 463.4h0M240.0 470.3h0M240.4 474.1h0M247.5 473.5h0M255.8 478.9h0M216.2 457.4h0M241.3 469.7h0M237.0 476.3h0M241.1 474.0h0M236.4 477.8h0M238.9 474.7h0M234.6 467.1h0M244.7 461.3h0M252.4 470.0h0M228.7 459.1h0M229.7 486.0h0M248.1 472.9h0M219.9 472.8h0M225.8 466.0h0M239.1 472.9h0M240.1 457.0h0M230.3 479.7h0M244.0 466.8h0M232.5 477.3h0M228.3 460.2h0M229.7 473.8h0M225.4 467.6h0M241.6 469.4h0M219.6 467.3h0M236.0 467.5h0M242.0 454.9h0M229.7 471.3h0M225.7 469.0h0M245.5 462.2h0M229.6 480.8h0M233.4 479.7h0M245.1 488.3h0M228.9 471.3h0M230.1 468.3h0M244.0 463.0h0M235.0 460.8h0M236.4 475.3h0M220.8 482.4h0M248.5 475.4h0M230.8 487.0h0M220.7 470.8h0M241.9 470.9h0M237.0 476.9h0M244.2 473.7h0M245.1 482.8h0M227.2 470.0h0M256.0 468.8h0M244.8 472.2h0M249.1 470.7h0M236.5 470.0h0M230.8 478.7h0M232.2 475.7h0M223.3 473.9h0M237.4 467.9h0M237.1 466.7h0M226.1 473.1h0M233.7 462.5h0M235.4 471.6h0M229.4 470.2h0M234.5 474.3h0M224.9 476.8h0M243.8 479.4h0M248.0 462.2h0M230.1 461.9h0M234.9 465.4h0M250.8 470.8h0M234.7 473.5h0M240.9 466.5h0M233.9 484.8h0M218.9 478.0h0M244.0 469.9h0M245.4 460.2h0M238.1 461.4h0M217.6 487.8h0M236.7 469.7h0M239.9 472.8h0M243.2 467.5h0M221.8 480.6h0M236.6 472.6h0M242.1 472.7h0M228.3 465.6h0M244.9 466.2h0M246.9 462.4h0M225.5 478.4h0M244.8 459.3h0M244.5 478.6h0M247.6 468.5h0M230.6 468.2h0M220.0 470.6h0M237.6 469.2h0M230.7 468.7h0M218.8 473.1h0M234.9 468.2h0M248.2 467.9h0M240.1 460.0h0M240.5 480.1h0M232.9 474.3h0M244.4 475.2h0M238.7 466.1h0M227.6 463.1h0M240.8 465.7h0M237.5 467.5h0M239.9 477.9h0M239.6 466.7h0M242.1 460.5h0M232.0 476.3h0M247.0 456.2h0M219.1 479.2h0M230.5 462.6h0M229.4 469.6h0M231.9 484.6h0M239.2 480.4h0M255.2 459.4h0M220.0 487.7h0M232.6 469.5h0M242.3 463.2h0M224.0 474.4h0M230.3 466.4h0M229.4 490.6h0M237.1 464.7h0M241.1 465.4h0M241.4 466.8h0M234.2 468.7h0M237.7 467.6h0M229.5 479.0h0M227.3 475.0h0M225.7 494.8h0M228.3 469.2h0M242.2 468.7h0M223.2 478.8h0M247.9 458.7h0M222.4 478.7h0M237.6 467.1h0M228.8 463.1h0M216.4 468.0h0M232.3 463.6h0M232.5 479.8h0M232.1 467.5h0M240.7 471.1h0M230.2 476.6h0M223.5 463.9h0M234.9 466.9h0M231.2 467.8h0M219.2 472.0h0M226.2 475.7h0M240.7 468.2h0M234.6 476.2h0M222.6 477.9h0M229.9 466.0h0M238.5 469.4h0M230.9 463.2h0M234.0 473.0h0M241.2 473.2h0M233.6 488.2h0M226.9 478.9h0M251.7 474.0h0M248.1 472.8h0M249.9 466.7h0M248.7 451.4h0M240.3 475.8h0M221.5 483.9h0M232.8 471.9h0M224.3 476.9h0M229.3 475.7h0M237.0 483.4h0M243.1 469.7h0M230.0 475.7h0M231.7 470.2h0M238.2 481.2h0M229.2 466.9h0M236.9 473.1h0M234.9 463.0h0M243.6 476.5h0M232.8 484.7h0M226.5 471.6h0M231.5 479.1h0M224.8 467.2h0M234.9 470.3h0M240.3 470.6h0M235.2 469.9h0M227.4 463.4h0M238.1 460.5h0M241.2 469.9h0M237.1 463.6h0M230.9 469.2h0M254.1 475.2h0M229.4 469.0h0M233.5 479.1h0M215.2 483.1h0M227.4 476.3h0M236.6 475.4h0M238.2 454.0h0M229.7 469.9h0M234.4 474.9h0M237.1 473.4h0M221.9 461.2h0M237.6 463.5h0M244.2 485.1h0M236.9 460.2h0M232.0 459.8h0M249.2 487.4h0M236.6 480.9h0M236.8 476.4h0M243.5 466.6h0M239.5 472.4h0M234.3 476.6h0M249.2 465.0h0M238.9 466.3h0M225.6 463.6h0M230.4 469.2h0M232.4 458.5h0M232.7 469.2h0M230.0 472.3h0M234.6 466.3h0M232.8 478.1h0M224.1 467.8h0M236.4 475.1h0M235.4 460.7h0M215.9 471.8h0M238.5 453.8h0M222.7 468.7h0M222.1 467.9h0M221.0 485.2h0M240.8 475.2h0M231.7 468.2h0M242.4 465.4h0M219.1 464.7h0M223.4 464.3h0M235.4 459.9h0M231.2 474.8h0M235.2 467.1h0M228.9 468.5h0M225.9 477.4h0M240.6 459.0h0M229.1 463.5h0M239.3 470.6h0M225.1 462.7h0M239.9 474.2h0M220.4 478.3h0M226.4 469.7h0M234.3 484.2h0M236.0 468.6h0M244.9 465.6h0M247.0 460.1h0M227.0 466.9h0M254.9 461.2h0M233.5 469.9h0M240.8 471.2h0M244.4 471.3h0M220.2 464.6h0M229.3 468.6h0M249.7 475.9h0M239.6 467.4h0M225.7 459.6h0M240.4 474.0h0M228.3 481.6h0M233.8 493.4h0M216.0 459.3h0M234.0 476.0h0M229.0 468.2h0M229.9 472.8h0M221.6 475.8h0M248.5 484.2h0M244.8 480.0h0M233.2 475.1h0M240.0 487.1h0M227.1 482.6h0M233.5 471.9h0M229.6 473.8h0M256.5 470.0h0M226.7 470.8h0M255.8 468.4h0M232.7 463.3h0M230.2 465.8h0M229.7 469.5h0M224.4 474.4h0M233.6 471.3h0M234.7 472.7h0M228.1 462.6h0M232.4 486.6h0M231.5 476.1h0M247.7 465.0h0M226.1 495.3h0M216.4 459.3h0M252.0 452.3h0M240.1 475.3h0M244.2 477.3h0M228.7 457.4h0M223.5 466.4h0M227.7 486.8h0M227.8 477.5h0M252.9 475.2h0M216.2 466.7h0M231.0 484.3h0M237.1 463.8h0M241.8 465.6h0M229.7 473.9h0M239.7 452.5h0M249.5 470.5h0M240.0 470.0h0M228.5 475.7h0M242.4 470.4h0M222.0 473.8h0M234.5 455.8h0M236.7 464.4h0M219.0 475.8h0M236.4 468.2h0M233.4 477.2h0M228.5 473.3h0M224.1 465.5h0M239.0 478.4h0M222.0 479.7h0M240.0 474.9h0M240.9 485.3h0M230.9 472.6h0M236.4 461.6h0M224.5 474.1h0M226.0 474.9h0M224.2 454.5h0M257.4 471.4h0M237.8 456.0h0M236.3 473.3h0M238.7 466.3h0M234.0 469.0h0M236.5 473.3h0M235.1 461.3h0M224.1 464.0h0M232.9 466.9h0M233.3 464.8h0M253.9 476.8h0M235.0 470.3h0M241.7 467.9h0M230.1 477.5h0M226.0 482.1h0M216.6 472.8h0M223.5 464.3h0M232.5 468.2h0M248.3 474.3h0M249.8 474.4h0M225.5 478.5h0M254.3 468.5h0M243.8 469.2h0M229.9 472.3h0M222.4 490.8h0M240.4 462.6h0M240.6 480.5h0M237.1 470.1h0M241.0 468.6h0M235.2 473.3h0M222.7 463.6h0M220.1 464.0h0M226.4 480.9h0M229.6 472.4h0M225.3 472.0h0M225.8 485.6h0M222.9 459.4h0M236.4 471.9h0M240.3 476.4h0M228.8 467.4h0M235.5 480.4h0M226.0 472.0h0M235.8 491.8h0M239.6 471.7h0M245.2 461.4h0M234.8 456.2h0M240.6 477.1h0M236.8 465.1h0M225.1 460.8h0M229.2 464.5h0M238.7 472.5h0M228.7 465.4h0M242.7 468.1h0M219.9 470.5h0M231.7 481.3h0M223.8 482.3h0M246.7 468.5h0M227.0 472.9h0M220.9 477.8h0M217.8 470.7h0M240.9 472.8h0M244.1 472.5h0M248.8 471.0h0M218.0 462.0h0M237.6 474.6h0M228.3 457.2h0M236.6 465.1h0M216.1 462.2h0M248.7 483.7h0M250.8 478.3h0M238.2 477.4h0M235.3 466.3h0M226.7 470.5h0M222.1 485.0h0M245.8 470.0h0M244.3 464.4h0M221.2 486.5h0M240.9 473.4h0M226.8 465.8h0M237.7 484.7h0M246.5 473.7h0M233.5 472.7h0M216.1 470.0h0M242.0 479.2h0M240.9 475.0h0M237.2 466.6h0M229.9 466.2h0M219.1 475.0h0M229.7 477.6h0M256.4 474.2h0M226.4 475.4h0M228.6 469.4h0M223.5 464.0h0M245.8 457.6h0M234.5 472.2h0M226.9 456.8h0M225.1 459.5h0M226.9 479.3h0M240.4 470.8h0M230.3 470.7h0M243.0 477.5h0M257.4 476.0h0M220.2 467.7h0M240.8 466.0h0M225.5 473.1h0M234.7 474.5h0M230.5 473.9h0M236.1 471.4h0M219.7 472.6h0M231.3 466.3h0M244.7 466.9h0M224.0 469.2h0M225.1 463.1h0M215.1 451.9h0M232.9 480.7h0M222.9 465.0h0M216.9 472.0h0M225.2 493.3h0M229.7 457.8h0M245.7 483.9h0M217.4 462.9h0M238.6 459.7h0M229.4 469.7h0M235.3 459.8h0M243.0 478.6h0M241.5 469.5h0M215.3 479.4h0M239.8 463.3h0M230.9 478.9h0M237.0 486.6h0M233.5 468.2h0M223.3 459.2h0M249.7 472.3h0M238.9 479.2h0M233.8 487.4h0M243.1 458.7h0M223.1 478.7h0M254.2 459.5h0M235.9 464.4h0M224.2 474.9h0M235.3 463.4h0M217.9 482.0h0M230.3 478.3h0M219.7 476.0h0M232.3 481.0h0M241.0 464.9h0M239.7 467.1h0M234.2 468.2h0M217.8 456.6h0M242.1 471.4h0M234.3 480.9h0M226.8 460.6h0M237.5 479.2h0M235.7 474.1h0M245.8 469.5h0M226.1 468.6h0M245.9 465.4h0M235.1 473.3h0M241.4 470.1h0M238.0 470.9h0M231.2 455.7h0M248.4 458.8h0M232.4 457.6h0M251.0 469.7h0M237.4 489.1h0M244.4 469.3h0M249.0 477.5h0M247.0 471.8h0M229.1 461.1h0M242.0 482.7h0M236.6 470.8h0M237.7 472.4h0M229.0 466.7h0M222.5 472.7h0M218.2 469.7h0M227.0 474.1h0M225.2 475.6h0M233.9 475.1h0M218.8 479.5h0M242.4 440.6h0M226.2 468.8h0M232.8 474.9h0M224.2 475.9h0M225.9 474.4h0M233.6 457.9h0" stroke="#3434f2" stroke-width="0.85" stroke-linecap="round" fill="none" opacity="0.9"/>
<path d="M216.2 430.0h0M235.2 432.3h0M226.2 448.4h0M227.7 421.3h0M226.6 431.3h0M225.0 430.2h0M232.0 421.0h0M226.8 442.9h0M233.6 417.4h0M241.0 427.4h0M236.3 416.1h0M234.2 423.8h0M227.2 428.5h0M225.9 430.8h0M223.2 422.7h0M229.3 435.5h0M234.1 431.8h0M229.3 408.2h0M235.7 413.6h0M238.8 420.4h0M224.3 434.6h0M224.0 437.9h0M223.4 419.6h0M225.4 438.6h0M225.0 419.4h0M229.1 437.2h0M239.1 426.9h0M236.2 420.7h0M235.7 427.2h0M231.1 415.2h0M231.8 425.9h0M232.9 428.7h0M215.1 411.4h0M220.0 437.7h0M218.8 423.5h0M228.3 420.6h0M230.1 419.3h0M225.5 423.5h0M227.7 421.3h0M225.8 421.4h0M229.5 411.9h0M228.7 416.6h0M232.5 431.1h0M230.0 434.9h0M219.9 436.5h0M221.1 426.6h0M219.1 428.7h0M221.3 430.4h0M237.7 430.8h0M228.4 423.1h0M228.7 441.0h0M223.0 438.0h0M229.5 440.4h0M223.0 423.2h0M230.7 417.6h0M224.3 436.3h0M222.3 418.0h0M220.3 425.1h0M225.7 437.6h0M230.2 424.4h0M220.6 427.1h0M222.5 429.5h0M230.6 406.2h0M222.2 423.3h0M231.6 420.4h0M232.4 440.9h0M221.8 416.2h0M227.9 413.3h0M229.8 421.1h0M223.8 427.6h0M239.7 424.6h0M224.5 425.2h0M228.5 443.7h0M225.2 436.1h0M233.6 446.2h0M222.1 437.4h0M228.9 426.8h0M216.2 419.1h0M227.5 435.2h0M225.6 422.6h0M224.8 435.6h0M229.6 420.1h0M222.4 417.7h0M226.3 429.7h0M239.5 450.0h0M222.9 425.6h0M221.9 418.4h0M232.1 424.2h0M226.5 437.7h0M230.2 424.7h0M230.2 426.7h0M229.3 422.8h0M230.7 423.9h0M238.1 446.3h0M230.6 428.7h0M237.8 433.2h0M236.1 421.2h0M234.9 424.1h0M232.3 426.4h0M233.1 432.0h0M219.2 423.1h0M222.5 417.7h0M222.3 428.9h0M226.8 424.8h0M227.2 421.2h0M221.0 424.8h0M232.1 419.9h0M230.0 438.5h0M234.0 425.9h0M229.7 430.2h0M225.5 433.1h0M234.0 412.8h0M220.5 420.3h0M234.9 418.5h0M230.7 418.1h0M210.2 444.7h0M215.4 436.2h0M217.9 440.2h0M227.0 434.9h0M238.9 449.5h0M226.1 412.9h0M229.7 423.9h0M223.7 428.3h0M213.5 427.0h0M211.9 440.1h0M224.1 422.3h0M229.6 447.0h0M225.7 429.7h0M224.7 436.9h0M232.3 447.4h0M237.0 443.6h0M231.3 435.3h0M225.1 432.1h0M230.1 424.7h0M221.3 412.3h0M231.7 423.5h0M217.8 423.0h0M218.4 445.0h0M217.2 438.7h0M235.0 427.5h0M229.4 424.7h0M227.7 413.8h0M219.4 425.2h0M224.3 417.1h0M221.4 418.5h0M222.5 432.6h0M224.4 425.4h0M224.8 430.6h0M233.2 436.6h0M218.1 428.4h0M229.2 418.2h0M229.5 440.2h0M225.2 447.0h0M230.0 413.5h0M233.9 429.6h0M238.5 413.9h0M236.2 434.0h0M230.2 426.7h0M229.8 440.5h0M222.8 426.2h0M228.3 416.4h0M218.2 429.7h0M234.0 418.6h0M233.9 424.4h0M230.5 424.4h0M241.1 441.3h0M224.3 430.4h0M228.7 431.0h0M246.3 432.7h0M223.7 425.3h0M225.8 423.4h0M224.9 427.4h0M247.0 426.8h0M231.2 430.1h0M227.6 440.8h0M235.8 424.3h0M236.5 432.5h0M231.1 413.7h0M223.0 436.0h0M232.4 425.2h0M233.7 432.2h0M225.6 421.3h0M222.6 432.1h0M236.1 437.4h0M227.7 423.8h0M224.5 441.6h0M230.0 418.5h0M226.7 422.9h0M231.0 423.1h0M226.7 428.3h0M216.3 432.3h0M221.5 431.4h0M218.2 417.9h0M215.9 415.3h0M224.5 432.1h0M223.0 431.4h0M225.1 432.1h0M231.0 420.3h0M219.0 441.3h0M235.3 431.0h0M221.3 446.9h0M222.6 416.1h0M211.9 412.9h0M238.8 425.1h0M243.0 430.5h0M237.5 421.8h0M216.5 436.5h0M219.5 407.5h0M228.1 420.4h0M229.4 431.3h0M228.5 427.1h0M222.7 428.8h0M229.8 428.8h0M235.5 428.1h0M227.1 443.9h0M220.7 411.9h0M238.8 442.6h0M231.1 422.6h0M225.7 423.8h0M222.6 428.5h0M226.8 434.0h0M228.2 421.3h0M232.6 439.1h0M219.6 435.1h0M233.0 411.7h0M224.3 429.5h0M223.5 416.1h0M219.0 422.3h0M221.7 432.3h0M235.3 425.9h0M233.3 429.1h0M228.0 427.2h0M212.5 425.0h0M221.3 422.5h0M237.8 422.6h0M218.0 419.2h0M229.0 433.2h0M231.1 425.8h0M218.1 426.9h0M232.8 422.2h0M218.5 442.2h0M225.3 429.5h0M226.0 420.8h0M222.8 439.3h0M233.4 423.5h0M230.2 412.7h0M233.3 437.9h0M229.2 430.8h0M228.5 411.1h0M235.6 423.3h0M223.4 413.5h0M228.4 435.5h0M225.0 430.9h0M227.3 426.1h0M233.4 418.0h0M229.1 423.2h0M231.6 415.5h0M225.6 432.4h0M236.8 439.3h0M231.5 437.7h0M235.7 441.3h0M234.8 423.8h0M231.4 430.0h0M232.5 427.0h0M229.7 449.2h0M214.8 442.8h0M222.6 436.6h0M237.6 430.1h0M239.5 434.3h0M240.3 443.3h0M227.7 417.6h0M228.0 427.3h0M226.0 435.3h0M220.7 447.4h0M223.8 421.8h0M235.4 434.6h0M227.1 435.8h0M220.1 411.4h0M223.3 433.4h0M230.0 433.1h0M220.9 440.5h0M229.0 421.7h0M235.8 435.5h0M234.4 423.9h0M231.1 413.7h0M227.5 436.8h0M239.6 426.4h0M223.1 430.5h0M225.7 431.6h0M223.6 417.2h0M234.9 416.4h0M224.3 420.2h0M222.8 428.4h0M230.8 417.9h0M230.0 431.9h0M231.3 431.5h0M213.6 419.9h0M229.3 411.2h0M228.9 444.4h0M224.1 439.4h0M224.7 421.4h0M240.0 444.0h0M227.2 442.9h0M228.1 435.7h0M230.5 427.2h0M230.8 428.1h0M229.2 431.7h0M221.3 437.4h0M217.6 416.9h0M229.1 415.8h0M224.4 440.7h0M231.8 435.1h0M233.4 434.3h0M231.9 421.3h0M231.4 412.9h0M230.6 429.4h0M228.8 434.6h0M229.3 437.1h0M232.1 443.4h0M227.2 422.9h0M217.2 437.2h0M230.8 412.7h0M231.1 419.5h0M232.8 443.6h0M221.7 424.4h0M231.6 424.1h0M230.6 433.5h0M228.7 414.0h0M220.4 423.8h0M226.3 415.8h0M221.3 406.0h0M222.4 419.7h0M220.9 422.5h0M236.2 444.2h0M227.7 425.4h0M226.5 411.3h0M230.9 420.7h0M230.6 434.0h0M225.2 423.9h0M230.0 409.5h0M238.1 421.0h0M229.7 429.1h0M240.5 418.0h0M236.7 415.9h0M223.2 448.6h0M224.8 425.1h0M225.8 418.7h0M224.5 408.6h0M225.2 428.3h0M238.5 440.2h0M224.6 417.6h0M228.8 441.7h0M223.3 424.1h0M223.1 420.8h0M228.3 444.1h0M213.4 429.6h0M234.1 446.4h0M220.9 414.9h0M228.8 427.5h0M219.2 427.0h0M230.8 421.5h0M231.8 420.2h0M231.6 424.3h0M232.3 425.0h0M228.7 415.0h0M236.4 414.0h0M233.2 444.3h0M222.9 429.9h0M229.0 416.1h0M226.7 407.8h0M225.0 419.1h0M236.3 419.5h0M228.3 425.8h0M231.3 435.8h0M230.0 431.9h0M220.2 424.1h0M229.0 441.3h0M230.1 438.5h0M214.1 426.0h0M229.1 430.4h0M231.6 431.5h0M229.5 426.7h0M233.1 430.7h0M229.2 438.0h0M225.7 434.1h0M227.1 420.0h0M230.7 435.8h0M214.1 438.0h0M224.9 438.6h0M229.9 423.9h0M219.5 413.9h0M225.3 427.2h0M227.8 429.3h0M234.2 418.8h0M213.0 425.3h0M231.3 445.7h0M228.8 423.5h0M233.6 423.9h0M230.9 423.3h0M234.4 416.1h0M232.7 424.0h0M225.0 416.4h0M223.7 420.7h0M234.1 432.1h0M239.5 432.9h0M220.6 439.5h0M219.7 438.2h0M237.7 418.9h0M232.1 424.9h0M225.5 423.2h0M235.6 422.3h0M226.2 423.9h0M219.6 423.1h0M232.4 434.4h0M232.1 422.7h0M230.6 412.2h0M224.9 423.4h0M231.8 432.4h0M232.3 430.2h0M231.4 433.0h0M221.2 430.8h0M231.8 421.9h0M214.3 410.2h0M230.5 438.4h0M230.2 428.2h0M228.5 438.4h0M231.2 437.9h0M231.0 421.3h0M222.6 434.1h0M227.4 429.8h0M223.6 421.2h0M220.2 438.0h0M226.0 435.5h0M226.2 442.3h0M223.0 444.0h0M233.5 427.4h0M235.2 426.2h0M223.3 434.4h0M222.1 439.6h0M232.4 416.3h0M222.1 436.0h0M236.7 444.0h0M226.1 426.7h0M232.0 438.1h0M230.1 415.9h0M227.2 428.1h0M226.1 431.4h0M218.8 428.5h0M236.2 413.5h0M219.9 432.9h0M228.4 421.1h0M233.0 422.0h0M230.9 416.1h0M233.6 418.7h0M225.3 433.1h0M227.5 424.1h0M220.1 416.6h0M227.6 427.8h0M224.6 420.2h0M232.9 430.5h0M221.2 432.7h0M227.7 415.2h0M222.3 439.3h0M232.5 438.3h0M225.2 421.1h0M220.5 405.2h0M222.9 423.0h0M227.3 426.0h0M218.7 430.1h0M228.3 438.6h0M228.5 416.2h0M229.7 435.8h0M222.0 442.4h0M214.6 434.6h0M228.3 429.9h0M233.6 442.6h0M225.1 425.4h0M237.8 428.0h0M219.7 415.0h0M218.5 419.1h0M238.1 441.0h0M226.9 423.7h0M222.9 426.1h0M218.7 415.4h0M222.4 442.0h0M217.7 434.1h0M219.2 435.1h0M228.9 433.9h0M224.6 422.3h0M233.3 436.3h0M223.6 433.2h0M221.5 429.3h0M229.1 440.9h0M224.7 415.8h0M222.2 424.8h0M225.3 413.7h0M221.6 419.1h0M211.8 430.4h0M220.9 418.2h0M240.2 427.8h0M227.1 430.5h0M229.5 431.1h0M221.2 422.2h0M224.8 415.7h0M226.4 430.7h0M227.1 432.8h0M219.1 425.7h0M220.0 413.2h0M231.5 435.4h0M227.9 436.3h0M233.2 434.9h0M227.9 429.5h0M229.9 432.7h0M223.3 428.1h0M218.6 426.8h0M235.1 435.4h0M229.5 433.0h0M224.1 420.0h0M227.3 419.6h0M226.8 422.5h0M226.0 434.5h0M220.3 413.6h0M223.5 430.8h0M233.3 432.1h0M228.2 422.4h0M239.5 421.0h0M231.1 433.3h0M225.3 426.0h0M224.9 435.4h0M222.7 429.0h0M229.3 421.9h0M230.6 414.4h0M220.1 414.8h0M225.5 425.4h0M231.6 439.0h0M228.3 429.7h0M233.0 433.9h0M220.4 423.1h0M224.5 432.1h0M231.7 422.2h0M229.8 430.8h0M218.9 439.8h0M226.1 433.1h0M224.8 439.3h0M222.8 408.3h0M235.7 442.5h0M248.6 435.4h0M226.2 427.1h0M236.0 421.4h0M234.2 424.6h0M225.4 416.5h0M232.7 433.1h0M225.8 417.7h0M226.9 417.9h0M223.0 427.5h0M227.8 421.5h0M224.8 432.7h0M236.4 440.6h0M235.2 421.7h0M221.4 435.6h0M230.0 423.8h0M222.5 429.8h0M237.1 439.5h0M224.6 416.6h0M230.4 445.5h0M226.0 421.1h0M229.3 425.8h0M212.1 416.5h0M221.1 416.3h0M230.4 417.2h0M226.5 426.4h0M214.5 425.5h0M226.9 427.1h0M229.3 425.3h0M237.2 448.1h0M221.0 444.3h0M230.2 433.7h0M232.4 429.1h0M232.7 432.4h0M230.2 431.5h0M242.2 425.3h0M218.3 425.8h0M233.2 419.2h0M226.9 429.9h0M221.6 429.9h0M230.4 426.6h0M222.5 444.5h0M228.4 431.7h0M235.1 426.1h0M233.5 433.3h0M224.2 414.2h0M216.7 435.5h0M233.1 428.3h0M228.2 440.7h0M216.1 419.5h0M215.9 417.4h0M219.1 428.6h0M232.3 428.2h0M224.8 419.1h0M230.9 428.4h0M234.2 421.3h0M231.3 434.1h0M225.9 436.7h0M226.5 440.2h0M220.7 445.3h0M223.3 441.6h0M217.6 441.6h0M214.7 439.2h0M220.8 427.1h0M220.2 417.4h0M228.0 431.8h0M228.2 448.7h0M225.3 438.2h0M222.9 434.2h0M234.5 421.9h0M223.6 431.5h0M232.5 421.5h0M216.0 409.6h0M232.0 435.3h0M227.7 434.1h0M231.8 418.4h0M233.9 420.9h0M227.9 433.8h0M225.2 430.5h0M223.6 426.2h0M216.0 419.1h0M223.9 423.0h0M238.2 438.4h0M231.2 426.3h0M239.1 433.2h0M225.3 424.2h0M232.2 419.9h0M231.6 427.1h0M223.0 442.7h0M225.1 440.8h0M227.9 427.3h0M227.5 423.3h0M220.7 423.1h0M228.7 440.8h0M226.8 419.1h0M226.0 416.4h0M235.2 429.3h0M228.5 412.2h0M222.0 419.5h0M230.2 421.9h0M233.5 433.2h0M224.5 435.2h0M231.4 423.7h0M226.1 410.8h0M233.7 435.3h0M230.9 426.6h0M228.8 438.3h0M232.5 430.9h0M227.3 440.7h0M240.1 416.2h0M226.1 435.7h0M222.3 411.6h0M222.0 429.5h0M231.6 429.7h0M229.8 419.6h0M225.8 428.8h0M219.6 424.5h0M229.8 424.5h0M232.5 421.8h0M219.6 435.1h0M235.2 439.0h0M219.2 416.6h0M225.4 422.3h0M228.0 438.6h0M230.7 411.7h0M231.4 421.4h0M226.7 423.5h0M218.7 423.0h0M232.8 423.8h0M235.0 425.3h0M221.3 413.1h0M221.4 447.0h0M231.8 440.0h0M228.8 428.6h0M231.6 424.0h0M228.8 418.2h0M226.0 429.8h0M227.6 424.6h0M219.9 433.3h0M223.3 433.1h0M228.6 444.1h0M240.7 429.9h0M230.7 415.4h0M219.0 438.4h0M223.9 429.3h0M228.6 419.2h0M224.1 436.6h0M232.9 441.6h0M232.1 432.3h0M225.3 424.7h0M214.8 421.2h0M233.6 429.0h0M229.3 421.6h0M227.5 426.1h0M252.0 433.5h0M229.5 421.3h0M226.3 437.3h0M232.6 424.1h0M234.5 430.5h0M228.0 415.8h0M233.9 427.9h0M224.1 431.2h0M234.0 408.5h0M217.3 432.4h0M234.4 424.0h0M233.6 412.8h0M228.8 420.8h0M231.1 420.1h0M225.9 438.1h0M225.4 430.0h0M216.8 421.3h0M233.8 428.2h0M237.2 418.8h0M226.2 419.8h0M245.7 422.0h0M222.5 417.4h0M235.9 436.5h0M227.9 437.9h0M228.6 429.3h0M229.7 421.4h0M229.4 428.3h0M232.1 421.8h0M232.1 425.0h0M224.3 430.8h0M235.5 434.0h0M218.6 431.6h0M231.8 422.4h0M226.6 446.6h0M240.3 427.3h0M217.8 431.7h0M223.1 423.3h0M222.8 438.1h0M232.5 411.5h0M235.6 423.3h0M217.9 420.3h0M238.6 407.6h0M239.0 434.4h0M239.7 434.7h0M237.8 425.4h0M230.7 416.1h0M220.3 425.5h0M233.0 441.2h0M219.7 422.7h0M228.6 438.3h0M224.8 437.7h0M222.5 423.3h0M220.3 412.5h0M228.3 422.2h0M231.8 423.6h0M232.3 444.9h0M225.6 423.1h0M241.8 430.8h0M232.3 433.6h0M240.7 424.7h0M221.8 417.6h0M226.9 412.1h0M232.1 427.9h0M223.5 424.2h0M225.2 422.8h0M218.7 423.7h0M226.0 422.5h0M239.8 425.3h0M218.6 430.6h0M237.9 416.2h0M225.0 417.8h0M218.6 436.6h0M226.1 433.2h0M240.2 413.5h0M229.3 440.8h0M220.4 420.7h0M228.1 430.3h0M224.9 409.8h0M225.4 443.8h0M209.1 446.2h0M231.2 420.9h0M237.2 419.8h0M229.7 430.6h0M223.7 424.7h0M220.6 450.7h0M229.3 422.9h0M226.6 428.2h0" stroke="#3434f2" stroke-width="0.85" stroke-linecap="round" fill="none" opacity="0.55"/>
<path d="M255.1 433.5h0M228.9 442.5h0M241.5 415.9h0M234.3 423.9h0M264.5 433.7h0M242.9 434.0h0M239.3 441.9h0M221.9 444.1h0M258.0 420.0h0M233.5 431.4h0M227.1 418.3h0M239.1 423.1h0M248.9 438.6h0M218.2 423.7h0M267.6 447.2h0M227.4 421.7h0M234.8 424.1h0M242.7 442.5h0M245.8 436.9h0M227.7 426.7h0M248.0 432.3h0M250.6 424.6h0M250.2 412.2h0M250.9 422.0h0M255.3 432.0h0M258.6 453.6h0M248.5 432.0h0M246.9 425.2h0M224.7 419.6h0M229.1 424.9h0M257.8 432.2h0M222.7 443.0h0M241.5 441.0h0M255.0 419.8h0M254.5 430.3h0M242.1 431.9h0M247.0 415.2h0M249.3 455.5h0M249.9 443.8h0M239.6 446.5h0M255.5 435.9h0M250.4 420.3h0M250.2 433.2h0M223.3 419.4h0M242.2 430.0h0M247.3 430.0h0M263.6 427.3h0M241.6 429.6h0M258.7 449.3h0M213.7 427.3h0M246.3 413.1h0M267.0 446.8h0M253.0 433.6h0M247.6 458.4h0M259.1 416.1h0M262.6 447.6h0M234.9 448.6h0M252.5 420.1h0M231.3 414.0h0M237.2 426.2h0M260.0 426.7h0M227.9 440.6h0M249.2 427.6h0M245.0 446.6h0M238.1 421.7h0M222.7 409.4h0M249.8 431.2h0M261.0 442.2h0M243.9 427.8h0M226.6 425.2h0M230.8 434.6h0M231.1 426.8h0M235.2 428.1h0M243.9 445.9h0M233.8 416.3h0M230.1 432.4h0M246.8 418.4h0M250.9 446.3h0M220.1 430.7h0M227.9 419.9h0M236.4 438.4h0M240.8 454.9h0M269.1 447.4h0M231.8 440.8h0M269.9 446.8h0M246.4 431.5h0M241.2 449.0h0M224.0 432.4h0M213.4 443.2h0M237.0 430.2h0M238.4 437.4h0M235.4 434.3h0M237.6 440.2h0M239.2 413.9h0M268.2 433.8h0M219.1 429.5h0M254.1 426.3h0M250.8 436.1h0M229.5 429.3h0M220.0 441.0h0M246.8 444.7h0M265.8 450.0h0M227.4 436.1h0M256.9 443.5h0M219.2 447.0h0M244.7 440.8h0M255.7 420.1h0M229.7 438.0h0M228.0 450.4h0M247.7 433.0h0M235.4 439.9h0M248.2 430.6h0M250.1 434.1h0M256.7 431.9h0M255.9 444.5h0M235.5 418.5h0M251.2 416.8h0M250.8 411.4h0M213.6 439.2h0M241.7 427.4h0M228.2 424.4h0M234.9 419.8h0M236.6 442.4h0M239.8 444.1h0M237.9 431.6h0M234.9 418.0h0M226.2 428.0h0M223.8 446.9h0M251.1 424.2h0M252.6 435.8h0M258.7 457.0h0M242.7 432.2h0M236.8 430.2h0M232.6 414.3h0M263.1 415.0h0M229.1 443.5h0M249.7 422.9h0M258.8 419.3h0M254.4 441.9h0M236.4 428.7h0M223.1 447.4h0M230.9 416.0h0M239.1 432.8h0M245.1 457.3h0M255.1 418.5h0M237.6 427.3h0M224.7 415.6h0M244.1 416.1h0M234.2 447.0h0M266.8 433.4h0M244.8 416.6h0M232.5 436.7h0M228.5 442.0h0M217.8 442.8h0M263.7 427.6h0M252.0 422.6h0M249.5 423.8h0M222.6 451.5h0M234.1 443.1h0M216.1 409.6h0M221.4 433.3h0M220.1 455.1h0M272.8 441.0h0M250.5 453.3h0M231.0 443.0h0M226.5 427.9h0M239.3 445.5h0M254.7 426.8h0M238.7 453.2h0M246.1 426.7h0M226.0 431.7h0M240.4 427.0h0M246.0 415.6h0M220.2 424.5h0M232.0 442.0h0M257.6 426.4h0M225.9 419.7h0M248.7 448.2h0M243.2 446.4h0M263.5 441.4h0M234.9 432.4h0M238.2 436.5h0M233.0 458.3h0M228.2 431.1h0M239.5 436.0h0M219.5 436.3h0M229.1 447.5h0M225.9 450.1h0M242.7 426.5h0M237.5 409.0h0M243.2 456.8h0M245.0 452.7h0M242.2 418.5h0M243.5 446.5h0M256.3 432.4h0M252.9 431.7h0M237.3 445.4h0M247.0 438.0h0M224.0 443.6h0M249.3 438.6h0M246.9 429.2h0M268.5 440.9h0M232.8 428.3h0M260.9 438.9h0M227.3 436.2h0M263.0 437.2h0M252.0 426.6h0M223.5 434.5h0M227.5 438.6h0M215.2 429.4h0M241.3 418.6h0M242.3 436.8h0M255.1 435.6h0M259.4 416.1h0M239.3 433.6h0M222.1 431.2h0M257.8 428.1h0M213.4 440.2h0M262.0 452.9h0M248.3 430.8h0M262.8 449.2h0M207.0 425.2h0M244.5 444.4h0M225.9 420.9h0M236.8 423.2h0M244.9 430.2h0M235.9 436.0h0M225.7 444.3h0M244.0 425.3h0M264.2 428.4h0M272.7 432.5h0M258.8 421.0h0M262.6 422.8h0M263.3 415.5h0M244.6 433.4h0M234.6 419.3h0M218.3 445.7h0M248.0 428.0h0M211.8 436.6h0M239.5 438.6h0M243.7 422.1h0M254.8 450.4h0M222.1 443.4h0M228.5 453.6h0M235.6 409.9h0M256.4 428.9h0M207.4 438.8h0M248.0 458.1h0M218.7 445.6h0M240.4 421.5h0M239.5 408.1h0M216.1 440.2h0M231.2 431.0h0M249.5 422.1h0M242.8 442.6h0M232.8 424.8h0M226.7 425.8h0M216.8 422.7h0M240.1 436.7h0M243.2 422.6h0M240.9 435.4h0M252.3 430.5h0M258.6 437.9h0M215.4 436.0h0M225.3 409.2h0M236.5 446.7h0M241.7 423.4h0M236.2 431.2h0M237.6 420.1h0M235.0 418.8h0M233.9 415.0h0M236.3 436.2h0M244.5 444.3h0M234.3 420.8h0M228.3 422.3h0M234.9 426.9h0M242.4 429.0h0M234.4 436.6h0M234.3 416.2h0M234.9 430.8h0M227.4 432.0h0M232.9 444.3h0M227.0 415.0h0M232.6 426.7h0M241.9 440.4h0M252.1 430.1h0M220.2 431.8h0M246.1 426.8h0M241.0 410.1h0M256.7 439.6h0M207.2 441.8h0M230.2 417.5h0" stroke="#3434f2" stroke-width="0.85" stroke-linecap="round" fill="none" opacity="0.45"/>
<clipPath id="dc2"><rect x="215.2" y="400" width="120" height="110"/></clipPath>
<g clip-path="url(#dc2)"><g filter="url(#rough)"><g transform="rotate(-8 229.8 469.4)">
<ellipse cx="233.2" cy="469.8" rx="18.5" ry="14" fill="#3434f4"/>
<ellipse cx="231.2" cy="470.0" rx="15.5" ry="10.5" fill="#1a7cf6"/>
<ellipse cx="230.2" cy="469.9" rx="14.2" ry="9" fill="#10c0e6"/>
<ellipse cx="228.6" cy="469.7" rx="11.8" ry="7.6" fill="#2cd46a"/>
<ellipse cx="229.5" cy="469.4" rx="7" ry="5" fill="#9ce032"/>
<ellipse cx="229.8" cy="469.4" rx="4.8" ry="3.5" fill="#ece222"/>
<ellipse cx="229.8" cy="469.4" rx="3.1" ry="2.3" fill="#ff8a14"/>
<ellipse cx="229.8" cy="469.4" rx="1.6" ry="1.2" fill="#f22a14"/>
</g></g></g>
<rect x="208.30" y="405.80" width="81.30" height="38.20" fill="none" stroke="#505050" stroke-width="0.9" />
<text x="275.30" y="417.00" font-size="4.7" text-anchor="middle" fill="#000" >T cells</text>
<text x="275.30" y="423.00" font-size="4.7" text-anchor="middle" fill="#000" >6.56</text>
<rect x="54.90" y="538.40" width="101.50" height="101.20" fill="#fff" stroke="#9a9a9a" stroke-width="0.4" />
<line x1="54.90" y1="538.40" x2="54.90" y2="639.60" stroke="#222" stroke-width="0.6" />
<line x1="54.90" y1="639.60" x2="156.40" y2="639.60" stroke="#222" stroke-width="0.6" />
<line x1="53.60" y1="542.50" x2="54.90" y2="542.50" stroke="#222" stroke-width="0.4" />
<text x="52.70" y="543.50" font-size="3.5" text-anchor="end" fill="#222" >10<tspan dy="-1.1" font-size="2.4">6</tspan></text>
<line x1="53.60" y1="558.80" x2="54.90" y2="558.80" stroke="#222" stroke-width="0.4" />
<text x="52.70" y="559.80" font-size="3.5" text-anchor="end" fill="#222" >10<tspan dy="-1.1" font-size="2.4">5</tspan></text>
<line x1="53.60" y1="580.00" x2="54.90" y2="580.00" stroke="#222" stroke-width="0.4" />
<text x="52.70" y="581.00" font-size="3.5" text-anchor="end" fill="#222" >10<tspan dy="-1.1" font-size="2.4">4</tspan></text>
<line x1="53.60" y1="605.60" x2="54.90" y2="605.60" stroke="#222" stroke-width="0.4" />
<text x="52.70" y="606.60" font-size="3.5" text-anchor="end" fill="#222" >10<tspan dy="-1.1" font-size="2.4">3</tspan></text>
<line x1="53.60" y1="616.60" x2="54.90" y2="616.60" stroke="#222" stroke-width="0.4" />
<text x="52.70" y="617.60" font-size="3.5" text-anchor="end" fill="#222" >0<tspan dy="-1.1" font-size="2.4"></tspan></text>
<line x1="53.60" y1="627.80" x2="54.90" y2="627.80" stroke="#222" stroke-width="0.4" />
<text x="52.70" y="628.80" font-size="3.5" text-anchor="end" fill="#222" >-10<tspan dy="-1.1" font-size="2.4">3</tspan></text>
<line x1="54.10" y1="546.00" x2="54.90" y2="546.00" stroke="#222" stroke-width="0.3" />
<line x1="54.10" y1="549.00" x2="54.90" y2="549.00" stroke="#222" stroke-width="0.3" />
<line x1="54.10" y1="552.00" x2="54.90" y2="552.00" stroke="#222" stroke-width="0.3" />
<line x1="54.10" y1="555.00" x2="54.90" y2="555.00" stroke="#222" stroke-width="0.3" />
<line x1="54.10" y1="563.00" x2="54.90" y2="563.00" stroke="#222" stroke-width="0.3" />
<line x1="54.10" y1="567.00" x2="54.90" y2="567.00" stroke="#222" stroke-width="0.3" />
<line x1="54.10" y1="571.00" x2="54.90" y2="571.00" stroke="#222" stroke-width="0.3" />
<line x1="54.10" y1="575.00" x2="54.90" y2="575.00" stroke="#222" stroke-width="0.3" />
<line x1="54.10" y1="585.00" x2="54.90" y2="585.00" stroke="#222" stroke-width="0.3" />
<line x1="54.10" y1="590.00" x2="54.90" y2="590.00" stroke="#222" stroke-width="0.3" />
<line x1="54.10" y1="595.00" x2="54.90" y2="595.00" stroke="#222" stroke-width="0.3" />
<line x1="54.10" y1="600.00" x2="54.90" y2="600.00" stroke="#222" stroke-width="0.3" />
<line x1="54.10" y1="632.00" x2="54.90" y2="632.00" stroke="#222" stroke-width="0.3" />
<line x1="54.10" y1="636.00" x2="54.90" y2="636.00" stroke="#222" stroke-width="0.3" />
<rect x="52.30" y="615.70" width="2.40" height="1.80" fill="#000" stroke="none" stroke-width="1" />
<line x1="86.20" y1="639.60" x2="86.20" y2="640.90" stroke="#222" stroke-width="0.4" />
<text x="86.20" y="646.60" font-size="3.5" text-anchor="middle" fill="#222" >0<tspan dy="-1.1" font-size="2.4"></tspan></text>
<line x1="121.30" y1="639.60" x2="121.30" y2="640.90" stroke="#222" stroke-width="0.4" />
<text x="121.30" y="646.60" font-size="3.5" text-anchor="middle" fill="#222" >10<tspan dy="-1.1" font-size="2.4">4</tspan></text>
<line x1="146.30" y1="639.60" x2="146.30" y2="640.90" stroke="#222" stroke-width="0.4" />
<text x="146.30" y="646.60" font-size="3.5" text-anchor="middle" fill="#222" >10<tspan dy="-1.1" font-size="2.4">5</tspan></text>
<line x1="59.90" y1="639.60" x2="59.90" y2="640.40" stroke="#222" stroke-width="0.3" />
<line x1="63.90" y1="639.60" x2="63.90" y2="640.40" stroke="#222" stroke-width="0.3" />
<line x1="67.90" y1="639.60" x2="67.90" y2="640.40" stroke="#222" stroke-width="0.3" />
<line x1="71.90" y1="639.60" x2="71.90" y2="640.40" stroke="#222" stroke-width="0.3" />
<line x1="75.90" y1="639.60" x2="75.90" y2="640.40" stroke="#222" stroke-width="0.3" />
<line x1="79.90" y1="639.60" x2="79.90" y2="640.40" stroke="#222" stroke-width="0.3" />
<line x1="94.90" y1="639.60" x2="94.90" y2="640.40" stroke="#222" stroke-width="0.3" />
<line x1="100.90" y1="639.60" x2="100.90" y2="640.40" stroke="#222" stroke-width="0.3" />
<line x1="106.90" y1="639.60" x2="106.90" y2="640.40" stroke="#222" stroke-width="0.3" />
<line x1="112.90" y1="639.60" x2="112.90" y2="640.40" stroke="#222" stroke-width="0.3" />
<line x1="116.90" y1="639.60" x2="116.90" y2="640.40" stroke="#222" stroke-width="0.3" />
<line x1="126.90" y1="639.60" x2="126.90" y2="640.40" stroke="#222" stroke-width="0.3" />
<line x1="131.90" y1="639.60" x2="131.90" y2="640.40" stroke="#222" stroke-width="0.3" />
<line x1="135.90" y1="639.60" x2="135.90" y2="640.40" stroke="#222" stroke-width="0.3" />
<line x1="139.90" y1="639.60" x2="139.90" y2="640.40" stroke="#222" stroke-width="0.3" />
<line x1="142.90" y1="639.60" x2="142.90" y2="640.40" stroke="#222" stroke-width="0.3" />
<line x1="149.90" y1="639.60" x2="149.90" y2="640.40" stroke="#222" stroke-width="0.3" />
<line x1="152.90" y1="639.60" x2="152.90" y2="640.40" stroke="#222" stroke-width="0.3" />
<rect x="77.40" y="639.80" width="14.00" height="1.50" fill="#000" stroke="none" stroke-width="1" />
<path d="M91.1 581.6h0M84.2 558.5h0M94.8 575.7h0M96.3 575.0h0M91.5 567.3h0M85.2 570.1h0M89.1 578.1h0M99.2 562.8h0M100.0 571.5h0M104.2 582.3h0M98.6 559.2h0M99.6 560.7h0M108.9 567.1h0M91.2 584.6h0M75.3 572.0h0M82.3 568.1h0M85.0 576.6h0M90.1 574.2h0M99.6 559.7h0M107.3 570.0h0M76.3 567.1h0M102.0 578.9h0M86.2 572.5h0M95.6 579.1h0M91.8 578.8h0M84.1 566.7h0M99.9 577.0h0M92.7 576.1h0M95.3 577.3h0M105.0 575.5h0M101.5 569.0h0M87.5 555.0h0M97.3 572.0h0M98.6 558.5h0M88.2 567.8h0M74.8 578.3h0M105.6 562.7h0M97.7 584.1h0M80.8 578.9h0M109.4 585.1h0M79.3 564.2h0M95.3 580.4h0M80.3 566.4h0M81.8 579.7h0M87.5 575.9h0M99.8 580.1h0M97.4 574.2h0M105.0 575.2h0M80.3 568.0h0M102.4 572.8h0M89.6 573.6h0M127.1 571.5h0M98.1 575.1h0M90.4 580.4h0M102.0 574.7h0M79.3 580.9h0M101.0 571.2h0M65.6 571.4h0M80.7 570.2h0M87.9 565.9h0M103.6 572.6h0M105.8 564.9h0M91.2 581.6h0M96.5 566.6h0M84.0 567.6h0M92.3 576.8h0M94.7 577.2h0M101.8 572.7h0M106.4 577.1h0M91.3 570.6h0" stroke="#5a5af5" stroke-width="0.9" stroke-linecap="round" fill="none" opacity="0.42"/>
<path d="M76.6 612.1h0M68.4 616.9h0M73.5 620.3h0M73.0 617.3h0M77.9 613.8h0M77.9 612.2h0M74.0 621.6h0M79.1 616.7h0M71.8 621.0h0M89.0 603.3h0M83.1 618.0h0M83.4 623.9h0M70.4 627.4h0M73.0 615.1h0M80.5 616.1h0M78.3 613.5h0M70.3 616.8h0M69.9 624.9h0M78.2 625.3h0M69.0 603.8h0M62.6 614.3h0M68.7 618.9h0" stroke="#5a5af5" stroke-width="0.9" stroke-linecap="round" fill="none" opacity="0.42"/>
<path d="M129.7 607.8h0M140.4 614.9h0M142.8 623.6h0M140.8 609.0h0M133.3 634.0h0M137.2 619.9h0M139.4 617.6h0M137.6 613.7h0M135.5 603.3h0M148.9 617.0h0M130.6 621.5h0M142.8 607.4h0M135.4 628.5h0M142.0 620.8h0M144.8 616.8h0M136.8 629.2h0M137.5 617.2h0M142.6 618.0h0M131.0 631.3h0M138.2 630.6h0M141.8 611.2h0M148.2 616.5h0" stroke="#5a5af5" stroke-width="0.9" stroke-linecap="round" fill="none" opacity="0.42"/>
<line x1="54.90" y1="590.80" x2="116.80" y2="590.80" stroke="#bbb" stroke-width="0.6" />
<rect x="116.80" y="538.40" width="39.60" height="52.40" fill="none" stroke="#333" stroke-width="0.6" />
<line x1="117.50" y1="590.80" x2="117.50" y2="639.60" stroke="#333" stroke-width="0.6" />
<text x="131.60" y="551.80" font-size="4.7" text-anchor="middle" fill="#000" >CD4<tspan dy="-1.2" font-size="2.8">+</tspan><tspan dy="1.2"> T cells</tspan></text>
<text x="131.60" y="557.70" font-size="4.7" text-anchor="middle" fill="#000" >0.56</text>
<text x="103.50" y="611.90" font-size="4.7" text-anchor="middle" fill="#000" >CD8<tspan dy="-1.2" font-size="2.8">+</tspan><tspan dy="1.2"> T cells</tspan></text>
<text x="103.50" y="618.20" font-size="4.7" text-anchor="middle" fill="#000" >0.14</text>
<text x="37.50" y="647.20" font-size="4.7" text-anchor="middle" fill="#222" transform="rotate(-90 37.50 647.20)" >CD4</text>
<text x="43.40" y="661.20" font-size="4.8" text-anchor="start" fill="#222" >CD8</text>
<rect x="189.90" y="538.40" width="100.70" height="101.20" fill="#fff" stroke="#9a9a9a" stroke-width="0.4" />
<line x1="189.90" y1="538.40" x2="189.90" y2="639.60" stroke="#222" stroke-width="0.6" />
<line x1="189.90" y1="639.60" x2="290.60" y2="639.60" stroke="#222" stroke-width="0.6" />
<line x1="188.60" y1="542.50" x2="189.90" y2="542.50" stroke="#222" stroke-width="0.4" />
<text x="187.70" y="543.50" font-size="3.5" text-anchor="end" fill="#222" >10<tspan dy="-1.1" font-size="2.4">6</tspan></text>
<line x1="188.60" y1="558.80" x2="189.90" y2="558.80" stroke="#222" stroke-width="0.4" />
<text x="187.70" y="559.80" font-size="3.5" text-anchor="end" fill="#222" >10<tspan dy="-1.1" font-size="2.4">5</tspan></text>
<line x1="188.60" y1="580.00" x2="189.90" y2="580.00" stroke="#222" stroke-width="0.4" />
<text x="187.70" y="581.00" font-size="3.5" text-anchor="end" fill="#222" >10<tspan dy="-1.1" font-size="2.4">4</tspan></text>
<line x1="188.60" y1="605.60" x2="189.90" y2="605.60" stroke="#222" stroke-width="0.4" />
<text x="187.70" y="606.60" font-size="3.5" text-anchor="end" fill="#222" >10<tspan dy="-1.1" font-size="2.4">3</tspan></text>
<line x1="188.60" y1="616.60" x2="189.90" y2="616.60" stroke="#222" stroke-width="0.4" />
<text x="187.70" y="617.60" font-size="3.5" text-anchor="end" fill="#222" >0<tspan dy="-1.1" font-size="2.4"></tspan></text>
<line x1="188.60" y1="627.80" x2="189.90" y2="627.80" stroke="#222" stroke-width="0.4" />
<text x="187.70" y="628.80" font-size="3.5" text-anchor="end" fill="#222" >-10<tspan dy="-1.1" font-size="2.4">3</tspan></text>
<line x1="189.10" y1="546.00" x2="189.90" y2="546.00" stroke="#222" stroke-width="0.3" />
<line x1="189.10" y1="549.00" x2="189.90" y2="549.00" stroke="#222" stroke-width="0.3" />
<line x1="189.10" y1="552.00" x2="189.90" y2="552.00" stroke="#222" stroke-width="0.3" />
<line x1="189.10" y1="555.00" x2="189.90" y2="555.00" stroke="#222" stroke-width="0.3" />
<line x1="189.10" y1="563.00" x2="189.90" y2="563.00" stroke="#222" stroke-width="0.3" />
<line x1="189.10" y1="567.00" x2="189.90" y2="567.00" stroke="#222" stroke-width="0.3" />
<line x1="189.10" y1="571.00" x2="189.90" y2="571.00" stroke="#222" stroke-width="0.3" />
<line x1="189.10" y1="575.00" x2="189.90" y2="575.00" stroke="#222" stroke-width="0.3" />
<line x1="189.10" y1="585.00" x2="189.90" y2="585.00" stroke="#222" stroke-width="0.3" />
<line x1="189.10" y1="590.00" x2="189.90" y2="590.00" stroke="#222" stroke-width="0.3" />
<line x1="189.10" y1="595.00" x2="189.90" y2="595.00" stroke="#222" stroke-width="0.3" />
<line x1="189.10" y1="600.00" x2="189.90" y2="600.00" stroke="#222" stroke-width="0.3" />
<line x1="189.10" y1="632.00" x2="189.90" y2="632.00" stroke="#222" stroke-width="0.3" />
<line x1="189.10" y1="636.00" x2="189.90" y2="636.00" stroke="#222" stroke-width="0.3" />
<rect x="187.30" y="615.70" width="2.40" height="1.80" fill="#000" stroke="none" stroke-width="1" />
<line x1="221.20" y1="639.60" x2="221.20" y2="640.90" stroke="#222" stroke-width="0.4" />
<text x="221.20" y="646.60" font-size="3.5" text-anchor="middle" fill="#222" >0<tspan dy="-1.1" font-size="2.4"></tspan></text>
<line x1="256.30" y1="639.60" x2="256.30" y2="640.90" stroke="#222" stroke-width="0.4" />
<text x="256.30" y="646.60" font-size="3.5" text-anchor="middle" fill="#222" >10<tspan dy="-1.1" font-size="2.4">4</tspan></text>
<line x1="281.30" y1="639.60" x2="281.30" y2="640.90" stroke="#222" stroke-width="0.4" />
<text x="281.30" y="646.60" font-size="3.5" text-anchor="middle" fill="#222" >10<tspan dy="-1.1" font-size="2.4">5</tspan></text>
<line x1="194.90" y1="639.60" x2="194.90" y2="640.40" stroke="#222" stroke-width="0.3" />
<line x1="198.90" y1="639.60" x2="198.90" y2="640.40" stroke="#222" stroke-width="0.3" />
<line x1="202.90" y1="639.60" x2="202.90" y2="640.40" stroke="#222" stroke-width="0.3" />
<line x1="206.90" y1="639.60" x2="206.90" y2="640.40" stroke="#222" stroke-width="0.3" />
<line x1="210.90" y1="639.60" x2="210.90" y2="640.40" stroke="#222" stroke-width="0.3" />
<line x1="214.90" y1="639.60" x2="214.90" y2="640.40" stroke="#222" stroke-width="0.3" />
<line x1="229.90" y1="639.60" x2="229.90" y2="640.40" stroke="#222" stroke-width="0.3" />
<line x1="235.90" y1="639.60" x2="235.90" y2="640.40" stroke="#222" stroke-width="0.3" />
<line x1="241.90" y1="639.60" x2="241.90" y2="640.40" stroke="#222" stroke-width="0.3" />
<line x1="247.90" y1="639.60" x2="247.90" y2="640.40" stroke="#222" stroke-width="0.3" />
<line x1="251.90" y1="639.60" x2="251.90" y2="640.40" stroke="#222" stroke-width="0.3" />
<line x1="261.90" y1="639.60" x2="261.90" y2="640.40" stroke="#222" stroke-width="0.3" />
<line x1="266.90" y1="639.60" x2="266.90" y2="640.40" stroke="#222" stroke-width="0.3" />
<line x1="270.90" y1="639.60" x2="270.90" y2="640.40" stroke="#222" stroke-width="0.3" />
<line x1="274.90" y1="639.60" x2="274.90" y2="640.40" stroke="#222" stroke-width="0.3" />
<line x1="277.90" y1="639.60" x2="277.90" y2="640.40" stroke="#222" stroke-width="0.3" />
<line x1="284.90" y1="639.60" x2="284.90" y2="640.40" stroke="#222" stroke-width="0.3" />
<line x1="287.90" y1="639.60" x2="287.90" y2="640.40" stroke="#222" stroke-width="0.3" />
<rect x="212.40" y="639.80" width="14.00" height="1.50" fill="#000" stroke="none" stroke-width="1" />
<path d="M229.2 575.3h0M215.0 559.3h0M221.9 574.2h0M221.7 562.0h0M219.8 577.9h0M214.9 575.8h0M225.4 572.6h0M226.7 567.0h0M221.9 579.9h0M220.4 567.7h0M214.8 567.4h0M226.6 576.9h0M226.1 573.5h0M225.7 571.9h0M228.0 569.2h0M228.4 569.6h0M213.8 563.0h0M221.5 567.5h0M215.9 565.9h0M223.5 572.2h0M227.2 565.3h0M224.6 575.7h0M224.5 579.6h0M219.9 570.0h0M223.5 567.8h0M222.2 571.3h0M222.3 567.3h0M220.1 569.6h0M214.2 571.0h0M216.6 568.7h0M216.6 570.6h0M220.5 568.6h0M218.5 570.6h0M231.1 560.3h0M225.3 571.2h0M220.4 563.1h0M231.0 571.0h0M227.9 568.0h0M218.4 575.8h0M226.5 568.4h0M221.4 573.4h0M218.2 565.5h0M222.3 575.4h0M227.1 571.0h0M229.8 569.2h0M219.9 582.6h0M219.9 573.3h0M225.5 570.7h0M223.8 573.8h0M225.5 566.9h0M222.6 577.5h0M226.5 567.7h0M222.9 564.7h0M215.6 567.2h0M231.2 566.7h0M212.0 569.5h0M218.9 574.0h0M229.2 568.3h0M223.2 565.3h0M229.0 566.2h0M222.7 582.8h0M217.6 571.0h0M222.3 572.6h0M225.1 578.0h0M225.2 573.3h0M216.0 572.2h0M215.4 576.6h0M222.3 575.3h0M219.9 571.3h0M223.0 573.0h0M222.0 566.9h0M220.6 566.6h0M217.7 563.6h0M214.8 580.2h0M218.6 564.1h0M227.9 571.6h0M221.9 576.2h0M232.5 565.5h0M230.2 573.1h0M228.8 567.2h0M231.6 576.3h0M208.7 576.9h0M229.8 562.7h0M224.4 569.1h0M223.8 565.5h0M226.0 574.0h0M222.0 569.7h0M213.3 573.0h0M215.8 570.2h0M218.3 584.1h0M222.6 578.3h0M222.4 569.9h0M226.5 569.9h0M235.1 569.1h0M231.3 563.7h0M217.7 573.6h0M215.2 580.6h0M225.4 570.5h0M232.1 567.3h0M218.6 556.1h0M212.2 568.5h0M211.4 574.2h0M227.9 572.5h0M213.8 565.4h0M215.2 573.9h0M228.1 568.8h0M222.9 571.3h0M226.5 565.2h0M217.4 574.3h0M225.3 572.7h0M222.9 574.2h0M225.1 566.8h0M231.8 575.9h0M221.3 569.5h0M218.7 562.5h0M216.9 562.3h0M219.0 571.8h0M222.2 562.3h0M221.5 566.6h0M216.6 576.0h0M216.9 575.0h0M213.4 571.6h0M218.8 575.3h0M224.7 565.8h0M226.0 577.0h0M229.8 578.1h0M220.6 581.8h0M219.4 569.3h0M214.2 568.9h0M214.7 570.7h0M213.0 580.2h0M227.0 578.7h0M229.0 571.0h0M225.2 571.2h0M212.4 563.7h0M220.5 575.2h0M215.1 571.1h0M219.5 574.1h0M226.7 564.4h0M216.4 578.1h0M228.4 570.0h0M227.2 570.4h0M225.2 568.0h0M225.6 579.2h0M230.6 577.0h0M223.3 575.4h0M220.3 568.5h0M223.4 564.2h0M223.7 560.7h0M231.6 574.7h0M224.3 566.3h0M219.4 568.0h0M213.6 567.8h0M217.6 574.7h0M229.9 578.1h0M215.2 562.6h0M230.5 574.4h0M228.4 573.8h0M223.9 581.8h0M227.4 573.9h0M217.2 571.0h0M230.0 573.2h0M227.6 569.1h0M226.5 567.0h0M221.6 576.0h0M231.9 568.4h0M221.4 568.8h0M221.6 570.3h0M227.4 572.0h0M222.6 572.6h0M212.9 569.3h0M233.4 564.5h0M219.4 571.5h0M228.1 568.7h0M216.8 578.6h0M209.8 565.2h0M218.5 557.3h0M230.0 580.8h0M214.3 567.8h0M221.2 573.9h0M221.5 573.2h0M225.2 569.3h0M222.9 577.8h0M223.6 573.7h0M222.4 574.0h0M231.5 570.6h0M219.9 566.0h0M228.2 565.8h0M225.2 584.0h0M223.8 579.9h0M222.7 569.6h0M225.8 565.3h0M209.2 569.8h0M218.6 571.2h0M233.4 573.5h0M214.2 572.4h0M212.8 558.1h0M234.4 565.0h0M210.4 569.7h0M221.5 572.7h0M221.7 569.0h0M227.3 569.2h0M218.4 572.1h0M219.5 576.1h0M222.8 569.1h0M220.2 573.5h0M228.2 568.5h0M210.3 574.4h0M218.4 573.5h0M219.2 572.4h0M221.2 565.7h0M215.4 569.6h0M223.4 561.0h0M209.1 571.6h0M234.7 565.7h0M221.1 564.1h0M215.5 578.4h0M213.5 571.5h0M218.5 573.4h0M231.3 571.0h0M220.9 576.2h0M220.9 559.7h0M230.1 567.2h0M223.9 582.6h0M227.8 571.9h0M232.0 565.2h0M213.3 563.8h0M223.2 571.4h0M218.8 582.2h0M227.2 571.2h0M218.8 569.8h0M224.3 568.1h0M238.8 579.7h0M226.4 570.3h0M213.0 576.2h0M218.8 576.1h0M225.1 562.8h0M223.0 569.1h0M221.4 569.7h0M223.2 569.0h0M227.3 573.3h0M221.8 569.4h0M220.9 568.0h0M221.8 571.4h0M221.0 559.7h0M223.1 565.2h0M222.5 584.1h0M228.4 556.8h0M212.8 575.8h0M218.3 561.3h0M212.9 569.3h0M218.1 570.0h0M220.9 570.2h0M220.2 565.6h0M226.6 578.8h0M217.8 569.2h0M234.0 564.0h0M216.3 573.1h0M227.7 570.0h0M229.1 569.5h0M223.8 569.9h0M224.4 570.2h0M230.7 574.2h0M231.8 569.3h0M218.2 566.7h0M220.4 572.0h0M220.3 571.7h0M225.0 563.6h0M214.8 577.5h0M219.0 580.6h0M220.9 562.4h0M216.1 565.6h0M237.3 559.6h0M209.5 565.0h0M222.9 582.6h0M228.3 564.8h0M231.4 577.3h0M218.9 573.4h0M224.7 569.3h0M220.1 566.9h0M225.1 567.2h0M227.5 573.9h0M213.6 572.4h0M221.6 574.5h0M220.6 576.7h0M227.3 575.2h0M226.1 562.4h0M222.3 576.3h0M227.7 573.5h0M222.5 569.8h0M215.0 560.1h0M221.6 574.7h0M221.2 567.1h0M221.6 577.6h0M219.2 569.6h0M224.5 576.1h0M225.0 567.3h0M219.8 563.8h0M221.5 575.6h0M223.6 567.7h0M216.5 568.2h0M226.9 573.6h0M225.2 574.9h0M229.5 571.3h0M226.3 559.5h0M226.3 568.3h0M224.1 565.1h0M221.1 563.9h0M222.3 564.4h0M228.5 568.4h0M223.5 566.7h0M222.0 566.3h0M218.0 572.9h0M218.8 563.8h0M220.5 582.6h0M228.6 571.6h0M224.3 571.9h0M225.1 583.0h0M231.2 571.2h0M213.3 565.1h0M224.2 567.7h0M225.2 568.6h0M225.5 572.8h0M220.2 563.2h0M221.1 566.4h0M217.7 570.8h0M229.4 568.3h0M220.6 564.3h0M224.4 571.6h0M223.9 578.9h0M224.3 576.0h0M220.9 572.5h0M218.1 574.7h0M230.8 565.2h0M218.3 571.8h0M222.9 575.1h0M208.2 567.2h0M225.7 571.6h0M216.8 574.3h0M223.5 570.5h0M221.5 569.7h0M226.1 562.7h0M204.0 573.8h0M209.3 571.4h0M222.9 572.2h0M216.6 573.4h0M221.1 567.5h0M221.3 565.6h0M231.7 566.7h0M222.7 568.4h0M223.8 570.5h0M221.1 570.5h0M223.7 571.5h0M228.7 569.8h0M222.3 573.1h0M222.0 572.6h0M226.1 558.1h0M223.4 568.0h0M214.0 563.3h0M215.0 575.9h0M229.1 570.5h0M222.3 564.2h0M234.3 578.6h0M224.2 565.8h0M222.1 566.7h0M216.0 564.2h0M217.7 566.6h0M225.1 565.0h0M225.4 571.4h0M228.1 577.7h0M235.6 575.6h0M220.6 569.0h0M238.2 564.3h0M223.2 577.0h0M222.8 572.9h0M232.7 575.3h0M223.1 573.7h0M224.5 574.0h0M226.1 568.7h0M223.3 571.7h0M221.8 567.5h0M228.0 558.2h0M221.5 576.1h0M224.6 564.0h0M217.5 581.2h0M226.6 570.0h0M223.3 568.7h0M224.8 565.5h0M223.8 569.9h0M223.9 575.4h0M213.0 569.7h0M223.8 571.4h0M222.6 572.5h0M228.8 567.8h0M223.9 574.6h0M222.0 576.0h0M219.1 576.9h0M224.3 578.2h0M230.4 565.3h0M228.0 573.1h0M223.4 568.1h0M225.0 569.0h0M223.1 570.4h0M223.3 569.0h0M215.3 571.4h0M204.8 571.8h0M222.1 569.7h0M219.9 572.0h0M225.6 567.5h0M219.4 564.9h0M216.2 572.6h0M222.3 577.9h0M214.4 564.1h0M223.5 567.7h0M224.6 565.6h0M229.6 568.8h0M224.7 576.3h0M216.2 568.2h0M217.0 574.8h0M213.0 567.5h0" stroke="#4a4af0" stroke-width="0.85" stroke-linecap="round" fill="none" opacity="0.6"/>
<path d="M217.4 578.8h0M240.0 571.9h0M242.5 577.2h0M210.6 569.8h0M213.8 578.0h0M228.2 573.9h0M215.3 569.5h0M211.8 570.8h0M237.9 569.4h0M238.1 572.5h0M220.8 575.9h0M209.5 584.6h0M226.4 561.9h0M231.2 563.1h0M232.8 581.7h0M233.4 561.3h0M220.4 580.3h0M228.6 575.7h0M247.2 579.8h0M221.4 561.4h0M217.3 559.0h0M216.0 572.2h0M211.0 571.5h0M218.3 575.2h0M211.0 564.8h0M224.1 575.4h0M224.4 546.3h0M221.2 555.3h0M222.0 562.7h0M213.8 566.4h0M228.3 570.4h0M228.8 570.8h0M219.1 581.4h0M242.7 564.8h0M224.5 558.8h0M223.7 563.7h0M236.3 574.2h0M225.8 580.2h0M226.6 547.6h0M239.1 584.9h0M224.8 581.2h0M228.2 558.8h0M208.0 583.3h0M232.4 584.9h0M242.7 569.6h0M230.9 576.6h0M231.0 575.5h0M218.8 574.0h0M205.1 574.9h0M219.1 564.9h0M227.1 573.8h0M226.5 564.9h0M217.4 569.0h0M222.2 567.6h0M212.9 572.6h0M216.7 570.6h0M213.3 551.4h0M224.5 574.2h0M221.9 578.6h0M225.2 569.3h0M235.4 573.8h0M216.7 572.2h0M219.5 563.2h0M230.4 569.8h0M218.3 570.3h0M243.4 583.7h0M236.0 561.8h0M208.6 570.8h0M224.5 576.4h0M225.1 577.6h0M214.0 577.0h0M222.4 578.9h0M229.0 556.5h0M223.3 581.9h0M234.5 578.5h0M218.9 567.3h0M231.0 561.2h0M231.2 569.6h0M233.5 583.1h0M223.5 564.8h0M217.7 572.9h0M196.2 576.4h0M222.7 579.0h0M243.1 552.3h0M210.9 570.0h0M207.9 570.5h0M242.4 560.9h0M213.3 567.2h0M232.5 560.8h0M228.1 570.8h0M222.0 555.8h0M222.7 571.9h0M209.7 590.5h0M224.0 563.3h0M226.0 568.1h0M222.5 560.2h0M231.8 570.4h0M218.1 577.5h0M213.2 574.5h0M227.4 579.6h0M236.7 574.9h0M228.0 564.5h0M198.6 577.9h0M231.4 559.9h0M200.5 560.6h0M209.8 572.9h0M230.5 565.7h0M210.3 576.4h0M220.0 558.1h0M216.7 574.8h0M225.4 557.5h0M215.9 570.2h0M234.4 575.4h0M240.4 561.7h0M223.2 562.1h0M237.5 558.1h0M219.2 580.9h0M219.2 575.2h0M216.4 571.4h0M249.6 563.4h0M223.2 576.1h0M230.7 589.0h0M214.6 584.9h0M232.7 570.8h0M226.1 567.7h0M237.9 574.4h0M220.8 576.7h0M205.8 570.4h0M211.7 574.8h0M223.7 567.3h0M220.7 570.9h0M225.0 575.2h0M233.2 588.3h0M234.9 572.1h0M224.8 571.6h0M234.1 566.5h0M232.3 561.7h0M208.3 564.4h0M230.3 571.2h0M210.0 546.8h0M227.1 579.0h0M218.0 561.0h0M223.2 568.4h0M224.1 583.7h0M222.8 558.5h0M229.6 556.6h0M232.0 571.0h0M228.1 572.9h0M222.0 562.7h0M225.2 569.6h0M197.3 577.5h0M213.4 580.6h0M235.8 559.7h0M218.6 579.3h0M225.2 560.6h0M201.9 580.2h0M223.0 584.1h0M214.9 580.4h0M224.3 553.2h0M227.4 561.5h0M210.1 564.8h0M224.0 551.8h0M225.6 571.2h0M237.4 568.0h0M230.5 575.1h0M229.0 576.7h0M233.7 581.6h0M229.9 578.6h0M232.9 574.0h0M222.7 581.6h0M222.9 576.9h0M209.2 587.4h0M229.4 570.7h0M223.3 568.1h0M216.8 584.6h0M221.3 558.0h0M212.7 571.4h0M237.4 575.0h0M217.4 564.7h0M228.2 576.2h0M225.0 567.5h0M209.6 562.6h0M223.5 562.8h0M220.8 565.6h0M221.6 583.0h0M232.7 577.6h0M222.4 568.8h0M241.1 575.3h0M230.9 549.6h0M238.2 581.5h0M211.9 566.6h0M227.6 578.3h0M224.2 572.6h0M222.2 567.3h0M238.4 578.8h0M225.7 567.5h0M218.1 572.7h0M217.4 578.9h0M221.6 578.6h0M208.1 574.5h0M225.3 575.9h0M215.4 572.7h0M224.0 575.9h0M230.9 557.0h0M234.3 579.3h0M220.1 572.1h0M259.1 586.5h0M233.0 577.3h0M218.6 557.5h0M222.5 567.7h0M219.9 573.8h0M220.1 556.2h0M225.0 582.2h0M223.6 579.1h0M226.9 578.0h0M224.5 572.2h0M208.6 580.7h0M213.3 561.9h0M217.5 572.1h0M223.3 574.8h0M218.8 567.9h0M222.3 569.2h0M222.5 564.7h0M229.3 579.0h0M226.7 585.7h0M217.3 563.2h0M206.8 567.9h0M217.4 563.6h0M213.4 567.9h0M211.3 559.5h0M226.6 550.1h0M227.3 571.5h0M241.9 584.6h0M215.3 578.1h0M212.8 574.0h0M216.9 560.5h0M226.5 580.5h0M229.9 563.4h0M215.5 572.7h0M215.2 575.6h0M228.7 581.7h0M230.3 573.7h0M241.6 572.6h0M214.7 574.6h0M234.6 560.4h0M223.7 583.0h0M222.1 579.0h0M233.2 576.9h0M218.6 565.9h0M218.7 576.0h0M214.2 553.4h0M234.0 559.7h0M226.6 562.8h0M215.8 587.6h0M239.3 569.1h0M223.4 574.0h0M220.9 568.4h0M227.3 566.7h0M222.6 575.0h0M224.6 565.8h0M228.0 578.0h0M226.2 573.3h0M232.4 566.6h0M223.6 576.3h0M223.3 568.9h0M212.8 570.3h0M214.4 569.1h0M226.4 569.6h0M223.8 566.1h0M227.9 572.3h0M221.9 580.7h0M224.0 576.2h0M235.8 582.4h0M230.1 566.8h0M224.6 558.4h0M236.7 555.8h0M217.0 568.1h0M213.6 576.9h0M231.2 573.9h0M236.2 579.2h0M224.0 575.9h0M220.7 582.5h0M220.5 563.3h0M221.6 572.6h0M209.5 573.0h0M210.1 567.1h0M205.7 566.2h0M231.3 563.5h0M227.1 567.0h0M232.4 587.5h0M219.0 578.3h0M233.2 578.5h0M222.8 567.7h0M222.7 573.6h0M217.0 573.8h0M210.6 564.3h0M213.1 575.5h0M238.3 568.9h0M237.4 579.8h0M203.3 575.4h0M230.6 578.6h0M241.0 568.7h0M235.0 555.0h0M233.2 561.4h0M238.8 575.9h0M219.4 571.1h0M238.7 585.9h0M230.6 571.2h0M232.5 550.4h0M226.0 593.6h0M215.1 565.0h0M212.5 571.4h0M218.8 569.3h0M227.9 563.3h0M219.3 575.2h0M228.1 581.6h0M228.9 568.4h0M223.4 554.0h0M203.9 565.6h0M235.0 563.8h0M225.2 561.8h0M231.2 577.1h0M216.3 572.5h0M226.0 579.6h0M254.0 564.8h0M233.1 585.1h0M220.7 579.4h0M234.6 562.5h0M226.7 568.1h0M216.5 571.6h0" stroke="#4a4af0" stroke-width="0.85" stroke-linecap="round" fill="none" opacity="0.5"/>
<path d="M229.8 575.1h0M210.1 585.2h0M219.6 566.1h0M238.8 578.0h0M221.4 576.0h0M226.5 593.5h0M217.6 571.8h0M243.3 584.7h0M211.0 572.5h0M222.0 571.8h0M211.8 570.1h0M222.1 598.2h0M255.3 605.8h0M277.5 568.0h0M244.3 578.8h0M248.7 587.7h0M210.7 569.1h0M229.6 576.3h0M250.7 556.4h0M221.6 572.2h0M246.6 573.7h0M245.9 569.3h0M247.3 576.5h0M230.1 580.0h0M238.1 583.4h0M220.0 601.1h0M237.5 584.6h0M215.7 572.6h0M226.8 578.9h0M237.9 584.7h0M242.6 565.9h0M231.6 571.7h0M255.8 574.0h0M197.2 589.0h0M217.7 579.4h0M228.8 571.7h0M227.3 571.4h0M247.8 571.0h0M250.0 561.1h0M221.0 565.3h0M233.7 596.5h0M235.7 566.9h0M241.3 579.5h0M213.0 569.2h0M231.3 576.7h0M223.7 570.7h0M224.2 595.6h0M216.3 583.7h0M215.4 560.0h0M242.2 576.0h0M222.6 579.2h0M226.0 592.5h0M218.0 580.0h0M214.2 560.6h0M224.8 588.4h0M199.2 567.0h0M223.1 573.1h0M220.4 582.2h0M216.2 586.9h0M220.2 583.1h0M233.7 585.1h0M223.0 577.9h0M234.6 599.7h0M242.6 597.4h0M218.6 574.6h0M224.4 582.2h0M232.4 569.5h0M203.7 576.1h0M218.4 572.2h0M218.9 558.1h0M214.8 577.3h0M222.8 575.3h0M233.7 563.6h0M234.5 583.3h0M241.0 553.7h0M228.3 579.0h0M234.0 577.4h0M246.5 575.9h0M237.2 573.2h0M212.6 575.0h0M259.4 555.5h0M245.3 590.9h0M255.6 591.1h0M245.3 575.7h0M216.7 578.5h0M218.7 574.9h0M227.0 583.5h0M229.8 574.6h0M234.1 580.7h0M225.2 575.8h0M240.3 590.2h0M238.6 559.6h0M236.1 559.0h0M241.9 567.8h0M224.3 573.5h0M255.4 582.4h0M208.9 580.3h0M231.6 569.1h0M229.5 571.4h0M253.6 574.3h0M235.8 581.9h0M221.8 570.4h0M236.4 562.3h0M238.9 575.1h0M256.1 587.8h0M222.1 571.9h0M227.9 583.3h0M219.5 570.6h0M226.7 591.6h0M221.3 567.7h0M212.0 595.3h0M212.2 565.8h0M229.0 574.3h0M236.2 571.2h0M210.0 575.1h0M253.2 577.2h0M222.6 573.6h0M225.9 592.7h0M209.7 563.0h0M247.8 555.6h0M220.5 553.9h0M234.7 567.7h0M213.9 568.1h0M227.0 563.6h0M237.4 591.1h0M228.2 584.3h0M233.8 568.0h0M256.7 569.1h0M227.9 571.9h0M230.5 579.9h0M249.9 575.4h0M221.9 591.6h0M238.6 559.9h0M225.1 560.6h0M233.9 580.3h0M241.1 587.1h0M235.6 591.9h0M230.8 570.4h0M204.5 584.9h0M239.4 586.6h0" stroke="#4a4af0" stroke-width="0.85" stroke-linecap="round" fill="none" opacity="0.5"/>
<path d="M216.5 608.3h0M212.8 611.7h0M213.4 609.9h0M213.7 611.6h0M203.1 602.4h0M215.3 618.3h0M206.7 611.1h0M217.4 615.3h0M200.6 627.8h0M211.7 619.9h0M223.0 622.0h0M217.4 590.2h0M218.3 616.3h0M216.7 614.6h0M211.6 601.6h0M220.9 609.8h0M213.5 615.8h0M212.8 612.8h0M209.2 618.4h0M224.6 613.0h0M216.7 614.8h0M212.8 617.2h0M224.6 603.5h0M221.9 608.5h0M226.4 612.6h0M209.1 608.2h0M216.6 612.0h0M207.9 598.3h0M229.2 615.2h0M221.8 605.7h0M236.9 606.7h0M219.4 605.4h0M224.1 614.5h0M232.2 623.4h0M206.8 609.3h0M213.6 611.6h0M221.1 597.6h0M222.5 614.5h0M229.6 593.9h0M227.0 602.8h0M195.7 623.0h0M208.2 616.7h0M231.2 621.3h0M200.0 620.3h0M220.0 604.2h0M205.1 607.0h0M221.6 619.2h0M210.6 626.5h0M213.6 616.1h0M235.3 598.6h0M219.1 606.4h0M215.9 614.6h0M208.1 628.0h0M216.3 603.0h0M228.5 595.8h0M219.0 612.6h0M230.7 606.2h0M221.8 609.4h0M221.0 596.0h0M202.1 608.5h0M222.0 612.8h0M199.8 603.2h0M218.9 615.7h0M215.7 602.9h0M223.6 595.9h0M217.1 620.3h0M220.6 613.6h0M216.3 624.6h0M230.6 611.2h0M224.4 625.4h0M199.6 600.7h0M232.6 608.8h0M203.8 598.3h0M208.2 614.9h0M199.3 609.3h0M209.9 620.5h0M214.3 611.7h0M213.4 606.4h0M215.8 607.0h0M216.0 609.7h0M219.6 614.6h0M213.1 600.8h0M221.2 625.8h0M219.4 618.7h0M210.0 604.5h0M205.1 604.2h0M219.4 607.5h0M207.2 614.8h0M223.8 607.0h0M221.7 611.1h0M227.0 626.1h0M225.1 597.3h0M211.7 618.4h0M211.9 627.2h0M198.4 624.2h0M223.9 616.4h0M219.3 600.6h0M214.9 611.7h0M202.4 608.5h0M207.9 614.0h0M193.1 610.2h0M235.4 628.6h0M222.7 632.3h0M210.4 618.8h0M227.9 607.2h0M228.1 620.7h0M217.5 613.6h0M213.3 617.5h0M224.6 599.7h0M225.8 610.9h0M226.8 605.8h0M220.2 612.3h0M227.2 595.6h0M220.4 611.2h0M218.2 600.9h0M215.9 613.6h0M207.0 605.3h0M210.7 607.7h0M230.3 609.3h0M222.6 612.7h0M216.4 612.9h0M201.6 606.7h0M208.5 616.1h0M199.6 624.6h0M210.6 620.9h0M211.6 602.5h0M222.8 605.0h0M214.7 605.8h0M211.0 625.0h0M231.2 604.6h0" stroke="#4a4af0" stroke-width="0.85" stroke-linecap="round" fill="none" opacity="0.5"/>
<path d="M273.1 615.2h0M262.8 615.3h0M256.7 603.6h0M259.6 612.6h0M261.4 609.0h0M262.9 625.5h0M267.0 604.9h0M264.8 604.0h0M264.8 619.5h0M252.9 620.0h0M258.7 611.9h0M269.0 612.5h0M273.3 616.8h0M270.8 608.0h0M268.2 602.2h0M255.5 614.0h0M261.3 615.5h0M263.7 610.2h0M253.6 612.9h0M272.9 614.8h0M263.9 617.6h0M268.5 606.9h0M260.4 605.0h0M260.2 603.7h0M265.8 613.4h0M267.8 608.2h0M260.0 604.8h0M268.0 608.2h0M268.0 592.7h0M270.3 606.8h0M257.4 604.8h0M265.9 613.2h0M275.4 621.8h0M262.0 607.1h0M263.0 621.5h0M262.4 593.9h0M267.2 617.1h0M269.8 610.9h0M271.0 617.7h0M259.0 618.0h0M263.2 617.7h0M264.3 591.4h0M261.3 612.1h0M258.6 597.9h0M272.0 609.9h0M265.4 599.6h0M272.4 612.8h0M270.6 616.4h0M260.7 614.9h0M260.5 597.6h0M260.1 632.1h0M259.5 613.0h0M261.1 600.0h0M260.7 612.4h0M263.8 629.3h0M259.7 598.7h0M267.1 599.6h0M265.5 616.6h0M257.7 610.7h0M265.3 604.4h0M262.8 620.3h0M267.2 618.7h0M261.6 610.2h0M261.7 618.8h0M258.5 608.0h0M257.5 597.2h0M262.0 619.2h0M271.2 609.0h0M273.7 613.2h0M263.1 611.4h0M264.1 611.7h0M270.8 601.7h0M260.9 606.8h0M270.1 614.3h0M255.5 609.9h0M259.0 602.6h0M275.9 613.1h0M262.1 621.5h0M261.6 620.6h0M261.3 618.3h0M254.6 607.2h0M262.7 614.3h0M259.1 614.6h0M267.1 613.2h0M263.9 616.8h0M263.9 616.6h0M258.8 622.6h0M264.9 600.8h0M260.6 611.4h0M270.5 610.4h0M255.9 602.9h0M264.0 606.6h0M265.5 624.2h0M264.5 610.5h0M264.8 604.0h0M266.1 612.7h0M264.6 616.1h0M271.4 632.9h0M273.6 613.7h0M253.9 604.2h0M267.9 603.1h0M268.8 608.2h0M260.9 610.0h0M258.6 619.2h0M267.7 609.0h0M271.1 604.5h0M268.4 612.7h0M259.0 613.0h0M255.2 598.6h0M255.5 600.0h0M267.4 600.6h0M274.4 602.0h0M260.5 625.3h0M266.1 606.0h0M255.9 608.9h0M272.3 610.2h0M270.4 627.2h0M273.0 611.8h0M272.7 611.5h0M266.0 611.2h0M267.4 604.5h0M277.4 614.3h0M259.3 612.4h0M266.8 605.7h0M265.8 600.3h0M261.5 616.8h0M265.1 607.5h0M259.8 617.1h0M272.0 627.0h0M277.4 618.3h0M267.0 624.8h0M264.8 606.8h0M260.9 611.1h0M268.7 610.6h0M263.9 616.1h0M271.7 608.4h0M263.3 631.1h0M263.4 615.2h0M268.5 601.4h0M266.4 608.2h0M253.4 611.6h0M272.8 620.5h0M266.8 615.5h0M264.3 610.6h0M266.7 601.1h0M258.9 620.5h0M256.9 622.0h0M264.1 614.3h0M262.8 607.6h0M260.6 603.0h0M264.7 614.6h0M268.8 607.7h0M260.1 619.4h0M271.5 619.3h0M264.6 614.4h0M271.7 609.1h0M273.4 616.2h0M259.5 610.4h0M261.7 604.4h0M273.2 595.9h0M266.2 624.2h0M264.3 615.5h0M257.2 602.1h0M263.0 601.1h0M261.9 601.4h0M262.6 608.2h0M262.1 598.9h0M262.9 630.5h0M254.7 623.5h0M260.1 612.3h0M264.8 623.9h0M267.9 602.1h0M268.4 616.9h0M273.0 602.5h0M272.2 623.2h0M266.7 617.0h0M269.6 599.6h0M264.9 616.8h0M262.7 620.8h0M277.4 611.7h0M259.7 615.2h0M254.6 625.7h0M276.9 602.8h0M255.1 622.7h0M269.2 608.6h0M258.3 609.9h0M266.2 618.8h0M259.8 613.3h0M270.9 600.8h0M261.9 602.5h0M259.3 610.7h0M270.6 611.3h0M261.1 634.2h0M273.0 599.5h0M260.6 611.5h0M267.7 620.9h0M259.3 607.5h0M259.7 633.2h0M270.0 615.3h0M267.6 601.1h0M272.2 595.6h0M261.9 605.4h0M261.5 598.8h0M266.0 596.1h0M271.2 604.0h0M260.9 605.9h0M257.3 624.3h0M254.3 605.0h0M259.9 618.0h0M266.2 620.9h0M263.2 600.5h0M254.3 612.0h0M266.6 602.9h0M264.4 614.0h0M267.0 615.0h0M254.7 615.5h0M270.8 606.2h0M263.7 630.0h0M266.5 603.8h0M261.2 611.9h0M254.4 620.4h0M269.7 609.3h0M275.7 595.8h0M272.6 611.6h0M261.9 586.6h0M273.9 586.6h0" stroke="#4a4af0" stroke-width="0.85" stroke-linecap="round" fill="none" opacity="0.5"/>
<path d="M253.0 581.5h0M255.5 588.9h0M274.0 585.0h0M251.9 631.4h0M263.5 584.9h0M257.1 607.1h0M255.3 592.8h0M264.9 595.0h0M258.4 570.2h0M275.6 561.2h0M269.0 597.7h0M281.4 583.8h0M245.2 587.2h0M249.6 591.6h0M258.4 594.0h0M262.6 558.3h0M267.9 569.6h0M262.7 580.7h0M250.7 587.6h0M243.2 590.2h0M270.8 583.8h0M258.6 577.5h0M255.6 608.5h0M262.2 584.5h0M271.8 568.1h0M248.6 588.3h0M265.9 601.8h0M254.7 577.3h0M272.0 594.7h0M254.5 598.4h0M274.0 603.2h0M242.7 569.7h0M266.8 587.9h0M264.2 593.0h0M268.9 572.1h0M252.5 589.9h0M272.0 571.9h0M259.7 586.9h0M270.6 592.5h0M258.1 576.0h0M242.0 568.0h0M255.2 607.1h0M254.9 570.0h0M268.4 599.0h0M248.8 600.4h0M280.7 595.2h0M257.7 583.9h0M266.1 574.5h0M250.1 568.4h0M277.3 588.9h0" stroke="#4a4af0" stroke-width="0.85" stroke-linecap="round" fill="none" opacity="0.5"/>
<g filter="url(#bl)"><ellipse cx="222" cy="569.6" rx="4.5" ry="3" fill="#5a6ae8" opacity="0.8" transform="rotate(-30 222 569.6)"/><ellipse cx="221.8" cy="569.8" rx="2.4" ry="1.5" fill="#e6b050" transform="rotate(-30 222 569.6)"/><circle cx="221.8" cy="570" r="0.8" fill="#f05a1a"/></g>
<rect x="194.30" y="540.40" width="56.90" height="50.60" fill="none" stroke="#444" stroke-width="0.7" />
<line x1="251.80" y1="538.40" x2="251.80" y2="639.60" stroke="#444" stroke-width="0.7" />
<line x1="251.80" y1="590.80" x2="290.60" y2="590.80" stroke="#444" stroke-width="0.7" />
<text x="266.30" y="551.80" font-size="4.7" text-anchor="middle" fill="#000" >CD4<tspan dy="-1.2" font-size="2.8">+</tspan><tspan dy="1.2"> T cells</tspan></text>
<text x="266.30" y="557.70" font-size="4.7" text-anchor="middle" fill="#000" >4.58</text>
<text x="236.90" y="629.00" font-size="4.7" text-anchor="middle" fill="#000" >CD8<tspan dy="-1.2" font-size="2.8">+</tspan><tspan dy="1.2"> T cells</tspan></text>
<text x="236.90" y="635.00" font-size="4.7" text-anchor="middle" fill="#000" >1.11</text>
<text x="324.01" y="391.20" font-size="13.5" text-anchor="start" fill="#000" >h</text>
<text x="381.20" y="399.40" font-size="8.7" text-anchor="middle" fill="#000" font-weight="700" >T cells</text>
<rect x="365.25" y="496.95" width="12.00" height="9.15" fill="#d9d9d9" stroke="#111" stroke-width="1.1" />
<rect x="386.25" y="433.85" width="12.00" height="72.25" fill="#ff8000" stroke="#111" stroke-width="1.1" />
<line x1="371.30" y1="493.50" x2="371.30" y2="497.00" stroke="#000" stroke-width="0.7" />
<line x1="368.90" y1="493.50" x2="373.70" y2="493.50" stroke="#000" stroke-width="0.7" />
<line x1="392.30" y1="428.10" x2="392.30" y2="434.00" stroke="#000" stroke-width="0.7" />
<line x1="389.30" y1="428.10" x2="395.30" y2="428.10" stroke="#000" stroke-width="0.7" />
<circle cx="366.80" cy="494.80" r="1.75" fill="#1a1a1a" stroke="none" stroke-width="0" />
<circle cx="371.50" cy="496.40" r="1.75" fill="#1a1a1a" stroke="none" stroke-width="0" />
<circle cx="376.00" cy="496.40" r="1.75" fill="#1a1a1a" stroke="none" stroke-width="0" />
<circle cx="388.30" cy="428.60" r="1.75" fill="#1a1a1a" stroke="none" stroke-width="0" />
<circle cx="395.70" cy="431.20" r="1.75" fill="#1a1a1a" stroke="none" stroke-width="0" />
<circle cx="392.30" cy="436.50" r="1.75" fill="#1a1a1a" stroke="none" stroke-width="0" />
<line x1="355.50" y1="410.95" x2="355.50" y2="506.65" stroke="#000" stroke-width="1.1" />
<line x1="352.30" y1="506.10" x2="355.50" y2="506.10" stroke="#000" stroke-width="1.1" />
<text x="351.10" y="508.62" font-size="7" text-anchor="end" fill="#000" font-weight="700" >0</text>
<line x1="352.30" y1="482.45" x2="355.50" y2="482.45" stroke="#000" stroke-width="1.1" />
<text x="351.10" y="484.97" font-size="7" text-anchor="end" fill="#000" font-weight="700" >2</text>
<line x1="352.30" y1="458.80" x2="355.50" y2="458.80" stroke="#000" stroke-width="1.1" />
<text x="351.10" y="461.32" font-size="7" text-anchor="end" fill="#000" font-weight="700" >4</text>
<line x1="352.30" y1="435.15" x2="355.50" y2="435.15" stroke="#000" stroke-width="1.1" />
<text x="351.10" y="437.67" font-size="7" text-anchor="end" fill="#000" font-weight="700" >6</text>
<line x1="352.30" y1="411.50" x2="355.50" y2="411.50" stroke="#000" stroke-width="1.1" />
<text x="351.10" y="414.02" font-size="7" text-anchor="end" fill="#000" font-weight="700" >8</text>
<line x1="354.95" y1="506.10" x2="406.20" y2="506.10" stroke="#000" stroke-width="1.1" />
<line x1="371.30" y1="506.10" x2="371.30" y2="509.30" stroke="#000" stroke-width="1.1" />
<line x1="392.30" y1="506.10" x2="392.30" y2="509.30" stroke="#000" stroke-width="1.1" />
<text x="371.50" y="518.20" font-size="6.9" text-anchor="middle" fill="#000" font-weight="700" >Placebo</text>
<text x="391.80" y="518.20" font-size="6.9" text-anchor="middle" fill="#000" font-weight="700" >AA</text>
<text x="380.70" y="415.40" font-size="5.2" text-anchor="middle" fill="#333" >p&lt;0.0001</text>
<line x1="370.70" y1="419.40" x2="391.00" y2="419.40" stroke="#000" stroke-width="0.9" />
<text x="345.00" y="458.00" font-size="7.8" text-anchor="middle" fill="#000" font-weight="700" transform="rotate(-90 345.00 458.00)" >CD45<tspan dy="-3.28" font-size="5.46">+</tspan><tspan dy="3.28"> </tspan>CD3<tspan dy="-3.28" font-size="5.46">+</tspan><tspan dy="3.28"> cells (%)</tspan></text>
<text x="444.01" y="391.20" font-size="13.5" text-anchor="start" fill="#000" >i</text>
<text x="505.20" y="400.00" font-size="8.7" text-anchor="middle" fill="#000" font-weight="700" >CD4<tspan dy="-3.65" font-size="6.09">+</tspan><tspan dy="3.65"> T cells</tspan></text>
<rect x="488.65" y="496.95" width="12.50" height="9.45" fill="#d9d9d9" stroke="#111" stroke-width="1.1" />
<rect x="510.15" y="439.15" width="11.50" height="67.25" fill="#ff8000" stroke="#111" stroke-width="1.1" />
<line x1="495.20" y1="493.80" x2="495.20" y2="497.00" stroke="#000" stroke-width="0.7" />
<line x1="492.80" y1="493.80" x2="497.60" y2="493.80" stroke="#000" stroke-width="0.7" />
<line x1="516.20" y1="433.30" x2="516.20" y2="439.00" stroke="#000" stroke-width="0.7" />
<line x1="513.20" y1="433.30" x2="519.20" y2="433.30" stroke="#000" stroke-width="0.7" />
<circle cx="489.90" cy="494.30" r="1.75" fill="#1a1a1a" stroke="none" stroke-width="0" />
<circle cx="494.70" cy="495.90" r="1.75" fill="#1a1a1a" stroke="none" stroke-width="0" />
<circle cx="499.60" cy="496.90" r="1.75" fill="#1a1a1a" stroke="none" stroke-width="0" />
<circle cx="512.30" cy="434.70" r="1.75" fill="#1a1a1a" stroke="none" stroke-width="0" />
<circle cx="518.80" cy="436.50" r="1.75" fill="#1a1a1a" stroke="none" stroke-width="0" />
<circle cx="515.40" cy="443.10" r="1.75" fill="#1a1a1a" stroke="none" stroke-width="0" />
<line x1="481.30" y1="411.75" x2="481.30" y2="506.95" stroke="#000" stroke-width="1.1" />
<line x1="478.10" y1="506.40" x2="481.30" y2="506.40" stroke="#000" stroke-width="1.1" />
<text x="476.90" y="508.92" font-size="7" text-anchor="end" fill="#000" font-weight="700" >0</text>
<line x1="478.10" y1="475.03" x2="481.30" y2="475.03" stroke="#000" stroke-width="1.1" />
<text x="476.90" y="477.55" font-size="7" text-anchor="end" fill="#000" font-weight="700" >2</text>
<line x1="478.10" y1="443.67" x2="481.30" y2="443.67" stroke="#000" stroke-width="1.1" />
<text x="476.90" y="446.19" font-size="7" text-anchor="end" fill="#000" font-weight="700" >4</text>
<line x1="478.10" y1="412.30" x2="481.30" y2="412.30" stroke="#000" stroke-width="1.1" />
<text x="476.90" y="414.82" font-size="7" text-anchor="end" fill="#000" font-weight="700" >6</text>
<line x1="480.75" y1="506.40" x2="529.30" y2="506.40" stroke="#000" stroke-width="1.1" />
<line x1="495.20" y1="506.40" x2="495.20" y2="509.60" stroke="#000" stroke-width="1.1" />
<line x1="516.20" y1="506.40" x2="516.20" y2="509.60" stroke="#000" stroke-width="1.1" />
<text x="495.00" y="518.20" font-size="6.9" text-anchor="middle" fill="#000" font-weight="700" >Placebo</text>
<text x="515.80" y="518.20" font-size="6.9" text-anchor="middle" fill="#000" font-weight="700" >AA</text>
<text x="504.90" y="421.90" font-size="5.2" text-anchor="middle" fill="#333" >p&lt;0.0001</text>
<line x1="494.70" y1="426.50" x2="515.70" y2="426.50" stroke="#000" stroke-width="0.9" />
<text x="467.80" y="458.00" font-size="7.8" text-anchor="middle" fill="#000" font-weight="700" transform="rotate(-90 467.80 458.00)" >CD3<tspan dy="-3.28" font-size="5.46">+</tspan><tspan dy="3.28"> </tspan>CD4<tspan dy="-3.28" font-size="5.46">+</tspan><tspan dy="3.28"> cells (%)</tspan></text>
<text x="578.81" y="391.20" font-size="13.5" text-anchor="start" fill="#000" >j</text>
<text x="635.80" y="400.00" font-size="8.7" text-anchor="middle" fill="#000" font-weight="700" >CD8<tspan dy="-3.65" font-size="6.09">+</tspan><tspan dy="3.65"> T cells</tspan></text>
<rect x="619.35" y="500.15" width="12.40" height="5.95" fill="#d9d9d9" stroke="#111" stroke-width="1.1" />
<rect x="640.15" y="438.05" width="11.90" height="68.05" fill="#ff8000" stroke="#111" stroke-width="1.1" />
<line x1="625.60" y1="496.10" x2="625.60" y2="500.00" stroke="#000" stroke-width="0.7" />
<line x1="623.20" y1="496.10" x2="628.00" y2="496.10" stroke="#000" stroke-width="0.7" />
<line x1="646.10" y1="436.00" x2="646.10" y2="438.00" stroke="#000" stroke-width="0.7" />
<line x1="643.50" y1="436.00" x2="648.70" y2="436.00" stroke="#000" stroke-width="0.7" />
<circle cx="620.70" cy="496.90" r="1.75" fill="#1a1a1a" stroke="none" stroke-width="0" />
<circle cx="625.60" cy="498.80" r="1.75" fill="#1a1a1a" stroke="none" stroke-width="0" />
<circle cx="630.20" cy="500.20" r="1.75" fill="#1a1a1a" stroke="none" stroke-width="0" />
<circle cx="641.80" cy="436.70" r="1.75" fill="#1a1a1a" stroke="none" stroke-width="0" />
<circle cx="646.10" cy="437.20" r="1.75" fill="#1a1a1a" stroke="none" stroke-width="0" />
<circle cx="650.40" cy="438.60" r="1.75" fill="#1a1a1a" stroke="none" stroke-width="0" />
<line x1="611.30" y1="412.15" x2="611.30" y2="506.65" stroke="#000" stroke-width="1.1" />
<line x1="608.10" y1="506.10" x2="611.30" y2="506.10" stroke="#000" stroke-width="1.1" />
<text x="606.90" y="508.62" font-size="7" text-anchor="end" fill="#000" font-weight="700" >0.0</text>
<line x1="608.10" y1="474.97" x2="611.30" y2="474.97" stroke="#000" stroke-width="1.1" />
<text x="606.90" y="477.49" font-size="7" text-anchor="end" fill="#000" font-weight="700" >0.5</text>
<line x1="608.10" y1="443.83" x2="611.30" y2="443.83" stroke="#000" stroke-width="1.1" />
<text x="606.90" y="446.35" font-size="7" text-anchor="end" fill="#000" font-weight="700" >1.0</text>
<line x1="608.10" y1="412.70" x2="611.30" y2="412.70" stroke="#000" stroke-width="1.1" />
<text x="606.90" y="415.22" font-size="7" text-anchor="end" fill="#000" font-weight="700" >1.5</text>
<line x1="610.75" y1="506.10" x2="659.90" y2="506.10" stroke="#000" stroke-width="1.1" />
<line x1="625.60" y1="506.10" x2="625.60" y2="509.30" stroke="#000" stroke-width="1.1" />
<line x1="646.10" y1="506.10" x2="646.10" y2="509.30" stroke="#000" stroke-width="1.1" />
<text x="625.20" y="518.20" font-size="6.9" text-anchor="middle" fill="#000" font-weight="700" >Placebo</text>
<text x="645.60" y="518.20" font-size="6.9" text-anchor="middle" fill="#000" font-weight="700" >AA</text>
<text x="635.00" y="423.00" font-size="5.2" text-anchor="middle" fill="#333" >p=0.0001</text>
<line x1="625.00" y1="427.80" x2="645.80" y2="427.80" stroke="#000" stroke-width="0.9" />
<text x="593.80" y="461.00" font-size="7.8" text-anchor="middle" fill="#000" font-weight="700" transform="rotate(-90 593.80 461.00)" >CD3<tspan dy="-3.28" font-size="5.46">+</tspan><tspan dy="3.28"> </tspan>CD8<tspan dy="-3.28" font-size="5.46">+</tspan><tspan dy="3.28"> cells (%)</tspan></text>
<text x="324.41" y="546.30" font-size="13.5" text-anchor="start" fill="#000" >k</text>
<text x="385.70" y="565.90" font-size="8.7" text-anchor="middle" fill="#000" font-weight="700" >Treg cells</text>
<rect x="369.45" y="600.95" width="11.50" height="70.95" fill="#d9d9d9" stroke="#111" stroke-width="1.1" />
<rect x="389.95" y="658.55" width="11.50" height="13.35" fill="#ff8000" stroke="#111" stroke-width="1.1" />
<line x1="375.20" y1="590.40" x2="375.20" y2="601.00" stroke="#000" stroke-width="0.7" />
<line x1="372.00" y1="590.40" x2="378.40" y2="590.40" stroke="#000" stroke-width="0.7" />
<line x1="395.70" y1="655.20" x2="395.70" y2="658.50" stroke="#000" stroke-width="0.7" />
<line x1="393.30" y1="655.20" x2="398.10" y2="655.20" stroke="#000" stroke-width="0.7" />
<circle cx="374.70" cy="587.30" r="1.75" fill="#1a1a1a" stroke="none" stroke-width="0" />
<circle cx="377.30" cy="595.70" r="1.75" fill="#1a1a1a" stroke="none" stroke-width="0" />
<circle cx="369.90" cy="604.10" r="1.75" fill="#1a1a1a" stroke="none" stroke-width="0" />
<circle cx="380.40" cy="604.90" r="1.75" fill="#1a1a1a" stroke="none" stroke-width="0" />
<circle cx="375.20" cy="612.80" r="1.75" fill="#1a1a1a" stroke="none" stroke-width="0" />
<circle cx="391.00" cy="656.90" r="1.75" fill="#1a1a1a" stroke="none" stroke-width="0" />
<circle cx="393.00" cy="655.60" r="1.75" fill="#1a1a1a" stroke="none" stroke-width="0" />
<circle cx="395.70" cy="656.90" r="1.75" fill="#1a1a1a" stroke="none" stroke-width="0" />
<circle cx="397.50" cy="655.60" r="1.75" fill="#1a1a1a" stroke="none" stroke-width="0" />
<circle cx="399.60" cy="658.00" r="1.75" fill="#1a1a1a" stroke="none" stroke-width="0" />
<line x1="362.10" y1="577.25" x2="362.10" y2="672.45" stroke="#000" stroke-width="1.1" />
<line x1="358.90" y1="671.90" x2="362.10" y2="671.90" stroke="#000" stroke-width="1.1" />
<text x="357.70" y="674.42" font-size="7" text-anchor="end" fill="#000" font-weight="700" >0.0</text>
<line x1="358.90" y1="648.38" x2="362.10" y2="648.38" stroke="#000" stroke-width="1.1" />
<text x="357.70" y="650.89" font-size="7" text-anchor="end" fill="#000" font-weight="700" >0.5</text>
<line x1="358.90" y1="624.85" x2="362.10" y2="624.85" stroke="#000" stroke-width="1.1" />
<text x="357.70" y="627.37" font-size="7" text-anchor="end" fill="#000" font-weight="700" >1.0</text>
<line x1="358.90" y1="601.32" x2="362.10" y2="601.32" stroke="#000" stroke-width="1.1" />
<text x="357.70" y="603.84" font-size="7" text-anchor="end" fill="#000" font-weight="700" >1.5</text>
<line x1="358.90" y1="577.80" x2="362.10" y2="577.80" stroke="#000" stroke-width="1.1" />
<text x="357.70" y="580.32" font-size="7" text-anchor="end" fill="#000" font-weight="700" >2.0</text>
<line x1="361.55" y1="671.90" x2="408.00" y2="671.90" stroke="#000" stroke-width="1.1" />
<line x1="375.20" y1="671.90" x2="375.20" y2="675.10" stroke="#000" stroke-width="1.1" />
<line x1="395.70" y1="671.90" x2="395.70" y2="675.10" stroke="#000" stroke-width="1.1" />
<text x="374.80" y="681.40" font-size="6.9" text-anchor="middle" fill="#000" font-weight="700" >Placebo</text>
<text x="395.30" y="681.40" font-size="6.9" text-anchor="middle" fill="#000" font-weight="700" >AA</text>
<text x="384.70" y="579.00" font-size="5.2" text-anchor="middle" fill="#333" >p=0.0001</text>
<line x1="374.70" y1="582.50" x2="395.20" y2="582.50" stroke="#000" stroke-width="0.9" />
<text x="341.80" y="622.00" font-size="7.8" text-anchor="middle" fill="#000" font-weight="700" transform="rotate(-90 341.80 622.00)" >CD4<tspan dy="-3.28" font-size="5.46">+</tspan><tspan dy="3.28"> </tspan>CD25<tspan dy="-3.28" font-size="5.46">+</tspan><tspan dy="3.28"> </tspan>FOXP3<tspan dy="-3.28" font-size="5.46">+</tspan><tspan dy="3.28"> cells (%)</tspan></text>
<text x="444.04" y="546.20" font-size="13.5" text-anchor="start" fill="#000" >l</text>
<text x="515.30" y="554.30" font-size="8.7" text-anchor="middle" fill="#000" font-weight="700" >Treg/ CD4<tspan dy="-3.65" font-size="6.09">+</tspan><tspan dy="3.65"> T cell</tspan></text>
<text x="515.30" y="564.40" font-size="8.7" text-anchor="middle" fill="#000" font-weight="700" >ratio</text>
<rect x="498.35" y="608.65" width="12.30" height="62.65" fill="#d9d9d9" stroke="#111" stroke-width="1.1" />
<rect x="518.55" y="658.05" width="12.30" height="13.25" fill="#ff8000" stroke="#111" stroke-width="1.1" />
<line x1="504.30" y1="600.50" x2="504.30" y2="609.00" stroke="#000" stroke-width="0.7" />
<line x1="501.30" y1="600.50" x2="507.30" y2="600.50" stroke="#000" stroke-width="0.7" />
<line x1="524.70" y1="655.00" x2="524.70" y2="658.00" stroke="#000" stroke-width="0.7" />
<line x1="522.30" y1="655.00" x2="527.10" y2="655.00" stroke="#000" stroke-width="0.7" />
<circle cx="501.50" cy="600.50" r="1.75" fill="#1a1a1a" stroke="none" stroke-width="0" />
<circle cx="506.00" cy="597.50" r="1.75" fill="#1a1a1a" stroke="none" stroke-width="0" />
<circle cx="508.80" cy="603.00" r="1.75" fill="#1a1a1a" stroke="none" stroke-width="0" />
<circle cx="500.20" cy="613.00" r="1.75" fill="#1a1a1a" stroke="none" stroke-width="0" />
<circle cx="507.50" cy="613.50" r="1.75" fill="#1a1a1a" stroke="none" stroke-width="0" />
<circle cx="520.20" cy="656.60" r="1.75" fill="#1a1a1a" stroke="none" stroke-width="0" />
<circle cx="522.30" cy="655.60" r="1.75" fill="#1a1a1a" stroke="none" stroke-width="0" />
<circle cx="524.60" cy="655.00" r="1.75" fill="#1a1a1a" stroke="none" stroke-width="0" />
<circle cx="527.00" cy="656.60" r="1.75" fill="#1a1a1a" stroke="none" stroke-width="0" />
<circle cx="529.30" cy="657.80" r="1.75" fill="#1a1a1a" stroke="none" stroke-width="0" />
<line x1="487.40" y1="576.15" x2="487.40" y2="671.85" stroke="#000" stroke-width="1.1" />
<line x1="484.20" y1="671.30" x2="487.40" y2="671.30" stroke="#000" stroke-width="1.1" />
<text x="483.00" y="673.82" font-size="7" text-anchor="end" fill="#000" font-weight="700" >0</text>
<line x1="484.20" y1="652.38" x2="487.40" y2="652.38" stroke="#000" stroke-width="1.1" />
<text x="483.00" y="654.90" font-size="7" text-anchor="end" fill="#000" font-weight="700" >20</text>
<line x1="484.20" y1="633.46" x2="487.40" y2="633.46" stroke="#000" stroke-width="1.1" />
<text x="483.00" y="635.98" font-size="7" text-anchor="end" fill="#000" font-weight="700" >40</text>
<line x1="484.20" y1="614.54" x2="487.40" y2="614.54" stroke="#000" stroke-width="1.1" />
<text x="483.00" y="617.06" font-size="7" text-anchor="end" fill="#000" font-weight="700" >60</text>
<line x1="484.20" y1="595.62" x2="487.40" y2="595.62" stroke="#000" stroke-width="1.1" />
<text x="483.00" y="598.14" font-size="7" text-anchor="end" fill="#000" font-weight="700" >80</text>
<line x1="484.20" y1="576.70" x2="487.40" y2="576.70" stroke="#000" stroke-width="1.1" />
<text x="483.00" y="579.22" font-size="7" text-anchor="end" fill="#000" font-weight="700" >100</text>
<line x1="486.85" y1="671.30" x2="537.00" y2="671.30" stroke="#000" stroke-width="1.1" />
<line x1="504.30" y1="671.30" x2="504.30" y2="674.50" stroke="#000" stroke-width="1.1" />
<line x1="524.70" y1="671.30" x2="524.70" y2="674.50" stroke="#000" stroke-width="1.1" />
<text x="504.00" y="681.40" font-size="6.9" text-anchor="middle" fill="#000" font-weight="700" >Placebo</text>
<text x="524.30" y="681.40" font-size="6.9" text-anchor="middle" fill="#000" font-weight="700" >AA</text>
<text x="513.80" y="588.20" font-size="5.2" text-anchor="middle" fill="#333" >p&lt;0.0001</text>
<line x1="503.70" y1="592.00" x2="524.80" y2="592.00" stroke="#000" stroke-width="0.9" />
<text x="458.40" y="624.00" font-size="7.5" text-anchor="middle" fill="#000" font-weight="700" transform="rotate(-90 458.40 624.00)" >CD4<tspan dy="-3.15" font-size="5.25">+</tspan><tspan dy="3.15"> </tspan>CD25<tspan dy="-3.15" font-size="5.25">+</tspan><tspan dy="3.15"> </tspan>FOXP3<tspan dy="-3.15" font-size="5.25">+</tspan><tspan dy="3.15"> cells/</tspan></text>
<text x="467.80" y="625.80" font-size="7.5" text-anchor="middle" fill="#000" font-weight="700" transform="rotate(-90 467.80 625.80)" >CD3<tspan dy="-3.15" font-size="5.25">+</tspan><tspan dy="3.15"> </tspan>CD4<tspan dy="-3.15" font-size="5.25">+</tspan><tspan dy="3.15"> cells (%)</tspan></text>
<text x="574.61" y="546.30" font-size="13.5" text-anchor="start" fill="#000" >m</text>
<text x="641.80" y="565.60" font-size="8.7" text-anchor="middle" fill="#000" font-weight="700" >CD163<tspan dy="-3.65" font-size="6.09">+</tspan><tspan dy="3.65"> Mac cells</tspan></text>
<rect x="626.15" y="598.85" width="11.60" height="70.45" fill="#d9d9d9" stroke="#111" stroke-width="1.1" />
<rect x="646.35" y="623.15" width="11.90" height="46.15" fill="#ff8000" stroke="#111" stroke-width="1.1" />
<line x1="631.80" y1="596.20" x2="631.80" y2="599.00" stroke="#000" stroke-width="0.7" />
<line x1="629.40" y1="596.20" x2="634.20" y2="596.20" stroke="#000" stroke-width="0.7" />
<circle cx="627.50" cy="597.00" r="1.75" fill="#1a1a1a" stroke="none" stroke-width="0" />
<circle cx="630.20" cy="598.90" r="1.75" fill="#1a1a1a" stroke="none" stroke-width="0" />
<circle cx="632.30" cy="596.20" r="1.75" fill="#1a1a1a" stroke="none" stroke-width="0" />
<circle cx="634.50" cy="598.90" r="1.75" fill="#1a1a1a" stroke="none" stroke-width="0" />
<circle cx="636.90" cy="599.70" r="1.75" fill="#1a1a1a" stroke="none" stroke-width="0" />
<circle cx="647.20" cy="621.30" r="1.75" fill="#1a1a1a" stroke="none" stroke-width="0" />
<circle cx="649.90" cy="621.80" r="1.75" fill="#1a1a1a" stroke="none" stroke-width="0" />
<circle cx="652.60" cy="622.10" r="1.75" fill="#1a1a1a" stroke="none" stroke-width="0" />
<circle cx="655.30" cy="622.60" r="1.75" fill="#1a1a1a" stroke="none" stroke-width="0" />
<circle cx="657.40" cy="623.20" r="1.75" fill="#1a1a1a" stroke="none" stroke-width="0" />
<line x1="616.70" y1="576.95" x2="616.70" y2="669.85" stroke="#000" stroke-width="1.1" />
<line x1="613.50" y1="669.30" x2="616.70" y2="669.30" stroke="#000" stroke-width="1.1" />
<text x="612.30" y="671.82" font-size="7" text-anchor="end" fill="#000" font-weight="700" >0</text>
<line x1="613.50" y1="654.00" x2="616.70" y2="654.00" stroke="#000" stroke-width="1.1" />
<text x="612.30" y="656.52" font-size="7" text-anchor="end" fill="#000" font-weight="700" >20</text>
<line x1="613.50" y1="638.70" x2="616.70" y2="638.70" stroke="#000" stroke-width="1.1" />
<text x="612.30" y="641.22" font-size="7" text-anchor="end" fill="#000" font-weight="700" >40</text>
<line x1="613.50" y1="623.40" x2="616.70" y2="623.40" stroke="#000" stroke-width="1.1" />
<text x="612.30" y="625.92" font-size="7" text-anchor="end" fill="#000" font-weight="700" >60</text>
<line x1="613.50" y1="608.10" x2="616.70" y2="608.10" stroke="#000" stroke-width="1.1" />
<text x="612.30" y="610.62" font-size="7" text-anchor="end" fill="#000" font-weight="700" >80</text>
<line x1="613.50" y1="592.80" x2="616.70" y2="592.80" stroke="#000" stroke-width="1.1" />
<text x="612.30" y="595.32" font-size="7" text-anchor="end" fill="#000" font-weight="700" >100</text>
<line x1="613.50" y1="577.50" x2="616.70" y2="577.50" stroke="#000" stroke-width="1.1" />
<text x="612.30" y="580.02" font-size="7" text-anchor="end" fill="#000" font-weight="700" >120</text>
<line x1="616.15" y1="669.30" x2="665.30" y2="669.30" stroke="#000" stroke-width="1.1" />
<line x1="631.80" y1="669.30" x2="631.80" y2="672.50" stroke="#000" stroke-width="1.1" />
<line x1="652.30" y1="669.30" x2="652.30" y2="672.50" stroke="#000" stroke-width="1.1" />
<text x="631.80" y="680.00" font-size="6.9" text-anchor="middle" fill="#000" font-weight="700" >Placebo</text>
<text x="652.30" y="680.00" font-size="6.9" text-anchor="middle" fill="#000" font-weight="700" >AA</text>
<text x="641.80" y="583.80" font-size="5.2" text-anchor="middle" fill="#333" >p&lt;0.0001</text>
<line x1="631.50" y1="587.50" x2="652.00" y2="587.50" stroke="#000" stroke-width="0.9" />
<text x="585.40" y="623.40" font-size="7.2" text-anchor="middle" fill="#000" font-weight="700" transform="rotate(-90 585.40 623.40)" >CD11b<tspan dy="-3.02" font-size="5.04">+</tspan><tspan dy="3.02"> F4/80</tspan><tspan dy="-3.02" font-size="5.04">+</tspan><tspan dy="3.02"> </tspan>CD163<tspan dy="-3.02" font-size="5.04">+</tspan><tspan dy="3.02"> cells/</tspan></text>
<text x="597.40" y="625.20" font-size="7.2" text-anchor="middle" fill="#000" font-weight="700" transform="rotate(-90 597.40 625.20)" >CD45<tspan dy="-3.02" font-size="5.04">+</tspan><tspan dy="3.02"> </tspan>CD11b<tspan dy="-3.02" font-size="5.04">+</tspan><tspan dy="3.02"> F4/80</tspan><tspan dy="-3.02" font-size="5.04">+</tspan><tspan dy="3.02">  (%)</tspan></text>
<text x="34.91" y="691.90" font-size="13.5" text-anchor="start" fill="#000" >n</text>
<text x="101.30" y="691.30" font-size="6.5" text-anchor="middle" fill="#000" >Subcutaneous</text>
<text x="101.30" y="698.70" font-size="6.5" text-anchor="middle" fill="#000" >injection</text>
<circle cx="99.70" cy="713.50" r="7.20" fill="#fff8f6" stroke="#e9aaa4" stroke-width="0.45" />
<circle cx="99.70" cy="713.50" r="6.30" fill="none" stroke="#f3cfca" stroke-width="0.35" />
<g transform="translate(33.30 683.90)"><path d="M61.5 27 C62 24.5 65 23.6 67.5 24.3 C70.5 24.2 72 26.5 71.5 29 C72 32 70 34.6 67 34.5 C64 35.4 61.2 33.3 61.6 30.6 C61 29.4 61 28 61.5 27 Z" fill="#de8f84"/><path d="M63 27.5 q1.5 -1.5 3 0 q1.5 1.5 3 0 M63 30 q1.5 -1.5 3 0 q1.5 1.5 3.5 0 M64 32.5 q1.5 -1.2 3 0 q1.2 1 2.4 0" fill="none" stroke="#d07468" stroke-width="0.5"/></g>
<line x1="106.40" y1="723.90" x2="107.90" y2="722.30" stroke="#3aa7a0" stroke-width="0.5" />
<line x1="107.80" y1="722.40" x2="110.00" y2="720.10" stroke="#d9574f" stroke-width="1.6" />
<line x1="110.00" y1="720.10" x2="114.20" y2="715.70" stroke="#c9c9d2" stroke-width="2.2" />
<line x1="110.20" y1="719.90" x2="114.00" y2="715.90" stroke="#f4f4f8" stroke-width="1.2" />
<line x1="114.20" y1="715.70" x2="116.10" y2="713.70" stroke="#c4c4cc" stroke-width="0.9" />
<g transform="translate(88.40 730.20)">
<path d="M18 3.2 C21.5 3.4 23.6 5.2 22.6 6.8 C21.6 8.2 17 7.4 11 7.4" fill="none" stroke="#dc9b90" stroke-width="0.6"/>
<path d="M6 5 L4.2 5.9 L3.2 5.9 M12 5.6 L10.4 6.6 L14.6 6.6" fill="none" stroke="#e3a79b" stroke-width="0.7"/>
<path d="M0 0.3 C1.2 -0.9 3 -2 4.6 -2.3 C5.6 -2.5 6.4 -2.3 7.2 -2.1 C8.6 -3 11.6 -3.2 14.2 -2 C17.2 -0.6 19.2 1.4 19 3.6 C18.7 5.3 17 5.7 15 5.7 L8.4 5.6 C6.8 5.4 6 4.6 5.4 3.7 C4.6 3.2 3.8 2.7 3.2 2.4 C2 2 0.8 1.4 0 0.3 Z" fill="#474242"/>
<ellipse cx="5.6" cy="-2.3" rx="0.9" ry="1.2" fill="#5a5252" stroke="#d59088" stroke-width="0.3" transform="rotate(20 5.6 -2.3)"/>
</g>
<g transform="translate(123.80 730.20)">
<path d="M18 3.2 C21.5 3.4 23.6 5.2 22.6 6.8 C21.6 8.2 17 7.4 11 7.4" fill="none" stroke="#dc9b90" stroke-width="0.6"/>
<path d="M6 5 L4.2 5.9 L3.2 5.9 M12 5.6 L10.4 6.6 L14.6 6.6" fill="none" stroke="#e3a79b" stroke-width="0.7"/>
<path d="M0 0.3 C1.2 -0.9 3 -2 4.6 -2.3 C5.6 -2.5 6.4 -2.3 7.2 -2.1 C8.6 -3 11.6 -3.2 14.2 -2 C17.2 -0.6 19.2 1.4 19 3.6 C18.7 5.3 17 5.7 15 5.7 L8.4 5.6 C6.8 5.4 6 4.6 5.4 3.7 C4.6 3.2 3.8 2.7 3.2 2.4 C2 2 0.8 1.4 0 0.3 Z" fill="#474242"/>
<ellipse cx="5.6" cy="-2.3" rx="0.9" ry="1.2" fill="#5a5252" stroke="#d59088" stroke-width="0.3" transform="rotate(20 5.6 -2.3)"/>
</g>
<line x1="101.30" y1="741.80" x2="101.30" y2="753.00" stroke="#444" stroke-width="0.7" />
<line x1="101.30" y1="747.60" x2="135.30" y2="747.60" stroke="#555" stroke-width="0.7" />
<rect x="135.30" y="742.80" width="95.40" height="9.60" fill="#e6eefa" stroke="#222" stroke-width="0.7" />
<text x="183.20" y="750.00" font-size="6.2" text-anchor="middle" fill="#000" >AA 200 mg kg<tspan dy="-2.2" font-size="3.8">−1</tspan><tspan dy="2.2"> q48h</tspan></text>
<rect x="154.60" y="720.90" width="56.80" height="8.70" fill="#eef3fb" stroke="#2d6db5" stroke-width="0.7" />
<text x="183.00" y="727.50" font-size="6.2" text-anchor="middle" fill="#000" >Anti-PD-1 mAb</text>
<line x1="155.90" y1="729.60" x2="155.90" y2="740.60" stroke="#2d6db5" stroke-width="0.6" />
<path d="M155.9 742.6 L154.9 739.8 L156.9 739.8 Z" fill="#2d6db5"/>
<line x1="173.50" y1="729.60" x2="173.50" y2="740.60" stroke="#2d6db5" stroke-width="0.6" />
<path d="M173.5 742.6 L172.5 739.8 L174.5 739.8 Z" fill="#2d6db5"/>
<line x1="191.50" y1="729.60" x2="191.50" y2="740.60" stroke="#2d6db5" stroke-width="0.6" />
<path d="M191.5 742.6 L190.5 739.8 L192.5 739.8 Z" fill="#2d6db5"/>
<line x1="209.20" y1="729.60" x2="209.20" y2="740.60" stroke="#2d6db5" stroke-width="0.6" />
<path d="M209.2 742.6 L208.2 739.8 L210.2 739.8 Z" fill="#2d6db5"/>
<line x1="230.70" y1="742.80" x2="230.70" y2="725.00" stroke="#000" stroke-width="0.6" />
<path d="M230.7 723 L229.7 725.8 L231.7 725.8 Z" fill="#111"/>
<text x="230.70" y="710.80" font-size="6.3" text-anchor="middle" fill="#000" >Collection</text>
<text x="230.70" y="718.20" font-size="6.3" text-anchor="middle" fill="#000" >of tumor</text>
<text x="91.00" y="760.70" font-size="6" text-anchor="middle" fill="#000" >Day</text>
<text x="101.30" y="760.70" font-size="6" text-anchor="middle" fill="#000" >0</text>
<text x="135.30" y="760.70" font-size="6" text-anchor="middle" fill="#000" >7</text>
<text x="155.90" y="760.70" font-size="6" text-anchor="middle" fill="#000" >8</text>
<text x="173.50" y="760.70" font-size="6" text-anchor="middle" fill="#000" >11</text>
<text x="191.50" y="760.70" font-size="6" text-anchor="middle" fill="#000" >14</text>
<text x="209.20" y="760.70" font-size="6" text-anchor="middle" fill="#000" >17</text>
<text x="230.70" y="760.70" font-size="6" text-anchor="middle" fill="#000" >19</text>
<text x="10.23" y="780.50" font-size="13.5" text-anchor="start" fill="#000" >o</text>
<defs><linearGradient id="bgo" x1="0" y1="0" x2="1" y2="1"><stop offset="0" stop-color="#0a60d4"/><stop offset="0.5" stop-color="#075bd0"/><stop offset="1" stop-color="#0c64d8"/></linearGradient></defs>
<rect x="77.70" y="781.40" width="193.30" height="109.50" fill="url(#bgo)" stroke="none" stroke-width="1" />
<clipPath id="t11"><path d="M101.1 801.5 Q100.1 804.4 98.2 805.9 Q96.4 807.5 95.0 807.9 Q93.6 808.2 91.9 806.3 Q90.2 804.4 88.5 802.5 Q86.8 800.6 86.3 797.7 Q85.8 794.7 87.6 792.3 Q89.4 789.8 91.9 789.9 Q94.4 790.0 96.9 789.6 Q99.4 789.2 101.1 791.5 Q102.7 793.9 102.5 796.2 Q102.2 798.6 101.1 801.5 Z"/></clipPath>
<path d="M101.1 801.5 Q100.1 804.4 98.2 805.9 Q96.4 807.5 95.0 807.9 Q93.6 808.2 91.9 806.3 Q90.2 804.4 88.5 802.5 Q86.8 800.6 86.3 797.7 Q85.8 794.7 87.6 792.3 Q89.4 789.8 91.9 789.9 Q94.4 790.0 96.9 789.6 Q99.4 789.2 101.1 791.5 Q102.7 793.9 102.5 796.2 Q102.2 798.6 101.1 801.5 Z" fill="#dfbaae"/>
<g clip-path="url(#t11)"><g filter="url(#blt)">
<circle cx="96.1" cy="800.0" r="2.8" fill="#d39a90" opacity="0.61"/>
<circle cx="96.4" cy="803.5" r="3.0" fill="#c88078" opacity="0.77"/>
<circle cx="92.8" cy="795.2" r="1.9" fill="#c88078" opacity="0.77"/>
<circle cx="95.3" cy="805.7" r="4.1" fill="#ecd2c6" opacity="0.69"/>
<circle cx="96.9" cy="803.1" r="4.1" fill="#ecd2c6" opacity="0.67"/>
<circle cx="95.9" cy="797.3" r="2.4" fill="#d8a69c" opacity="0.65"/>
<circle cx="95.1" cy="797.2" r="2.2" fill="#f2e2d6" opacity="0.76"/>
<circle cx="101.7" cy="795.9" r="2.9" fill="#d39a90" opacity="0.67"/>
<circle cx="94.6" cy="798.0" r="2.4" fill="#b85a58" opacity="0.67"/>
<circle cx="95.1" cy="798.2" r="3.2" fill="#f0ddd0" opacity="0.70"/>
</g></g>
<clipPath id="t12"><path d="M131.6 801.0 Q131.0 803.3 128.9 806.0 Q126.8 808.6 124.6 808.7 Q122.4 808.8 120.1 807.4 Q117.8 806.0 117.8 802.8 Q117.8 799.6 117.6 797.1 Q117.4 794.5 119.0 792.9 Q120.7 791.3 122.8 790.6 Q124.9 790.0 126.6 790.4 Q128.2 790.9 129.6 792.6 Q130.9 794.4 131.6 796.5 Q132.3 798.7 131.6 801.0 Z"/></clipPath>
<path d="M131.6 801.0 Q131.0 803.3 128.9 806.0 Q126.8 808.6 124.6 808.7 Q122.4 808.8 120.1 807.4 Q117.8 806.0 117.8 802.8 Q117.8 799.6 117.6 797.1 Q117.4 794.5 119.0 792.9 Q120.7 791.3 122.8 790.6 Q124.9 790.0 126.6 790.4 Q128.2 790.9 129.6 792.6 Q130.9 794.4 131.6 796.5 Q132.3 798.7 131.6 801.0 Z" fill="#dfbaae"/>
<g clip-path="url(#t12)"><g filter="url(#blt)">
<circle cx="124.8" cy="792.1" r="3.8" fill="#c88078" opacity="0.91"/>
<circle cx="125.1" cy="791.8" r="2.9" fill="#ecd2c6" opacity="0.85"/>
<circle cx="125.7" cy="792.1" r="2.7" fill="#f0ddd0" opacity="0.85"/>
<circle cx="123.4" cy="802.3" r="3.7" fill="#ecd2c6" opacity="0.63"/>
<circle cx="119.9" cy="802.1" r="3.7" fill="#b85a58" opacity="0.66"/>
<circle cx="125.2" cy="800.5" r="3.9" fill="#d8a69c" opacity="0.75"/>
<circle cx="124.6" cy="804.4" r="1.8" fill="#f0ddd0" opacity="0.66"/>
<circle cx="127.4" cy="796.8" r="3.5" fill="#c88078" opacity="0.75"/>
<circle cx="120.7" cy="795.3" r="3.6" fill="#ecd2c6" opacity="0.58"/>
<circle cx="118.0" cy="798.1" r="3.5" fill="#d39a90" opacity="0.93"/>
</g></g>
<clipPath id="t13"><path d="M164.1 801.8 Q162.6 803.3 160.9 805.9 Q159.2 808.5 156.7 808.3 Q154.1 808.1 152.5 806.6 Q150.8 805.1 149.4 802.8 Q148.1 800.5 147.9 797.4 Q147.6 794.3 149.3 792.2 Q151.1 790.2 153.6 790.6 Q156.1 791.1 158.8 790.7 Q161.5 790.4 162.4 793.1 Q163.2 795.8 164.4 798.0 Q165.7 800.3 164.1 801.8 Z"/></clipPath>
<path d="M164.1 801.8 Q162.6 803.3 160.9 805.9 Q159.2 808.5 156.7 808.3 Q154.1 808.1 152.5 806.6 Q150.8 805.1 149.4 802.8 Q148.1 800.5 147.9 797.4 Q147.6 794.3 149.3 792.2 Q151.1 790.2 153.6 790.6 Q156.1 791.1 158.8 790.7 Q161.5 790.4 162.4 793.1 Q163.2 795.8 164.4 798.0 Q165.7 800.3 164.1 801.8 Z" fill="#dfbaae"/>
<g clip-path="url(#t13)"><g filter="url(#blt)">
<circle cx="156.6" cy="801.4" r="4.0" fill="#b85a58" opacity="0.75"/>
<circle cx="163.7" cy="797.0" r="4.0" fill="#d39a90" opacity="0.86"/>
<circle cx="159.5" cy="799.2" r="2.2" fill="#d39a90" opacity="0.63"/>
<circle cx="152.2" cy="803.9" r="3.8" fill="#d8a69c" opacity="0.63"/>
<circle cx="159.9" cy="798.1" r="2.6" fill="#d8a69c" opacity="0.67"/>
<circle cx="154.3" cy="802.3" r="2.3" fill="#f2e2d6" opacity="0.69"/>
<circle cx="158.9" cy="799.4" r="2.7" fill="#b85a58" opacity="0.85"/>
<circle cx="154.3" cy="801.9" r="3.1" fill="#d39a90" opacity="0.69"/>
<circle cx="152.4" cy="804.7" r="2.5" fill="#ecd2c6" opacity="0.58"/>
<circle cx="154.2" cy="794.4" r="4.3" fill="#ecd2c6" opacity="0.59"/>
</g></g>
<clipPath id="t14"><path d="M196.6 801.3 Q194.7 803.8 193.0 805.8 Q191.3 807.7 188.8 807.6 Q186.4 807.4 184.3 806.1 Q182.3 804.8 182.4 802.4 Q182.6 800.0 182.9 797.4 Q183.3 794.7 183.6 792.0 Q184.0 789.4 186.5 789.8 Q188.9 790.2 190.9 790.9 Q192.9 791.5 194.6 793.4 Q196.3 795.4 197.4 797.0 Q198.5 798.7 196.6 801.3 Z"/></clipPath>
<path d="M196.6 801.3 Q194.7 803.8 193.0 805.8 Q191.3 807.7 188.8 807.6 Q186.4 807.4 184.3 806.1 Q182.3 804.8 182.4 802.4 Q182.6 800.0 182.9 797.4 Q183.3 794.7 183.6 792.0 Q184.0 789.4 186.5 789.8 Q188.9 790.2 190.9 790.9 Q192.9 791.5 194.6 793.4 Q196.3 795.4 197.4 797.0 Q198.5 798.7 196.6 801.3 Z" fill="#dbb0a4"/>
<g clip-path="url(#t14)"><g filter="url(#blt)">
<circle cx="193.8" cy="801.0" r="3.0" fill="#f0ddd0" opacity="0.60"/>
<circle cx="195.2" cy="794.4" r="3.0" fill="#f2e2d6" opacity="0.74"/>
<circle cx="190.0" cy="797.6" r="4.0" fill="#d8a69c" opacity="0.74"/>
<circle cx="186.5" cy="792.6" r="2.3" fill="#d8a69c" opacity="0.93"/>
<circle cx="190.1" cy="804.9" r="3.1" fill="#c88078" opacity="0.60"/>
<circle cx="188.7" cy="797.1" r="2.1" fill="#b85a58" opacity="0.66"/>
<circle cx="188.1" cy="805.1" r="1.7" fill="#ecd2c6" opacity="0.91"/>
<circle cx="193.5" cy="794.9" r="3.1" fill="#f2e2d6" opacity="0.74"/>
<circle cx="191.7" cy="791.3" r="4.0" fill="#f0ddd0" opacity="0.92"/>
<circle cx="194.9" cy="797.9" r="2.0" fill="#d8a69c" opacity="0.57"/>
</g></g>
<clipPath id="t15"><path d="M229.4 801.3 Q228.6 803.3 226.9 804.7 Q225.3 806.1 222.9 805.8 Q220.4 805.5 218.6 804.1 Q216.7 802.6 215.2 801.8 Q213.6 800.9 213.8 797.2 Q214.0 793.6 216.5 792.8 Q219.1 792.1 220.5 791.4 Q222.0 790.7 224.2 791.3 Q226.4 791.9 228.4 793.3 Q230.3 794.6 230.3 796.9 Q230.2 799.2 229.4 801.3 Z"/></clipPath>
<path d="M229.4 801.3 Q228.6 803.3 226.9 804.7 Q225.3 806.1 222.9 805.8 Q220.4 805.5 218.6 804.1 Q216.7 802.6 215.2 801.8 Q213.6 800.9 213.8 797.2 Q214.0 793.6 216.5 792.8 Q219.1 792.1 220.5 791.4 Q222.0 790.7 224.2 791.3 Q226.4 791.9 228.4 793.3 Q230.3 794.6 230.3 796.9 Q230.2 799.2 229.4 801.3 Z" fill="#e4c4b6"/>
<g clip-path="url(#t15)"><g filter="url(#blt)">
<circle cx="219.8" cy="804.3" r="2.3" fill="#f2e2d6" opacity="0.71"/>
<circle cx="225.0" cy="793.7" r="4.1" fill="#f2e2d6" opacity="0.78"/>
<circle cx="218.9" cy="799.8" r="1.8" fill="#ecd2c6" opacity="0.73"/>
<circle cx="219.8" cy="804.3" r="4.0" fill="#f0ddd0" opacity="0.89"/>
<circle cx="224.0" cy="791.9" r="3.9" fill="#d39a90" opacity="0.73"/>
<circle cx="223.3" cy="792.3" r="2.6" fill="#b85a58" opacity="0.87"/>
<circle cx="220.1" cy="801.5" r="1.7" fill="#d8a69c" opacity="0.80"/>
<circle cx="221.0" cy="805.1" r="4.1" fill="#f2e2d6" opacity="0.76"/>
<circle cx="217.4" cy="795.7" r="3.5" fill="#b85a58" opacity="0.80"/>
<circle cx="217.0" cy="800.1" r="3.5" fill="#d8a69c" opacity="0.77"/>
</g></g>
<clipPath id="t16"><path d="M260.6 802.0 Q259.5 804.4 257.5 805.4 Q255.6 806.4 253.7 806.7 Q251.7 807.0 250.5 806.4 Q249.3 805.9 247.9 803.4 Q246.5 800.9 247.7 797.9 Q248.9 794.9 250.2 792.9 Q251.4 791.0 253.1 791.1 Q254.8 791.2 256.3 790.6 Q257.7 790.1 258.8 792.3 Q259.9 794.4 260.8 797.0 Q261.6 799.6 260.6 802.0 Z"/></clipPath>
<path d="M260.6 802.0 Q259.5 804.4 257.5 805.4 Q255.6 806.4 253.7 806.7 Q251.7 807.0 250.5 806.4 Q249.3 805.9 247.9 803.4 Q246.5 800.9 247.7 797.9 Q248.9 794.9 250.2 792.9 Q251.4 791.0 253.1 791.1 Q254.8 791.2 256.3 790.6 Q257.7 790.1 258.8 792.3 Q259.9 794.4 260.8 797.0 Q261.6 799.6 260.6 802.0 Z" fill="#e8ccc0"/>
<g clip-path="url(#t16)"><g filter="url(#blt)">
<circle cx="257.6" cy="801.9" r="1.7" fill="#f2e2d6" opacity="0.56"/>
<circle cx="259.8" cy="798.3" r="3.4" fill="#d39a90" opacity="0.77"/>
<circle cx="252.0" cy="802.1" r="1.9" fill="#d8a69c" opacity="0.94"/>
<circle cx="252.6" cy="791.9" r="3.3" fill="#f2e2d6" opacity="0.63"/>
<circle cx="253.6" cy="796.6" r="2.7" fill="#ecd2c6" opacity="0.70"/>
<circle cx="250.3" cy="801.1" r="3.0" fill="#c88078" opacity="0.76"/>
<circle cx="256.5" cy="800.9" r="2.4" fill="#d39a90" opacity="0.84"/>
<circle cx="254.2" cy="801.3" r="2.9" fill="#ecd2c6" opacity="0.89"/>
<circle cx="253.6" cy="793.1" r="2.2" fill="#b85a58" opacity="0.58"/>
<circle cx="257.3" cy="800.8" r="2.0" fill="#b85a58" opacity="0.71"/>
</g></g>
<clipPath id="t17"><path d="M103.8 827.3 Q103.3 831.0 100.3 832.9 Q97.3 834.8 95.2 833.4 Q93.0 832.1 89.9 831.2 Q86.7 830.3 85.3 828.2 Q83.9 826.0 84.2 822.9 Q84.5 819.9 87.1 817.9 Q89.8 815.9 92.1 814.5 Q94.4 813.1 97.1 814.5 Q99.9 815.9 101.9 818.2 Q103.9 820.5 104.1 822.0 Q104.3 823.5 103.8 827.3 Z"/></clipPath>
<path d="M103.8 827.3 Q103.3 831.0 100.3 832.9 Q97.3 834.8 95.2 833.4 Q93.0 832.1 89.9 831.2 Q86.7 830.3 85.3 828.2 Q83.9 826.0 84.2 822.9 Q84.5 819.9 87.1 817.9 Q89.8 815.9 92.1 814.5 Q94.4 813.1 97.1 814.5 Q99.9 815.9 101.9 818.2 Q103.9 820.5 104.1 822.0 Q104.3 823.5 103.8 827.3 Z" fill="#dbb0a4"/>
<g clip-path="url(#t17)"><g filter="url(#blt)">
<circle cx="94.1" cy="825.1" r="3.9" fill="#d8a69c" opacity="0.82"/>
<circle cx="92.0" cy="823.4" r="3.2" fill="#c88078" opacity="0.76"/>
<circle cx="95.1" cy="815.8" r="2.0" fill="#ecd2c6" opacity="0.58"/>
<circle cx="99.0" cy="829.2" r="3.8" fill="#d8a69c" opacity="0.85"/>
<circle cx="97.8" cy="817.4" r="4.8" fill="#d39a90" opacity="0.60"/>
<circle cx="96.6" cy="824.1" r="4.5" fill="#f0ddd0" opacity="0.80"/>
<circle cx="87.8" cy="828.1" r="3.4" fill="#ecd2c6" opacity="0.94"/>
<circle cx="96.0" cy="823.4" r="3.7" fill="#c88078" opacity="0.55"/>
<circle cx="87.3" cy="825.0" r="2.8" fill="#f2e2d6" opacity="0.89"/>
<circle cx="95.3" cy="820.0" r="3.6" fill="#f2e2d6" opacity="0.55"/>
</g></g>
<clipPath id="t18"><path d="M132.1 827.4 Q130.2 829.9 129.2 831.7 Q128.2 833.5 125.4 833.8 Q122.6 834.1 120.7 831.3 Q118.9 828.5 118.1 826.9 Q117.2 825.2 116.2 822.2 Q115.2 819.3 117.4 817.6 Q119.5 815.9 121.8 815.4 Q124.0 814.8 125.9 815.4 Q127.8 816.1 130.6 817.8 Q133.4 819.5 133.7 822.2 Q133.9 824.9 132.1 827.4 Z"/></clipPath>
<path d="M132.1 827.4 Q130.2 829.9 129.2 831.7 Q128.2 833.5 125.4 833.8 Q122.6 834.1 120.7 831.3 Q118.9 828.5 118.1 826.9 Q117.2 825.2 116.2 822.2 Q115.2 819.3 117.4 817.6 Q119.5 815.9 121.8 815.4 Q124.0 814.8 125.9 815.4 Q127.8 816.1 130.6 817.8 Q133.4 819.5 133.7 822.2 Q133.9 824.9 132.1 827.4 Z" fill="#dfbaae"/>
<g clip-path="url(#t18)"><g filter="url(#blt)">
<circle cx="121.2" cy="829.6" r="2.3" fill="#d8a69c" opacity="0.81"/>
<circle cx="127.0" cy="826.2" r="3.2" fill="#f0ddd0" opacity="0.70"/>
<circle cx="120.8" cy="828.9" r="3.7" fill="#b85a58" opacity="0.70"/>
<circle cx="122.5" cy="816.8" r="2.2" fill="#d8a69c" opacity="0.65"/>
<circle cx="124.8" cy="819.8" r="3.2" fill="#ecd2c6" opacity="0.68"/>
<circle cx="122.3" cy="823.0" r="4.1" fill="#d8a69c" opacity="0.56"/>
<circle cx="123.6" cy="829.9" r="1.9" fill="#f0ddd0" opacity="0.68"/>
<circle cx="123.4" cy="823.3" r="4.2" fill="#d8a69c" opacity="0.81"/>
<circle cx="122.8" cy="818.1" r="3.3" fill="#f2e2d6" opacity="0.94"/>
<circle cx="123.9" cy="827.8" r="2.2" fill="#b85a58" opacity="0.67"/>
</g></g>
<clipPath id="t19"><path d="M166.9 826.7 Q166.0 829.2 163.1 830.8 Q160.3 832.4 156.9 831.9 Q153.5 831.4 150.4 831.0 Q147.4 830.5 147.3 827.5 Q147.2 824.6 146.2 822.3 Q145.2 819.9 147.5 817.4 Q149.7 815.0 153.1 815.2 Q156.6 815.5 159.0 815.6 Q161.4 815.8 163.1 818.0 Q164.8 820.1 166.3 822.2 Q167.8 824.2 166.9 826.7 Z"/></clipPath>
<path d="M166.9 826.7 Q166.0 829.2 163.1 830.8 Q160.3 832.4 156.9 831.9 Q153.5 831.4 150.4 831.0 Q147.4 830.5 147.3 827.5 Q147.2 824.6 146.2 822.3 Q145.2 819.9 147.5 817.4 Q149.7 815.0 153.1 815.2 Q156.6 815.5 159.0 815.6 Q161.4 815.8 163.1 818.0 Q164.8 820.1 166.3 822.2 Q167.8 824.2 166.9 826.7 Z" fill="#dfbaae"/>
<g clip-path="url(#t19)"><g filter="url(#blt)">
<circle cx="150.9" cy="822.3" r="1.9" fill="#d39a90" opacity="0.78"/>
<circle cx="154.4" cy="825.6" r="3.8" fill="#ecd2c6" opacity="0.81"/>
<circle cx="155.7" cy="821.4" r="2.3" fill="#d8a69c" opacity="0.94"/>
<circle cx="157.3" cy="823.6" r="3.4" fill="#f0ddd0" opacity="0.93"/>
<circle cx="157.1" cy="822.9" r="2.5" fill="#d8a69c" opacity="0.74"/>
<circle cx="153.2" cy="827.8" r="2.4" fill="#f2e2d6" opacity="0.77"/>
<circle cx="153.7" cy="819.9" r="2.8" fill="#c88078" opacity="0.58"/>
<circle cx="162.4" cy="826.9" r="3.8" fill="#d39a90" opacity="0.61"/>
<circle cx="152.4" cy="822.9" r="2.5" fill="#d39a90" opacity="0.85"/>
<circle cx="153.0" cy="824.8" r="2.2" fill="#c88078" opacity="0.84"/>
</g></g>
<clipPath id="t20"><path d="M195.3 827.1 Q194.6 829.7 192.9 830.5 Q191.2 831.4 189.2 832.3 Q187.2 833.3 185.1 830.9 Q183.0 828.6 182.8 826.9 Q182.6 825.3 182.4 822.7 Q182.2 820.1 183.4 818.7 Q184.7 817.4 187.0 815.5 Q189.3 813.6 191.8 814.3 Q194.4 815.0 195.0 817.4 Q195.5 819.7 195.8 822.1 Q196.0 824.6 195.3 827.1 Z"/></clipPath>
<path d="M195.3 827.1 Q194.6 829.7 192.9 830.5 Q191.2 831.4 189.2 832.3 Q187.2 833.3 185.1 830.9 Q183.0 828.6 182.8 826.9 Q182.6 825.3 182.4 822.7 Q182.2 820.1 183.4 818.7 Q184.7 817.4 187.0 815.5 Q189.3 813.6 191.8 814.3 Q194.4 815.0 195.0 817.4 Q195.5 819.7 195.8 822.1 Q196.0 824.6 195.3 827.1 Z" fill="#e8ccc0"/>
<g clip-path="url(#t20)"><g filter="url(#blt)">
<circle cx="187.8" cy="818.0" r="3.0" fill="#ecd2c6" opacity="0.67"/>
<circle cx="191.8" cy="818.0" r="2.6" fill="#d8a69c" opacity="0.83"/>
<circle cx="184.1" cy="820.6" r="2.7" fill="#c88078" opacity="0.59"/>
<circle cx="192.9" cy="821.0" r="3.8" fill="#d8a69c" opacity="0.69"/>
<circle cx="190.5" cy="828.8" r="2.1" fill="#d39a90" opacity="0.88"/>
<circle cx="191.8" cy="819.8" r="2.6" fill="#f0ddd0" opacity="0.92"/>
<circle cx="189.8" cy="823.1" r="2.6" fill="#f2e2d6" opacity="0.71"/>
<circle cx="185.6" cy="829.3" r="2.8" fill="#b85a58" opacity="0.95"/>
<circle cx="187.2" cy="821.1" r="2.2" fill="#ecd2c6" opacity="0.62"/>
<circle cx="188.6" cy="826.9" r="1.7" fill="#b85a58" opacity="0.84"/>
</g></g>
<clipPath id="t21"><path d="M230.0 826.8 Q228.5 829.2 226.9 829.7 Q225.3 830.1 223.3 830.3 Q221.4 830.5 219.3 830.2 Q217.2 830.0 215.4 827.6 Q213.7 825.1 215.0 823.2 Q216.3 821.2 217.1 819.1 Q217.8 817.0 219.8 815.4 Q221.8 813.9 225.0 814.3 Q228.1 814.7 229.7 816.6 Q231.2 818.6 231.4 821.5 Q231.5 824.4 230.0 826.8 Z"/></clipPath>
<path d="M230.0 826.8 Q228.5 829.2 226.9 829.7 Q225.3 830.1 223.3 830.3 Q221.4 830.5 219.3 830.2 Q217.2 830.0 215.4 827.6 Q213.7 825.1 215.0 823.2 Q216.3 821.2 217.1 819.1 Q217.8 817.0 219.8 815.4 Q221.8 813.9 225.0 814.3 Q228.1 814.7 229.7 816.6 Q231.2 818.6 231.4 821.5 Q231.5 824.4 230.0 826.8 Z" fill="#dbb0a4"/>
<g clip-path="url(#t21)"><g filter="url(#blt)">
<circle cx="219.9" cy="829.1" r="1.7" fill="#f2e2d6" opacity="0.57"/>
<circle cx="217.5" cy="823.0" r="2.2" fill="#ecd2c6" opacity="0.64"/>
<circle cx="223.7" cy="820.8" r="2.2" fill="#d39a90" opacity="0.94"/>
<circle cx="221.8" cy="821.5" r="2.4" fill="#f2e2d6" opacity="0.80"/>
<circle cx="229.4" cy="821.0" r="3.5" fill="#d39a90" opacity="0.88"/>
<circle cx="221.4" cy="818.7" r="2.6" fill="#f0ddd0" opacity="0.61"/>
<circle cx="225.5" cy="827.6" r="3.1" fill="#f2e2d6" opacity="0.74"/>
<circle cx="225.2" cy="824.4" r="1.8" fill="#c88078" opacity="0.87"/>
<circle cx="226.8" cy="829.7" r="2.6" fill="#d8a69c" opacity="0.77"/>
<circle cx="217.9" cy="826.4" r="3.8" fill="#f2e2d6" opacity="0.86"/>
</g></g>
<clipPath id="t22"><path d="M261.6 826.9 Q261.2 829.0 258.8 830.7 Q256.3 832.4 254.1 831.8 Q252.0 831.2 250.1 830.2 Q248.2 829.2 247.5 827.5 Q246.8 825.9 246.9 822.6 Q247.0 819.4 248.8 817.4 Q250.6 815.4 252.5 814.3 Q254.4 813.3 255.8 815.0 Q257.1 816.7 259.2 818.3 Q261.3 819.8 261.7 822.3 Q262.1 824.8 261.6 826.9 Z"/></clipPath>
<path d="M261.6 826.9 Q261.2 829.0 258.8 830.7 Q256.3 832.4 254.1 831.8 Q252.0 831.2 250.1 830.2 Q248.2 829.2 247.5 827.5 Q246.8 825.9 246.9 822.6 Q247.0 819.4 248.8 817.4 Q250.6 815.4 252.5 814.3 Q254.4 813.3 255.8 815.0 Q257.1 816.7 259.2 818.3 Q261.3 819.8 261.7 822.3 Q262.1 824.8 261.6 826.9 Z" fill="#dfbaae"/>
<g clip-path="url(#t22)"><g filter="url(#blt)">
<circle cx="259.2" cy="822.1" r="1.9" fill="#ecd2c6" opacity="0.73"/>
<circle cx="249.7" cy="819.1" r="2.9" fill="#d39a90" opacity="0.80"/>
<circle cx="253.4" cy="823.3" r="2.1" fill="#b85a58" opacity="0.58"/>
<circle cx="251.8" cy="826.3" r="3.1" fill="#d8a69c" opacity="0.61"/>
<circle cx="258.2" cy="823.6" r="3.2" fill="#f0ddd0" opacity="0.78"/>
<circle cx="252.0" cy="825.2" r="3.5" fill="#ecd2c6" opacity="0.66"/>
<circle cx="251.4" cy="822.7" r="2.0" fill="#d39a90" opacity="0.61"/>
<circle cx="254.1" cy="819.2" r="3.5" fill="#d8a69c" opacity="0.90"/>
<circle cx="256.4" cy="824.7" r="3.4" fill="#ecd2c6" opacity="0.76"/>
<circle cx="254.5" cy="824.6" r="3.5" fill="#c88078" opacity="0.68"/>
</g></g>
<clipPath id="t23"><path d="M101.2 851.6 Q99.2 853.4 97.9 854.5 Q96.6 855.6 95.1 856.7 Q93.6 857.9 91.2 855.7 Q88.9 853.5 88.8 851.6 Q88.7 849.7 88.6 848.1 Q88.5 846.5 89.1 844.2 Q89.7 841.9 91.9 841.3 Q94.1 840.8 95.8 841.6 Q97.5 842.3 99.3 843.6 Q101.2 845.0 102.2 847.4 Q103.3 849.8 101.2 851.6 Z"/></clipPath>
<path d="M101.2 851.6 Q99.2 853.4 97.9 854.5 Q96.6 855.6 95.1 856.7 Q93.6 857.9 91.2 855.7 Q88.9 853.5 88.8 851.6 Q88.7 849.7 88.6 848.1 Q88.5 846.5 89.1 844.2 Q89.7 841.9 91.9 841.3 Q94.1 840.8 95.8 841.6 Q97.5 842.3 99.3 843.6 Q101.2 845.0 102.2 847.4 Q103.3 849.8 101.2 851.6 Z" fill="#dbb0a4"/>
<g clip-path="url(#t23)"><g filter="url(#blt)">
<circle cx="93.7" cy="853.3" r="2.6" fill="#ecd2c6" opacity="0.65"/>
<circle cx="99.4" cy="850.4" r="1.8" fill="#f2e2d6" opacity="0.86"/>
<circle cx="90.1" cy="846.3" r="2.9" fill="#ecd2c6" opacity="0.81"/>
<circle cx="95.5" cy="849.1" r="3.5" fill="#f0ddd0" opacity="0.86"/>
<circle cx="95.0" cy="853.9" r="2.6" fill="#d39a90" opacity="0.63"/>
<circle cx="94.3" cy="851.6" r="2.7" fill="#d39a90" opacity="0.77"/>
<circle cx="94.7" cy="851.7" r="1.4" fill="#d39a90" opacity="0.86"/>
<circle cx="96.4" cy="854.7" r="1.9" fill="#ecd2c6" opacity="0.62"/>
<circle cx="97.6" cy="848.8" r="2.6" fill="#b85a58" opacity="0.84"/>
<circle cx="91.7" cy="851.9" r="2.9" fill="#b85a58" opacity="0.57"/>
</g></g>
<clipPath id="t24"><path d="M130.0 851.0 Q129.7 852.9 128.1 854.3 Q126.4 855.7 124.8 856.0 Q123.3 856.4 122.0 855.2 Q120.7 854.0 119.7 852.0 Q118.6 849.9 118.6 847.3 Q118.5 844.8 120.0 843.4 Q121.4 842.0 122.8 841.1 Q124.2 840.3 126.1 841.6 Q128.0 842.9 129.0 844.0 Q130.0 845.0 130.1 847.0 Q130.2 849.1 130.0 851.0 Z"/></clipPath>
<path d="M130.0 851.0 Q129.7 852.9 128.1 854.3 Q126.4 855.7 124.8 856.0 Q123.3 856.4 122.0 855.2 Q120.7 854.0 119.7 852.0 Q118.6 849.9 118.6 847.3 Q118.5 844.8 120.0 843.4 Q121.4 842.0 122.8 841.1 Q124.2 840.3 126.1 841.6 Q128.0 842.9 129.0 844.0 Q130.0 845.0 130.1 847.0 Q130.2 849.1 130.0 851.0 Z" fill="#e4c4b6"/>
<g clip-path="url(#t24)"><g filter="url(#blt)">
<circle cx="123.3" cy="851.6" r="2.8" fill="#f0ddd0" opacity="0.93"/>
<circle cx="122.8" cy="846.4" r="1.3" fill="#f0ddd0" opacity="0.83"/>
<circle cx="122.4" cy="842.9" r="1.7" fill="#f0ddd0" opacity="0.95"/>
<circle cx="125.4" cy="847.6" r="1.5" fill="#f2e2d6" opacity="0.60"/>
<circle cx="126.0" cy="844.3" r="1.6" fill="#d8a69c" opacity="0.91"/>
<circle cx="125.9" cy="847.5" r="3.1" fill="#f0ddd0" opacity="0.77"/>
<circle cx="124.8" cy="851.8" r="2.6" fill="#f2e2d6" opacity="0.89"/>
<circle cx="125.9" cy="849.1" r="1.6" fill="#ecd2c6" opacity="0.58"/>
<circle cx="123.3" cy="845.0" r="2.4" fill="#f2e2d6" opacity="0.66"/>
<circle cx="124.3" cy="848.7" r="1.9" fill="#d39a90" opacity="0.85"/>
</g></g>
<clipPath id="t25"><path d="M161.7 851.8 Q161.3 853.8 159.8 854.7 Q158.2 855.7 157.0 855.8 Q155.8 855.9 153.5 855.2 Q151.1 854.4 151.2 852.0 Q151.3 849.7 151.0 847.4 Q150.7 845.1 152.4 844.0 Q154.2 843.0 155.8 841.3 Q157.3 839.7 158.8 840.4 Q160.2 841.0 160.6 843.1 Q160.9 845.1 161.5 847.4 Q162.0 849.8 161.7 851.8 Z"/></clipPath>
<path d="M161.7 851.8 Q161.3 853.8 159.8 854.7 Q158.2 855.7 157.0 855.8 Q155.8 855.9 153.5 855.2 Q151.1 854.4 151.2 852.0 Q151.3 849.7 151.0 847.4 Q150.7 845.1 152.4 844.0 Q154.2 843.0 155.8 841.3 Q157.3 839.7 158.8 840.4 Q160.2 841.0 160.6 843.1 Q160.9 845.1 161.5 847.4 Q162.0 849.8 161.7 851.8 Z" fill="#dfbaae"/>
<g clip-path="url(#t25)"><g filter="url(#blt)">
<circle cx="155.4" cy="845.8" r="2.3" fill="#d8a69c" opacity="0.92"/>
<circle cx="156.2" cy="849.4" r="1.9" fill="#b85a58" opacity="0.56"/>
<circle cx="159.4" cy="850.8" r="2.4" fill="#d39a90" opacity="0.80"/>
<circle cx="161.0" cy="849.7" r="2.8" fill="#ecd2c6" opacity="0.80"/>
<circle cx="154.3" cy="846.5" r="1.4" fill="#f2e2d6" opacity="0.83"/>
<circle cx="156.4" cy="850.7" r="2.8" fill="#f2e2d6" opacity="0.73"/>
<circle cx="159.0" cy="846.3" r="2.9" fill="#d8a69c" opacity="0.78"/>
<circle cx="155.4" cy="843.9" r="2.7" fill="#f2e2d6" opacity="0.77"/>
<circle cx="152.5" cy="846.3" r="2.2" fill="#c88078" opacity="0.63"/>
<circle cx="159.2" cy="850.9" r="1.7" fill="#d8a69c" opacity="0.92"/>
</g></g>
<clipPath id="t26"><path d="M194.7 851.0 Q193.6 853.1 192.3 854.1 Q191.1 855.1 189.5 856.3 Q187.9 857.5 186.3 855.8 Q184.7 854.1 184.4 851.7 Q184.2 849.4 183.8 847.7 Q183.3 845.9 185.0 843.8 Q186.6 841.7 187.7 841.2 Q188.7 840.7 190.5 841.4 Q192.3 842.1 193.4 843.4 Q194.6 844.8 195.2 846.9 Q195.8 848.9 194.7 851.0 Z"/></clipPath>
<path d="M194.7 851.0 Q193.6 853.1 192.3 854.1 Q191.1 855.1 189.5 856.3 Q187.9 857.5 186.3 855.8 Q184.7 854.1 184.4 851.7 Q184.2 849.4 183.8 847.7 Q183.3 845.9 185.0 843.8 Q186.6 841.7 187.7 841.2 Q188.7 840.7 190.5 841.4 Q192.3 842.1 193.4 843.4 Q194.6 844.8 195.2 846.9 Q195.8 848.9 194.7 851.0 Z" fill="#e8ccc0"/>
<g clip-path="url(#t26)"><g filter="url(#blt)">
<circle cx="190.5" cy="844.8" r="1.5" fill="#f0ddd0" opacity="0.76"/>
<circle cx="189.7" cy="851.3" r="1.1" fill="#c88078" opacity="0.64"/>
<circle cx="189.4" cy="846.0" r="1.3" fill="#b85a58" opacity="0.78"/>
<circle cx="193.1" cy="849.3" r="2.0" fill="#f0ddd0" opacity="0.78"/>
<circle cx="186.3" cy="848.6" r="1.3" fill="#ecd2c6" opacity="0.86"/>
<circle cx="185.3" cy="844.6" r="2.4" fill="#d39a90" opacity="0.75"/>
<circle cx="194.1" cy="848.1" r="1.6" fill="#d39a90" opacity="0.67"/>
<circle cx="188.2" cy="854.4" r="2.5" fill="#d8a69c" opacity="0.88"/>
<circle cx="193.4" cy="850.5" r="1.1" fill="#f0ddd0" opacity="0.94"/>
<circle cx="190.0" cy="849.5" r="1.9" fill="#ecd2c6" opacity="0.57"/>
</g></g>
<clipPath id="t27"><path d="M228.8 851.9 Q227.7 853.5 226.4 854.6 Q225.1 855.6 223.1 856.2 Q221.2 856.7 219.1 855.4 Q217.1 854.0 216.1 852.1 Q215.2 850.1 216.4 848.4 Q217.7 846.6 218.2 844.2 Q218.7 841.7 220.8 841.5 Q222.9 841.3 224.4 842.3 Q225.9 843.3 227.5 844.3 Q229.1 845.3 229.4 847.8 Q229.8 850.4 228.8 851.9 Z"/></clipPath>
<path d="M228.8 851.9 Q227.7 853.5 226.4 854.6 Q225.1 855.6 223.1 856.2 Q221.2 856.7 219.1 855.4 Q217.1 854.0 216.1 852.1 Q215.2 850.1 216.4 848.4 Q217.7 846.6 218.2 844.2 Q218.7 841.7 220.8 841.5 Q222.9 841.3 224.4 842.3 Q225.9 843.3 227.5 844.3 Q229.1 845.3 229.4 847.8 Q229.8 850.4 228.8 851.9 Z" fill="#e8ccc0"/>
<g clip-path="url(#t27)"><g filter="url(#blt)">
<circle cx="224.1" cy="848.4" r="1.9" fill="#f0ddd0" opacity="0.62"/>
<circle cx="222.2" cy="851.3" r="2.1" fill="#d8a69c" opacity="0.80"/>
<circle cx="224.4" cy="847.4" r="2.2" fill="#f2e2d6" opacity="0.93"/>
<circle cx="217.9" cy="848.6" r="1.6" fill="#c88078" opacity="0.80"/>
<circle cx="221.7" cy="848.5" r="1.7" fill="#ecd2c6" opacity="0.85"/>
<circle cx="217.9" cy="847.0" r="1.6" fill="#ecd2c6" opacity="0.65"/>
<circle cx="222.2" cy="848.9" r="2.6" fill="#d8a69c" opacity="0.66"/>
<circle cx="223.5" cy="853.4" r="2.5" fill="#b85a58" opacity="0.66"/>
<circle cx="222.0" cy="852.3" r="2.2" fill="#ecd2c6" opacity="0.79"/>
<circle cx="220.1" cy="853.9" r="3.3" fill="#d8a69c" opacity="0.73"/>
</g></g>
<clipPath id="t28"><path d="M259.7 851.6 Q259.2 852.7 257.8 853.9 Q256.4 855.1 254.5 855.9 Q252.6 856.7 250.9 855.4 Q249.2 854.0 248.7 851.7 Q248.3 849.5 247.7 847.9 Q247.1 846.3 249.0 845.1 Q250.9 843.9 252.6 842.1 Q254.3 840.4 256.0 842.1 Q257.7 843.9 258.7 844.7 Q259.7 845.5 260.0 847.9 Q260.2 850.4 259.7 851.6 Z"/></clipPath>
<path d="M259.7 851.6 Q259.2 852.7 257.8 853.9 Q256.4 855.1 254.5 855.9 Q252.6 856.7 250.9 855.4 Q249.2 854.0 248.7 851.7 Q248.3 849.5 247.7 847.9 Q247.1 846.3 249.0 845.1 Q250.9 843.9 252.6 842.1 Q254.3 840.4 256.0 842.1 Q257.7 843.9 258.7 844.7 Q259.7 845.5 260.0 847.9 Q260.2 850.4 259.7 851.6 Z" fill="#dfbaae"/>
<g clip-path="url(#t28)"><g filter="url(#blt)">
<circle cx="255.4" cy="847.5" r="3.1" fill="#b85a58" opacity="0.71"/>
<circle cx="254.9" cy="847.1" r="2.7" fill="#f0ddd0" opacity="0.71"/>
<circle cx="250.3" cy="846.5" r="3.3" fill="#b85a58" opacity="0.81"/>
<circle cx="255.0" cy="845.8" r="1.5" fill="#b85a58" opacity="0.56"/>
<circle cx="252.9" cy="852.3" r="2.8" fill="#b85a58" opacity="0.82"/>
<circle cx="257.6" cy="845.7" r="2.7" fill="#f2e2d6" opacity="0.66"/>
<circle cx="256.1" cy="853.7" r="3.0" fill="#f2e2d6" opacity="0.67"/>
<circle cx="257.8" cy="846.2" r="1.8" fill="#c88078" opacity="0.74"/>
<circle cx="255.7" cy="845.1" r="2.8" fill="#d39a90" opacity="0.64"/>
<circle cx="253.8" cy="842.7" r="3.3" fill="#d39a90" opacity="0.94"/>
</g></g>
<clipPath id="t29"><path d="M98.9 877.6 Q98.3 880.0 97.7 881.6 Q97.1 883.2 95.5 883.2 Q93.9 883.2 92.6 881.3 Q91.4 879.5 90.7 877.8 Q90.0 876.0 89.6 873.4 Q89.3 870.7 90.7 869.8 Q92.1 868.8 93.2 867.8 Q94.4 866.7 95.9 866.8 Q97.4 866.9 98.4 868.7 Q99.4 870.6 99.4 872.8 Q99.4 875.1 98.9 877.6 Z"/></clipPath>
<path d="M98.9 877.6 Q98.3 880.0 97.7 881.6 Q97.1 883.2 95.5 883.2 Q93.9 883.2 92.6 881.3 Q91.4 879.5 90.7 877.8 Q90.0 876.0 89.6 873.4 Q89.3 870.7 90.7 869.8 Q92.1 868.8 93.2 867.8 Q94.4 866.7 95.9 866.8 Q97.4 866.9 98.4 868.7 Q99.4 870.6 99.4 872.8 Q99.4 875.1 98.9 877.6 Z" fill="#dfbaae"/>
<g clip-path="url(#t29)"><g filter="url(#blt)">
<circle cx="92.4" cy="872.5" r="1.5" fill="#f0ddd0" opacity="0.60"/>
<circle cx="96.1" cy="871.1" r="2.4" fill="#f0ddd0" opacity="0.93"/>
<circle cx="94.4" cy="880.0" r="1.3" fill="#f2e2d6" opacity="0.63"/>
<circle cx="97.4" cy="871.4" r="1.7" fill="#f2e2d6" opacity="0.57"/>
<circle cx="95.0" cy="875.2" r="1.2" fill="#c88078" opacity="0.60"/>
<circle cx="95.5" cy="872.5" r="1.3" fill="#b85a58" opacity="0.62"/>
<circle cx="94.9" cy="873.5" r="1.4" fill="#f0ddd0" opacity="0.70"/>
<circle cx="93.5" cy="879.7" r="2.2" fill="#c88078" opacity="0.62"/>
<circle cx="97.0" cy="871.9" r="1.3" fill="#b85a58" opacity="0.67"/>
<circle cx="94.7" cy="874.6" r="1.2" fill="#b85a58" opacity="0.63"/>
</g></g>
<clipPath id="t30"><path d="M129.5 877.2 Q129.4 878.8 128.0 879.6 Q126.6 880.5 124.9 881.6 Q123.3 882.7 122.6 880.8 Q121.8 878.9 120.8 877.1 Q119.8 875.2 120.1 874.0 Q120.4 872.7 121.0 871.2 Q121.5 869.6 123.4 868.2 Q125.2 866.8 126.3 868.4 Q127.4 870.0 128.0 871.1 Q128.7 872.1 129.1 873.9 Q129.5 875.7 129.5 877.2 Z"/></clipPath>
<path d="M129.5 877.2 Q129.4 878.8 128.0 879.6 Q126.6 880.5 124.9 881.6 Q123.3 882.7 122.6 880.8 Q121.8 878.9 120.8 877.1 Q119.8 875.2 120.1 874.0 Q120.4 872.7 121.0 871.2 Q121.5 869.6 123.4 868.2 Q125.2 866.8 126.3 868.4 Q127.4 870.0 128.0 871.1 Q128.7 872.1 129.1 873.9 Q129.5 875.7 129.5 877.2 Z" fill="#e8ccc0"/>
<g clip-path="url(#t30)"><g filter="url(#blt)">
<circle cx="123.1" cy="878.9" r="2.4" fill="#d8a69c" opacity="0.70"/>
<circle cx="125.3" cy="874.7" r="2.2" fill="#c88078" opacity="0.76"/>
<circle cx="122.1" cy="870.3" r="1.0" fill="#c88078" opacity="0.92"/>
<circle cx="124.3" cy="874.9" r="1.1" fill="#f2e2d6" opacity="0.73"/>
<circle cx="122.2" cy="871.5" r="2.0" fill="#d8a69c" opacity="0.91"/>
<circle cx="123.4" cy="877.3" r="2.6" fill="#f2e2d6" opacity="0.87"/>
<circle cx="124.7" cy="874.2" r="1.3" fill="#f2e2d6" opacity="0.89"/>
<circle cx="126.8" cy="871.8" r="1.4" fill="#c88078" opacity="0.75"/>
<circle cx="126.2" cy="879.1" r="1.4" fill="#c88078" opacity="0.92"/>
<circle cx="123.5" cy="870.7" r="2.4" fill="#b85a58" opacity="0.93"/>
</g></g>
<clipPath id="t31"><path d="M160.5 877.3 Q160.2 878.7 159.2 880.2 Q158.2 881.7 156.7 881.4 Q155.2 881.0 154.0 880.0 Q152.9 878.9 152.6 877.4 Q152.4 875.9 152.2 873.5 Q151.9 871.2 152.6 869.7 Q153.4 868.2 155.0 867.9 Q156.6 867.6 157.6 868.3 Q158.6 869.1 160.3 870.2 Q162.0 871.3 161.4 873.6 Q160.9 875.9 160.5 877.3 Z"/></clipPath>
<path d="M160.5 877.3 Q160.2 878.7 159.2 880.2 Q158.2 881.7 156.7 881.4 Q155.2 881.0 154.0 880.0 Q152.9 878.9 152.6 877.4 Q152.4 875.9 152.2 873.5 Q151.9 871.2 152.6 869.7 Q153.4 868.2 155.0 867.9 Q156.6 867.6 157.6 868.3 Q158.6 869.1 160.3 870.2 Q162.0 871.3 161.4 873.6 Q160.9 875.9 160.5 877.3 Z" fill="#dfbaae"/>
<g clip-path="url(#t31)"><g filter="url(#blt)">
<circle cx="156.3" cy="872.3" r="1.8" fill="#f0ddd0" opacity="0.68"/>
<circle cx="156.5" cy="868.7" r="1.7" fill="#ecd2c6" opacity="0.62"/>
<circle cx="156.7" cy="874.7" r="2.1" fill="#c88078" opacity="0.71"/>
<circle cx="154.5" cy="878.0" r="1.6" fill="#b85a58" opacity="0.72"/>
<circle cx="158.2" cy="878.8" r="1.8" fill="#f2e2d6" opacity="0.66"/>
<circle cx="153.7" cy="874.1" r="1.7" fill="#ecd2c6" opacity="0.87"/>
<circle cx="157.5" cy="870.8" r="2.1" fill="#c88078" opacity="0.67"/>
<circle cx="154.0" cy="871.9" r="2.3" fill="#f2e2d6" opacity="0.66"/>
<circle cx="155.4" cy="879.5" r="1.2" fill="#ecd2c6" opacity="0.91"/>
<circle cx="155.4" cy="871.7" r="1.4" fill="#d39a90" opacity="0.66"/>
</g></g>
<clipPath id="t32"><path d="M194.0 876.9 Q194.2 878.9 192.8 880.0 Q191.5 881.2 189.8 880.9 Q188.1 880.7 186.9 879.3 Q185.8 877.9 184.7 876.5 Q183.6 875.1 184.2 873.9 Q184.8 872.7 185.4 870.7 Q185.9 868.6 187.8 868.9 Q189.7 869.3 191.1 868.7 Q192.4 868.1 193.5 869.6 Q194.5 871.2 194.2 873.1 Q193.9 874.9 194.0 876.9 Z"/></clipPath>
<path d="M194.0 876.9 Q194.2 878.9 192.8 880.0 Q191.5 881.2 189.8 880.9 Q188.1 880.7 186.9 879.3 Q185.8 877.9 184.7 876.5 Q183.6 875.1 184.2 873.9 Q184.8 872.7 185.4 870.7 Q185.9 868.6 187.8 868.9 Q189.7 869.3 191.1 868.7 Q192.4 868.1 193.5 869.6 Q194.5 871.2 194.2 873.1 Q193.9 874.9 194.0 876.9 Z" fill="#e4c4b6"/>
<g clip-path="url(#t32)"><g filter="url(#blt)">
<circle cx="186.5" cy="871.7" r="1.7" fill="#d8a69c" opacity="0.92"/>
<circle cx="186.0" cy="876.8" r="2.1" fill="#d8a69c" opacity="0.66"/>
<circle cx="186.3" cy="877.5" r="1.5" fill="#c88078" opacity="0.94"/>
<circle cx="189.4" cy="875.2" r="2.4" fill="#f2e2d6" opacity="0.79"/>
<circle cx="188.2" cy="875.8" r="2.6" fill="#ecd2c6" opacity="0.88"/>
<circle cx="188.2" cy="869.6" r="2.2" fill="#c88078" opacity="0.70"/>
<circle cx="190.3" cy="873.0" r="1.3" fill="#f2e2d6" opacity="0.80"/>
<circle cx="188.9" cy="875.2" r="1.9" fill="#d8a69c" opacity="0.64"/>
<circle cx="191.7" cy="873.8" r="1.1" fill="#d39a90" opacity="0.62"/>
<circle cx="193.9" cy="875.0" r="1.0" fill="#b85a58" opacity="0.92"/>
</g></g>
<clipPath id="t33"><path d="M226.5 876.3 Q226.0 877.2 225.3 878.6 Q224.7 879.9 223.3 879.4 Q221.8 878.8 220.4 879.0 Q219.1 879.2 218.6 877.6 Q218.1 876.0 218.4 874.3 Q218.6 872.6 219.3 871.7 Q220.0 870.7 221.3 870.1 Q222.6 869.5 224.4 869.6 Q226.2 869.8 226.4 870.9 Q226.6 872.1 226.8 873.8 Q227.1 875.5 226.5 876.3 Z"/></clipPath>
<path d="M226.5 876.3 Q226.0 877.2 225.3 878.6 Q224.7 879.9 223.3 879.4 Q221.8 878.8 220.4 879.0 Q219.1 879.2 218.6 877.6 Q218.1 876.0 218.4 874.3 Q218.6 872.6 219.3 871.7 Q220.0 870.7 221.3 870.1 Q222.6 869.5 224.4 869.6 Q226.2 869.8 226.4 870.9 Q226.6 872.1 226.8 873.8 Q227.1 875.5 226.5 876.3 Z" fill="#dfbaae"/>
<g clip-path="url(#t33)"><g filter="url(#blt)">
<circle cx="225.4" cy="875.0" r="2.0" fill="#d8a69c" opacity="0.90"/>
<circle cx="222.5" cy="875.6" r="2.0" fill="#d8a69c" opacity="0.87"/>
<circle cx="220.9" cy="872.6" r="1.8" fill="#f0ddd0" opacity="0.63"/>
<circle cx="225.3" cy="872.8" r="1.5" fill="#d39a90" opacity="0.77"/>
<circle cx="221.1" cy="872.3" r="1.0" fill="#c88078" opacity="0.68"/>
<circle cx="222.6" cy="876.3" r="1.9" fill="#ecd2c6" opacity="0.89"/>
<circle cx="222.8" cy="872.2" r="1.6" fill="#f2e2d6" opacity="0.75"/>
<circle cx="224.9" cy="871.4" r="2.2" fill="#f0ddd0" opacity="0.88"/>
<circle cx="221.9" cy="875.5" r="2.1" fill="#b85a58" opacity="0.83"/>
<circle cx="222.4" cy="875.7" r="1.9" fill="#ecd2c6" opacity="0.56"/>
</g></g>
<clipPath id="t34"><path d="M258.6 876.7 Q258.2 878.3 257.0 879.4 Q255.8 880.5 254.3 880.4 Q252.7 880.2 251.4 879.4 Q250.2 878.7 249.4 877.1 Q248.6 875.5 248.9 873.6 Q249.2 871.7 250.3 871.0 Q251.4 870.4 252.7 869.7 Q254.1 869.0 255.3 869.0 Q256.5 869.0 258.1 870.5 Q259.6 872.0 259.3 873.5 Q259.0 875.1 258.6 876.7 Z"/></clipPath>
<path d="M258.6 876.7 Q258.2 878.3 257.0 879.4 Q255.8 880.5 254.3 880.4 Q252.7 880.2 251.4 879.4 Q250.2 878.7 249.4 877.1 Q248.6 875.5 248.9 873.6 Q249.2 871.7 250.3 871.0 Q251.4 870.4 252.7 869.7 Q254.1 869.0 255.3 869.0 Q256.5 869.0 258.1 870.5 Q259.6 872.0 259.3 873.5 Q259.0 875.1 258.6 876.7 Z" fill="#e4c4b6"/>
<g clip-path="url(#t34)"><g filter="url(#blt)">
<circle cx="251.3" cy="877.3" r="2.1" fill="#f2e2d6" opacity="0.95"/>
<circle cx="254.2" cy="875.4" r="1.1" fill="#d8a69c" opacity="0.88"/>
<circle cx="253.7" cy="874.7" r="1.9" fill="#f0ddd0" opacity="0.59"/>
<circle cx="253.8" cy="869.9" r="1.8" fill="#f2e2d6" opacity="0.71"/>
<circle cx="252.8" cy="877.5" r="1.6" fill="#f0ddd0" opacity="0.78"/>
<circle cx="256.0" cy="872.4" r="0.9" fill="#ecd2c6" opacity="0.79"/>
<circle cx="254.5" cy="875.4" r="2.3" fill="#d39a90" opacity="0.77"/>
<circle cx="250.1" cy="875.0" r="0.9" fill="#d39a90" opacity="0.61"/>
<circle cx="253.6" cy="876.5" r="2.1" fill="#b85a58" opacity="0.82"/>
<circle cx="252.8" cy="870.0" r="1.7" fill="#d39a90" opacity="0.61"/>
</g></g>
<line x1="256.70" y1="886.40" x2="266.60" y2="886.40" stroke="#fff" stroke-width="0.9" />
<text x="261.60" y="885.00" font-size="2" text-anchor="middle" fill="#fff" >1 cm</text>
<text x="64.20" y="802.00" font-size="6" text-anchor="middle" fill="#000" font-weight="700" >IgG</text>
<text x="58.50" y="827.60" font-size="6" text-anchor="middle" fill="#000" font-weight="700" >anti-PD-1</text>
<text x="64.20" y="852.20" font-size="6" text-anchor="middle" fill="#000" font-weight="700" >IgG</text>
<text x="58.50" y="876.80" font-size="6" text-anchor="middle" fill="#000" font-weight="700" >anti-PD-1</text>
<text x="22.50" y="815.00" font-size="6" text-anchor="middle" fill="#000" font-weight="700" >Placebo</text>
<text x="18.40" y="860.00" font-size="6" text-anchor="middle" fill="#000" font-weight="700" >Arachidonic</text>
<text x="18.80" y="867.80" font-size="6" text-anchor="middle" fill="#000" font-weight="700" >acid</text>
<line x1="39.70" y1="795.70" x2="39.70" y2="830.40" stroke="#000" stroke-width="0.9" />
<line x1="39.70" y1="844.70" x2="39.70" y2="878.70" stroke="#000" stroke-width="0.9" />
<text x="58.50" y="899.20" font-size="6" text-anchor="middle" fill="#000" font-weight="700" >Samples</text>
<text x="83.80" y="899.40" font-size="6" text-anchor="middle" fill="#000" font-weight="700" >#</text>
<text x="96.10" y="899.40" font-size="6" text-anchor="middle" fill="#000" font-weight="700" >1</text>
<text x="127.60" y="899.40" font-size="6" text-anchor="middle" fill="#000" font-weight="700" >2</text>
<text x="158.20" y="899.40" font-size="6" text-anchor="middle" fill="#000" font-weight="700" >3</text>
<text x="191.30" y="899.40" font-size="6" text-anchor="middle" fill="#000" font-weight="700" >4</text>
<text x="224.00" y="899.40" font-size="6" text-anchor="middle" fill="#000" font-weight="700" >5</text>
<text x="254.30" y="899.40" font-size="6" text-anchor="middle" fill="#000" font-weight="700" >6</text>
<text x="276.21" y="706.00" font-size="13.5" text-anchor="start" fill="#000" >p</text>
<line x1="315.60" y1="742.65" x2="315.60" y2="826.65" stroke="#000" stroke-width="1.1" />
<line x1="312.40" y1="826.10" x2="315.60" y2="826.10" stroke="#000" stroke-width="1.1" />
<text x="311.20" y="828.51" font-size="6.7" text-anchor="end" fill="#000" font-weight="700" >0</text>
<line x1="312.40" y1="798.45" x2="315.60" y2="798.45" stroke="#000" stroke-width="1.1" />
<text x="311.20" y="800.86" font-size="6.7" text-anchor="end" fill="#000" font-weight="700" >500</text>
<line x1="312.40" y1="770.80" x2="315.60" y2="770.80" stroke="#000" stroke-width="1.1" />
<text x="311.20" y="773.21" font-size="6.7" text-anchor="end" fill="#000" font-weight="700" >1000</text>
<line x1="312.40" y1="743.15" x2="315.60" y2="743.15" stroke="#000" stroke-width="1.1" />
<text x="311.20" y="745.56" font-size="6.7" text-anchor="end" fill="#000" font-weight="700" >1500</text>
<line x1="315.05" y1="826.10" x2="440.60" y2="826.10" stroke="#000" stroke-width="1.1" />
<line x1="326.70" y1="826.10" x2="326.70" y2="829.30" stroke="#000" stroke-width="1.1" />
<text x="326.70" y="836.70" font-size="6.7" text-anchor="middle" fill="#000" font-weight="700" >0</text>
<line x1="343.78" y1="826.10" x2="343.78" y2="829.30" stroke="#000" stroke-width="1.1" />
<text x="343.78" y="836.70" font-size="6.7" text-anchor="middle" fill="#000" font-weight="700" >2</text>
<line x1="360.86" y1="826.10" x2="360.86" y2="829.30" stroke="#000" stroke-width="1.1" />
<text x="360.86" y="836.70" font-size="6.7" text-anchor="middle" fill="#000" font-weight="700" >4</text>
<line x1="377.94" y1="826.10" x2="377.94" y2="829.30" stroke="#000" stroke-width="1.1" />
<text x="377.94" y="836.70" font-size="6.7" text-anchor="middle" fill="#000" font-weight="700" >6</text>
<line x1="395.02" y1="826.10" x2="395.02" y2="829.30" stroke="#000" stroke-width="1.1" />
<text x="395.02" y="836.70" font-size="6.7" text-anchor="middle" fill="#000" font-weight="700" >8</text>
<line x1="412.10" y1="826.10" x2="412.10" y2="829.30" stroke="#000" stroke-width="1.1" />
<text x="412.10" y="836.70" font-size="6.7" text-anchor="middle" fill="#000" font-weight="700" >10</text>
<line x1="429.18" y1="826.10" x2="429.18" y2="829.30" stroke="#000" stroke-width="1.1" />
<text x="429.18" y="836.70" font-size="6.7" text-anchor="middle" fill="#000" font-weight="700" >12</text>
<text x="377.80" y="849.40" font-size="7" text-anchor="middle" fill="#000" font-weight="700" >Days</text>
<text x="293.30" y="787.30" font-size="6.5" text-anchor="middle" fill="#000" font-weight="700" transform="rotate(-90 293.30 787.30)" >Tumor Volume (mm<tspan dy="-2.4" font-size="4.2">3</tspan><tspan dy="2.4">)</tspan></text>
<line x1="395.02" y1="820.40" x2="395.02" y2="823.60" stroke="#f9b97a" stroke-width="0.5" />
<line x1="393.02" y1="820.40" x2="397.02" y2="820.40" stroke="#f9b97a" stroke-width="0.5" />
<line x1="393.02" y1="823.60" x2="397.02" y2="823.60" stroke="#f9b97a" stroke-width="0.5" />
<line x1="412.10" y1="818.20" x2="412.10" y2="823.20" stroke="#f9b97a" stroke-width="0.5" />
<line x1="410.10" y1="818.20" x2="414.10" y2="818.20" stroke="#f9b97a" stroke-width="0.5" />
<line x1="410.10" y1="823.20" x2="414.10" y2="823.20" stroke="#f9b97a" stroke-width="0.5" />
<line x1="429.18" y1="813.90" x2="429.18" y2="819.70" stroke="#f9b97a" stroke-width="0.5" />
<line x1="427.18" y1="813.90" x2="431.18" y2="813.90" stroke="#f9b97a" stroke-width="0.5" />
<line x1="427.18" y1="819.70" x2="431.18" y2="819.70" stroke="#f9b97a" stroke-width="0.5" />
<polyline fill="none" stroke="#f9b97a" stroke-width="1" points="326.7,825.0 343.8,825.0 360.9,824.1 377.9,823.2 395.0,822.0 412.1,820.9 429.2,816.8"/>
<path d="M324.80 823.48 L328.60 823.48 L326.70 826.80 Z" fill="#f9b97a"/>
<path d="M341.88 823.48 L345.68 823.48 L343.78 826.80 Z" fill="#f9b97a"/>
<path d="M358.96 822.58 L362.76 822.58 L360.86 825.90 Z" fill="#f9b97a"/>
<path d="M376.04 821.68 L379.84 821.68 L377.94 825.00 Z" fill="#f9b97a"/>
<path d="M393.12 820.48 L396.92 820.48 L395.02 823.80 Z" fill="#f9b97a"/>
<path d="M410.20 819.38 L414.00 819.38 L412.10 822.70 Z" fill="#f9b97a"/>
<path d="M427.28 815.28 L431.08 815.28 L429.18 818.60 Z" fill="#f9b97a"/>
<line x1="377.94" y1="818.50" x2="377.94" y2="822.00" stroke="#bdf2bd" stroke-width="0.5" />
<line x1="375.94" y1="818.50" x2="379.94" y2="818.50" stroke="#bdf2bd" stroke-width="0.5" />
<line x1="375.94" y1="822.00" x2="379.94" y2="822.00" stroke="#bdf2bd" stroke-width="0.5" />
<line x1="395.02" y1="814.00" x2="395.02" y2="819.60" stroke="#bdf2bd" stroke-width="0.5" />
<line x1="393.02" y1="814.00" x2="397.02" y2="814.00" stroke="#bdf2bd" stroke-width="0.5" />
<line x1="393.02" y1="819.60" x2="397.02" y2="819.60" stroke="#bdf2bd" stroke-width="0.5" />
<line x1="412.10" y1="810.40" x2="412.10" y2="816.20" stroke="#bdf2bd" stroke-width="0.5" />
<line x1="410.10" y1="810.40" x2="414.10" y2="810.40" stroke="#bdf2bd" stroke-width="0.5" />
<line x1="410.10" y1="816.20" x2="414.10" y2="816.20" stroke="#bdf2bd" stroke-width="0.5" />
<line x1="429.18" y1="802.80" x2="429.18" y2="812.40" stroke="#bdf2bd" stroke-width="0.5" />
<line x1="427.18" y1="802.80" x2="431.18" y2="802.80" stroke="#bdf2bd" stroke-width="0.5" />
<line x1="427.18" y1="812.40" x2="431.18" y2="812.40" stroke="#bdf2bd" stroke-width="0.5" />
<polyline fill="none" stroke="#bdf2bd" stroke-width="1" points="326.7,825.0 343.8,824.5 360.9,822.6 377.9,820.3 395.0,816.8 412.1,813.3 429.2,807.4"/>
<path d="M324.80 826.52 L328.60 826.52 L326.70 823.20 Z" fill="#bdf2bd"/>
<path d="M341.88 826.02 L345.68 826.02 L343.78 822.70 Z" fill="#bdf2bd"/>
<path d="M358.96 824.12 L362.76 824.12 L360.86 820.80 Z" fill="#bdf2bd"/>
<path d="M376.04 821.82 L379.84 821.82 L377.94 818.50 Z" fill="#bdf2bd"/>
<path d="M393.12 818.32 L396.92 818.32 L395.02 815.00 Z" fill="#bdf2bd"/>
<path d="M410.20 814.82 L414.00 814.82 L412.10 811.50 Z" fill="#bdf2bd"/>
<path d="M427.28 808.92 L431.08 808.92 L429.18 805.60 Z" fill="#bdf2bd"/>
<line x1="360.86" y1="817.80" x2="360.86" y2="820.80" stroke="#1c96b2" stroke-width="0.5" />
<line x1="358.86" y1="817.80" x2="362.86" y2="817.80" stroke="#1c96b2" stroke-width="0.5" />
<line x1="358.86" y1="820.80" x2="362.86" y2="820.80" stroke="#1c96b2" stroke-width="0.5" />
<line x1="377.94" y1="806.00" x2="377.94" y2="817.20" stroke="#1c96b2" stroke-width="0.5" />
<line x1="375.94" y1="806.00" x2="379.94" y2="806.00" stroke="#1c96b2" stroke-width="0.5" />
<line x1="375.94" y1="817.20" x2="379.94" y2="817.20" stroke="#1c96b2" stroke-width="0.5" />
<line x1="395.02" y1="797.80" x2="395.02" y2="811.00" stroke="#1c96b2" stroke-width="0.5" />
<line x1="393.02" y1="797.80" x2="397.02" y2="797.80" stroke="#1c96b2" stroke-width="0.5" />
<line x1="393.02" y1="811.00" x2="397.02" y2="811.00" stroke="#1c96b2" stroke-width="0.5" />
<line x1="412.10" y1="783.00" x2="412.10" y2="806.00" stroke="#1c96b2" stroke-width="0.5" />
<line x1="410.10" y1="783.00" x2="414.10" y2="783.00" stroke="#1c96b2" stroke-width="0.5" />
<line x1="410.10" y1="806.00" x2="414.10" y2="806.00" stroke="#1c96b2" stroke-width="0.5" />
<line x1="429.18" y1="760.70" x2="429.18" y2="786.70" stroke="#1c96b2" stroke-width="0.5" />
<line x1="427.18" y1="760.70" x2="431.18" y2="760.70" stroke="#1c96b2" stroke-width="0.5" />
<line x1="427.18" y1="786.70" x2="431.18" y2="786.70" stroke="#1c96b2" stroke-width="0.5" />
<polyline fill="none" stroke="#1c96b2" stroke-width="1" points="326.7,825.0 343.8,824.1 360.9,819.3 377.9,811.7 395.0,804.5 412.1,794.2 429.2,773.6"/>
<rect x="325.00" y="823.30" width="3.40" height="3.40" fill="#1c96b2" stroke="none" stroke-width="1" />
<rect x="342.08" y="822.40" width="3.40" height="3.40" fill="#1c96b2" stroke="none" stroke-width="1" />
<rect x="359.16" y="817.60" width="3.40" height="3.40" fill="#1c96b2" stroke="none" stroke-width="1" />
<rect x="376.24" y="810.00" width="3.40" height="3.40" fill="#1c96b2" stroke="none" stroke-width="1" />
<rect x="393.32" y="802.80" width="3.40" height="3.40" fill="#1c96b2" stroke="none" stroke-width="1" />
<rect x="410.40" y="792.50" width="3.40" height="3.40" fill="#1c96b2" stroke="none" stroke-width="1" />
<rect x="427.48" y="771.90" width="3.40" height="3.40" fill="#1c96b2" stroke="none" stroke-width="1" />
<line x1="360.86" y1="817.50" x2="360.86" y2="820.80" stroke="#b9b9fa" stroke-width="0.5" />
<line x1="358.86" y1="817.50" x2="362.86" y2="817.50" stroke="#b9b9fa" stroke-width="0.5" />
<line x1="358.86" y1="820.80" x2="362.86" y2="820.80" stroke="#b9b9fa" stroke-width="0.5" />
<line x1="377.94" y1="805.00" x2="377.94" y2="817.40" stroke="#b9b9fa" stroke-width="0.5" />
<line x1="375.94" y1="805.00" x2="379.94" y2="805.00" stroke="#b9b9fa" stroke-width="0.5" />
<line x1="375.94" y1="817.40" x2="379.94" y2="817.40" stroke="#b9b9fa" stroke-width="0.5" />
<line x1="395.02" y1="794.90" x2="395.02" y2="813.90" stroke="#b9b9fa" stroke-width="0.5" />
<line x1="393.02" y1="794.90" x2="397.02" y2="794.90" stroke="#b9b9fa" stroke-width="0.5" />
<line x1="393.02" y1="813.90" x2="397.02" y2="813.90" stroke="#b9b9fa" stroke-width="0.5" />
<line x1="412.10" y1="781.20" x2="412.10" y2="807.40" stroke="#b9b9fa" stroke-width="0.5" />
<line x1="410.10" y1="781.20" x2="414.10" y2="781.20" stroke="#b9b9fa" stroke-width="0.5" />
<line x1="410.10" y1="807.40" x2="414.10" y2="807.40" stroke="#b9b9fa" stroke-width="0.5" />
<line x1="429.18" y1="761.30" x2="429.18" y2="786.10" stroke="#b9b9fa" stroke-width="0.5" />
<line x1="427.18" y1="761.30" x2="431.18" y2="761.30" stroke="#b9b9fa" stroke-width="0.5" />
<line x1="427.18" y1="786.10" x2="431.18" y2="786.10" stroke="#b9b9fa" stroke-width="0.5" />
<polyline fill="none" stroke="#b9b9fa" stroke-width="1" points="326.7,825.0 343.8,824.1 360.9,819.1 377.9,811.5 395.0,802.8 412.1,794.0 429.2,775.3"/>
<circle cx="326.70" cy="825.00" r="1.90" fill="#b9b9fa" stroke="none" stroke-width="0" />
<circle cx="343.78" cy="824.10" r="1.90" fill="#b9b9fa" stroke="none" stroke-width="0" />
<circle cx="360.86" cy="819.10" r="1.90" fill="#b9b9fa" stroke="none" stroke-width="0" />
<circle cx="377.94" cy="811.50" r="1.90" fill="#b9b9fa" stroke="none" stroke-width="0" />
<circle cx="395.02" cy="802.80" r="1.90" fill="#b9b9fa" stroke="none" stroke-width="0" />
<circle cx="412.10" cy="794.00" r="1.90" fill="#b9b9fa" stroke="none" stroke-width="0" />
<circle cx="429.18" cy="775.30" r="1.90" fill="#b9b9fa" stroke="none" stroke-width="0" />
<line x1="325.70" y1="716.80" x2="335.50" y2="716.80" stroke="#b9b9fa" stroke-width="0.9" />
<circle cx="330.80" cy="716.80" r="1.80" fill="#b9b9fa" stroke="none" stroke-width="0" />
<text x="339.90" y="719.20" font-size="6.9" text-anchor="start" fill="#000" >IgG</text>
<line x1="325.70" y1="727.80" x2="335.50" y2="727.80" stroke="#1c96b2" stroke-width="0.9" />
<rect x="329.20" y="726.20" width="3.20" height="3.20" fill="#1c96b2" stroke="none" stroke-width="1" />
<text x="339.90" y="730.20" font-size="6.9" text-anchor="start" fill="#000" >anti-PD-1</text>
<line x1="325.70" y1="739.20" x2="335.50" y2="739.20" stroke="#bdf2bd" stroke-width="0.9" />
<path d="M329.00 740.64 L332.60 740.64 L330.80 737.49 Z" fill="#bdf2bd"/>
<text x="339.90" y="741.60" font-size="6.9" text-anchor="start" fill="#000" >AA</text>
<line x1="325.70" y1="750.20" x2="335.50" y2="750.20" stroke="#f9b97a" stroke-width="0.9" />
<path d="M329.00 748.76 L332.60 748.76 L330.80 751.91 Z" fill="#f9b97a"/>
<text x="339.90" y="752.60" font-size="6.9" text-anchor="start" fill="#000" >AA&amp;anti-PD-1</text>
<polyline fill="none" stroke="#333" stroke-width="0.9" points="355.7,716.8 378.2,716.8 378.2,727.7 371.8,727.7"/>
<polyline fill="none" stroke="#333" stroke-width="0.9" points="354.2,739.4 389.7,739.4 389.7,727.7 386.4,727.7"/>
<polyline fill="none" stroke="#333" stroke-width="0.9" points="385.3,750.2 400.7,750.2 400.7,739.4 396.8,739.4"/>
<polyline fill="none" stroke="#333" stroke-width="0.9" points="398.2,727.7 412.2,727.7 412.2,750.2 408.9,750.2"/>
<polyline fill="none" stroke="#333" stroke-width="0.9" points="386.4,716.8 423.7,716.8 423.7,739.6 420.9,739.6"/>
<polyline fill="none" stroke="#333" stroke-width="0.9" points="427.5,716.4 433.2,716.4 433.2,750.2 414.9,750.2"/>
<text x="380.80" y="722.50" font-size="3.7" text-anchor="middle" fill="#333" transform="rotate(90 380.80 722.50)" >p=0.9999</text>
<text x="392.30" y="733.00" font-size="3.7" text-anchor="middle" fill="#333" transform="rotate(90 392.30 733.00)" >p&lt;0.0001</text>
<text x="403.80" y="744.70" font-size="3.7" text-anchor="middle" fill="#333" transform="rotate(90 403.80 744.70)" >p=0.0005</text>
<text x="415.30" y="739.20" font-size="3.7" text-anchor="middle" fill="#333" transform="rotate(90 415.30 739.20)" >p&lt;0.0001</text>
<text x="426.50" y="728.00" font-size="3.7" text-anchor="middle" fill="#333" transform="rotate(90 426.50 728.00)" >p&lt;0.0001</text>
<text x="436.10" y="733.00" font-size="3.7" text-anchor="middle" fill="#333" transform="rotate(90 436.10 733.00)" >p&lt;0.0001</text>
<text x="451.83" y="706.00" font-size="13.5" text-anchor="start" fill="#000" >q</text>
<line x1="488.00" y1="741.75" x2="488.00" y2="825.75" stroke="#000" stroke-width="1.1" />
<line x1="484.80" y1="742.30" x2="488.00" y2="742.30" stroke="#000" stroke-width="1.1" />
<text x="483.60" y="744.60" font-size="6.4" text-anchor="end" fill="#000" font-weight="700" >6000</text>
<line x1="484.80" y1="769.90" x2="488.00" y2="769.90" stroke="#000" stroke-width="1.1" />
<text x="483.60" y="772.20" font-size="6.4" text-anchor="end" fill="#000" font-weight="700" >4000</text>
<line x1="484.80" y1="797.50" x2="488.00" y2="797.50" stroke="#000" stroke-width="1.1" />
<text x="483.60" y="799.80" font-size="6.4" text-anchor="end" fill="#000" font-weight="700" >2000</text>
<line x1="484.80" y1="825.20" x2="488.00" y2="825.20" stroke="#000" stroke-width="1.1" />
<text x="483.60" y="827.50" font-size="6.4" text-anchor="end" fill="#000" font-weight="700" >0</text>
<line x1="487.45" y1="825.20" x2="571.50" y2="825.20" stroke="#000" stroke-width="1.1" />
<line x1="500.90" y1="825.20" x2="500.90" y2="828.60" stroke="#000" stroke-width="1.1" />
<line x1="520.30" y1="825.20" x2="520.30" y2="828.60" stroke="#000" stroke-width="1.1" />
<line x1="539.50" y1="825.20" x2="539.50" y2="828.60" stroke="#000" stroke-width="1.1" />
<line x1="558.50" y1="825.20" x2="558.50" y2="828.60" stroke="#000" stroke-width="1.1" />
<text x="501.00" y="837.20" font-size="5.8" text-anchor="middle" fill="#000" font-weight="700" >IgG</text>
<text x="523.70" y="832.20" font-size="5.9" font-weight="700" text-anchor="end" transform="rotate(-45 523.70 832.20)">anti-PD-1</text>
<text x="539.60" y="837.20" font-size="5.8" text-anchor="middle" fill="#000" font-weight="700" >IgG</text>
<text x="561.90" y="832.20" font-size="5.9" font-weight="700" text-anchor="end" transform="rotate(-45 561.90 832.20)">anti-PD-1</text>
<text x="466.00" y="782.90" font-size="6.85" text-anchor="middle" fill="#000" font-weight="700" transform="rotate(-90 466.00 782.90)" >% change in Tumor Volume</text>
<line x1="494.90" y1="852.20" x2="524.90" y2="852.20" stroke="#111" stroke-width="1.0" />
<line x1="534.90" y1="852.20" x2="563.90" y2="852.20" stroke="#111" stroke-width="1.0" />
<text x="509.90" y="859.20" font-size="6.1" text-anchor="middle" fill="#000" font-weight="700" >Placebo</text>
<text x="549.30" y="859.20" font-size="6.1" text-anchor="middle" fill="#000" font-weight="700" >AA</text>
<text x="529.30" y="705.80" font-size="4.1" text-anchor="middle" fill="#333" >p&lt;0.0001</text>
<line x1="500.90" y1="709.20" x2="558.50" y2="709.20" stroke="#222" stroke-width="0.9" />
<text x="538.90" y="716.40" font-size="4.1" text-anchor="middle" fill="#333" >p&lt;0.0001</text>
<line x1="520.30" y1="719.40" x2="558.50" y2="719.40" stroke="#8a8a8a" stroke-width="0.7" />
<text x="519.90" y="727.40" font-size="4.1" text-anchor="middle" fill="#333" >p&lt;0.0001</text>
<line x1="500.90" y1="730.40" x2="539.50" y2="730.40" stroke="#222" stroke-width="0.9" />
<text x="510.30" y="738.90" font-size="4.1" text-anchor="middle" fill="#333" >p=0.9271</text>
<line x1="500.90" y1="742.30" x2="520.30" y2="742.30" stroke="#222" stroke-width="0.9" />
<text x="548.70" y="789.50" font-size="4.1" text-anchor="middle" fill="#333" >p=0.2863</text>
<line x1="539.50" y1="792.70" x2="558.50" y2="792.70" stroke="#8a8a8a" stroke-width="0.9" />
<line x1="500.90" y1="758.90" x2="500.90" y2="782.90" stroke="#b9b9fa" stroke-width="0.7" />
<line x1="497.90" y1="758.90" x2="503.90" y2="758.90" stroke="#b9b9fa" stroke-width="0.7" />
<line x1="497.90" y1="782.90" x2="503.90" y2="782.90" stroke="#b9b9fa" stroke-width="0.7" />
<line x1="494.90" y1="770.50" x2="506.90" y2="770.50" stroke="#b9b9fa" stroke-width="0.8" />
<circle cx="500.90" cy="755.90" r="1.60" fill="#b9b9fa" stroke="none" stroke-width="0" />
<circle cx="500.90" cy="759.50" r="1.60" fill="#b9b9fa" stroke="none" stroke-width="0" />
<circle cx="500.90" cy="767.50" r="1.60" fill="#b9b9fa" stroke="none" stroke-width="0" />
<circle cx="497.90" cy="773.90" r="1.60" fill="#b9b9fa" stroke="none" stroke-width="0" />
<circle cx="503.90" cy="773.90" r="1.60" fill="#b9b9fa" stroke="none" stroke-width="0" />
<circle cx="500.90" cy="790.50" r="1.60" fill="#b9b9fa" stroke="none" stroke-width="0" />
<line x1="520.30" y1="753.30" x2="520.30" y2="781.50" stroke="#1c96b2" stroke-width="0.7" />
<line x1="517.30" y1="753.30" x2="523.30" y2="753.30" stroke="#1c96b2" stroke-width="0.7" />
<line x1="517.30" y1="781.50" x2="523.30" y2="781.50" stroke="#1c96b2" stroke-width="0.7" />
<line x1="514.30" y1="767.30" x2="526.50" y2="767.30" stroke="#1c96b2" stroke-width="0.8" />
<rect x="522.00" y="746.40" width="3.00" height="3.00" fill="#1c96b2" stroke="none" stroke-width="1" />
<rect x="515.60" y="750.40" width="3.00" height="3.00" fill="#1c96b2" stroke="none" stroke-width="1" />
<rect x="515.60" y="768.80" width="3.00" height="3.00" fill="#1c96b2" stroke="none" stroke-width="1" />
<rect x="522.00" y="773.00" width="3.00" height="3.00" fill="#1c96b2" stroke="none" stroke-width="1" />
<rect x="515.60" y="776.80" width="3.00" height="3.00" fill="#1c96b2" stroke="none" stroke-width="1" />
<rect x="522.00" y="780.00" width="3.00" height="3.00" fill="#1c96b2" stroke="none" stroke-width="1" />
<line x1="539.50" y1="799.90" x2="539.50" y2="809.50" stroke="#bdf2bd" stroke-width="0.7" />
<line x1="536.50" y1="799.90" x2="542.50" y2="799.90" stroke="#bdf2bd" stroke-width="0.7" />
<line x1="536.50" y1="809.50" x2="542.50" y2="809.50" stroke="#bdf2bd" stroke-width="0.7" />
<line x1="533.50" y1="804.90" x2="545.50" y2="804.90" stroke="#bdf2bd" stroke-width="0.8" />
<path d="M537.80 800.86 L541.20 800.86 L539.50 797.88 Z" fill="#bdf2bd"/>
<path d="M534.20 804.86 L537.60 804.86 L535.90 801.88 Z" fill="#bdf2bd"/>
<path d="M537.80 805.66 L541.20 805.66 L539.50 802.68 Z" fill="#bdf2bd"/>
<path d="M540.80 806.26 L544.20 806.26 L542.50 803.28 Z" fill="#bdf2bd"/>
<path d="M541.80 808.86 L545.20 808.86 L543.50 805.88 Z" fill="#bdf2bd"/>
<path d="M537.80 813.66 L541.20 813.66 L539.50 810.68 Z" fill="#bdf2bd"/>
<line x1="558.50" y1="812.30" x2="558.50" y2="818.90" stroke="#f9b97a" stroke-width="0.7" />
<line x1="555.50" y1="812.30" x2="561.50" y2="812.30" stroke="#f9b97a" stroke-width="0.7" />
<line x1="555.50" y1="818.90" x2="561.50" y2="818.90" stroke="#f9b97a" stroke-width="0.7" />
<line x1="552.50" y1="815.50" x2="564.50" y2="815.50" stroke="#f9b97a" stroke-width="0.8" />
<path d="M557.80 809.54 L561.20 809.54 L559.50 812.51 Z" fill="#f9b97a"/>
<path d="M555.20 811.14 L558.60 811.14 L556.90 814.12 Z" fill="#f9b97a"/>
<path d="M552.20 813.54 L555.60 813.54 L553.90 816.51 Z" fill="#f9b97a"/>
<path d="M556.20 814.54 L559.60 814.54 L557.90 817.51 Z" fill="#f9b97a"/>
<path d="M558.80 814.94 L562.20 814.94 L560.50 817.91 Z" fill="#f9b97a"/>
<path d="M561.20 816.94 L564.60 816.94 L562.90 819.91 Z" fill="#f9b97a"/>
<text x="580.81" y="706.60" font-size="13.5" text-anchor="start" fill="#000" >r</text>
<line x1="609.40" y1="738.75" x2="609.40" y2="824.95" stroke="#000" stroke-width="1.1" />
<line x1="606.20" y1="739.30" x2="609.40" y2="739.30" stroke="#000" stroke-width="1.1" />
<text x="605.00" y="741.60" font-size="6.4" text-anchor="end" fill="#000" font-weight="700" >3</text>
<line x1="606.20" y1="767.90" x2="609.40" y2="767.90" stroke="#000" stroke-width="1.1" />
<text x="605.00" y="770.20" font-size="6.4" text-anchor="end" fill="#000" font-weight="700" >2</text>
<line x1="606.20" y1="796.30" x2="609.40" y2="796.30" stroke="#000" stroke-width="1.1" />
<text x="605.00" y="798.60" font-size="6.4" text-anchor="end" fill="#000" font-weight="700" >1</text>
<line x1="606.20" y1="824.40" x2="609.40" y2="824.40" stroke="#000" stroke-width="1.1" />
<text x="605.00" y="826.70" font-size="6.4" text-anchor="end" fill="#000" font-weight="700" >0</text>
<line x1="608.85" y1="824.40" x2="686.00" y2="824.40" stroke="#000" stroke-width="1.1" />
<line x1="620.90" y1="824.40" x2="620.90" y2="827.80" stroke="#000" stroke-width="1.1" />
<line x1="638.30" y1="824.40" x2="638.30" y2="827.80" stroke="#000" stroke-width="1.1" />
<line x1="655.50" y1="824.40" x2="655.50" y2="827.80" stroke="#000" stroke-width="1.1" />
<line x1="672.90" y1="824.40" x2="672.90" y2="827.80" stroke="#000" stroke-width="1.1" />
<text x="621.00" y="836.40" font-size="5.8" text-anchor="middle" fill="#000" font-weight="700" >IgG</text>
<text x="641.70" y="831.40" font-size="5.9" font-weight="700" text-anchor="end" transform="rotate(-45 641.70 831.40)">anti-PD-1</text>
<text x="655.60" y="836.40" font-size="5.8" text-anchor="middle" fill="#000" font-weight="700" >IgG</text>
<text x="676.30" y="831.40" font-size="5.9" font-weight="700" text-anchor="end" transform="rotate(-45 676.30 831.40)">anti-PD-1</text>
<text x="598.60" y="781.40" font-size="6.2" text-anchor="middle" fill="#000" font-weight="700" transform="rotate(-90 598.60 781.40)" >Tumor Weight (g)</text>
<line x1="614.40" y1="852.20" x2="643.90" y2="852.20" stroke="#111" stroke-width="1.0" />
<line x1="650.30" y1="852.20" x2="679.50" y2="852.20" stroke="#111" stroke-width="1.0" />
<text x="629.30" y="859.20" font-size="6.1" text-anchor="middle" fill="#000" font-weight="700" >Placebo</text>
<text x="664.90" y="859.20" font-size="6.1" text-anchor="middle" fill="#000" font-weight="700" >AA</text>
<text x="646.50" y="728.80" font-size="4.1" text-anchor="middle" fill="#333" >p&lt;0.0001</text>
<line x1="620.90" y1="732.00" x2="672.90" y2="732.00" stroke="#8a8a8a" stroke-width="1.2" />
<text x="637.90" y="738.30" font-size="4.1" text-anchor="middle" fill="#333" >p=0.0002</text>
<line x1="620.90" y1="741.30" x2="655.50" y2="741.30" stroke="#222" stroke-width="0.9" />
<text x="629.50" y="748.30" font-size="4.1" text-anchor="middle" fill="#333" >p=0.8658</text>
<line x1="620.90" y1="751.10" x2="638.30" y2="751.10" stroke="#222" stroke-width="0.9" />
<text x="654.90" y="761.10" font-size="4.1" text-anchor="middle" fill="#333" >p&lt;0.0001</text>
<line x1="638.30" y1="764.10" x2="672.90" y2="764.10" stroke="#8a8a8a" stroke-width="1.0" />
<text x="663.90" y="788.70" font-size="4.1" text-anchor="middle" fill="#333" >p=0.0475</text>
<line x1="655.50" y1="791.50" x2="672.90" y2="791.50" stroke="#8a8a8a" stroke-width="0.9" />
<line x1="620.90" y1="764.30" x2="620.90" y2="787.30" stroke="#b9b9fa" stroke-width="0.7" />
<line x1="617.90" y1="764.30" x2="623.90" y2="764.30" stroke="#b9b9fa" stroke-width="0.7" />
<line x1="617.90" y1="787.30" x2="623.90" y2="787.30" stroke="#b9b9fa" stroke-width="0.7" />
<line x1="615.00" y1="775.90" x2="626.90" y2="775.90" stroke="#b9b9fa" stroke-width="0.8" />
<circle cx="620.90" cy="755.90" r="1.60" fill="#b9b9fa" stroke="none" stroke-width="0" />
<circle cx="620.90" cy="771.50" r="1.60" fill="#b9b9fa" stroke="none" stroke-width="0" />
<circle cx="617.50" cy="778.90" r="1.60" fill="#b9b9fa" stroke="none" stroke-width="0" />
<circle cx="623.50" cy="781.50" r="1.60" fill="#b9b9fa" stroke="none" stroke-width="0" />
<circle cx="620.90" cy="790.50" r="1.60" fill="#b9b9fa" stroke="none" stroke-width="0" />
<circle cx="620.50" cy="776.30" r="1.60" fill="#b9b9fa" stroke="none" stroke-width="0" />
<line x1="638.30" y1="769.50" x2="638.30" y2="787.90" stroke="#1c96b2" stroke-width="0.7" />
<line x1="635.30" y1="769.50" x2="641.30" y2="769.50" stroke="#1c96b2" stroke-width="0.7" />
<line x1="635.30" y1="787.90" x2="641.30" y2="787.90" stroke="#1c96b2" stroke-width="0.7" />
<line x1="632.50" y1="778.90" x2="643.90" y2="778.90" stroke="#1c96b2" stroke-width="0.8" />
<rect x="640.00" y="768.40" width="3.00" height="3.00" fill="#1c96b2" stroke="none" stroke-width="1" />
<rect x="634.00" y="770.00" width="3.00" height="3.00" fill="#1c96b2" stroke="none" stroke-width="1" />
<rect x="634.00" y="776.40" width="3.00" height="3.00" fill="#1c96b2" stroke="none" stroke-width="1" />
<rect x="640.00" y="777.80" width="3.00" height="3.00" fill="#1c96b2" stroke="none" stroke-width="1" />
<rect x="637.00" y="784.00" width="3.00" height="3.00" fill="#1c96b2" stroke="none" stroke-width="1" />
<rect x="636.60" y="789.40" width="3.00" height="3.00" fill="#1c96b2" stroke="none" stroke-width="1" />
<line x1="655.50" y1="795.90" x2="655.50" y2="801.90" stroke="#bdf2bd" stroke-width="0.7" />
<line x1="652.50" y1="795.90" x2="658.50" y2="795.90" stroke="#bdf2bd" stroke-width="0.7" />
<line x1="652.50" y1="801.90" x2="658.50" y2="801.90" stroke="#bdf2bd" stroke-width="0.7" />
<line x1="649.90" y1="798.90" x2="661.30" y2="798.90" stroke="#bdf2bd" stroke-width="0.8" />
<path d="M650.20 799.26 L653.60 799.26 L651.90 796.28 Z" fill="#bdf2bd"/>
<path d="M653.20 798.26 L656.60 798.26 L654.90 795.28 Z" fill="#bdf2bd"/>
<path d="M658.20 797.26 L661.60 797.26 L659.90 794.28 Z" fill="#bdf2bd"/>
<path d="M650.20 801.26 L653.60 801.26 L651.90 798.28 Z" fill="#bdf2bd"/>
<path d="M654.60 800.86 L658.00 800.86 L656.30 797.88 Z" fill="#bdf2bd"/>
<path d="M657.80 802.86 L661.20 802.86 L659.50 799.88 Z" fill="#bdf2bd"/>
<line x1="672.90" y1="806.90" x2="672.90" y2="813.90" stroke="#f9b97a" stroke-width="0.7" />
<line x1="669.90" y1="806.90" x2="675.90" y2="806.90" stroke="#f9b97a" stroke-width="0.7" />
<line x1="669.90" y1="813.90" x2="675.90" y2="813.90" stroke="#f9b97a" stroke-width="0.7" />
<line x1="666.90" y1="810.50" x2="678.90" y2="810.50" stroke="#f9b97a" stroke-width="0.8" />
<path d="M667.20 805.14 L670.60 805.14 L668.90 808.12 Z" fill="#f9b97a"/>
<path d="M675.20 805.14 L678.60 805.14 L676.90 808.12 Z" fill="#f9b97a"/>
<path d="M671.20 807.54 L674.60 807.54 L672.90 810.51 Z" fill="#f9b97a"/>
<path d="M667.20 809.94 L670.60 809.94 L668.90 812.91 Z" fill="#f9b97a"/>
<path d="M671.20 810.54 L674.60 810.54 L672.90 813.51 Z" fill="#f9b97a"/>
<path d="M675.20 812.94 L678.60 812.94 L676.90 815.91 Z" fill="#f9b97a"/>
</svg>
</body></html>
